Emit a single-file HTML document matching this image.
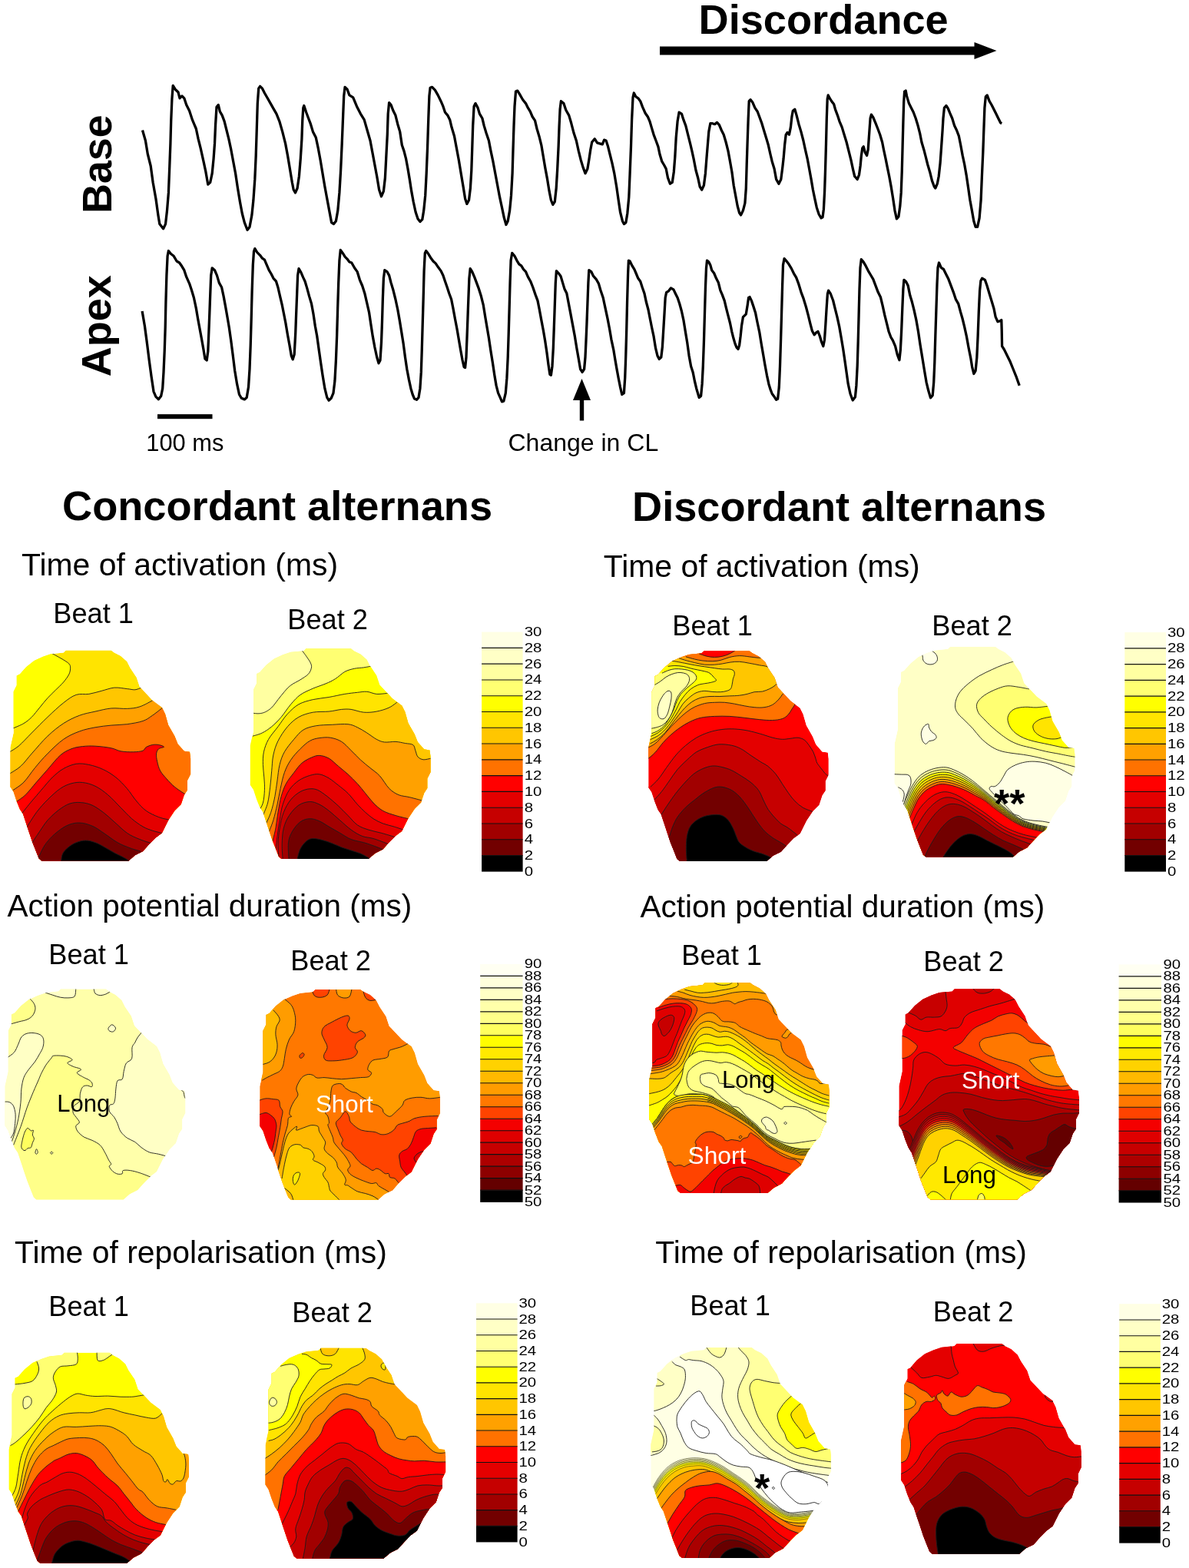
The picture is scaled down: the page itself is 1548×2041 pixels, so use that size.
<!DOCTYPE html>
<html lang="en"><head><meta charset="utf-8"><title>Concordant and discordant alternans</title>
<style>html,body{margin:0;padding:0;background:#fff}svg{display:block}text{font-family:"Liberation Sans",sans-serif;fill:#000}</style></head><body>
<svg width="1548" height="2041" viewBox="0 0 1548 2041">
<rect width="1548" height="2041" fill="#fff"/>
<clipPath id="clip0"><path d="M85.8 846.5L144.7 846.5L148.8 849.6L157.1 853.8L165.4 861.0L169.5 869.3L177.8 881.7L181.9 894.1L198.4 911.7L210.9 921.0L215.0 929.2L219.1 943.7L227.4 958.2L231.5 968.5L239.8 977.8L247.0 978.8L248.1 987.1L248.1 1007.8L243.9 1016.0L243.9 1028.4L239.8 1034.7L235.7 1047.1L227.4 1055.3L219.1 1067.7L210.9 1084.3L202.6 1090.5L194.3 1098.7L186.0 1108.0L175.7 1113.2L167.4 1120.4L54.2 1120.4L50.6 1117.3L46.5 1107.0L42.4 1096.7L38.2 1084.3L34.1 1071.9L30.0 1059.5L25.8 1053.3L21.7 1042.9L17.6 1030.5L13.4 1024.3L13.4 972.6L17.6 954.0L17.6 900.3L21.7 892.0L21.7 879.6L25.8 877.5L34.1 868.2L44.4 860.0L55.8 854.8L66.1 851.3L82.7 849.6Z"/></clipPath>
<g clip-path="url(#clip0)">
<path d="M85.8 846.5L144.7 846.5L148.8 849.6L157.1 853.8L165.4 861.0L169.5 869.3L177.8 881.7L181.9 894.1L198.4 911.7L210.9 921.0L215.0 929.2L219.1 943.7L227.4 958.2L231.5 968.5L239.8 977.8L247.0 978.8L248.1 987.1L248.1 1007.8L243.9 1016.0L243.9 1028.4L239.8 1034.7L235.7 1047.1L227.4 1055.3L219.1 1067.7L210.9 1084.3L202.6 1090.5L194.3 1098.7L186.0 1108.0L175.7 1113.2L167.4 1120.4L54.2 1120.4L50.6 1117.3L46.5 1107.0L42.4 1096.7L38.2 1084.3L34.1 1071.9L30.0 1059.5L25.8 1053.3L21.7 1042.9L17.6 1030.5L13.4 1024.3L13.4 972.6L17.6 954.0L17.6 900.3L21.7 892.0L21.7 879.6L25.8 877.5L34.1 868.2L44.4 860.0L55.8 854.8L66.1 851.3L82.7 849.6Z" fill="#ffe400"/>
<path d="M66.1 849.6C68.9 851.2 78.7 856.5 82.7 858.9C86.6 861.4 88.4 862.4 89.9 864.1C91.4 865.8 91.6 867.0 91.6 869.3C91.6 871.5 91.4 874.4 89.9 877.5C88.4 880.6 85.6 884.4 82.7 887.9C79.8 891.3 75.8 894.8 72.4 898.2C68.9 901.7 65.5 904.8 62.0 908.6C58.6 912.3 55.1 916.8 51.7 921.0C48.2 925.1 44.8 929.9 41.3 933.4C37.9 936.8 35.1 939.1 31.0 941.6C26.9 944.1 18.9 947.1 16.5 948.2L-4000.0 948.2L-4000.0 -4000.0L66.1 -4000.0Z" fill="#ffff00"/>
<path d="M66.1 849.6C68.9 851.2 78.7 856.5 82.7 858.9C86.6 861.4 88.4 862.4 89.9 864.1C91.4 865.8 91.6 867.0 91.6 869.3C91.6 871.5 91.4 874.4 89.9 877.5C88.4 880.6 85.6 884.4 82.7 887.9C79.8 891.3 75.8 894.8 72.4 898.2C68.9 901.7 65.5 904.8 62.0 908.6C58.6 912.3 55.1 916.8 51.7 921.0C48.2 925.1 44.8 929.9 41.3 933.4C37.9 936.8 35.1 939.1 31.0 941.6C26.9 944.1 18.9 947.1 16.5 948.2" fill="none" stroke="#1c1c1c" stroke-width="0.9"/>
<path d="M12.4 978.8C14.5 977.5 20.0 974.7 24.8 970.6C29.6 966.4 35.1 960.2 41.3 954.0C47.5 947.8 55.1 939.9 62.0 933.4C68.9 926.8 76.5 919.6 82.7 914.8C88.9 909.9 93.7 906.3 99.2 904.4C104.7 902.5 110.2 904.2 115.8 903.4C121.3 902.5 126.8 900.6 132.3 899.3C137.8 897.9 143.3 895.6 148.8 895.1C154.3 894.7 160.9 896.1 165.4 896.6C169.9 897.0 172.6 898.0 175.7 897.8C178.8 897.6 182.6 895.6 184.0 895.1L4000.0 895.1L4000.0 4000.0L-4000.0 4000.0L-4000.0 978.8Z" fill="#ffc600"/>
<path d="M12.4 978.8C14.5 977.5 20.0 974.7 24.8 970.6C29.6 966.4 35.1 960.2 41.3 954.0C47.5 947.8 55.1 939.9 62.0 933.4C68.9 926.8 76.5 919.6 82.7 914.8C88.9 909.9 93.7 906.3 99.2 904.4C104.7 902.5 110.2 904.2 115.8 903.4C121.3 902.5 126.8 900.6 132.3 899.3C137.8 897.9 143.3 895.6 148.8 895.1C154.3 894.7 160.9 896.1 165.4 896.6C169.9 897.0 172.6 898.0 175.7 897.8C178.8 897.6 182.6 895.6 184.0 895.1" fill="none" stroke="#1c1c1c" stroke-width="0.9"/>
<path d="M12.4 1007.2C14.8 1005.5 22.0 1001.8 26.9 997.4C31.7 993.1 35.5 987.5 41.3 980.9C47.2 974.4 55.1 964.7 62.0 958.2C68.9 951.6 75.8 946.1 82.7 941.6C89.6 937.1 96.5 933.9 103.4 931.3C110.2 928.7 117.1 927.7 124.0 926.1C130.9 924.6 137.8 922.6 144.7 922.0C151.6 921.4 159.2 922.7 165.4 922.4C171.6 922.1 176.2 921.8 181.9 919.9C187.6 918.1 196.6 912.7 199.5 911.2L4000.0 911.2L4000.0 4000.0L-4000.0 4000.0L-4000.0 1007.2Z" fill="#ffa100"/>
<path d="M12.4 1007.2C14.8 1005.5 22.0 1001.8 26.9 997.4C31.7 993.1 35.5 987.5 41.3 980.9C47.2 974.4 55.1 964.7 62.0 958.2C68.9 951.6 75.8 946.1 82.7 941.6C89.6 937.1 96.5 933.9 103.4 931.3C110.2 928.7 117.1 927.7 124.0 926.1C130.9 924.6 137.8 922.6 144.7 922.0C151.6 921.4 159.2 922.7 165.4 922.4C171.6 922.1 176.2 921.8 181.9 919.9C187.6 918.1 196.6 912.7 199.5 911.2" fill="none" stroke="#1c1c1c" stroke-width="0.9"/>
<path d="M16.5 1028.9C18.9 1027.1 26.2 1023.0 31.0 1018.1C35.8 1013.2 40.3 1005.7 45.5 999.5C50.6 993.3 55.8 987.1 62.0 980.9C68.2 974.7 75.8 967.1 82.7 962.3C89.6 957.5 96.5 954.5 103.4 952.0C110.2 949.4 117.1 948.1 124.0 946.8C130.9 945.5 137.8 944.8 144.7 944.1C151.6 943.4 158.5 943.6 165.4 942.7C172.3 941.7 180.5 940.4 186.0 938.5C191.6 936.6 194.1 934.2 198.4 931.3C202.8 928.4 209.6 922.7 211.9 921.0L4000.0 921.0L4000.0 4000.0L-4000.0 4000.0L-4000.0 1028.9Z" fill="#ff7200"/>
<path d="M16.5 1028.9C18.9 1027.1 26.2 1023.0 31.0 1018.1C35.8 1013.2 40.3 1005.7 45.5 999.5C50.6 993.3 55.8 987.1 62.0 980.9C68.2 974.7 75.8 967.1 82.7 962.3C89.6 957.5 96.5 954.5 103.4 952.0C110.2 949.4 117.1 948.1 124.0 946.8C130.9 945.5 137.8 944.8 144.7 944.1C151.6 943.4 158.5 943.6 165.4 942.7C172.3 941.7 180.5 940.4 186.0 938.5C191.6 936.6 194.1 934.2 198.4 931.3C202.8 928.4 209.6 922.7 211.9 921.0" fill="none" stroke="#1c1c1c" stroke-width="0.9"/>
<path d="M20.7 1044.0C22.7 1042.4 28.6 1039.0 33.1 1034.7C37.6 1030.3 42.7 1023.6 47.5 1018.1C52.4 1012.6 56.8 1007.4 62.0 1001.6C67.2 995.7 73.4 987.5 78.6 983.0C83.7 978.5 88.2 976.6 93.0 974.7C97.8 972.8 102.3 972.2 107.5 971.6C112.7 971.0 117.8 970.8 124.0 971.2C130.2 971.5 139.2 972.6 144.7 973.7C150.2 974.8 152.3 976.9 157.1 977.8C161.9 978.7 168.8 978.9 173.6 978.8C178.5 978.7 183.3 978.2 186.0 977.2C188.8 976.1 188.1 973.9 190.2 972.6C192.2 971.4 195.7 970.1 198.4 969.5C201.2 969.0 204.2 969.1 206.7 969.5C209.2 970.0 213.5 971.4 213.5 972.2C213.5 973.1 208.4 973.3 206.7 974.7C205.1 976.1 204.0 978.1 203.6 980.9C203.3 983.7 203.8 987.5 204.7 991.2C205.5 995.0 206.7 999.9 208.8 1003.6C210.9 1007.4 214.0 1010.5 217.1 1014.0C220.2 1017.4 223.4 1021.0 227.4 1024.3C231.4 1027.6 238.6 1032.1 240.8 1033.6L4000.0 1033.6L4000.0 4000.0L-4000.0 4000.0L-4000.0 1044.0Z" fill="#ff0000"/>
<path d="M20.7 1044.0C22.7 1042.4 28.6 1039.0 33.1 1034.7C37.6 1030.3 42.7 1023.6 47.5 1018.1C52.4 1012.6 56.8 1007.4 62.0 1001.6C67.2 995.7 73.4 987.5 78.6 983.0C83.7 978.5 88.2 976.6 93.0 974.7C97.8 972.8 102.3 972.2 107.5 971.6C112.7 971.0 117.8 970.8 124.0 971.2C130.2 971.5 139.2 972.6 144.7 973.7C150.2 974.8 152.3 976.9 157.1 977.8C161.9 978.7 168.8 978.9 173.6 978.8C178.5 978.7 183.3 978.2 186.0 977.2C188.8 976.1 188.1 973.9 190.2 972.6C192.2 971.4 195.7 970.1 198.4 969.5C201.2 969.0 204.2 969.1 206.7 969.5C209.2 970.0 213.5 971.4 213.5 972.2C213.5 973.1 208.4 973.3 206.7 974.7C205.1 976.1 204.0 978.1 203.6 980.9C203.3 983.7 203.8 987.5 204.7 991.2C205.5 995.0 206.7 999.9 208.8 1003.6C210.9 1007.4 214.0 1010.5 217.1 1014.0C220.2 1017.4 223.4 1021.0 227.4 1024.3C231.4 1027.6 238.6 1032.1 240.8 1033.6" fill="none" stroke="#1c1c1c" stroke-width="0.9"/>
<path d="M27.9 1059.5C30.1 1056.7 37.0 1048.1 41.3 1042.9C45.7 1037.8 49.3 1033.6 53.7 1028.4C58.2 1023.3 63.4 1016.6 68.2 1011.9C73.0 1007.3 77.5 1003.5 82.7 1000.5C87.9 997.6 93.7 995.2 99.2 994.3C104.7 993.5 109.9 994.2 115.8 995.4C121.6 996.6 128.5 998.8 134.4 1001.6C140.2 1004.3 145.7 1007.8 150.9 1011.9C156.1 1016.0 160.9 1021.2 165.4 1026.4C169.9 1031.6 173.6 1038.1 177.8 1042.9C181.9 1047.7 185.4 1051.9 190.2 1055.3C195.0 1058.8 201.6 1061.6 206.7 1063.6C211.9 1065.6 218.8 1066.7 221.2 1067.3L4000.0 1067.3L4000.0 4000.0L-4000.0 4000.0L-4000.0 1059.5Z" fill="#e40000"/>
<path d="M27.9 1059.5C30.1 1056.7 37.0 1048.1 41.3 1042.9C45.7 1037.8 49.3 1033.6 53.7 1028.4C58.2 1023.3 63.4 1016.6 68.2 1011.9C73.0 1007.3 77.5 1003.5 82.7 1000.5C87.9 997.6 93.7 995.2 99.2 994.3C104.7 993.5 109.9 994.2 115.8 995.4C121.6 996.6 128.5 998.8 134.4 1001.6C140.2 1004.3 145.7 1007.8 150.9 1011.9C156.1 1016.0 160.9 1021.2 165.4 1026.4C169.9 1031.6 173.6 1038.1 177.8 1042.9C181.9 1047.7 185.4 1051.9 190.2 1055.3C195.0 1058.8 201.6 1061.6 206.7 1063.6C211.9 1065.6 218.8 1066.7 221.2 1067.3" fill="none" stroke="#1c1c1c" stroke-width="0.9"/>
<path d="M34.1 1078.1C36.3 1074.6 42.9 1063.6 47.5 1057.4C52.2 1051.2 56.8 1046.0 62.0 1040.9C67.2 1035.7 73.4 1029.9 78.6 1026.4C83.7 1022.9 88.2 1021.1 93.0 1019.8C97.8 1018.5 102.3 1017.9 107.5 1018.5C112.7 1019.1 118.5 1020.6 124.0 1023.3C129.5 1026.0 135.1 1030.0 140.6 1034.7C146.1 1039.3 151.9 1046.0 157.1 1051.2C162.3 1056.4 166.8 1061.5 171.6 1065.7C176.4 1069.8 181.6 1073.4 186.0 1076.0C190.5 1078.6 194.1 1079.7 198.4 1081.2C202.8 1082.6 209.6 1084.1 211.9 1084.7L4000.0 1084.7L4000.0 4000.0L-4000.0 4000.0L-4000.0 1078.1Z" fill="#c60000"/>
<path d="M34.1 1078.1C36.3 1074.6 42.9 1063.6 47.5 1057.4C52.2 1051.2 56.8 1046.0 62.0 1040.9C67.2 1035.7 73.4 1029.9 78.6 1026.4C83.7 1022.9 88.2 1021.1 93.0 1019.8C97.8 1018.5 102.3 1017.9 107.5 1018.5C112.7 1019.1 118.5 1020.6 124.0 1023.3C129.5 1026.0 135.1 1030.0 140.6 1034.7C146.1 1039.3 151.9 1046.0 157.1 1051.2C162.3 1056.4 166.8 1061.5 171.6 1065.7C176.4 1069.8 181.6 1073.4 186.0 1076.0C190.5 1078.6 194.1 1079.7 198.4 1081.2C202.8 1082.6 209.6 1084.1 211.9 1084.7" fill="none" stroke="#1c1c1c" stroke-width="0.9"/>
<path d="M41.3 1097.7C43.1 1095.1 48.2 1087.2 51.7 1082.2C55.1 1077.2 57.9 1072.4 62.0 1067.7C66.1 1063.1 71.7 1057.9 76.5 1054.3C81.3 1050.7 86.1 1047.6 91.0 1046.0C95.8 1044.4 100.6 1044.2 105.4 1044.6C110.2 1044.9 115.1 1046.0 119.9 1048.1C124.7 1050.2 129.5 1053.8 134.4 1057.4C139.2 1061.0 143.7 1065.3 148.8 1069.8C154.0 1074.3 159.9 1080.5 165.4 1084.3C170.9 1088.1 176.6 1090.3 181.9 1092.5C187.3 1094.8 194.8 1096.8 197.4 1097.7L4000.0 1097.7L4000.0 4000.0L-4000.0 4000.0L-4000.0 1097.7Z" fill="#a10000"/>
<path d="M41.3 1097.7C43.1 1095.1 48.2 1087.2 51.7 1082.2C55.1 1077.2 57.9 1072.4 62.0 1067.7C66.1 1063.1 71.7 1057.9 76.5 1054.3C81.3 1050.7 86.1 1047.6 91.0 1046.0C95.8 1044.4 100.6 1044.2 105.4 1044.6C110.2 1044.9 115.1 1046.0 119.9 1048.1C124.7 1050.2 129.5 1053.8 134.4 1057.4C139.2 1061.0 143.7 1065.3 148.8 1069.8C154.0 1074.3 159.9 1080.5 165.4 1084.3C170.9 1088.1 176.6 1090.3 181.9 1092.5C187.3 1094.8 194.8 1096.8 197.4 1097.7" fill="none" stroke="#1c1c1c" stroke-width="0.9"/>
<path d="M49.6 1117.3C51.0 1114.6 54.8 1105.6 57.9 1100.8C61.0 1096.0 64.1 1092.4 68.2 1088.4C72.4 1084.4 78.2 1079.8 82.7 1077.0C87.2 1074.3 91.0 1072.8 95.1 1071.9C99.2 1070.9 103.0 1070.8 107.5 1071.4C112.0 1072.1 117.1 1073.7 122.0 1076.0C126.8 1078.3 131.3 1081.9 136.4 1085.3C141.6 1088.7 147.5 1093.6 153.0 1096.7C158.5 1099.8 164.5 1102.0 169.5 1103.9C174.5 1105.8 180.7 1107.3 182.9 1108.0L4000.0 1108.0L4000.0 4000.0L-4000.0 4000.0L-4000.0 1117.3Z" fill="#720000"/>
<path d="M49.6 1117.3C51.0 1114.6 54.8 1105.6 57.9 1100.8C61.0 1096.0 64.1 1092.4 68.2 1088.4C72.4 1084.4 78.2 1079.8 82.7 1077.0C87.2 1074.3 91.0 1072.8 95.1 1071.9C99.2 1070.9 103.0 1070.8 107.5 1071.4C112.0 1072.1 117.1 1073.7 122.0 1076.0C126.8 1078.3 131.3 1081.9 136.4 1085.3C141.6 1088.7 147.5 1093.6 153.0 1096.7C158.5 1099.8 164.5 1102.0 169.5 1103.9C174.5 1105.8 180.7 1107.3 182.9 1108.0" fill="none" stroke="#1c1c1c" stroke-width="0.9"/>
<path d="M79.6 1121.5C79.9 1119.8 80.1 1114.2 81.7 1111.1C83.2 1108.0 86.0 1105.3 88.9 1102.9C91.8 1100.5 95.4 1098.1 99.2 1096.7C103.0 1095.2 107.5 1094.0 111.6 1094.0C115.8 1094.0 119.9 1095.2 124.0 1096.7C128.2 1098.1 132.3 1100.6 136.4 1102.9C140.6 1105.1 144.7 1107.9 148.8 1110.1C153.0 1112.3 158.1 1114.6 161.2 1116.3C164.4 1118.0 166.8 1119.8 167.9 1120.4L4000.0 1120.4L4000.0 4000.0L-4000.0 4000.0L-4000.0 1121.5Z" fill="#000000"/>
<path d="M79.6 1121.5C79.9 1119.8 80.1 1114.2 81.7 1111.1C83.2 1108.0 86.0 1105.3 88.9 1102.9C91.8 1100.5 95.4 1098.1 99.2 1096.7C103.0 1095.2 107.5 1094.0 111.6 1094.0C115.8 1094.0 119.9 1095.2 124.0 1096.7C128.2 1098.1 132.3 1100.6 136.4 1102.9C140.6 1105.1 144.7 1107.9 148.8 1110.1C153.0 1112.3 158.1 1114.6 161.2 1116.3C164.4 1118.0 166.8 1119.8 167.9 1120.4" fill="none" stroke="#1c1c1c" stroke-width="0.9"/>
</g>
<clipPath id="clip1"><path d="M398.2 844.1L457.1 844.1L461.2 847.2L469.5 851.3L477.8 858.5L481.9 866.8L490.2 879.2L494.3 891.6L510.9 909.2L523.3 918.5L527.4 926.7L531.5 941.2L539.8 955.7L543.9 966.0L552.2 975.3L559.4 976.4L560.5 984.6L560.5 1005.3L556.3 1013.6L556.3 1026.0L552.2 1032.2L548.1 1044.6L539.8 1052.8L531.5 1065.2L523.3 1081.8L515.0 1088.0L506.7 1096.3L498.4 1105.6L488.1 1110.7L479.8 1118.0L366.6 1118.0L363.0 1114.9L358.9 1104.5L354.8 1094.2L350.6 1081.8L346.5 1069.4L342.4 1057.0L338.2 1050.8L334.1 1040.4L330.0 1028.0L325.8 1021.8L325.8 970.2L330.0 951.6L330.0 897.8L334.1 889.5L334.1 877.1L338.2 875.1L346.5 865.8L356.8 857.5L368.2 852.3L378.6 848.8L395.1 847.2Z"/></clipPath>
<g clip-path="url(#clip1)">
<path d="M398.2 844.1L457.1 844.1L461.2 847.2L469.5 851.3L477.8 858.5L481.9 866.8L490.2 879.2L494.3 891.6L510.9 909.2L523.3 918.5L527.4 926.7L531.5 941.2L539.8 955.7L543.9 966.0L552.2 975.3L559.4 976.4L560.5 984.6L560.5 1005.3L556.3 1013.6L556.3 1026.0L552.2 1032.2L548.1 1044.6L539.8 1052.8L531.5 1065.2L523.3 1081.8L515.0 1088.0L506.7 1096.3L498.4 1105.6L488.1 1110.7L479.8 1118.0L366.6 1118.0L363.0 1114.9L358.9 1104.5L354.8 1094.2L350.6 1081.8L346.5 1069.4L342.4 1057.0L338.2 1050.8L334.1 1040.4L330.0 1028.0L325.8 1021.8L325.8 970.2L330.0 951.6L330.0 897.8L334.1 889.5L334.1 877.1L338.2 875.1L346.5 865.8L356.8 857.5L368.2 852.3L378.6 848.8L395.1 847.2Z" fill="#ffff72"/>
<path d="M393.0 846.5C394.1 847.9 397.3 852.0 399.2 854.8C401.1 857.6 403.4 860.7 404.4 863.1C405.4 865.5 405.9 866.9 405.4 869.3C404.9 871.7 403.7 875.0 401.3 877.5C398.9 880.1 394.7 882.4 391.0 884.8C387.2 887.2 382.0 889.4 378.6 892.0C375.1 894.6 373.0 897.2 370.3 900.3C367.5 903.4 364.8 907.2 362.0 910.6C359.3 914.1 356.5 918.3 353.7 921.0C351.0 923.6 348.2 925.4 345.5 926.7C342.7 928.1 340.0 928.6 337.2 928.8C334.5 929.1 330.3 928.3 328.9 928.2L-4000.0 928.2L-4000.0 -4000.0L393.0 -4000.0Z" fill="#ffffa1"/>
<path d="M393.0 846.5C394.1 847.9 397.3 852.0 399.2 854.8C401.1 857.6 403.4 860.7 404.4 863.1C405.4 865.5 405.9 866.9 405.4 869.3C404.9 871.7 403.7 875.0 401.3 877.5C398.9 880.1 394.7 882.4 391.0 884.8C387.2 887.2 382.0 889.4 378.6 892.0C375.1 894.6 373.0 897.2 370.3 900.3C367.5 903.4 364.8 907.2 362.0 910.6C359.3 914.1 356.5 918.3 353.7 921.0C351.0 923.6 348.2 925.4 345.5 926.7C342.7 928.1 340.0 928.6 337.2 928.8C334.5 929.1 330.3 928.3 328.9 928.2" fill="none" stroke="#1c1c1c" stroke-width="0.9"/>
<path d="M328.9 958.2C331.0 957.5 337.2 956.1 341.3 954.0C345.5 952.0 349.6 949.2 353.7 945.8C357.9 942.3 362.0 938.2 366.1 933.4C370.3 928.5 374.4 921.6 378.6 916.8C382.7 912.0 386.1 907.9 391.0 904.4C395.8 901.0 402.0 898.6 407.5 896.1C413.0 893.7 419.2 892.0 424.0 889.9C428.9 887.9 432.3 886.3 436.4 883.7C440.6 881.2 444.7 876.7 448.8 874.4C453.0 872.2 457.1 871.2 461.2 870.3C465.4 869.4 470.0 869.4 473.6 868.9C477.3 868.3 481.4 867.5 482.9 867.2L4000.0 867.2L4000.0 4000.0L-4000.0 4000.0L-4000.0 958.2Z" fill="#ffff00"/>
<path d="M328.9 958.2C331.0 957.5 337.2 956.1 341.3 954.0C345.5 952.0 349.6 949.2 353.7 945.8C357.9 942.3 362.0 938.2 366.1 933.4C370.3 928.5 374.4 921.6 378.6 916.8C382.7 912.0 386.1 907.9 391.0 904.4C395.8 901.0 402.0 898.6 407.5 896.1C413.0 893.7 419.2 892.0 424.0 889.9C428.9 887.9 432.3 886.3 436.4 883.7C440.6 881.2 444.7 876.7 448.8 874.4C453.0 872.2 457.1 871.2 461.2 870.3C465.4 869.4 470.0 869.4 473.6 868.9C477.3 868.3 481.4 867.5 482.9 867.2" fill="none" stroke="#1c1c1c" stroke-width="0.9"/>
<path d="M337.2 1055.3C338.1 1053.6 341.2 1049.5 342.4 1045.0C343.6 1040.5 344.2 1034.0 344.4 1028.4C344.7 1022.9 344.2 1017.4 343.8 1011.9C343.5 1006.4 342.4 1000.9 342.4 995.4C342.3 989.9 342.2 984.3 343.4 978.8C344.6 973.3 346.5 967.8 349.6 962.3C352.7 956.8 357.9 951.3 362.0 945.8C366.1 940.2 369.9 934.0 374.4 929.2C378.9 924.4 383.4 919.9 388.9 916.8C394.4 913.7 400.9 912.2 407.5 910.6C414.0 909.1 421.3 908.7 428.2 907.5C435.1 906.3 442.6 904.4 448.8 903.4C455.0 902.4 460.6 901.8 465.4 901.3C470.2 900.8 473.6 899.9 477.8 900.3C481.9 900.6 485.7 903.0 490.2 903.4C494.7 903.7 502.2 902.5 504.7 902.4L4000.0 902.4L4000.0 4000.0L-4000.0 4000.0L-4000.0 1055.3Z" fill="#ffe400"/>
<path d="M337.2 1055.3C338.1 1053.6 341.2 1049.5 342.4 1045.0C343.6 1040.5 344.2 1034.0 344.4 1028.4C344.7 1022.9 344.2 1017.4 343.8 1011.9C343.5 1006.4 342.4 1000.9 342.4 995.4C342.3 989.9 342.2 984.3 343.4 978.8C344.6 973.3 346.5 967.8 349.6 962.3C352.7 956.8 357.9 951.3 362.0 945.8C366.1 940.2 369.9 934.0 374.4 929.2C378.9 924.4 383.4 919.9 388.9 916.8C394.4 913.7 400.9 912.2 407.5 910.6C414.0 909.1 421.3 908.7 428.2 907.5C435.1 906.3 442.6 904.4 448.8 903.4C455.0 902.4 460.6 901.8 465.4 901.3C470.2 900.8 473.6 899.9 477.8 900.3C481.9 900.6 485.7 903.0 490.2 903.4C494.7 903.7 502.2 902.5 504.7 902.4" fill="none" stroke="#1c1c1c" stroke-width="0.9"/>
<path d="M342.4 1061.5C343.4 1058.8 347.0 1051.2 348.6 1045.0C350.1 1038.8 350.8 1031.2 351.7 1024.3C352.5 1017.4 353.1 1010.5 353.7 1003.6C354.4 996.8 354.4 989.5 355.8 983.0C357.2 976.4 358.9 970.6 362.0 964.4C365.1 958.2 369.9 950.9 374.4 945.8C378.9 940.6 383.4 936.5 388.9 933.4C394.4 930.3 400.9 928.4 407.5 927.2C414.0 926.0 422.0 926.7 428.2 926.1C434.4 925.5 439.9 923.9 444.7 923.4C449.5 923.0 452.3 922.8 457.1 923.4C461.9 924.1 468.1 926.7 473.6 927.2C479.2 927.6 484.7 927.2 490.2 926.1C495.7 925.1 502.0 923.2 506.7 921.0C511.5 918.7 516.7 914.1 518.7 912.7L4000.0 912.7L4000.0 4000.0L-4000.0 4000.0L-4000.0 1061.5Z" fill="#ffc600"/>
<path d="M342.4 1061.5C343.4 1058.8 347.0 1051.2 348.6 1045.0C350.1 1038.8 350.8 1031.2 351.7 1024.3C352.5 1017.4 353.1 1010.5 353.7 1003.6C354.4 996.8 354.4 989.5 355.8 983.0C357.2 976.4 358.9 970.6 362.0 964.4C365.1 958.2 369.9 950.9 374.4 945.8C378.9 940.6 383.4 936.5 388.9 933.4C394.4 930.3 400.9 928.4 407.5 927.2C414.0 926.0 422.0 926.7 428.2 926.1C434.4 925.5 439.9 923.9 444.7 923.4C449.5 923.0 452.3 922.8 457.1 923.4C461.9 924.1 468.1 926.7 473.6 927.2C479.2 927.6 484.7 927.2 490.2 926.1C495.7 925.1 502.0 923.2 506.7 921.0C511.5 918.7 516.7 914.1 518.7 912.7" fill="none" stroke="#1c1c1c" stroke-width="0.9"/>
<path d="M345.5 1073.9C346.7 1071.2 350.6 1063.6 352.7 1057.4C354.8 1051.2 356.5 1043.6 357.9 1036.7C359.3 1029.8 359.9 1022.9 361.0 1016.0C362.0 1009.2 362.5 1001.6 364.1 995.4C365.6 989.2 367.2 984.3 370.3 978.8C373.4 973.3 378.6 967.1 382.7 962.3C386.8 957.5 390.3 952.8 395.1 949.9C399.9 947.0 405.4 945.8 411.6 944.7C417.8 943.6 425.4 943.6 432.3 943.3C439.2 942.9 447.5 942.1 453.0 942.7C458.5 943.2 461.2 944.9 465.4 946.8C469.5 948.7 473.6 951.4 477.8 954.0C481.9 956.6 486.4 960.3 490.2 962.3C494.0 964.3 496.4 965.5 500.5 966.0C504.7 966.5 510.5 965.2 515.0 965.4C519.5 965.6 523.6 966.8 527.4 967.5C531.2 968.2 535.5 968.0 537.7 969.5C540.0 971.1 539.8 974.2 540.8 976.8C541.9 979.4 542.2 983.0 543.9 985.0C545.7 987.0 548.3 988.4 551.2 988.8C554.0 989.1 559.4 987.4 561.1 987.1L4000.0 987.1L4000.0 4000.0L-4000.0 4000.0L-4000.0 1073.9Z" fill="#ffa100"/>
<path d="M345.5 1073.9C346.7 1071.2 350.6 1063.6 352.7 1057.4C354.8 1051.2 356.5 1043.6 357.9 1036.7C359.3 1029.8 359.9 1022.9 361.0 1016.0C362.0 1009.2 362.5 1001.6 364.1 995.4C365.6 989.2 367.2 984.3 370.3 978.8C373.4 973.3 378.6 967.1 382.7 962.3C386.8 957.5 390.3 952.8 395.1 949.9C399.9 947.0 405.4 945.8 411.6 944.7C417.8 943.6 425.4 943.6 432.3 943.3C439.2 942.9 447.5 942.1 453.0 942.7C458.5 943.2 461.2 944.9 465.4 946.8C469.5 948.7 473.6 951.4 477.8 954.0C481.9 956.6 486.4 960.3 490.2 962.3C494.0 964.3 496.4 965.5 500.5 966.0C504.7 966.5 510.5 965.2 515.0 965.4C519.5 965.6 523.6 966.8 527.4 967.5C531.2 968.2 535.5 968.0 537.7 969.5C540.0 971.1 539.8 974.2 540.8 976.8C541.9 979.4 542.2 983.0 543.9 985.0C545.7 987.0 548.3 988.4 551.2 988.8C554.0 989.1 559.4 987.4 561.1 987.1" fill="none" stroke="#1c1c1c" stroke-width="0.9"/>
<path d="M349.6 1084.3C350.6 1081.5 353.9 1073.9 355.8 1067.7C357.7 1061.5 359.4 1053.9 361.0 1047.1C362.5 1040.2 363.6 1033.3 365.1 1026.4C366.7 1019.5 368.0 1011.9 370.3 1005.7C372.5 999.5 375.1 994.3 378.6 989.2C382.0 984.0 386.8 978.8 391.0 974.7C395.1 970.6 399.2 966.7 403.4 964.4C407.5 962.0 411.3 961.3 415.8 960.6C420.2 960.0 425.4 959.4 430.2 960.2C435.1 961.0 440.2 962.6 444.7 965.4C449.2 968.2 453.0 972.8 457.1 976.8C461.2 980.7 465.4 985.4 469.5 989.2C473.6 993.0 477.8 996.1 481.9 999.5C486.0 1003.0 490.2 1005.4 494.3 1009.8C498.4 1014.3 502.6 1022.2 506.7 1026.4C510.9 1030.5 514.6 1032.8 519.1 1034.7C523.6 1036.5 528.6 1036.5 533.6 1037.8C538.6 1039.0 546.5 1041.2 549.1 1041.9L4000.0 1041.9L4000.0 4000.0L-4000.0 4000.0L-4000.0 1084.3Z" fill="#ff7200"/>
<path d="M349.6 1084.3C350.6 1081.5 353.9 1073.9 355.8 1067.7C357.7 1061.5 359.4 1053.9 361.0 1047.1C362.5 1040.2 363.6 1033.3 365.1 1026.4C366.7 1019.5 368.0 1011.9 370.3 1005.7C372.5 999.5 375.1 994.3 378.6 989.2C382.0 984.0 386.8 978.8 391.0 974.7C395.1 970.6 399.2 966.7 403.4 964.4C407.5 962.0 411.3 961.3 415.8 960.6C420.2 960.0 425.4 959.4 430.2 960.2C435.1 961.0 440.2 962.6 444.7 965.4C449.2 968.2 453.0 972.8 457.1 976.8C461.2 980.7 465.4 985.4 469.5 989.2C473.6 993.0 477.8 996.1 481.9 999.5C486.0 1003.0 490.2 1005.4 494.3 1009.8C498.4 1014.3 502.6 1022.2 506.7 1026.4C510.9 1030.5 514.6 1032.8 519.1 1034.7C523.6 1036.5 528.6 1036.5 533.6 1037.8C538.6 1039.0 546.5 1041.2 549.1 1041.9" fill="none" stroke="#1c1c1c" stroke-width="0.9"/>
<path d="M354.8 1095.6C355.5 1092.7 357.7 1084.4 358.9 1078.1C360.1 1071.7 360.8 1064.3 362.0 1057.4C363.2 1050.5 364.4 1042.9 366.1 1036.7C367.9 1030.5 369.6 1025.3 372.4 1020.2C375.1 1015.0 379.2 1010.2 382.7 1005.7C386.1 1001.2 389.2 996.6 393.0 993.3C396.8 990.0 401.6 987.7 405.4 986.1C409.2 984.4 412.0 983.2 415.8 983.4C419.6 983.6 424.0 984.8 428.2 987.1C432.3 989.4 436.4 994.0 440.6 997.4C444.7 1000.9 448.8 1004.0 453.0 1007.8C457.1 1011.6 461.6 1016.0 465.4 1020.2C469.2 1024.3 472.3 1028.4 475.7 1032.6C479.2 1036.7 482.3 1041.2 486.0 1045.0C489.8 1048.8 493.6 1052.6 498.4 1055.3C503.3 1058.1 509.5 1059.8 515.0 1061.5C520.5 1063.2 528.8 1065.0 531.5 1065.7L4000.0 1065.7L4000.0 4000.0L-4000.0 4000.0L-4000.0 1095.6Z" fill="#ff0000"/>
<path d="M354.8 1095.6C355.5 1092.7 357.7 1084.4 358.9 1078.1C360.1 1071.7 360.8 1064.3 362.0 1057.4C363.2 1050.5 364.4 1042.9 366.1 1036.7C367.9 1030.5 369.6 1025.3 372.4 1020.2C375.1 1015.0 379.2 1010.2 382.7 1005.7C386.1 1001.2 389.2 996.6 393.0 993.3C396.8 990.0 401.6 987.7 405.4 986.1C409.2 984.4 412.0 983.2 415.8 983.4C419.6 983.6 424.0 984.8 428.2 987.1C432.3 989.4 436.4 994.0 440.6 997.4C444.7 1000.9 448.8 1004.0 453.0 1007.8C457.1 1011.6 461.6 1016.0 465.4 1020.2C469.2 1024.3 472.3 1028.4 475.7 1032.6C479.2 1036.7 482.3 1041.2 486.0 1045.0C489.8 1048.8 493.6 1052.6 498.4 1055.3C503.3 1058.1 509.5 1059.8 515.0 1061.5C520.5 1063.2 528.8 1065.0 531.5 1065.7" fill="none" stroke="#1c1c1c" stroke-width="0.9"/>
<path d="M358.9 1107.0C359.3 1103.9 360.1 1094.9 361.0 1088.4C361.8 1081.9 362.9 1074.6 364.1 1067.7C365.3 1060.8 366.1 1053.6 368.2 1047.1C370.3 1040.5 373.0 1033.6 376.5 1028.4C379.9 1023.3 384.4 1019.2 388.9 1016.0C393.4 1012.9 398.9 1010.8 403.4 1009.4C407.8 1008.1 411.6 1007.2 415.8 1007.8C419.9 1008.4 424.0 1010.5 428.2 1012.9C432.3 1015.4 436.4 1019.0 440.6 1022.2C444.7 1025.5 448.8 1028.4 453.0 1032.6C457.1 1036.7 461.6 1042.9 465.4 1047.1C469.2 1051.2 472.3 1054.3 475.7 1057.4C479.2 1060.5 482.3 1063.2 486.0 1065.7C489.8 1068.1 494.0 1070.1 498.4 1071.9C502.9 1073.6 508.4 1074.6 512.9 1076.0C517.4 1077.4 523.3 1079.4 525.3 1080.1L4000.0 1080.1L4000.0 4000.0L-4000.0 4000.0L-4000.0 1107.0Z" fill="#e40000"/>
<path d="M358.9 1107.0C359.3 1103.9 360.1 1094.9 361.0 1088.4C361.8 1081.9 362.9 1074.6 364.1 1067.7C365.3 1060.8 366.1 1053.6 368.2 1047.1C370.3 1040.5 373.0 1033.6 376.5 1028.4C379.9 1023.3 384.4 1019.2 388.9 1016.0C393.4 1012.9 398.9 1010.8 403.4 1009.4C407.8 1008.1 411.6 1007.2 415.8 1007.8C419.9 1008.4 424.0 1010.5 428.2 1012.9C432.3 1015.4 436.4 1019.0 440.6 1022.2C444.7 1025.5 448.8 1028.4 453.0 1032.6C457.1 1036.7 461.6 1042.9 465.4 1047.1C469.2 1051.2 472.3 1054.3 475.7 1057.4C479.2 1060.5 482.3 1063.2 486.0 1065.7C489.8 1068.1 494.0 1070.1 498.4 1071.9C502.9 1073.6 508.4 1074.6 512.9 1076.0C517.4 1077.4 523.3 1079.4 525.3 1080.1" fill="none" stroke="#1c1c1c" stroke-width="0.9"/>
<path d="M363.0 1117.3C362.9 1114.2 361.8 1105.3 362.0 1098.7C362.2 1092.2 362.9 1085.0 364.1 1078.1C365.3 1071.2 366.8 1063.6 369.3 1057.4C371.7 1051.2 374.9 1045.3 378.6 1040.9C382.2 1036.4 386.8 1032.9 391.0 1030.5C395.1 1028.2 399.6 1027.1 403.4 1026.8C407.1 1026.5 409.9 1026.8 413.7 1028.4C417.5 1030.1 421.6 1033.3 426.1 1036.7C430.6 1040.2 436.1 1045.0 440.6 1049.1C445.0 1053.3 448.8 1057.4 453.0 1061.5C457.1 1065.7 460.9 1070.8 465.4 1073.9C469.9 1077.0 474.7 1078.4 479.8 1080.1C485.0 1081.9 490.7 1082.7 496.4 1084.3C502.1 1085.8 511.0 1088.6 514.0 1089.4L4000.0 1089.4L4000.0 4000.0L-4000.0 4000.0L-4000.0 1117.3Z" fill="#c60000"/>
<path d="M363.0 1117.3C362.9 1114.2 361.8 1105.3 362.0 1098.7C362.2 1092.2 362.9 1085.0 364.1 1078.1C365.3 1071.2 366.8 1063.6 369.3 1057.4C371.7 1051.2 374.9 1045.3 378.6 1040.9C382.2 1036.4 386.8 1032.9 391.0 1030.5C395.1 1028.2 399.6 1027.1 403.4 1026.8C407.1 1026.5 409.9 1026.8 413.7 1028.4C417.5 1030.1 421.6 1033.3 426.1 1036.7C430.6 1040.2 436.1 1045.0 440.6 1049.1C445.0 1053.3 448.8 1057.4 453.0 1061.5C457.1 1065.7 460.9 1070.8 465.4 1073.9C469.9 1077.0 474.7 1078.4 479.8 1080.1C485.0 1081.9 490.7 1082.7 496.4 1084.3C502.1 1085.8 511.0 1088.6 514.0 1089.4" fill="none" stroke="#1c1c1c" stroke-width="0.9"/>
<path d="M368.2 1119.0C368.0 1115.6 367.0 1105.6 367.2 1098.7C367.4 1091.9 367.7 1084.3 369.3 1078.1C370.8 1071.9 373.2 1066.5 376.5 1061.5C379.8 1056.5 384.4 1051.1 388.9 1048.1C393.4 1045.1 398.9 1043.7 403.4 1043.5C407.8 1043.4 411.6 1045.1 415.8 1047.1C419.9 1049.0 423.7 1051.9 428.2 1055.3C432.6 1058.8 437.8 1063.6 442.6 1067.7C447.5 1071.9 452.3 1076.7 457.1 1080.1C461.9 1083.6 466.8 1086.5 471.6 1088.4C476.4 1090.3 480.4 1089.8 486.0 1091.5C491.7 1093.2 502.4 1097.5 505.7 1098.7L4000.0 1098.7L4000.0 4000.0L-4000.0 4000.0L-4000.0 1119.0Z" fill="#a10000"/>
<path d="M368.2 1119.0C368.0 1115.6 367.0 1105.6 367.2 1098.7C367.4 1091.9 367.7 1084.3 369.3 1078.1C370.8 1071.9 373.2 1066.5 376.5 1061.5C379.8 1056.5 384.4 1051.1 388.9 1048.1C393.4 1045.1 398.9 1043.7 403.4 1043.5C407.8 1043.4 411.6 1045.1 415.8 1047.1C419.9 1049.0 423.7 1051.9 428.2 1055.3C432.6 1058.8 437.8 1063.6 442.6 1067.7C447.5 1071.9 452.3 1076.7 457.1 1080.1C461.9 1083.6 466.8 1086.5 471.6 1088.4C476.4 1090.3 480.4 1089.8 486.0 1091.5C491.7 1093.2 502.4 1097.5 505.7 1098.7" fill="none" stroke="#1c1c1c" stroke-width="0.9"/>
<path d="M376.1 1119.0C376.0 1115.3 374.7 1102.8 375.5 1096.7C376.2 1090.5 378.0 1086.7 380.6 1082.2C383.2 1077.7 387.2 1072.5 391.0 1069.8C394.7 1067.0 399.2 1065.8 403.4 1065.7C407.5 1065.5 411.6 1067.0 415.8 1068.8C419.9 1070.5 423.7 1073.4 428.2 1076.0C432.6 1078.6 437.8 1081.5 442.6 1084.3C447.5 1087.0 451.9 1090.5 457.1 1092.5C462.3 1094.6 468.8 1095.3 473.6 1096.7C478.5 1098.0 481.7 1099.3 486.0 1100.8C490.4 1102.4 497.2 1105.1 499.5 1106.0L4000.0 1106.0L4000.0 4000.0L-4000.0 4000.0L-4000.0 1119.0Z" fill="#720000"/>
<path d="M376.1 1119.0C376.0 1115.3 374.7 1102.8 375.5 1096.7C376.2 1090.5 378.0 1086.7 380.6 1082.2C383.2 1077.7 387.2 1072.5 391.0 1069.8C394.7 1067.0 399.2 1065.8 403.4 1065.7C407.5 1065.5 411.6 1067.0 415.8 1068.8C419.9 1070.5 423.7 1073.4 428.2 1076.0C432.6 1078.6 437.8 1081.5 442.6 1084.3C447.5 1087.0 451.9 1090.5 457.1 1092.5C462.3 1094.6 468.8 1095.3 473.6 1096.7C478.5 1098.0 481.7 1099.3 486.0 1100.8C490.4 1102.4 497.2 1105.1 499.5 1106.0" fill="none" stroke="#1c1c1c" stroke-width="0.9"/>
<path d="M386.8 1119.0C387.5 1116.6 388.9 1109.0 391.0 1104.9C393.0 1100.9 396.5 1096.8 399.2 1094.6C402.0 1092.4 404.0 1091.7 407.5 1091.5C410.9 1091.3 415.8 1092.5 419.9 1093.6C424.0 1094.6 428.2 1096.1 432.3 1097.7C436.4 1099.3 440.6 1101.3 444.7 1102.9C448.8 1104.4 453.0 1105.6 457.1 1107.0C461.2 1108.4 465.7 1109.5 469.5 1111.1C473.4 1112.8 478.5 1116.0 480.3 1116.9L4000.0 1116.9L4000.0 4000.0L-4000.0 4000.0L-4000.0 1119.0Z" fill="#000000"/>
<path d="M386.8 1119.0C387.5 1116.6 388.9 1109.0 391.0 1104.9C393.0 1100.9 396.5 1096.8 399.2 1094.6C402.0 1092.4 404.0 1091.7 407.5 1091.5C410.9 1091.3 415.8 1092.5 419.9 1093.6C424.0 1094.6 428.2 1096.1 432.3 1097.7C436.4 1099.3 440.6 1101.3 444.7 1102.9C448.8 1104.4 453.0 1105.6 457.1 1107.0C461.2 1108.4 465.7 1109.5 469.5 1111.1C473.4 1112.8 478.5 1116.0 480.3 1116.9" fill="none" stroke="#1c1c1c" stroke-width="0.9"/>
</g>
<clipPath id="clip2"><path d="M79.0 1287.5L137.9 1287.5L142.0 1290.6L150.3 1294.7L158.6 1302.0L162.7 1310.2L171.0 1322.6L175.1 1335.0L191.6 1352.6L204.0 1361.9L208.2 1370.2L212.3 1384.7L220.6 1399.1L224.7 1409.5L233.0 1418.8L240.2 1419.8L241.2 1428.1L241.2 1448.7L237.1 1457.0L237.1 1469.4L233.0 1475.6L228.8 1488.0L220.6 1496.3L212.3 1508.7L204.0 1525.2L195.8 1531.4L187.5 1539.7L179.2 1549.0L168.9 1554.2L160.6 1561.4L47.3 1561.4L43.8 1558.3L39.7 1548.0L35.6 1537.6L31.4 1525.2L27.3 1512.8L23.2 1500.4L19.0 1494.2L14.9 1483.9L10.7 1471.5L6.6 1465.3L6.6 1413.6L10.7 1395.0L10.7 1341.2L14.9 1333.0L14.9 1320.6L19.0 1318.5L27.3 1309.2L37.6 1300.9L49.0 1295.8L59.3 1292.2L75.9 1290.6Z"/></clipPath>
<g clip-path="url(#clip2)">
<path d="M79.0 1287.5L137.9 1287.5L142.0 1290.6L150.3 1294.7L158.6 1302.0L162.7 1310.2L171.0 1322.6L175.1 1335.0L191.6 1352.6L204.0 1361.9L208.2 1370.2L212.3 1384.7L220.6 1399.1L224.7 1409.5L233.0 1418.8L240.2 1419.8L241.2 1428.1L241.2 1448.7L237.1 1457.0L237.1 1469.4L233.0 1475.6L228.8 1488.0L220.6 1496.3L212.3 1508.7L204.0 1525.2L195.8 1531.4L187.5 1539.7L179.2 1549.0L168.9 1554.2L160.6 1561.4L47.3 1561.4L43.8 1558.3L39.7 1548.0L35.6 1537.6L31.4 1525.2L27.3 1512.8L23.2 1500.4L19.0 1494.2L14.9 1483.9L10.7 1471.5L6.6 1465.3L6.6 1413.6L10.7 1395.0L10.7 1341.2L14.9 1333.0L14.9 1320.6L19.0 1318.5L27.3 1309.2L37.6 1300.9L49.0 1295.8L59.3 1292.2L75.9 1290.6Z" fill="#ffffaa"/>
<path d="M184.6 1343.7C183.6 1344.9 180.3 1348.7 178.8 1351.0C177.3 1353.2 176.8 1355.1 175.7 1357.2C174.6 1359.2 172.7 1359.9 172.0 1363.4C171.3 1366.8 172.9 1374.4 171.6 1377.8C170.3 1381.3 166.1 1381.3 164.3 1384.0C162.6 1386.8 162.1 1390.9 161.2 1394.4C160.4 1397.8 160.6 1402.6 159.2 1404.7C157.8 1406.8 154.3 1404.7 153.0 1406.8C151.6 1408.8 151.4 1413.3 150.9 1417.1C150.4 1420.9 150.4 1426.2 149.9 1429.5C149.4 1432.8 149.0 1435.2 147.8 1436.7C146.6 1438.3 143.5 1437.1 142.6 1438.8C141.8 1440.5 141.6 1444.5 142.6 1447.1C143.7 1449.7 147.1 1451.7 148.8 1454.3C150.6 1456.9 151.6 1459.5 153.0 1462.6C154.3 1465.7 155.0 1469.8 157.1 1472.9C159.2 1476.0 162.3 1478.9 165.4 1481.2C168.5 1483.4 172.6 1484.3 175.7 1486.4C178.8 1488.4 180.9 1491.4 184.0 1493.6C187.1 1495.8 190.5 1498.3 194.3 1499.8C198.1 1501.2 202.8 1501.3 206.7 1502.3C210.7 1503.2 216.2 1504.9 218.1 1505.4L218.1 4000.0L4000.0 4000.0L4000.0 -4000.0L184.6 -4000.0Z" fill="#ffffc5"/>
<path d="M184.6 1343.7C183.6 1344.9 180.3 1348.7 178.8 1351.0C177.3 1353.2 176.8 1355.1 175.7 1357.2C174.6 1359.2 172.7 1359.9 172.0 1363.4C171.3 1366.8 172.9 1374.4 171.6 1377.8C170.3 1381.3 166.1 1381.3 164.3 1384.0C162.6 1386.8 162.1 1390.9 161.2 1394.4C160.4 1397.8 160.6 1402.6 159.2 1404.7C157.8 1406.8 154.3 1404.7 153.0 1406.8C151.6 1408.8 151.4 1413.3 150.9 1417.1C150.4 1420.9 150.4 1426.2 149.9 1429.5C149.4 1432.8 149.0 1435.2 147.8 1436.7C146.6 1438.3 143.5 1437.1 142.6 1438.8C141.8 1440.5 141.6 1444.5 142.6 1447.1C143.7 1449.7 147.1 1451.7 148.8 1454.3C150.6 1456.9 151.6 1459.5 153.0 1462.6C154.3 1465.7 155.0 1469.8 157.1 1472.9C159.2 1476.0 162.3 1478.9 165.4 1481.2C168.5 1483.4 172.6 1484.3 175.7 1486.4C178.8 1488.4 180.9 1491.4 184.0 1493.6C187.1 1495.8 190.5 1498.3 194.3 1499.8C198.1 1501.2 202.8 1501.3 206.7 1502.3C210.7 1503.2 216.2 1504.9 218.1 1505.4" fill="none" stroke="#1c1c1c" stroke-width="0.9"/>
<path d="M17.6 1490.5C19.1 1486.5 23.9 1474.8 26.9 1466.7C29.8 1458.6 32.4 1449.5 35.1 1441.9C37.9 1434.3 40.8 1427.4 43.4 1421.2C46.0 1415.0 48.9 1408.8 50.6 1404.7C52.4 1400.6 52.6 1399.5 54.2 1396.4C55.7 1393.3 57.8 1389.4 59.9 1386.1C62.1 1382.8 65.6 1378.8 67.2 1376.8C68.7 1374.8 67.4 1374.8 69.3 1374.3C71.1 1373.9 75.6 1373.9 78.6 1374.1C81.5 1374.3 84.2 1374.5 86.8 1375.3C89.4 1376.2 93.9 1378.1 94.1 1379.5C94.2 1380.9 87.7 1382.2 87.9 1383.6C88.0 1385.1 92.2 1386.8 95.1 1388.2C98.0 1389.5 104.6 1390.5 105.4 1391.9C106.3 1393.3 99.9 1394.8 100.3 1396.4C100.6 1398.1 104.9 1400.1 107.5 1401.6C110.1 1403.2 113.7 1404.4 115.8 1405.7C117.8 1407.1 119.3 1408.4 119.9 1409.9C120.5 1411.4 120.6 1414.1 119.5 1414.6C118.4 1415.1 115.3 1412.9 113.3 1413.0C111.3 1413.0 109.0 1413.3 107.5 1415.0C106.0 1416.8 105.1 1420.2 104.4 1423.3C103.7 1426.4 104.7 1430.9 103.4 1433.6C102.0 1436.4 97.5 1437.4 96.1 1439.8C94.7 1442.3 94.6 1445.7 95.1 1448.1C95.6 1450.5 97.8 1452.2 99.2 1454.3C100.6 1456.5 103.4 1459.0 103.4 1460.9C103.3 1462.8 99.2 1463.7 98.8 1465.7C98.5 1467.7 99.5 1470.5 101.3 1472.9C103.1 1475.3 106.5 1478.3 109.6 1480.2C112.7 1482.0 116.5 1482.6 119.9 1484.3C123.3 1486.0 127.5 1487.9 130.2 1490.5C133.0 1493.1 134.5 1496.5 136.4 1499.8C138.3 1503.1 140.2 1507.5 141.6 1510.1C143.0 1512.7 144.6 1513.9 144.7 1515.3C144.8 1516.7 141.9 1516.8 142.2 1518.4C142.6 1519.9 145.0 1523.0 146.8 1524.6C148.6 1526.2 150.9 1527.6 153.0 1528.1C155.0 1528.6 158.0 1528.5 159.2 1527.7C160.4 1526.9 158.5 1524.3 160.2 1523.6C161.9 1522.9 165.9 1523.0 169.5 1523.6C173.1 1524.1 177.4 1525.2 181.9 1526.7C186.4 1528.1 194.0 1531.3 196.4 1532.2L4000.0 1532.2L4000.0 4000.0L-4000.0 4000.0L-4000.0 1490.5Z" fill="#ffff89"/>
<path d="M17.6 1490.5C19.1 1486.5 23.9 1474.8 26.9 1466.7C29.8 1458.6 32.4 1449.5 35.1 1441.9C37.9 1434.3 40.8 1427.4 43.4 1421.2C46.0 1415.0 48.9 1408.8 50.6 1404.7C52.4 1400.6 52.6 1399.5 54.2 1396.4C55.7 1393.3 57.8 1389.4 59.9 1386.1C62.1 1382.8 65.6 1378.8 67.2 1376.8C68.7 1374.8 67.4 1374.8 69.3 1374.3C71.1 1373.9 75.6 1373.9 78.6 1374.1C81.5 1374.3 84.2 1374.5 86.8 1375.3C89.4 1376.2 93.9 1378.1 94.1 1379.5C94.2 1380.9 87.7 1382.2 87.9 1383.6C88.0 1385.1 92.2 1386.8 95.1 1388.2C98.0 1389.5 104.6 1390.5 105.4 1391.9C106.3 1393.3 99.9 1394.8 100.3 1396.4C100.6 1398.1 104.9 1400.1 107.5 1401.6C110.1 1403.2 113.7 1404.4 115.8 1405.7C117.8 1407.1 119.3 1408.4 119.9 1409.9C120.5 1411.4 120.6 1414.1 119.5 1414.6C118.4 1415.1 115.3 1412.9 113.3 1413.0C111.3 1413.0 109.0 1413.3 107.5 1415.0C106.0 1416.8 105.1 1420.2 104.4 1423.3C103.7 1426.4 104.7 1430.9 103.4 1433.6C102.0 1436.4 97.5 1437.4 96.1 1439.8C94.7 1442.3 94.6 1445.7 95.1 1448.1C95.6 1450.5 97.8 1452.2 99.2 1454.3C100.6 1456.5 103.4 1459.0 103.4 1460.9C103.3 1462.8 99.2 1463.7 98.8 1465.7C98.5 1467.7 99.5 1470.5 101.3 1472.9C103.1 1475.3 106.5 1478.3 109.6 1480.2C112.7 1482.0 116.5 1482.6 119.9 1484.3C123.3 1486.0 127.5 1487.9 130.2 1490.5C133.0 1493.1 134.5 1496.5 136.4 1499.8C138.3 1503.1 140.2 1507.5 141.6 1510.1C143.0 1512.7 144.6 1513.9 144.7 1515.3C144.8 1516.7 141.9 1516.8 142.2 1518.4C142.6 1519.9 145.0 1523.0 146.8 1524.6C148.6 1526.2 150.9 1527.6 153.0 1528.1C155.0 1528.6 158.0 1528.5 159.2 1527.7C160.4 1526.9 158.5 1524.3 160.2 1523.6C161.9 1522.9 165.9 1523.0 169.5 1523.6C173.1 1524.1 177.4 1525.2 181.9 1526.7C186.4 1528.1 194.0 1531.3 196.4 1532.2" fill="none" stroke="#1c1c1c" stroke-width="0.9"/>
<path d="M9.3 1376.8C10.9 1375.6 16.2 1372.5 18.6 1369.6C21.0 1366.6 22.2 1362.5 23.8 1359.2C25.3 1356.0 26.0 1352.3 27.9 1349.9C29.8 1347.6 32.2 1346.0 35.1 1345.2C38.1 1344.3 42.4 1344.3 45.5 1344.8C48.6 1345.2 51.9 1346.3 53.7 1347.9C55.6 1349.4 56.5 1351.5 56.8 1354.1C57.2 1356.6 56.7 1360.4 55.8 1363.4C55.0 1366.3 53.4 1368.5 51.7 1371.6C50.0 1374.7 47.9 1378.5 45.5 1382.0C43.1 1385.4 39.6 1388.9 37.2 1392.3C34.8 1395.7 32.6 1398.5 31.0 1402.6C29.5 1406.8 28.6 1411.6 27.9 1417.1C27.2 1422.6 27.6 1429.2 26.9 1435.7C26.2 1442.3 25.0 1450.2 23.8 1456.4C22.6 1462.6 21.0 1468.1 19.6 1472.9C18.3 1477.7 16.5 1482.7 15.5 1485.3C14.5 1487.9 13.8 1487.9 13.4 1488.4L-4000.0 1488.4L-4000.0 1376.8Z" fill="#ffffc5"/>
<path d="M9.3 1376.8C10.9 1375.6 16.2 1372.5 18.6 1369.6C21.0 1366.6 22.2 1362.5 23.8 1359.2C25.3 1356.0 26.0 1352.3 27.9 1349.9C29.8 1347.6 32.2 1346.0 35.1 1345.2C38.1 1344.3 42.4 1344.3 45.5 1344.8C48.6 1345.2 51.9 1346.3 53.7 1347.9C55.6 1349.4 56.5 1351.5 56.8 1354.1C57.2 1356.6 56.7 1360.4 55.8 1363.4C55.0 1366.3 53.4 1368.5 51.7 1371.6C50.0 1374.7 47.9 1378.5 45.5 1382.0C43.1 1385.4 39.6 1388.9 37.2 1392.3C34.8 1395.7 32.6 1398.5 31.0 1402.6C29.5 1406.8 28.6 1411.6 27.9 1417.1C27.2 1422.6 27.6 1429.2 26.9 1435.7C26.2 1442.3 25.0 1450.2 23.8 1456.4C22.6 1462.6 21.0 1468.1 19.6 1472.9C18.3 1477.7 16.5 1482.7 15.5 1485.3C14.5 1487.9 13.8 1487.9 13.4 1488.4" fill="none" stroke="#1c1c1c" stroke-width="0.9"/>
<path d="M5.2 1434.1C6.4 1434.2 10.3 1433.7 12.4 1434.7C14.5 1435.6 16.3 1437.3 17.6 1439.8C18.8 1442.4 19.7 1446.4 20.1 1450.2C20.4 1454.0 20.1 1458.4 19.6 1462.6C19.2 1466.7 18.6 1471.7 17.6 1475.0C16.5 1478.3 14.1 1481.0 13.4 1482.2L-4000.0 1482.2L-4000.0 1434.1Z" fill="#ffffdc"/>
<path d="M5.2 1434.1C6.4 1434.2 10.3 1433.7 12.4 1434.7C14.5 1435.6 16.3 1437.3 17.6 1439.8C18.8 1442.4 19.7 1446.4 20.1 1450.2C20.4 1454.0 20.1 1458.4 19.6 1462.6C19.2 1466.7 18.6 1471.7 17.6 1475.0C16.5 1478.3 14.1 1481.0 13.4 1482.2" fill="none" stroke="#1c1c1c" stroke-width="0.9"/>
<path d="M39.3 1300.3C40.1 1301.3 43.3 1304.3 44.4 1306.5C45.5 1308.8 46.2 1311.2 45.9 1313.7C45.5 1316.3 44.2 1319.8 42.4 1322.0C40.6 1324.3 38.1 1325.9 35.1 1327.2C32.2 1328.5 28.3 1328.9 24.8 1329.9C21.4 1330.8 16.2 1332.3 14.5 1332.8L-4000.0 1332.8L-4000.0 -4000.0L39.3 -4000.0Z" fill="#ffff89"/>
<path d="M39.3 1300.3C40.1 1301.3 43.3 1304.3 44.4 1306.5C45.5 1308.8 46.2 1311.2 45.9 1313.7C45.5 1316.3 44.2 1319.8 42.4 1322.0C40.6 1324.3 38.1 1325.9 35.1 1327.2C32.2 1328.5 28.3 1328.9 24.8 1329.9C21.4 1330.8 16.2 1332.3 14.5 1332.8" fill="none" stroke="#1c1c1c" stroke-width="0.9"/>
<path d="M58.9 1292.0C60.5 1292.6 64.9 1294.1 68.2 1295.1C71.5 1296.2 75.1 1297.6 78.6 1298.2C82.0 1298.9 85.8 1299.1 88.9 1298.9C92.0 1298.6 95.5 1298.9 97.2 1296.8C98.8 1294.7 98.5 1288.2 98.8 1286.5L98.8 -4000.0L58.9 -4000.0Z" fill="#ffffc5"/>
<path d="M58.9 1292.0C60.5 1292.6 64.9 1294.1 68.2 1295.1C71.5 1296.2 75.1 1297.6 78.6 1298.2C82.0 1298.9 85.8 1299.1 88.9 1298.9C92.0 1298.6 95.5 1298.9 97.2 1296.8C98.8 1294.7 98.5 1288.2 98.8 1286.5" fill="none" stroke="#1c1c1c" stroke-width="0.9"/>
<path d="M122.0 1286.5C122.3 1287.6 122.7 1291.6 124.0 1293.1C125.4 1294.6 128.0 1295.4 130.2 1295.6C132.5 1295.7 135.2 1294.9 137.5 1294.1C139.7 1293.3 142.6 1291.2 143.7 1290.6L143.7 -4000.0L122.0 -4000.0Z" fill="#ffffc5"/>
<path d="M122.0 1286.5C122.3 1287.6 122.7 1291.6 124.0 1293.1C125.4 1294.6 128.0 1295.4 130.2 1295.6C132.5 1295.7 135.2 1294.9 137.5 1294.1C139.7 1293.3 142.6 1291.2 143.7 1290.6" fill="none" stroke="#1c1c1c" stroke-width="0.9"/>
<path d="M145.7 1333.8C147.3 1333.7 150.1 1336.7 150.5 1338.1C150.8 1339.6 149.0 1342.0 147.8 1342.7C146.6 1343.4 144.2 1343.0 143.0 1342.3C141.9 1341.6 140.5 1340.0 141.0 1338.6C141.4 1337.1 144.2 1333.9 145.7 1333.8Z" fill="#ffffc5" stroke="#1c1c1c" stroke-width="0.9"/>
<path d="M36.2 1468.4C37.4 1468.4 39.1 1471.4 40.3 1471.9C41.5 1472.4 43.1 1470.4 43.4 1471.3C43.8 1472.1 42.2 1475.2 42.4 1477.1C42.5 1478.9 44.4 1480.5 44.4 1482.2C44.4 1483.9 43.1 1485.5 42.4 1487.4C41.7 1489.3 41.3 1492.4 40.3 1493.6C39.3 1494.8 37.6 1493.9 36.2 1494.6C34.8 1495.3 33.4 1497.9 32.0 1497.7C30.7 1497.6 28.4 1495.7 27.9 1493.6C27.4 1491.5 28.4 1488.1 28.9 1485.3C29.5 1482.6 30.3 1479.3 31.0 1477.1C31.7 1474.8 32.2 1473.3 33.1 1471.9C33.9 1470.4 35.0 1468.4 36.2 1468.4Z" fill="#ffff5e" stroke="#1c1c1c" stroke-width="0.9"/>
<path d="M47.5 1495.7C48.1 1495.6 49.2 1498.7 49.2 1499.8C49.2 1500.9 48.1 1502.2 47.5 1502.3C47.0 1502.3 45.9 1501.3 45.9 1500.2C45.9 1499.1 47.0 1495.7 47.5 1495.7Z" fill="#ffffaa" stroke="#1c1c1c" stroke-width="0.9"/>
<path d="M67.2 1499.2C67.7 1499.2 68.8 1500.1 68.8 1500.6C68.8 1501.1 67.7 1502.1 67.2 1502.1C66.6 1502.1 65.5 1501.1 65.5 1500.6C65.5 1500.1 66.6 1499.2 67.2 1499.2Z" fill="#ffffaa" stroke="#1c1c1c" stroke-width="0.9"/>
<path d="M235.7 1418.8C236.2 1419.2 238.0 1419.8 238.8 1421.2C239.5 1422.7 239.8 1426.0 240.2 1427.4C240.7 1428.9 241.2 1429.5 241.4 1429.9" fill="none" stroke="#1c1c1c" stroke-width="0.9"/>
</g>
<text x="74.3" y="1447" font-size="31">Long</text>
<clipPath id="clip3"><path d="M410.6 1287.9L469.5 1287.9L473.6 1291.0L481.9 1295.1L490.2 1302.4L494.3 1310.6L502.6 1323.0L506.7 1335.5L523.3 1353.0L535.7 1362.3L539.8 1370.6L543.9 1385.1L552.2 1399.5L556.3 1409.9L564.6 1419.2L571.8 1420.2L572.9 1428.5L572.9 1449.1L568.7 1457.4L568.7 1469.8L564.6 1476.0L560.5 1488.4L552.2 1496.7L543.9 1509.1L535.7 1525.6L527.4 1531.8L519.1 1540.1L510.9 1549.4L500.5 1554.6L492.2 1561.8L379.0 1561.8L375.5 1558.7L371.3 1548.4L367.2 1538.0L363.0 1525.6L358.9 1513.2L354.8 1500.8L350.6 1494.6L346.5 1484.3L342.4 1471.9L338.2 1465.7L338.2 1414.0L342.4 1395.4L342.4 1341.7L346.5 1333.4L346.5 1321.0L350.6 1318.9L358.9 1309.6L369.3 1301.3L380.6 1296.2L391.0 1292.7L407.5 1291.0Z"/></clipPath>
<g clip-path="url(#clip3)">
<path d="M410.6 1287.9L469.5 1287.9L473.6 1291.0L481.9 1295.1L490.2 1302.4L494.3 1310.6L502.6 1323.0L506.7 1335.5L523.3 1353.0L535.7 1362.3L539.8 1370.6L543.9 1385.1L552.2 1399.5L556.3 1409.9L564.6 1419.2L571.8 1420.2L572.9 1428.5L572.9 1449.1L568.7 1457.4L568.7 1469.8L564.6 1476.0L560.5 1488.4L552.2 1496.7L543.9 1509.1L535.7 1525.6L527.4 1531.8L519.1 1540.1L510.9 1549.4L500.5 1554.6L492.2 1561.8L379.0 1561.8L375.5 1558.7L371.3 1548.4L367.2 1538.0L363.0 1525.6L358.9 1513.2L354.8 1500.8L350.6 1494.6L346.5 1484.3L342.4 1471.9L338.2 1465.7L338.2 1414.0L342.4 1395.4L342.4 1341.7L346.5 1333.4L346.5 1321.0L350.6 1318.9L358.9 1309.6L369.3 1301.3L380.6 1296.2L391.0 1292.7L407.5 1291.0Z" fill="#ff7800"/>
<path d="M359.9 1532.9C360.3 1530.8 361.2 1525.3 362.0 1520.5C362.9 1515.6 364.1 1509.4 365.1 1503.9C366.1 1498.4 367.2 1492.2 368.2 1487.4C369.3 1482.6 370.3 1478.8 371.3 1475.0C372.4 1471.2 373.7 1467.9 374.4 1464.7C375.1 1461.4 374.6 1457.2 375.5 1455.3C376.3 1453.5 379.3 1454.1 379.6 1453.3C379.8 1452.4 377.1 1452.1 376.9 1450.2C376.7 1448.3 377.6 1444.7 378.6 1441.9C379.5 1439.2 381.1 1436.4 382.7 1433.6C384.2 1430.9 387.3 1428.1 387.9 1425.4C388.4 1422.6 385.6 1419.9 385.8 1417.1C386.0 1414.3 387.5 1411.4 388.9 1408.8C390.3 1406.3 392.0 1403.3 394.1 1401.6C396.1 1399.9 399.1 1398.8 401.3 1398.5C403.5 1398.2 405.6 1398.8 407.5 1399.5C409.4 1400.3 410.2 1402.5 412.7 1403.0C415.1 1403.6 418.7 1402.5 422.0 1402.6C425.2 1402.7 428.5 1403.3 432.3 1403.7C436.1 1404.0 440.6 1404.7 444.7 1404.7C448.8 1404.7 453.0 1404.0 457.1 1403.7C461.2 1403.3 465.7 1403.0 469.5 1402.6C473.3 1402.3 477.5 1402.6 479.8 1401.6C482.2 1400.6 483.7 1398.0 483.6 1396.4C483.4 1394.9 479.3 1394.2 478.8 1392.3C478.4 1390.4 479.7 1387.1 480.9 1385.1C482.1 1383.0 483.5 1381.0 486.0 1379.9C488.6 1378.8 493.3 1378.9 496.4 1378.2C499.5 1377.6 502.9 1377.5 504.7 1375.8C506.4 1374.0 505.3 1369.6 506.7 1367.9C508.1 1366.2 510.2 1366.4 512.9 1365.4C515.7 1364.5 520.0 1363.6 523.3 1362.3C526.5 1361.0 531.0 1358.4 532.6 1357.6L4000.0 1357.6L4000.0 4000.0L-4000.0 4000.0L-4000.0 1532.9Z" fill="#ff9c00"/>
<path d="M359.9 1532.9C360.3 1530.8 361.2 1525.3 362.0 1520.5C362.9 1515.6 364.1 1509.4 365.1 1503.9C366.1 1498.4 367.2 1492.2 368.2 1487.4C369.3 1482.6 370.3 1478.8 371.3 1475.0C372.4 1471.2 373.7 1467.9 374.4 1464.7C375.1 1461.4 374.6 1457.2 375.5 1455.3C376.3 1453.5 379.3 1454.1 379.6 1453.3C379.8 1452.4 377.1 1452.1 376.9 1450.2C376.7 1448.3 377.6 1444.7 378.6 1441.9C379.5 1439.2 381.1 1436.4 382.7 1433.6C384.2 1430.9 387.3 1428.1 387.9 1425.4C388.4 1422.6 385.6 1419.9 385.8 1417.1C386.0 1414.3 387.5 1411.4 388.9 1408.8C390.3 1406.3 392.0 1403.3 394.1 1401.6C396.1 1399.9 399.1 1398.8 401.3 1398.5C403.5 1398.2 405.6 1398.8 407.5 1399.5C409.4 1400.3 410.2 1402.5 412.7 1403.0C415.1 1403.6 418.7 1402.5 422.0 1402.6C425.2 1402.7 428.5 1403.3 432.3 1403.7C436.1 1404.0 440.6 1404.7 444.7 1404.7C448.8 1404.7 453.0 1404.0 457.1 1403.7C461.2 1403.3 465.7 1403.0 469.5 1402.6C473.3 1402.3 477.5 1402.6 479.8 1401.6C482.2 1400.6 483.7 1398.0 483.6 1396.4C483.4 1394.9 479.3 1394.2 478.8 1392.3C478.4 1390.4 479.7 1387.1 480.9 1385.1C482.1 1383.0 483.5 1381.0 486.0 1379.9C488.6 1378.8 493.3 1378.9 496.4 1378.2C499.5 1377.6 502.9 1377.5 504.7 1375.8C506.4 1374.0 505.3 1369.6 506.7 1367.9C508.1 1366.2 510.2 1366.4 512.9 1365.4C515.7 1364.5 520.0 1363.6 523.3 1362.3C526.5 1361.0 531.0 1358.4 532.6 1357.6" fill="none" stroke="#1c1c1c" stroke-width="0.9"/>
<path d="M506.8 1551.8C506.2 1551.4 505.1 1550.7 502.8 1549.4C500.5 1548.0 495.3 1545.3 493.1 1543.7C491.0 1542.1 491.5 1540.2 489.9 1539.7C488.3 1539.2 486.1 1540.9 483.4 1540.5C480.7 1540.1 477.0 1538.5 473.7 1537.3C470.5 1536.1 467.0 1534.7 464.0 1533.2C461.1 1531.8 457.9 1530.1 456.0 1528.4C454.1 1526.6 452.7 1524.5 452.7 1522.7C452.7 1521.0 455.7 1519.5 456.0 1517.9C456.2 1516.3 455.4 1515.2 454.4 1513.0C453.3 1510.9 451.7 1507.9 449.5 1505.0C447.4 1502.0 443.9 1498.2 441.4 1495.3C439.0 1492.3 436.3 1489.6 435.0 1487.2C433.6 1484.8 434.2 1483.2 433.4 1480.7C432.6 1478.3 431.2 1475.4 430.1 1472.7C429.1 1470.0 427.2 1466.5 426.9 1464.6C426.6 1462.7 428.5 1463.3 428.5 1461.4C428.5 1459.5 427.7 1455.4 426.9 1453.3C426.1 1451.1 423.7 1450.3 423.7 1448.4C423.7 1446.6 425.8 1444.7 426.9 1442.0C428.0 1439.3 429.5 1435.8 430.1 1432.3C430.8 1428.8 430.4 1424.2 430.9 1421.0C431.5 1417.8 431.6 1414.7 433.4 1412.9C435.1 1411.2 439.3 1410.6 441.4 1410.5C443.6 1410.4 444.9 1411.2 446.3 1412.1C447.6 1413.1 447.6 1414.7 449.5 1416.1C451.4 1417.6 455.2 1419.9 457.6 1421.0C460.0 1422.1 461.9 1421.5 464.0 1422.6C466.2 1423.7 468.1 1425.8 470.5 1427.5C472.9 1429.1 476.2 1430.7 478.6 1432.3C481.0 1433.9 482.9 1436.1 485.0 1437.1C487.2 1438.2 489.3 1437.7 491.5 1438.8C493.7 1439.8 496.6 1442.0 498.0 1443.6C499.3 1445.2 498.0 1446.8 499.6 1448.4C501.2 1450.1 505.0 1453.6 507.6 1453.3C510.3 1453.0 513.0 1449.3 515.7 1446.8C518.4 1444.4 521.9 1441.2 523.8 1438.8C525.7 1436.3 524.9 1433.9 527.0 1432.3C529.2 1430.7 533.2 1429.7 536.7 1429.1C540.2 1428.4 544.3 1428.1 548.0 1428.3C551.8 1428.4 555.0 1429.9 559.3 1429.9C563.6 1429.9 571.4 1428.5 573.9 1428.3L4000.0 1428.3L4000.0 4000.0L506.8 4000.0Z" fill="#ff7800"/>
<path d="M506.8 1551.8C506.2 1551.4 505.1 1550.7 502.8 1549.4C500.5 1548.0 495.3 1545.3 493.1 1543.7C491.0 1542.1 491.5 1540.2 489.9 1539.7C488.3 1539.2 486.1 1540.9 483.4 1540.5C480.7 1540.1 477.0 1538.5 473.7 1537.3C470.5 1536.1 467.0 1534.7 464.0 1533.2C461.1 1531.8 457.9 1530.1 456.0 1528.4C454.1 1526.6 452.7 1524.5 452.7 1522.7C452.7 1521.0 455.7 1519.5 456.0 1517.9C456.2 1516.3 455.4 1515.2 454.4 1513.0C453.3 1510.9 451.7 1507.9 449.5 1505.0C447.4 1502.0 443.9 1498.2 441.4 1495.3C439.0 1492.3 436.3 1489.6 435.0 1487.2C433.6 1484.8 434.2 1483.2 433.4 1480.7C432.6 1478.3 431.2 1475.4 430.1 1472.7C429.1 1470.0 427.2 1466.5 426.9 1464.6C426.6 1462.7 428.5 1463.3 428.5 1461.4C428.5 1459.5 427.7 1455.4 426.9 1453.3C426.1 1451.1 423.7 1450.3 423.7 1448.4C423.7 1446.6 425.8 1444.7 426.9 1442.0C428.0 1439.3 429.5 1435.8 430.1 1432.3C430.8 1428.8 430.4 1424.2 430.9 1421.0C431.5 1417.8 431.6 1414.7 433.4 1412.9C435.1 1411.2 439.3 1410.6 441.4 1410.5C443.6 1410.4 444.9 1411.2 446.3 1412.1C447.6 1413.1 447.6 1414.7 449.5 1416.1C451.4 1417.6 455.2 1419.9 457.6 1421.0C460.0 1422.1 461.9 1421.5 464.0 1422.6C466.2 1423.7 468.1 1425.8 470.5 1427.5C472.9 1429.1 476.2 1430.7 478.6 1432.3C481.0 1433.9 482.9 1436.1 485.0 1437.1C487.2 1438.2 489.3 1437.7 491.5 1438.8C493.7 1439.8 496.6 1442.0 498.0 1443.6C499.3 1445.2 498.0 1446.8 499.6 1448.4C501.2 1450.1 505.0 1453.6 507.6 1453.3C510.3 1453.0 513.0 1449.3 515.7 1446.8C518.4 1444.4 521.9 1441.2 523.8 1438.8C525.7 1436.3 524.9 1433.9 527.0 1432.3C529.2 1430.7 533.2 1429.7 536.7 1429.1C540.2 1428.4 544.3 1428.1 548.0 1428.3C551.8 1428.4 555.0 1429.9 559.3 1429.9C563.6 1429.9 571.4 1428.5 573.9 1428.3" fill="none" stroke="#1c1c1c" stroke-width="0.9"/>
<path d="M519.0 1539.7C518.1 1538.8 516.0 1535.3 514.1 1534.0C512.2 1532.8 509.0 1533.5 507.6 1532.4C506.3 1531.4 507.1 1528.4 506.0 1527.6C505.0 1526.8 503.1 1528.4 501.2 1527.6C499.3 1526.8 496.6 1523.8 494.7 1522.7C492.8 1521.7 491.5 1521.0 489.9 1521.1C488.3 1521.3 486.9 1523.8 485.0 1523.5C483.2 1523.3 481.0 1521.0 478.6 1519.5C476.2 1518.0 472.9 1516.5 470.5 1514.7C468.1 1512.8 466.2 1510.6 464.0 1508.2C461.9 1505.8 460.0 1502.3 457.6 1500.1C455.2 1498.0 451.7 1497.2 449.5 1495.3C447.4 1493.4 445.2 1490.7 444.7 1488.8C444.1 1486.9 446.5 1485.9 446.3 1484.0C446.0 1482.1 444.1 1479.9 443.0 1477.5C442.0 1475.1 440.8 1472.1 439.8 1469.4C438.9 1466.8 436.9 1463.8 437.4 1461.4C437.9 1458.9 441.0 1457.3 443.0 1454.9C445.1 1452.5 447.6 1447.1 449.5 1446.8C451.4 1446.6 453.3 1451.1 454.4 1453.3C455.4 1455.4 454.6 1457.6 456.0 1459.8C457.3 1461.9 460.0 1464.3 462.4 1466.2C464.9 1468.1 467.5 1470.0 470.5 1471.1C473.5 1472.1 477.2 1472.3 480.2 1472.7C483.2 1473.1 485.6 1472.8 488.3 1473.5C491.0 1474.2 493.7 1476.3 496.3 1476.7C499.0 1477.1 501.7 1476.8 504.4 1475.9C507.1 1475.0 510.3 1472.9 512.5 1471.1C514.6 1469.2 515.5 1466.1 517.3 1464.6C519.2 1463.1 521.4 1463.0 523.8 1462.2C526.2 1461.4 529.2 1460.8 531.9 1459.8C534.6 1458.7 536.4 1456.8 539.9 1455.7C543.4 1454.6 547.8 1453.8 552.9 1453.3C558.0 1452.8 567.7 1452.6 570.6 1452.5L4000.0 1452.5L4000.0 4000.0L519.0 4000.0Z" fill="#ff4300"/>
<path d="M519.0 1539.7C518.1 1538.8 516.0 1535.3 514.1 1534.0C512.2 1532.8 509.0 1533.5 507.6 1532.4C506.3 1531.4 507.1 1528.4 506.0 1527.6C505.0 1526.8 503.1 1528.4 501.2 1527.6C499.3 1526.8 496.6 1523.8 494.7 1522.7C492.8 1521.7 491.5 1521.0 489.9 1521.1C488.3 1521.3 486.9 1523.8 485.0 1523.5C483.2 1523.3 481.0 1521.0 478.6 1519.5C476.2 1518.0 472.9 1516.5 470.5 1514.7C468.1 1512.8 466.2 1510.6 464.0 1508.2C461.9 1505.8 460.0 1502.3 457.6 1500.1C455.2 1498.0 451.7 1497.2 449.5 1495.3C447.4 1493.4 445.2 1490.7 444.7 1488.8C444.1 1486.9 446.5 1485.9 446.3 1484.0C446.0 1482.1 444.1 1479.9 443.0 1477.5C442.0 1475.1 440.8 1472.1 439.8 1469.4C438.9 1466.8 436.9 1463.8 437.4 1461.4C437.9 1458.9 441.0 1457.3 443.0 1454.9C445.1 1452.5 447.6 1447.1 449.5 1446.8C451.4 1446.6 453.3 1451.1 454.4 1453.3C455.4 1455.4 454.6 1457.6 456.0 1459.8C457.3 1461.9 460.0 1464.3 462.4 1466.2C464.9 1468.1 467.5 1470.0 470.5 1471.1C473.5 1472.1 477.2 1472.3 480.2 1472.7C483.2 1473.1 485.6 1472.8 488.3 1473.5C491.0 1474.2 493.7 1476.3 496.3 1476.7C499.0 1477.1 501.7 1476.8 504.4 1475.9C507.1 1475.0 510.3 1472.9 512.5 1471.1C514.6 1469.2 515.5 1466.1 517.3 1464.6C519.2 1463.1 521.4 1463.0 523.8 1462.2C526.2 1461.4 529.2 1460.8 531.9 1459.8C534.6 1458.7 536.4 1456.8 539.9 1455.7C543.4 1454.6 547.8 1453.8 552.9 1453.3C558.0 1452.8 567.7 1452.6 570.6 1452.5" fill="none" stroke="#1c1c1c" stroke-width="0.9"/>
<path d="M531.1 1531.6C530.4 1530.7 528.5 1528.0 527.0 1526.0C525.5 1524.0 523.3 1521.9 522.2 1519.5C521.1 1517.1 521.0 1514.1 520.6 1511.4C520.2 1508.7 519.2 1505.5 519.8 1503.4C520.3 1501.2 522.0 1499.9 523.8 1498.5C525.5 1497.2 528.4 1496.9 530.3 1495.3C532.1 1493.7 533.8 1491.2 535.1 1488.8C536.4 1486.4 537.3 1483.4 538.3 1480.7C539.4 1478.1 539.9 1474.6 541.6 1472.7C543.2 1470.8 545.6 1470.1 548.0 1469.4C550.4 1468.8 552.7 1468.9 556.1 1468.6C559.5 1468.4 566.2 1468.0 568.2 1467.8L4000.0 1467.8L4000.0 4000.0L531.1 4000.0Z" fill="#f40000"/>
<path d="M531.1 1531.6C530.4 1530.7 528.5 1528.0 527.0 1526.0C525.5 1524.0 523.3 1521.9 522.2 1519.5C521.1 1517.1 521.0 1514.1 520.6 1511.4C520.2 1508.7 519.2 1505.5 519.8 1503.4C520.3 1501.2 522.0 1499.9 523.8 1498.5C525.5 1497.2 528.4 1496.9 530.3 1495.3C532.1 1493.7 533.8 1491.2 535.1 1488.8C536.4 1486.4 537.3 1483.4 538.3 1480.7C539.4 1478.1 539.9 1474.6 541.6 1472.7C543.2 1470.8 545.6 1470.1 548.0 1469.4C550.4 1468.8 552.7 1468.9 556.1 1468.6C559.5 1468.4 566.2 1468.0 568.2 1467.8" fill="none" stroke="#1c1c1c" stroke-width="0.9"/>
<path d="M542.4 1513.9C541.8 1512.9 539.3 1510.0 539.1 1508.2C539.0 1506.5 540.4 1504.7 541.6 1503.4C542.8 1502.0 544.4 1501.1 546.4 1500.1C548.4 1499.2 552.5 1498.1 553.7 1497.7L4000.0 1497.7L4000.0 4000.0L542.4 4000.0Z" fill="#df0000"/>
<path d="M542.4 1513.9C541.8 1512.9 539.3 1510.0 539.1 1508.2C539.0 1506.5 540.4 1504.7 541.6 1503.4C542.8 1502.0 544.4 1501.1 546.4 1500.1C548.4 1499.2 552.5 1498.1 553.7 1497.7" fill="none" stroke="#1c1c1c" stroke-width="0.9"/>
<path d="M362.3 1522.7C362.7 1521.1 363.8 1517.1 364.7 1513.0C365.7 1509.0 366.9 1503.1 368.0 1498.5C369.0 1493.9 370.0 1489.4 371.2 1485.6C372.4 1481.8 373.5 1478.6 375.2 1475.9C377.0 1473.2 379.8 1471.1 381.7 1469.4C383.6 1467.8 385.9 1465.9 386.5 1466.2C387.2 1466.5 384.9 1470.5 385.7 1471.1C386.5 1471.6 389.4 1470.1 391.4 1469.4C393.4 1468.8 395.4 1467.8 397.8 1467.0C400.3 1466.2 403.2 1464.7 405.9 1464.6C408.6 1464.5 412.4 1464.9 414.0 1466.2C415.6 1467.6 414.5 1470.3 415.6 1472.7C416.7 1475.1 419.1 1478.3 420.4 1480.7C421.8 1483.2 423.4 1484.8 423.7 1487.2C423.9 1489.6 421.5 1492.9 422.1 1495.3C422.6 1497.7 425.0 1499.9 426.9 1501.7C428.8 1503.6 431.5 1504.7 433.4 1506.6C435.2 1508.5 437.1 1510.9 438.2 1513.0C439.3 1515.2 438.5 1517.1 439.8 1519.5C441.2 1521.9 444.5 1524.9 446.3 1527.6C448.0 1530.3 449.9 1533.2 450.3 1535.7C450.7 1538.1 448.3 1540.9 448.7 1542.1C449.1 1543.3 451.3 1542.3 452.7 1542.9C454.2 1543.6 455.4 1544.8 457.6 1546.2C459.7 1547.5 462.7 1549.8 465.7 1551.0C468.6 1552.2 472.1 1552.5 475.3 1553.4C478.6 1554.4 481.9 1555.2 485.0 1556.7C488.1 1558.1 492.4 1561.4 493.9 1562.3L493.9 4000.0L-4000.0 4000.0L-4000.0 1522.7Z" fill="#ffb900"/>
<path d="M362.3 1522.7C362.7 1521.1 363.8 1517.1 364.7 1513.0C365.7 1509.0 366.9 1503.1 368.0 1498.5C369.0 1493.9 370.0 1489.4 371.2 1485.6C372.4 1481.8 373.5 1478.6 375.2 1475.9C377.0 1473.2 379.8 1471.1 381.7 1469.4C383.6 1467.8 385.9 1465.9 386.5 1466.2C387.2 1466.5 384.9 1470.5 385.7 1471.1C386.5 1471.6 389.4 1470.1 391.4 1469.4C393.4 1468.8 395.4 1467.8 397.8 1467.0C400.3 1466.2 403.2 1464.7 405.9 1464.6C408.6 1464.5 412.4 1464.9 414.0 1466.2C415.6 1467.6 414.5 1470.3 415.6 1472.7C416.7 1475.1 419.1 1478.3 420.4 1480.7C421.8 1483.2 423.4 1484.8 423.7 1487.2C423.9 1489.6 421.5 1492.9 422.1 1495.3C422.6 1497.7 425.0 1499.9 426.9 1501.7C428.8 1503.6 431.5 1504.7 433.4 1506.6C435.2 1508.5 437.1 1510.9 438.2 1513.0C439.3 1515.2 438.5 1517.1 439.8 1519.5C441.2 1521.9 444.5 1524.9 446.3 1527.6C448.0 1530.3 449.9 1533.2 450.3 1535.7C450.7 1538.1 448.3 1540.9 448.7 1542.1C449.1 1543.3 451.3 1542.3 452.7 1542.9C454.2 1543.6 455.4 1544.8 457.6 1546.2C459.7 1547.5 462.7 1549.8 465.7 1551.0C468.6 1552.2 472.1 1552.5 475.3 1553.4C478.6 1554.4 481.9 1555.2 485.0 1556.7C488.1 1558.1 492.4 1561.4 493.9 1562.3" fill="none" stroke="#1c1c1c" stroke-width="0.9"/>
<path d="M367.1 1534.0C367.5 1531.6 368.6 1524.4 369.6 1519.5C370.5 1514.7 371.7 1509.0 372.8 1505.0C373.9 1500.9 374.8 1497.6 376.0 1495.3C377.2 1493.0 378.6 1492.2 380.1 1491.2C381.5 1490.3 383.0 1489.8 384.9 1489.6C386.8 1489.5 389.8 1489.8 391.4 1490.4C393.0 1491.1 393.0 1492.9 394.6 1493.7C396.2 1494.5 399.2 1494.5 401.1 1495.3C402.9 1496.1 404.6 1496.9 405.9 1498.5C407.3 1500.1 408.9 1503.1 409.1 1505.0C409.4 1506.9 406.7 1508.5 407.5 1509.8C408.3 1511.2 411.6 1511.7 414.0 1513.0C416.4 1514.4 420.4 1516.3 422.1 1517.9C423.7 1519.5 423.9 1521.1 423.7 1522.7C423.4 1524.4 420.7 1526.0 420.4 1527.6C420.2 1529.2 421.0 1530.5 422.1 1532.4C423.1 1534.3 425.8 1536.7 426.9 1538.9C428.0 1541.0 428.0 1543.5 428.5 1545.3C429.1 1547.2 428.8 1548.3 430.1 1550.2C431.5 1552.1 434.6 1554.6 436.6 1556.7C438.6 1558.7 441.3 1561.4 442.2 1562.3L442.2 4000.0L-4000.0 4000.0L-4000.0 1534.0Z" fill="#ffd200"/>
<path d="M367.1 1534.0C367.5 1531.6 368.6 1524.4 369.6 1519.5C370.5 1514.7 371.7 1509.0 372.8 1505.0C373.9 1500.9 374.8 1497.6 376.0 1495.3C377.2 1493.0 378.6 1492.2 380.1 1491.2C381.5 1490.3 383.0 1489.8 384.9 1489.6C386.8 1489.5 389.8 1489.8 391.4 1490.4C393.0 1491.1 393.0 1492.9 394.6 1493.7C396.2 1494.5 399.2 1494.5 401.1 1495.3C402.9 1496.1 404.6 1496.9 405.9 1498.5C407.3 1500.1 408.9 1503.1 409.1 1505.0C409.4 1506.9 406.7 1508.5 407.5 1509.8C408.3 1511.2 411.6 1511.7 414.0 1513.0C416.4 1514.4 420.4 1516.3 422.1 1517.9C423.7 1519.5 423.9 1521.1 423.7 1522.7C423.4 1524.4 420.7 1526.0 420.4 1527.6C420.2 1529.2 421.0 1530.5 422.1 1532.4C423.1 1534.3 425.8 1536.7 426.9 1538.9C428.0 1541.0 428.0 1543.5 428.5 1545.3C429.1 1547.2 428.8 1548.3 430.1 1550.2C431.5 1552.1 434.6 1554.6 436.6 1556.7C438.6 1558.7 441.3 1561.4 442.2 1562.3" fill="none" stroke="#1c1c1c" stroke-width="0.9"/>
<path d="M368.8 1545.3C370.4 1546.7 376.2 1550.5 378.4 1553.4C380.7 1556.3 381.4 1561.2 382.0 1562.8L382.0 4000.0L-4000.0 4000.0L-4000.0 1545.3Z" fill="#ffb900"/>
<path d="M368.8 1545.3C370.4 1546.7 376.2 1550.5 378.4 1553.4C380.7 1556.3 381.4 1561.2 382.0 1562.8" fill="none" stroke="#1c1c1c" stroke-width="0.9"/>
<path d="M384.1 1527.6C385.2 1526.6 387.1 1526.0 388.1 1526.0C389.2 1526.0 390.4 1526.2 390.6 1527.6C390.7 1528.9 389.6 1532.2 388.9 1534.0C388.3 1535.9 387.5 1537.5 386.5 1538.9C385.6 1540.2 384.2 1542.4 383.3 1542.1C382.4 1541.8 381.6 1539.0 381.4 1537.3C381.1 1535.5 381.2 1533.2 381.7 1531.6C382.1 1530.0 383.0 1528.5 384.1 1527.6Z" fill="#ffe900" stroke="#1c1c1c" stroke-width="0.9"/>
<path d="M337.3 1432.3C338.7 1431.9 343.1 1430.1 346.1 1429.9C349.2 1429.6 353.0 1430.3 355.8 1430.7C358.7 1431.1 361.6 1430.7 363.1 1432.3C364.6 1433.9 363.9 1438.0 364.7 1440.4C365.5 1442.8 367.7 1444.1 368.0 1446.8C368.2 1449.5 366.9 1453.0 366.3 1456.5C365.8 1460.0 365.4 1463.8 364.7 1467.8C364.0 1471.9 363.1 1476.4 362.3 1480.7C361.5 1485.1 360.8 1489.5 359.9 1493.7C358.9 1497.8 357.2 1503.8 356.6 1505.8L-4000.0 1505.8L-4000.0 1432.3Z" fill="#ff4300"/>
<path d="M337.3 1432.3C338.7 1431.9 343.1 1430.1 346.1 1429.9C349.2 1429.6 353.0 1430.3 355.8 1430.7C358.7 1431.1 361.6 1430.7 363.1 1432.3C364.6 1433.9 363.9 1438.0 364.7 1440.4C365.5 1442.8 367.7 1444.1 368.0 1446.8C368.2 1449.5 366.9 1453.0 366.3 1456.5C365.8 1460.0 365.4 1463.8 364.7 1467.8C364.0 1471.9 363.1 1476.4 362.3 1480.7C361.5 1485.1 360.8 1489.5 359.9 1493.7C358.9 1497.8 357.2 1503.8 356.6 1505.8" fill="none" stroke="#1c1c1c" stroke-width="0.9"/>
<path d="M337.3 1450.9C338.7 1450.5 343.6 1448.3 346.1 1448.4C348.7 1448.6 350.7 1450.3 352.6 1451.7C354.5 1453.0 356.2 1454.4 357.5 1456.5C358.7 1458.7 359.6 1461.9 359.9 1464.6C360.1 1467.3 359.5 1469.4 359.1 1472.7C358.7 1475.9 358.3 1479.9 357.5 1484.0C356.6 1488.0 355.2 1493.9 354.2 1496.9C353.3 1499.9 352.2 1500.9 351.8 1501.7L-4000.0 1501.7L-4000.0 1450.9Z" fill="#f40000"/>
<path d="M337.3 1450.9C338.7 1450.5 343.6 1448.3 346.1 1448.4C348.7 1448.6 350.7 1450.3 352.6 1451.7C354.5 1453.0 356.2 1454.4 357.5 1456.5C358.7 1458.7 359.6 1461.9 359.9 1464.6C360.1 1467.3 359.5 1469.4 359.1 1472.7C358.7 1475.9 358.3 1479.9 357.5 1484.0C356.6 1488.0 355.2 1493.9 354.2 1496.9C353.3 1499.9 352.2 1500.9 351.8 1501.7" fill="none" stroke="#1c1c1c" stroke-width="0.9"/>
<path d="M422.0 1336.5C424.2 1334.1 428.5 1332.4 432.3 1330.3C436.1 1328.2 441.3 1325.5 444.7 1324.1C448.1 1322.7 451.2 1321.7 453.0 1322.0C454.7 1322.4 455.2 1324.1 455.0 1326.1C454.9 1328.2 451.8 1331.8 451.9 1334.4C452.1 1337.0 454.2 1340.0 456.1 1341.7C458.0 1343.3 460.9 1344.3 463.3 1344.3C465.7 1344.3 468.5 1341.2 470.5 1341.7C472.6 1342.1 475.2 1345.3 475.7 1346.8C476.2 1348.4 475.4 1349.4 473.6 1351.0C471.9 1352.5 467.3 1354.1 465.4 1356.1C463.5 1358.2 462.3 1361.1 462.3 1363.4C462.3 1365.6 465.9 1367.3 465.4 1369.6C464.9 1371.8 462.6 1375.1 459.2 1376.8C455.7 1378.5 449.2 1379.2 444.7 1379.9C440.2 1380.6 435.7 1380.9 432.3 1380.9C428.9 1380.9 425.8 1381.1 424.0 1379.9C422.2 1378.7 421.2 1376.5 421.6 1373.7C421.9 1370.9 426.0 1366.8 426.1 1363.4C426.2 1359.9 423.2 1356.1 422.0 1353.0C420.8 1349.9 418.9 1347.5 418.9 1344.8C418.9 1342.0 419.7 1338.9 422.0 1336.5Z" fill="#ff4300" stroke="#1c1c1c" stroke-width="0.9"/>
<path d="M391.0 1372.7C391.6 1372.0 393.2 1370.6 394.1 1370.6C394.9 1370.6 396.1 1371.7 396.1 1372.7C396.1 1373.6 394.9 1375.4 394.1 1376.2C393.2 1377.0 391.6 1377.7 391.0 1377.4C390.3 1377.2 389.9 1375.5 389.9 1374.7C389.9 1373.9 390.3 1373.4 391.0 1372.7Z" fill="#ff4300" stroke="#1c1c1c" stroke-width="0.9"/>
<path d="M370.3 1300.3C371.7 1301.5 376.5 1305.0 378.6 1307.5C380.6 1310.1 381.7 1312.4 382.7 1315.8C383.7 1319.3 384.8 1323.7 384.8 1328.2C384.8 1332.7 384.1 1338.6 382.7 1342.7C381.3 1346.8 378.2 1349.2 376.5 1353.0C374.8 1356.8 373.4 1361.3 372.4 1365.4C371.3 1369.6 371.0 1374.0 370.3 1377.8C369.6 1381.6 369.3 1385.4 368.2 1388.2C367.2 1390.9 366.1 1392.6 364.1 1394.4C362.0 1396.1 358.6 1397.1 355.8 1398.5C353.1 1399.9 350.0 1401.4 347.5 1402.6C345.1 1403.9 342.4 1405.6 341.3 1406.1L-4000.0 1406.1L-4000.0 -4000.0L370.3 -4000.0Z" fill="#ff9c00"/>
<path d="M370.3 1300.3C371.7 1301.5 376.5 1305.0 378.6 1307.5C380.6 1310.1 381.7 1312.4 382.7 1315.8C383.7 1319.3 384.8 1323.7 384.8 1328.2C384.8 1332.7 384.1 1338.6 382.7 1342.7C381.3 1346.8 378.2 1349.2 376.5 1353.0C374.8 1356.8 373.4 1361.3 372.4 1365.4C371.3 1369.6 371.0 1374.0 370.3 1377.8C369.6 1381.6 369.3 1385.4 368.2 1388.2C367.2 1390.9 366.1 1392.6 364.1 1394.4C362.0 1396.1 358.6 1397.1 355.8 1398.5C353.1 1399.9 350.0 1401.4 347.5 1402.6C345.1 1403.9 342.4 1405.6 341.3 1406.1" fill="none" stroke="#1c1c1c" stroke-width="0.9"/>
<path d="M355.8 1314.8C356.8 1316.0 360.6 1319.8 362.0 1322.0C363.4 1324.3 364.4 1325.8 364.1 1328.2C363.7 1330.6 360.8 1333.4 359.9 1336.5C359.1 1339.6 358.7 1343.0 358.9 1346.8C359.1 1350.6 360.8 1355.4 361.0 1359.2C361.2 1363.0 360.8 1366.5 359.9 1369.6C359.1 1372.7 357.5 1375.6 355.8 1377.8C354.1 1380.1 352.0 1381.7 349.6 1383.0C347.2 1384.3 342.7 1385.2 341.3 1385.7L-4000.0 1385.7L-4000.0 -4000.0L355.8 -4000.0Z" fill="#ffb900"/>
<path d="M355.8 1314.8C356.8 1316.0 360.6 1319.8 362.0 1322.0C363.4 1324.3 364.4 1325.8 364.1 1328.2C363.7 1330.6 360.8 1333.4 359.9 1336.5C359.1 1339.6 358.7 1343.0 358.9 1346.8C359.1 1350.6 360.8 1355.4 361.0 1359.2C361.2 1363.0 360.8 1366.5 359.9 1369.6C359.1 1372.7 357.5 1375.6 355.8 1377.8C354.1 1380.1 352.0 1381.7 349.6 1383.0C347.2 1384.3 342.7 1385.2 341.3 1385.7" fill="none" stroke="#1c1c1c" stroke-width="0.9"/>
<path d="M405.4 1286.9C406.1 1288.4 407.5 1294.3 409.6 1296.2C411.6 1298.1 415.1 1298.4 417.8 1298.2C420.6 1298.1 424.2 1297.0 426.1 1295.1C428.0 1293.2 428.7 1288.3 429.2 1286.9L429.2 -4000.0L405.4 -4000.0Z" fill="#ff4300"/>
<path d="M405.4 1286.9C406.1 1288.4 407.5 1294.3 409.6 1296.2C411.6 1298.1 415.1 1298.4 417.8 1298.2C420.6 1298.1 424.2 1297.0 426.1 1295.1C428.0 1293.2 428.7 1288.3 429.2 1286.9" fill="none" stroke="#1c1c1c" stroke-width="0.9"/>
<path d="M437.5 1286.9C437.8 1288.3 438.0 1293.1 439.5 1295.1C441.1 1297.1 444.2 1298.5 446.8 1298.9C449.4 1299.2 453.1 1299.2 455.0 1297.2C456.9 1295.2 457.6 1288.6 458.1 1286.9L458.1 -4000.0L437.5 -4000.0Z" fill="#ff9c00"/>
<path d="M437.5 1286.9C437.8 1288.3 438.0 1293.1 439.5 1295.1C441.1 1297.1 444.2 1298.5 446.8 1298.9C449.4 1299.2 453.1 1299.2 455.0 1297.2C456.9 1295.2 457.6 1288.6 458.1 1286.9" fill="none" stroke="#1c1c1c" stroke-width="0.9"/>
<path d="M472.6 1288.9C473.1 1290.5 474.2 1296.0 475.7 1298.2C477.3 1300.5 479.3 1301.9 481.9 1302.4C484.5 1302.8 489.7 1301.2 491.2 1300.9L4000.0 1300.9L4000.0 -4000.0L472.6 -4000.0Z" fill="#ff4300"/>
<path d="M472.6 1288.9C473.1 1290.5 474.2 1296.0 475.7 1298.2C477.3 1300.5 479.3 1301.9 481.9 1302.4C484.5 1302.8 489.7 1301.2 491.2 1300.9" fill="none" stroke="#1c1c1c" stroke-width="0.9"/>
</g>
<text x="411" y="1448" font-size="31.3" style="fill:#fff">Short</text>
<clipPath id="clip4"><path d="M83.7 1760.7L142.6 1760.7L146.8 1763.8L155.0 1767.9L163.3 1775.2L167.4 1783.4L175.7 1795.8L179.8 1808.2L196.4 1825.8L208.8 1835.1L212.9 1843.4L217.1 1857.8L225.3 1872.3L229.5 1882.7L237.7 1892.0L245.0 1893.0L246.0 1901.3L246.0 1921.9L241.9 1930.2L241.9 1942.6L237.7 1948.8L233.6 1961.2L225.3 1969.5L217.1 1981.9L208.8 1998.4L200.5 2004.6L192.2 2012.9L184.0 2022.2L173.6 2027.4L165.4 2034.6L52.1 2034.6L48.6 2031.5L44.4 2021.2L40.3 2010.8L36.2 1998.4L32.0 1986.0L27.9 1973.6L23.8 1967.4L19.6 1957.1L15.5 1944.7L11.4 1938.5L11.4 1886.8L15.5 1868.2L15.5 1814.4L19.6 1806.2L19.6 1793.8L23.8 1791.7L32.0 1782.4L42.4 1774.1L53.7 1769.0L64.1 1765.4L80.6 1763.8Z"/></clipPath>
<g clip-path="url(#clip4)">
<path d="M83.7 1760.7L142.6 1760.7L146.8 1763.8L155.0 1767.9L163.3 1775.2L167.4 1783.4L175.7 1795.8L179.8 1808.2L196.4 1825.8L208.8 1835.1L212.9 1843.4L217.1 1857.8L225.3 1872.3L229.5 1882.7L237.7 1892.0L245.0 1893.0L246.0 1901.3L246.0 1921.9L241.9 1930.2L241.9 1942.6L237.7 1948.8L233.6 1961.2L225.3 1969.5L217.1 1981.9L208.8 1998.4L200.5 2004.6L192.2 2012.9L184.0 2022.2L173.6 2027.4L165.4 2034.6L52.1 2034.6L48.6 2031.5L44.4 2021.2L40.3 2010.8L36.2 1998.4L32.0 1986.0L27.9 1973.6L23.8 1967.4L19.6 1957.1L15.5 1944.7L11.4 1938.5L11.4 1886.8L15.5 1868.2L15.5 1814.4L19.6 1806.2L19.6 1793.8L23.8 1791.7L32.0 1782.4L42.4 1774.1L53.7 1769.0L64.1 1765.4L80.6 1763.8Z" fill="#ffff00"/>
<path d="M100.3 1759.2C100.4 1760.8 101.5 1765.8 101.3 1768.5C101.1 1771.3 101.3 1774.2 99.2 1775.8C97.2 1777.3 92.3 1777.3 88.9 1777.8C85.4 1778.4 81.3 1777.7 78.6 1778.9C75.8 1780.1 73.9 1782.7 72.4 1785.1C70.8 1787.5 69.3 1790.3 69.3 1793.4C69.3 1796.5 71.7 1800.6 72.4 1803.7C73.0 1806.8 74.1 1808.9 73.4 1812.0C72.7 1815.1 70.5 1818.8 68.2 1822.3C66.0 1825.7 62.7 1828.8 59.9 1832.6C57.2 1836.4 54.8 1840.9 51.7 1845.0C48.6 1849.2 44.8 1853.6 41.3 1857.4C37.9 1861.2 34.5 1864.5 31.0 1867.8C27.6 1871.0 23.6 1874.7 20.7 1877.1C17.7 1879.4 14.6 1881.0 13.4 1881.8L-4000.0 1881.8L-4000.0 -4000.0L100.3 -4000.0Z" fill="#ffff72"/>
<path d="M100.3 1759.2C100.4 1760.8 101.5 1765.8 101.3 1768.5C101.1 1771.3 101.3 1774.2 99.2 1775.8C97.2 1777.3 92.3 1777.3 88.9 1777.8C85.4 1778.4 81.3 1777.7 78.6 1778.9C75.8 1780.1 73.9 1782.7 72.4 1785.1C70.8 1787.5 69.3 1790.3 69.3 1793.4C69.3 1796.5 71.7 1800.6 72.4 1803.7C73.0 1806.8 74.1 1808.9 73.4 1812.0C72.7 1815.1 70.5 1818.8 68.2 1822.3C66.0 1825.7 62.7 1828.8 59.9 1832.6C57.2 1836.4 54.8 1840.9 51.7 1845.0C48.6 1849.2 44.8 1853.6 41.3 1857.4C37.9 1861.2 34.5 1864.5 31.0 1867.8C27.6 1871.0 23.6 1874.7 20.7 1877.1C17.7 1879.4 14.6 1881.0 13.4 1881.8" fill="none" stroke="#1c1c1c" stroke-width="0.9"/>
<path d="M48.0 1772.3C48.4 1773.7 50.5 1778.1 50.6 1780.9C50.7 1783.8 50.0 1786.5 48.6 1789.2C47.2 1792.0 45.3 1795.6 42.4 1797.5C39.4 1799.4 35.0 1799.8 31.0 1800.6C27.0 1801.3 20.7 1801.8 18.6 1802.0L-4000.0 1802.0L-4000.0 -4000.0L48.0 -4000.0Z" fill="#ffff00"/>
<path d="M48.0 1772.3C48.4 1773.7 50.5 1778.1 50.6 1780.9C50.7 1783.8 50.0 1786.5 48.6 1789.2C47.2 1792.0 45.3 1795.6 42.4 1797.5C39.4 1799.4 35.0 1799.8 31.0 1800.6C27.0 1801.3 20.7 1801.8 18.6 1802.0" fill="none" stroke="#1c1c1c" stroke-width="0.9"/>
<path d="M126.1 1759.2C126.3 1761.1 125.8 1768.7 127.1 1770.6C128.5 1772.5 131.8 1771.5 134.4 1770.6C137.0 1769.8 140.6 1766.8 142.6 1765.4C144.7 1764.1 146.1 1762.9 146.8 1762.3L146.8 -4000.0L126.1 -4000.0Z" fill="#ffff72"/>
<path d="M126.1 1759.2C126.3 1761.1 125.8 1768.7 127.1 1770.6C128.5 1772.5 131.8 1771.5 134.4 1770.6C137.0 1769.8 140.6 1766.8 142.6 1765.4C144.7 1764.1 146.1 1762.9 146.8 1762.3" fill="none" stroke="#1c1c1c" stroke-width="0.9"/>
<path d="M31.0 1820.2C32.0 1818.4 34.6 1817.7 36.2 1817.7C37.7 1817.7 39.5 1818.8 40.3 1820.2C41.1 1821.7 41.4 1824.5 40.9 1826.4C40.4 1828.3 38.7 1830.4 37.2 1831.6C35.7 1832.8 33.2 1834.2 32.0 1833.7C30.8 1833.1 30.1 1830.7 30.0 1828.5C29.8 1826.3 30.0 1822.0 31.0 1820.2Z" fill="#ffffa1" stroke="#1c1c1c" stroke-width="0.9"/>
<path d="M15.5 1947.4C16.4 1945.5 19.3 1941.0 20.7 1936.0C22.0 1931.0 22.7 1923.6 23.8 1917.4C24.8 1911.2 25.3 1904.6 26.9 1898.8C28.4 1892.9 30.3 1887.8 33.1 1882.2C35.8 1876.7 39.6 1871.2 43.4 1865.7C47.2 1860.2 51.7 1854.0 55.8 1849.2C59.9 1844.3 63.7 1840.9 68.2 1836.8C72.7 1832.6 78.6 1827.6 82.7 1824.4C86.8 1821.1 89.9 1818.8 93.0 1817.1C96.1 1815.4 98.2 1814.2 101.3 1814.0C104.4 1813.9 107.8 1815.5 111.6 1816.1C115.4 1816.7 119.2 1817.4 124.0 1817.5C128.9 1817.7 135.1 1817.0 140.6 1817.1C146.1 1817.2 151.9 1818.0 157.1 1818.2C162.3 1818.3 167.8 1818.3 171.6 1818.2C175.4 1818.0 177.1 1817.5 179.8 1817.1C182.6 1816.7 186.7 1815.9 188.1 1815.7L4000.0 1815.7L4000.0 4000.0L-4000.0 4000.0L-4000.0 1947.4Z" fill="#ffe400"/>
<path d="M15.5 1947.4C16.4 1945.5 19.3 1941.0 20.7 1936.0C22.0 1931.0 22.7 1923.6 23.8 1917.4C24.8 1911.2 25.3 1904.6 26.9 1898.8C28.4 1892.9 30.3 1887.8 33.1 1882.2C35.8 1876.7 39.6 1871.2 43.4 1865.7C47.2 1860.2 51.7 1854.0 55.8 1849.2C59.9 1844.3 63.7 1840.9 68.2 1836.8C72.7 1832.6 78.6 1827.6 82.7 1824.4C86.8 1821.1 89.9 1818.8 93.0 1817.1C96.1 1815.4 98.2 1814.2 101.3 1814.0C104.4 1813.9 107.8 1815.5 111.6 1816.1C115.4 1816.7 119.2 1817.4 124.0 1817.5C128.9 1817.7 135.1 1817.0 140.6 1817.1C146.1 1817.2 151.9 1818.0 157.1 1818.2C162.3 1818.3 167.8 1818.3 171.6 1818.2C175.4 1818.0 177.1 1817.5 179.8 1817.1C182.6 1816.7 186.7 1815.9 188.1 1815.7" fill="none" stroke="#1c1c1c" stroke-width="0.9"/>
<path d="M18.6 1954.6C19.6 1952.2 23.1 1946.0 24.8 1940.1C26.5 1934.3 27.6 1926.0 28.9 1919.4C30.3 1912.9 31.4 1906.7 33.1 1900.8C34.8 1895.0 36.2 1890.2 39.3 1884.3C42.4 1878.5 47.5 1871.2 51.7 1865.7C55.8 1860.2 59.9 1855.0 64.1 1851.2C68.2 1847.4 72.4 1844.9 76.5 1843.0C80.6 1841.1 84.4 1840.6 88.9 1839.9C93.4 1839.2 98.5 1839.0 103.4 1838.8C108.2 1838.7 113.4 1839.3 117.8 1838.8C122.3 1838.3 126.8 1836.6 130.2 1835.7C133.7 1834.9 135.7 1833.9 138.5 1833.7C141.3 1833.4 143.0 1833.4 146.8 1834.3C150.6 1835.1 156.4 1837.6 161.2 1838.8C166.1 1840.1 170.9 1840.9 175.7 1841.9C180.5 1843.0 185.7 1844.3 190.2 1845.0C194.7 1845.7 199.1 1846.9 202.6 1846.1C206.0 1845.2 209.5 1840.9 210.9 1839.9L4000.0 1839.9L4000.0 4000.0L-4000.0 4000.0L-4000.0 1954.6Z" fill="#ffc600"/>
<path d="M18.6 1954.6C19.6 1952.2 23.1 1946.0 24.8 1940.1C26.5 1934.3 27.6 1926.0 28.9 1919.4C30.3 1912.9 31.4 1906.7 33.1 1900.8C34.8 1895.0 36.2 1890.2 39.3 1884.3C42.4 1878.5 47.5 1871.2 51.7 1865.7C55.8 1860.2 59.9 1855.0 64.1 1851.2C68.2 1847.4 72.4 1844.9 76.5 1843.0C80.6 1841.1 84.4 1840.6 88.9 1839.9C93.4 1839.2 98.5 1839.0 103.4 1838.8C108.2 1838.7 113.4 1839.3 117.8 1838.8C122.3 1838.3 126.8 1836.6 130.2 1835.7C133.7 1834.9 135.7 1833.9 138.5 1833.7C141.3 1833.4 143.0 1833.4 146.8 1834.3C150.6 1835.1 156.4 1837.6 161.2 1838.8C166.1 1840.1 170.9 1840.9 175.7 1841.9C180.5 1843.0 185.7 1844.3 190.2 1845.0C194.7 1845.7 199.1 1846.9 202.6 1846.1C206.0 1845.2 209.5 1840.9 210.9 1839.9" fill="none" stroke="#1c1c1c" stroke-width="0.9"/>
<path d="M19.6 1960.8C20.8 1958.0 24.8 1950.5 26.9 1944.3C28.9 1938.1 30.3 1930.1 32.0 1923.6C33.8 1917.0 35.0 1910.8 37.2 1905.0C39.4 1899.1 42.0 1893.6 45.5 1888.4C48.9 1883.3 53.7 1878.1 57.9 1874.0C62.0 1869.8 66.1 1866.4 70.3 1863.6C74.4 1860.9 77.9 1858.5 82.7 1857.4C87.5 1856.4 93.7 1857.6 99.2 1857.4C104.7 1857.3 110.2 1856.7 115.8 1856.4C121.3 1856.1 127.5 1855.6 132.3 1855.8C137.1 1856.0 140.6 1856.1 144.7 1857.4C148.8 1858.7 153.7 1861.6 157.1 1863.6C160.6 1865.7 162.6 1867.1 165.4 1869.8C168.1 1872.6 170.2 1877.1 173.6 1880.2C177.1 1883.3 182.3 1886.0 186.0 1888.4C189.8 1890.9 193.3 1891.5 196.4 1894.6C199.5 1897.7 202.2 1902.9 204.7 1907.0C207.1 1911.2 209.5 1916.0 210.9 1919.4C212.2 1922.9 212.1 1926.2 212.9 1927.7C213.8 1929.3 215.2 1929.1 216.0 1928.8C216.9 1928.4 217.2 1925.3 218.1 1925.7C218.9 1926.0 220.0 1929.8 221.2 1930.8C222.4 1931.9 223.9 1932.4 225.3 1931.9C226.7 1931.3 227.7 1928.4 229.5 1927.7C231.2 1927.0 233.9 1928.8 235.7 1927.7C237.4 1926.7 238.8 1925.0 239.8 1921.5C240.8 1918.1 241.7 1911.2 241.9 1907.0C242.0 1902.9 241.3 1899.4 240.8 1896.7C240.3 1894.0 239.1 1891.9 238.8 1890.9L4000.0 1890.9L4000.0 4000.0L-4000.0 4000.0L-4000.0 1960.8Z" fill="#ffa100"/>
<path d="M19.6 1960.8C20.8 1958.0 24.8 1950.5 26.9 1944.3C28.9 1938.1 30.3 1930.1 32.0 1923.6C33.8 1917.0 35.0 1910.8 37.2 1905.0C39.4 1899.1 42.0 1893.6 45.5 1888.4C48.9 1883.3 53.7 1878.1 57.9 1874.0C62.0 1869.8 66.1 1866.4 70.3 1863.6C74.4 1860.9 77.9 1858.5 82.7 1857.4C87.5 1856.4 93.7 1857.6 99.2 1857.4C104.7 1857.3 110.2 1856.7 115.8 1856.4C121.3 1856.1 127.5 1855.6 132.3 1855.8C137.1 1856.0 140.6 1856.1 144.7 1857.4C148.8 1858.7 153.7 1861.6 157.1 1863.6C160.6 1865.7 162.6 1867.1 165.4 1869.8C168.1 1872.6 170.2 1877.1 173.6 1880.2C177.1 1883.3 182.3 1886.0 186.0 1888.4C189.8 1890.9 193.3 1891.5 196.4 1894.6C199.5 1897.7 202.2 1902.9 204.7 1907.0C207.1 1911.2 209.5 1916.0 210.9 1919.4C212.2 1922.9 212.1 1926.2 212.9 1927.7C213.8 1929.3 215.2 1929.1 216.0 1928.8C216.9 1928.4 217.2 1925.3 218.1 1925.7C218.9 1926.0 220.0 1929.8 221.2 1930.8C222.4 1931.9 223.9 1932.4 225.3 1931.9C226.7 1931.3 227.7 1928.4 229.5 1927.7C231.2 1927.0 233.9 1928.8 235.7 1927.7C237.4 1926.7 238.8 1925.0 239.8 1921.5C240.8 1918.1 241.7 1911.2 241.9 1907.0C242.0 1902.9 241.3 1899.4 240.8 1896.7C240.3 1894.0 239.1 1891.9 238.8 1890.9" fill="none" stroke="#1c1c1c" stroke-width="0.9"/>
<path d="M20.7 1964.9C22.0 1961.8 26.5 1952.5 28.9 1946.3C31.4 1940.1 33.1 1933.6 35.1 1927.7C37.2 1921.9 38.9 1916.3 41.3 1911.2C43.8 1906.0 46.5 1900.8 49.6 1896.7C52.7 1892.6 56.5 1889.0 59.9 1886.4C63.4 1883.8 67.2 1882.8 70.3 1881.2C73.4 1879.7 75.5 1878.5 78.6 1877.1C81.7 1875.7 84.8 1873.9 88.9 1872.9C93.0 1872.0 98.9 1871.7 103.4 1871.5C107.8 1871.3 112.0 1871.3 115.8 1871.9C119.6 1872.5 122.7 1873.3 126.1 1875.0C129.5 1876.7 133.3 1879.3 136.4 1882.2C139.5 1885.2 141.9 1888.8 144.7 1892.6C147.5 1896.4 149.9 1900.8 153.0 1905.0C156.1 1909.1 160.2 1913.6 163.3 1917.4C166.4 1921.2 168.8 1924.3 171.6 1927.7C174.3 1931.2 177.4 1935.6 179.8 1938.1C182.3 1940.5 183.6 1939.8 186.0 1942.2C188.5 1944.6 191.2 1949.4 194.3 1952.5C197.4 1955.6 200.9 1959.1 204.7 1960.8C208.4 1962.5 212.9 1962.1 217.1 1962.9C221.2 1963.6 227.4 1964.9 229.5 1965.3L4000.0 1965.3L4000.0 4000.0L-4000.0 4000.0L-4000.0 1964.9Z" fill="#ff7200"/>
<path d="M20.7 1964.9C22.0 1961.8 26.5 1952.5 28.9 1946.3C31.4 1940.1 33.1 1933.6 35.1 1927.7C37.2 1921.9 38.9 1916.3 41.3 1911.2C43.8 1906.0 46.5 1900.8 49.6 1896.7C52.7 1892.6 56.5 1889.0 59.9 1886.4C63.4 1883.8 67.2 1882.8 70.3 1881.2C73.4 1879.7 75.5 1878.5 78.6 1877.1C81.7 1875.7 84.8 1873.9 88.9 1872.9C93.0 1872.0 98.9 1871.7 103.4 1871.5C107.8 1871.3 112.0 1871.3 115.8 1871.9C119.6 1872.5 122.7 1873.3 126.1 1875.0C129.5 1876.7 133.3 1879.3 136.4 1882.2C139.5 1885.2 141.9 1888.8 144.7 1892.6C147.5 1896.4 149.9 1900.8 153.0 1905.0C156.1 1909.1 160.2 1913.6 163.3 1917.4C166.4 1921.2 168.8 1924.3 171.6 1927.7C174.3 1931.2 177.4 1935.6 179.8 1938.1C182.3 1940.5 183.6 1939.8 186.0 1942.2C188.5 1944.6 191.2 1949.4 194.3 1952.5C197.4 1955.6 200.9 1959.1 204.7 1960.8C208.4 1962.5 212.9 1962.1 217.1 1962.9C221.2 1963.6 227.4 1964.9 229.5 1965.3" fill="none" stroke="#1c1c1c" stroke-width="0.9"/>
<path d="M22.7 1969.1C24.1 1966.3 28.3 1958.0 31.0 1952.5C33.8 1947.0 36.2 1941.5 39.3 1936.0C42.4 1930.5 46.2 1923.9 49.6 1919.4C53.1 1915.0 56.8 1911.9 59.9 1909.1C63.0 1906.4 66.3 1904.3 68.2 1902.9C70.1 1901.5 69.6 1901.7 71.3 1900.8C73.0 1900.0 75.6 1899.1 78.6 1897.7C81.5 1896.4 85.4 1894.0 88.9 1893.0C92.3 1892.0 95.8 1891.3 99.2 1891.5C102.7 1891.8 106.1 1893.1 109.6 1894.6C113.0 1896.2 116.8 1898.1 119.9 1900.8C123.0 1903.6 124.7 1907.4 128.2 1911.2C131.6 1915.0 136.4 1919.8 140.6 1923.6C144.7 1927.4 149.5 1930.5 153.0 1933.9C156.4 1937.4 158.5 1940.8 161.2 1944.3C164.0 1947.7 166.8 1951.1 169.5 1954.6C172.3 1958.0 174.3 1961.5 177.8 1964.9C181.2 1968.4 186.0 1972.5 190.2 1975.3C194.3 1978.0 197.9 1979.8 202.6 1981.5C207.2 1983.1 215.5 1984.4 218.1 1985.0L4000.0 1985.0L4000.0 4000.0L-4000.0 4000.0L-4000.0 1969.1Z" fill="#ff0000"/>
<path d="M22.7 1969.1C24.1 1966.3 28.3 1958.0 31.0 1952.5C33.8 1947.0 36.2 1941.5 39.3 1936.0C42.4 1930.5 46.2 1923.9 49.6 1919.4C53.1 1915.0 56.8 1911.9 59.9 1909.1C63.0 1906.4 66.3 1904.3 68.2 1902.9C70.1 1901.5 69.6 1901.7 71.3 1900.8C73.0 1900.0 75.6 1899.1 78.6 1897.7C81.5 1896.4 85.4 1894.0 88.9 1893.0C92.3 1892.0 95.8 1891.3 99.2 1891.5C102.7 1891.8 106.1 1893.1 109.6 1894.6C113.0 1896.2 116.8 1898.1 119.9 1900.8C123.0 1903.6 124.7 1907.4 128.2 1911.2C131.6 1915.0 136.4 1919.8 140.6 1923.6C144.7 1927.4 149.5 1930.5 153.0 1933.9C156.4 1937.4 158.5 1940.8 161.2 1944.3C164.0 1947.7 166.8 1951.1 169.5 1954.6C172.3 1958.0 174.3 1961.5 177.8 1964.9C181.2 1968.4 186.0 1972.5 190.2 1975.3C194.3 1978.0 197.9 1979.8 202.6 1981.5C207.2 1983.1 215.5 1984.4 218.1 1985.0" fill="none" stroke="#1c1c1c" stroke-width="0.9"/>
<path d="M27.9 1979.4C28.6 1977.0 30.1 1970.1 32.0 1964.9C33.9 1959.8 36.0 1953.6 39.3 1948.4C42.5 1943.2 47.9 1937.2 51.7 1933.9C55.5 1930.6 58.6 1930.6 62.0 1928.8C65.5 1926.9 68.9 1924.4 72.4 1922.6C75.8 1920.7 79.2 1918.4 82.7 1917.4C86.1 1916.3 89.6 1916.0 93.0 1916.3C96.5 1916.7 99.9 1917.9 103.4 1919.4C106.8 1921.0 110.2 1923.2 113.7 1925.7C117.1 1928.1 120.2 1930.8 124.0 1933.9C127.8 1937.0 132.3 1940.8 136.4 1944.3C140.6 1947.7 145.4 1951.1 148.8 1954.6C152.3 1958.0 154.3 1961.5 157.1 1964.9C159.9 1968.4 162.3 1972.2 165.4 1975.3C168.5 1978.4 171.9 1981.3 175.7 1983.5C179.5 1985.8 184.0 1987.3 188.1 1988.7C192.2 1990.1 196.4 1990.9 200.5 1991.8C204.7 1992.7 210.9 1993.5 212.9 1993.9L4000.0 1993.9L4000.0 4000.0L-4000.0 4000.0L-4000.0 1979.4Z" fill="#e40000"/>
<path d="M27.9 1979.4C28.6 1977.0 30.1 1970.1 32.0 1964.9C33.9 1959.8 36.0 1953.6 39.3 1948.4C42.5 1943.2 47.9 1937.2 51.7 1933.9C55.5 1930.6 58.6 1930.6 62.0 1928.8C65.5 1926.9 68.9 1924.4 72.4 1922.6C75.8 1920.7 79.2 1918.4 82.7 1917.4C86.1 1916.3 89.6 1916.0 93.0 1916.3C96.5 1916.7 99.9 1917.9 103.4 1919.4C106.8 1921.0 110.2 1923.2 113.7 1925.7C117.1 1928.1 120.2 1930.8 124.0 1933.9C127.8 1937.0 132.3 1940.8 136.4 1944.3C140.6 1947.7 145.4 1951.1 148.8 1954.6C152.3 1958.0 154.3 1961.5 157.1 1964.9C159.9 1968.4 162.3 1972.2 165.4 1975.3C168.5 1978.4 171.9 1981.3 175.7 1983.5C179.5 1985.8 184.0 1987.3 188.1 1988.7C192.2 1990.1 196.4 1990.9 200.5 1991.8C204.7 1992.7 210.9 1993.5 212.9 1993.9" fill="none" stroke="#1c1c1c" stroke-width="0.9"/>
<path d="M30.0 1987.7C31.0 1985.8 35.2 1979.2 36.2 1976.3C37.1 1973.4 34.7 1972.7 35.6 1970.1C36.4 1967.5 38.7 1963.7 41.3 1960.8C44.0 1957.9 48.6 1954.6 51.7 1952.5C54.8 1950.5 56.5 1949.9 59.9 1948.4C63.4 1946.8 67.9 1944.8 72.4 1943.2C76.8 1941.7 82.7 1939.6 86.8 1939.1C91.0 1938.6 93.7 1939.3 97.2 1940.1C100.6 1941.0 103.7 1942.2 107.5 1944.3C111.3 1946.3 115.8 1949.1 119.9 1952.5C124.0 1956.0 129.5 1960.8 132.3 1964.9C135.1 1969.1 134.4 1974.9 136.4 1977.3C138.5 1979.7 141.9 1978.0 144.7 1979.4C147.5 1980.8 149.9 1983.5 153.0 1985.6C156.1 1987.7 159.5 1989.7 163.3 1991.8C167.1 1993.9 171.2 1996.3 175.7 1998.0C180.2 1999.7 185.2 2001.0 190.2 2002.1C195.2 2003.2 203.1 2004.2 205.7 2004.6L4000.0 2004.6L4000.0 4000.0L-4000.0 4000.0L-4000.0 1987.7Z" fill="#c60000"/>
<path d="M30.0 1987.7C31.0 1985.8 35.2 1979.2 36.2 1976.3C37.1 1973.4 34.7 1972.7 35.6 1970.1C36.4 1967.5 38.7 1963.7 41.3 1960.8C44.0 1957.9 48.6 1954.6 51.7 1952.5C54.8 1950.5 56.5 1949.9 59.9 1948.4C63.4 1946.8 67.9 1944.8 72.4 1943.2C76.8 1941.7 82.7 1939.6 86.8 1939.1C91.0 1938.6 93.7 1939.3 97.2 1940.1C100.6 1941.0 103.7 1942.2 107.5 1944.3C111.3 1946.3 115.8 1949.1 119.9 1952.5C124.0 1956.0 129.5 1960.8 132.3 1964.9C135.1 1969.1 134.4 1974.9 136.4 1977.3C138.5 1979.7 141.9 1978.0 144.7 1979.4C147.5 1980.8 149.9 1983.5 153.0 1985.6C156.1 1987.7 159.5 1989.7 163.3 1991.8C167.1 1993.9 171.2 1996.3 175.7 1998.0C180.2 1999.7 185.2 2001.0 190.2 2002.1C195.2 2003.2 203.1 2004.2 205.7 2004.6" fill="none" stroke="#1c1c1c" stroke-width="0.9"/>
<path d="M42.4 2020.7C43.2 2017.3 45.7 2006.3 47.5 2000.1C49.4 1993.9 51.0 1988.4 53.7 1983.5C56.5 1978.7 60.3 1974.6 64.1 1971.1C67.9 1967.7 72.4 1964.8 76.5 1962.9C80.6 1961.0 84.8 1960.1 88.9 1959.8C93.0 1959.4 97.2 1959.9 101.3 1960.8C105.4 1961.7 109.9 1963.5 113.7 1964.9C117.5 1966.3 120.9 1967.7 124.0 1969.1C127.1 1970.4 129.9 1971.1 132.3 1973.2C134.7 1975.3 135.7 1978.7 138.5 1981.5C141.3 1984.2 145.0 1987.0 148.8 1989.7C152.6 1992.5 157.1 1995.6 161.2 1998.0C165.4 2000.4 169.5 2002.5 173.6 2004.2C177.8 2005.9 182.1 2007.2 186.0 2008.3C190.0 2009.4 195.5 2010.4 197.4 2010.8L4000.0 2010.8L4000.0 4000.0L-4000.0 4000.0L-4000.0 2020.7Z" fill="#a10000"/>
<path d="M42.4 2020.7C43.2 2017.3 45.7 2006.3 47.5 2000.1C49.4 1993.9 51.0 1988.4 53.7 1983.5C56.5 1978.7 60.3 1974.6 64.1 1971.1C67.9 1967.7 72.4 1964.8 76.5 1962.9C80.6 1961.0 84.8 1960.1 88.9 1959.8C93.0 1959.4 97.2 1959.9 101.3 1960.8C105.4 1961.7 109.9 1963.5 113.7 1964.9C117.5 1966.3 120.9 1967.7 124.0 1969.1C127.1 1970.4 129.9 1971.1 132.3 1973.2C134.7 1975.3 135.7 1978.7 138.5 1981.5C141.3 1984.2 145.0 1987.0 148.8 1989.7C152.6 1992.5 157.1 1995.6 161.2 1998.0C165.4 2000.4 169.5 2002.5 173.6 2004.2C177.8 2005.9 182.1 2007.2 186.0 2008.3C190.0 2009.4 195.5 2010.4 197.4 2010.8" fill="none" stroke="#1c1c1c" stroke-width="0.9"/>
<path d="M48.6 2031.1C49.4 2028.7 51.9 2021.4 53.7 2016.6C55.6 2011.8 57.2 2006.6 59.9 2002.1C62.7 1997.7 66.5 1993.0 70.3 1989.7C74.1 1986.5 78.6 1984.2 82.7 1982.5C86.8 1980.8 91.0 1980.0 95.1 1979.8C99.2 1979.6 103.4 1980.2 107.5 1981.5C111.6 1982.8 115.8 1985.3 119.9 1987.7C124.0 1990.1 128.2 1993.2 132.3 1995.9C136.4 1998.7 140.6 2001.8 144.7 2004.2C148.8 2006.6 152.6 2008.5 157.1 2010.4C161.6 2012.3 166.8 2013.8 171.6 2015.6C176.4 2017.4 183.6 2020.2 186.0 2021.2L4000.0 2021.2L4000.0 4000.0L-4000.0 4000.0L-4000.0 2031.1Z" fill="#720000"/>
<path d="M48.6 2031.1C49.4 2028.7 51.9 2021.4 53.7 2016.6C55.6 2011.8 57.2 2006.6 59.9 2002.1C62.7 1997.7 66.5 1993.0 70.3 1989.7C74.1 1986.5 78.6 1984.2 82.7 1982.5C86.8 1980.8 91.0 1980.0 95.1 1979.8C99.2 1979.6 103.4 1980.2 107.5 1981.5C111.6 1982.8 115.8 1985.3 119.9 1987.7C124.0 1990.1 128.2 1993.2 132.3 1995.9C136.4 1998.7 140.6 2001.8 144.7 2004.2C148.8 2006.6 152.6 2008.5 157.1 2010.4C161.6 2012.3 166.8 2013.8 171.6 2015.6C176.4 2017.4 183.6 2020.2 186.0 2021.2" fill="none" stroke="#1c1c1c" stroke-width="0.9"/>
<path d="M67.2 2035.8C67.9 2033.7 69.1 2026.7 71.3 2022.8C73.6 2018.9 77.3 2015.1 80.6 2012.5C83.9 2009.9 87.5 2008.5 91.0 2007.3C94.4 2006.1 97.8 2005.2 101.3 2005.2C104.7 2005.2 107.8 2006.3 111.6 2007.3C115.4 2008.3 119.9 2009.9 124.0 2011.4C128.2 2013.0 132.3 2014.9 136.4 2016.6C140.6 2018.3 144.7 2020.1 148.8 2021.8C153.0 2023.5 158.0 2025.3 161.2 2026.9C164.5 2028.6 167.3 2030.7 168.5 2031.5L4000.0 2031.5L4000.0 4000.0L-4000.0 4000.0L-4000.0 2035.8Z" fill="#000000"/>
<path d="M67.2 2035.8C67.9 2033.7 69.1 2026.7 71.3 2022.8C73.6 2018.9 77.3 2015.1 80.6 2012.5C83.9 2009.9 87.5 2008.5 91.0 2007.3C94.4 2006.1 97.8 2005.2 101.3 2005.2C104.7 2005.2 107.8 2006.3 111.6 2007.3C115.4 2008.3 119.9 2009.9 124.0 2011.4C128.2 2013.0 132.3 2014.9 136.4 2016.6C140.6 2018.3 144.7 2020.1 148.8 2021.8C153.0 2023.5 158.0 2025.3 161.2 2026.9C164.5 2028.6 167.3 2030.7 168.5 2031.5" fill="none" stroke="#1c1c1c" stroke-width="0.9"/>
</g>
<clipPath id="clip5"><path d="M417.8 1754.7L476.7 1754.7L480.9 1757.8L489.1 1761.9L497.4 1769.2L501.6 1777.4L509.8 1789.8L514.0 1802.2L530.5 1819.8L542.9 1829.1L547.0 1837.4L551.2 1851.9L559.4 1866.3L563.6 1876.7L571.8 1886.0L579.1 1887.0L580.1 1895.3L580.1 1915.9L576.0 1924.2L576.0 1936.6L571.8 1942.8L567.7 1955.2L559.4 1963.5L551.2 1975.9L542.9 1992.4L534.6 1998.6L526.4 2006.9L518.1 2016.2L507.8 2021.4L499.5 2028.6L386.2 2028.6L382.7 2025.5L378.6 2015.2L374.4 2004.8L370.3 1992.4L366.1 1980.0L362.0 1967.6L357.9 1961.4L353.7 1951.1L349.6 1938.7L345.5 1932.5L345.5 1880.8L349.6 1862.2L349.6 1808.4L353.7 1800.2L353.7 1787.8L357.9 1785.7L366.1 1776.4L376.5 1768.1L387.9 1763.0L398.2 1759.4L414.7 1757.8Z"/></clipPath>
<g clip-path="url(#clip5)">
<path d="M417.8 1754.7L476.7 1754.7L480.9 1757.8L489.1 1761.9L497.4 1769.2L501.6 1777.4L509.8 1789.8L514.0 1802.2L530.5 1819.8L542.9 1829.1L547.0 1837.4L551.2 1851.9L559.4 1866.3L563.6 1876.7L571.8 1886.0L579.1 1887.0L580.1 1895.3L580.1 1915.9L576.0 1924.2L576.0 1936.6L571.8 1942.8L567.7 1955.2L559.4 1963.5L551.2 1975.9L542.9 1992.4L534.6 1998.6L526.4 2006.9L518.1 2016.2L507.8 2021.4L499.5 2028.6L386.2 2028.6L382.7 2025.5L378.6 2015.2L374.4 2004.8L370.3 1992.4L366.1 1980.0L362.0 1967.6L357.9 1961.4L353.7 1951.1L349.6 1938.7L345.5 1932.5L345.5 1880.8L349.6 1862.2L349.6 1808.4L353.7 1800.2L353.7 1787.8L357.9 1785.7L366.1 1776.4L376.5 1768.1L387.9 1763.0L398.2 1759.4L414.7 1757.8Z" fill="#ffc600"/>
<path d="M471.6 1753.7C472.1 1755.1 474.2 1759.7 474.7 1762.3C475.2 1765.0 475.9 1767.3 474.7 1769.6C473.5 1771.8 470.4 1773.9 467.4 1775.8C464.5 1777.7 460.2 1779.1 457.1 1780.9C454.0 1782.8 451.6 1785.4 448.8 1787.1C446.1 1788.9 443.3 1789.7 440.6 1791.3C437.8 1792.8 435.1 1794.7 432.3 1796.5C429.5 1798.2 426.8 1799.7 424.0 1801.6C421.3 1803.5 418.5 1805.4 415.8 1807.8C413.0 1810.2 410.2 1813.7 407.5 1816.1C404.7 1818.5 401.6 1819.9 399.2 1822.3C396.8 1824.7 395.1 1827.1 393.0 1830.6C391.0 1834.0 389.2 1838.8 386.8 1843.0C384.4 1847.1 381.7 1851.6 378.6 1855.4C375.5 1859.2 371.7 1862.8 368.2 1865.7C364.8 1868.6 361.0 1871.3 357.9 1872.9C354.8 1874.6 351.0 1875.0 349.6 1875.4L-4000.0 1875.4L-4000.0 -4000.0L471.6 -4000.0Z" fill="#ffe400"/>
<path d="M471.6 1753.7C472.1 1755.1 474.2 1759.7 474.7 1762.3C475.2 1765.0 475.9 1767.3 474.7 1769.6C473.5 1771.8 470.4 1773.9 467.4 1775.8C464.5 1777.7 460.2 1779.1 457.1 1780.9C454.0 1782.8 451.6 1785.4 448.8 1787.1C446.1 1788.9 443.3 1789.7 440.6 1791.3C437.8 1792.8 435.1 1794.7 432.3 1796.5C429.5 1798.2 426.8 1799.7 424.0 1801.6C421.3 1803.5 418.5 1805.4 415.8 1807.8C413.0 1810.2 410.2 1813.7 407.5 1816.1C404.7 1818.5 401.6 1819.9 399.2 1822.3C396.8 1824.7 395.1 1827.1 393.0 1830.6C391.0 1834.0 389.2 1838.8 386.8 1843.0C384.4 1847.1 381.7 1851.6 378.6 1855.4C375.5 1859.2 371.7 1862.8 368.2 1865.7C364.8 1868.6 361.0 1871.3 357.9 1872.9C354.8 1874.6 351.0 1875.0 349.6 1875.4" fill="none" stroke="#1c1c1c" stroke-width="0.9"/>
<path d="M393.0 1762.3C394.1 1762.5 397.2 1762.5 399.2 1763.4C401.3 1764.2 403.4 1766.3 405.4 1767.5C407.5 1768.7 409.6 1769.3 411.6 1770.6C413.7 1771.9 415.4 1774.3 417.8 1775.2C420.2 1776.0 423.8 1775.6 426.1 1775.8C428.4 1776.0 431.4 1775.5 431.9 1776.4C432.4 1777.3 430.9 1780.0 429.2 1780.9C427.5 1781.9 424.2 1781.6 422.0 1782.0C419.7 1782.3 417.8 1781.8 415.8 1783.0C413.7 1784.2 411.6 1786.8 409.6 1789.2C407.5 1791.6 405.4 1794.4 403.4 1797.5C401.3 1800.6 399.2 1804.4 397.2 1807.8C395.1 1811.3 392.7 1814.4 391.0 1818.2C389.2 1821.9 388.5 1826.4 386.8 1830.6C385.1 1834.7 383.0 1839.2 380.6 1843.0C378.2 1846.8 375.5 1850.7 372.4 1853.3C369.3 1855.9 365.8 1857.1 362.0 1858.5C358.2 1859.9 351.7 1861.2 349.6 1861.8L-4000.0 1861.8L-4000.0 -4000.0L393.0 -4000.0Z" fill="#ffff00"/>
<path d="M393.0 1762.3C394.1 1762.5 397.2 1762.5 399.2 1763.4C401.3 1764.2 403.4 1766.3 405.4 1767.5C407.5 1768.7 409.6 1769.3 411.6 1770.6C413.7 1771.9 415.4 1774.3 417.8 1775.2C420.2 1776.0 423.8 1775.6 426.1 1775.8C428.4 1776.0 431.4 1775.5 431.9 1776.4C432.4 1777.3 430.9 1780.0 429.2 1780.9C427.5 1781.9 424.2 1781.6 422.0 1782.0C419.7 1782.3 417.8 1781.8 415.8 1783.0C413.7 1784.2 411.6 1786.8 409.6 1789.2C407.5 1791.6 405.4 1794.4 403.4 1797.5C401.3 1800.6 399.2 1804.4 397.2 1807.8C395.1 1811.3 392.7 1814.4 391.0 1818.2C389.2 1821.9 388.5 1826.4 386.8 1830.6C385.1 1834.7 383.0 1839.2 380.6 1843.0C378.2 1846.8 375.5 1850.7 372.4 1853.3C369.3 1855.9 365.8 1857.1 362.0 1858.5C358.2 1859.9 351.7 1861.2 349.6 1861.8" fill="none" stroke="#1c1c1c" stroke-width="0.9"/>
<path d="M365.1 1778.3C366.3 1778.0 369.9 1776.8 372.4 1776.4C374.8 1776.0 377.5 1775.5 379.6 1775.8C381.7 1776.0 383.3 1776.6 384.8 1777.8C386.2 1779.1 387.8 1780.8 388.5 1783.0C389.2 1785.3 389.5 1788.5 388.9 1791.3C388.3 1794.0 386.3 1796.8 384.8 1799.6C383.2 1802.3 381.0 1804.7 379.6 1807.8C378.2 1810.9 377.3 1814.7 376.5 1818.2C375.6 1821.6 375.5 1825.0 374.4 1828.5C373.4 1831.9 372.0 1835.7 370.3 1838.8C368.6 1841.9 366.5 1845.0 364.1 1847.1C361.7 1849.2 358.4 1850.4 355.8 1851.2C353.2 1852.1 349.8 1852.1 348.6 1852.3L-4000.0 1852.3L-4000.0 -4000.0L365.1 -4000.0Z" fill="#ffff72"/>
<path d="M365.1 1778.3C366.3 1778.0 369.9 1776.8 372.4 1776.4C374.8 1776.0 377.5 1775.5 379.6 1775.8C381.7 1776.0 383.3 1776.6 384.8 1777.8C386.2 1779.1 387.8 1780.8 388.5 1783.0C389.2 1785.3 389.5 1788.5 388.9 1791.3C388.3 1794.0 386.3 1796.8 384.8 1799.6C383.2 1802.3 381.0 1804.7 379.6 1807.8C378.2 1810.9 377.3 1814.7 376.5 1818.2C375.6 1821.6 375.5 1825.0 374.4 1828.5C373.4 1831.9 372.0 1835.7 370.3 1838.8C368.6 1841.9 366.5 1845.0 364.1 1847.1C361.7 1849.2 358.4 1850.4 355.8 1851.2C353.2 1852.1 349.8 1852.1 348.6 1852.3" fill="none" stroke="#1c1c1c" stroke-width="0.9"/>
<path d="M354.8 1819.2C356.0 1819.1 358.0 1820.2 358.9 1821.3C359.8 1822.3 360.5 1824.0 360.4 1825.4C360.2 1826.8 359.1 1828.7 357.9 1829.5C356.7 1830.3 354.5 1830.7 353.3 1830.1C352.1 1829.6 350.9 1827.8 350.6 1826.4C350.4 1825.0 351.0 1823.1 351.7 1821.9C352.4 1820.7 353.6 1819.3 354.8 1819.2Z" fill="#ffffa1" stroke="#1c1c1c" stroke-width="0.9"/>
<path d="M416.8 1753.7C417.3 1755.1 418.0 1760.5 419.9 1762.3C421.8 1764.2 425.4 1764.8 428.2 1764.8C430.9 1764.8 434.2 1764.2 436.4 1762.3C438.7 1760.5 440.7 1755.1 441.6 1753.7L441.6 -4000.0L416.8 -4000.0Z" fill="#ffc600"/>
<path d="M416.8 1753.7C417.3 1755.1 418.0 1760.5 419.9 1762.3C421.8 1764.2 425.4 1764.8 428.2 1764.8C430.9 1764.8 434.2 1764.2 436.4 1762.3C438.7 1760.5 440.7 1755.1 441.6 1753.7" fill="none" stroke="#1c1c1c" stroke-width="0.9"/>
<path d="M498.4 1774.3C499.4 1773.9 501.0 1773.8 501.6 1775.2C502.1 1776.5 502.1 1781.5 501.6 1782.6C501.0 1783.7 499.0 1782.8 498.0 1782.0C497.1 1781.2 495.9 1779.1 496.0 1777.8C496.0 1776.6 497.5 1774.8 498.4 1774.3Z" fill="#ffe400" stroke="#1c1c1c" stroke-width="0.9"/>
<path d="M344.4 1898.8C346.0 1897.7 350.5 1895.0 353.7 1892.6C357.0 1890.2 360.6 1887.4 364.1 1884.3C367.5 1881.2 371.3 1877.4 374.4 1874.0C377.5 1870.5 379.9 1867.4 382.7 1863.6C385.4 1859.8 388.9 1855.0 391.0 1851.2C393.0 1847.4 393.0 1844.3 395.1 1840.9C397.2 1837.5 400.6 1833.7 403.4 1830.6C406.1 1827.5 408.5 1825.0 411.6 1822.3C414.7 1819.5 418.5 1816.4 422.0 1814.0C425.4 1811.6 428.5 1809.7 432.3 1807.8C436.1 1805.9 440.9 1803.7 444.7 1802.7C448.5 1801.6 451.6 1801.6 455.0 1801.6C458.5 1801.6 462.3 1803.3 465.4 1802.7C468.5 1802.0 470.9 1799.0 473.6 1797.5C476.4 1795.9 479.2 1793.8 481.9 1793.4C484.7 1792.9 487.4 1794.1 490.2 1795.0C492.9 1795.9 495.7 1797.6 498.4 1798.5C501.2 1799.4 504.0 1800.0 506.7 1800.6C509.5 1801.2 513.6 1801.8 515.0 1802.0L4000.0 1802.0L4000.0 4000.0L-4000.0 4000.0L-4000.0 1898.8Z" fill="#ffa100"/>
<path d="M344.4 1898.8C346.0 1897.7 350.5 1895.0 353.7 1892.6C357.0 1890.2 360.6 1887.4 364.1 1884.3C367.5 1881.2 371.3 1877.4 374.4 1874.0C377.5 1870.5 379.9 1867.4 382.7 1863.6C385.4 1859.8 388.9 1855.0 391.0 1851.2C393.0 1847.4 393.0 1844.3 395.1 1840.9C397.2 1837.5 400.6 1833.7 403.4 1830.6C406.1 1827.5 408.5 1825.0 411.6 1822.3C414.7 1819.5 418.5 1816.4 422.0 1814.0C425.4 1811.6 428.5 1809.7 432.3 1807.8C436.1 1805.9 440.9 1803.7 444.7 1802.7C448.5 1801.6 451.6 1801.6 455.0 1801.6C458.5 1801.6 462.3 1803.3 465.4 1802.7C468.5 1802.0 470.9 1799.0 473.6 1797.5C476.4 1795.9 479.2 1793.8 481.9 1793.4C484.7 1792.9 487.4 1794.1 490.2 1795.0C492.9 1795.9 495.7 1797.6 498.4 1798.5C501.2 1799.4 504.0 1800.0 506.7 1800.6C509.5 1801.2 513.6 1801.8 515.0 1802.0" fill="none" stroke="#1c1c1c" stroke-width="0.9"/>
<path d="M344.4 1920.5C346.0 1919.3 350.8 1916.2 353.7 1913.2C356.7 1910.3 358.9 1906.4 362.0 1902.9C365.1 1899.5 368.9 1896.0 372.4 1892.6C375.8 1889.1 379.2 1885.7 382.7 1882.2C386.1 1878.8 389.9 1875.3 393.0 1871.9C396.1 1868.5 399.2 1864.7 401.3 1861.6C403.4 1858.5 403.7 1856.1 405.4 1853.3C407.1 1850.5 408.9 1847.8 411.6 1845.0C414.4 1842.3 419.2 1839.5 422.0 1836.8C424.7 1834.0 425.8 1831.2 428.2 1828.5C430.6 1825.7 433.3 1822.6 436.4 1820.2C439.5 1817.9 443.3 1815.1 446.8 1814.4C450.2 1813.7 453.7 1815.2 457.1 1816.1C460.6 1817.0 464.3 1819.0 467.4 1819.8C470.5 1820.7 473.3 1820.5 475.7 1821.3C478.1 1822.0 480.5 1822.8 481.9 1824.4C483.3 1825.9 482.3 1828.5 484.0 1830.6C485.7 1832.6 490.5 1834.9 492.2 1836.8C494.0 1838.7 492.6 1839.9 494.3 1841.9C496.0 1844.0 500.2 1846.6 502.6 1849.2C505.0 1851.7 507.1 1854.7 508.8 1857.4C510.5 1860.2 511.5 1863.3 512.9 1865.7C514.3 1868.1 514.6 1870.5 517.1 1871.9C519.5 1873.3 525.0 1874.2 527.4 1874.0C529.8 1873.7 529.1 1870.9 531.5 1870.3C533.9 1869.6 539.1 1869.2 541.9 1869.8C544.6 1870.5 545.7 1871.9 548.1 1874.0C550.5 1876.0 553.6 1879.7 556.3 1882.2C559.1 1884.8 561.8 1887.9 564.6 1889.5C567.4 1891.0 570.0 1891.4 572.9 1891.5C575.7 1891.7 580.1 1890.7 581.6 1890.5L4000.0 1890.5L4000.0 4000.0L-4000.0 4000.0L-4000.0 1920.5Z" fill="#ff7200"/>
<path d="M344.4 1920.5C346.0 1919.3 350.8 1916.2 353.7 1913.2C356.7 1910.3 358.9 1906.4 362.0 1902.9C365.1 1899.5 368.9 1896.0 372.4 1892.6C375.8 1889.1 379.2 1885.7 382.7 1882.2C386.1 1878.8 389.9 1875.3 393.0 1871.9C396.1 1868.5 399.2 1864.7 401.3 1861.6C403.4 1858.5 403.7 1856.1 405.4 1853.3C407.1 1850.5 408.9 1847.8 411.6 1845.0C414.4 1842.3 419.2 1839.5 422.0 1836.8C424.7 1834.0 425.8 1831.2 428.2 1828.5C430.6 1825.7 433.3 1822.6 436.4 1820.2C439.5 1817.9 443.3 1815.1 446.8 1814.4C450.2 1813.7 453.7 1815.2 457.1 1816.1C460.6 1817.0 464.3 1819.0 467.4 1819.8C470.5 1820.7 473.3 1820.5 475.7 1821.3C478.1 1822.0 480.5 1822.8 481.9 1824.4C483.3 1825.9 482.3 1828.5 484.0 1830.6C485.7 1832.6 490.5 1834.9 492.2 1836.8C494.0 1838.7 492.6 1839.9 494.3 1841.9C496.0 1844.0 500.2 1846.6 502.6 1849.2C505.0 1851.7 507.1 1854.7 508.8 1857.4C510.5 1860.2 511.5 1863.3 512.9 1865.7C514.3 1868.1 514.6 1870.5 517.1 1871.9C519.5 1873.3 525.0 1874.2 527.4 1874.0C529.8 1873.7 529.1 1870.9 531.5 1870.3C533.9 1869.6 539.1 1869.2 541.9 1869.8C544.6 1870.5 545.7 1871.9 548.1 1874.0C550.5 1876.0 553.6 1879.7 556.3 1882.2C559.1 1884.8 561.8 1887.9 564.6 1889.5C567.4 1891.0 570.0 1891.4 572.9 1891.5C575.7 1891.7 580.1 1890.7 581.6 1890.5" fill="none" stroke="#1c1c1c" stroke-width="0.9"/>
<path d="M362.0 1964.9C362.5 1962.2 364.1 1953.9 365.1 1948.4C366.1 1942.9 367.4 1936.3 368.2 1931.9C369.1 1927.4 368.6 1925.0 370.3 1921.5C372.0 1918.1 375.5 1915.0 378.6 1911.2C381.7 1907.4 385.4 1902.9 388.9 1898.8C392.3 1894.6 395.8 1890.2 399.2 1886.4C402.7 1882.6 406.5 1879.5 409.6 1876.0C412.7 1872.6 415.8 1869.1 417.8 1865.7C419.9 1862.3 420.2 1858.5 422.0 1855.4C423.7 1852.3 425.4 1849.9 428.2 1847.1C430.9 1844.3 435.1 1841.0 438.5 1838.8C441.9 1836.7 445.4 1835.0 448.8 1834.3C452.3 1833.6 456.1 1833.9 459.2 1834.7C462.3 1835.5 465.0 1836.8 467.4 1838.8C469.9 1840.9 471.6 1844.3 473.6 1847.1C475.7 1849.9 477.8 1853.0 479.8 1855.4C481.9 1857.8 484.5 1859.2 486.0 1861.6C487.6 1864.0 488.1 1866.7 489.1 1869.8C490.2 1872.9 490.7 1877.1 492.2 1880.2C493.8 1883.3 495.7 1886.0 498.4 1888.4C501.2 1890.9 505.3 1892.9 508.8 1894.6C512.2 1896.4 515.7 1897.7 519.1 1898.8C522.6 1899.8 526.0 1900.3 529.5 1900.8C532.9 1901.4 536.0 1901.8 539.8 1901.9C543.6 1901.9 547.7 1901.1 552.2 1901.3C556.7 1901.4 561.8 1902.6 566.7 1902.9C571.6 1903.2 579.1 1902.9 581.6 1902.9L4000.0 1902.9L4000.0 4000.0L-4000.0 4000.0L-4000.0 1964.9Z" fill="#ff0000"/>
<path d="M362.0 1964.9C362.5 1962.2 364.1 1953.9 365.1 1948.4C366.1 1942.9 367.4 1936.3 368.2 1931.9C369.1 1927.4 368.6 1925.0 370.3 1921.5C372.0 1918.1 375.5 1915.0 378.6 1911.2C381.7 1907.4 385.4 1902.9 388.9 1898.8C392.3 1894.6 395.8 1890.2 399.2 1886.4C402.7 1882.6 406.5 1879.5 409.6 1876.0C412.7 1872.6 415.8 1869.1 417.8 1865.7C419.9 1862.3 420.2 1858.5 422.0 1855.4C423.7 1852.3 425.4 1849.9 428.2 1847.1C430.9 1844.3 435.1 1841.0 438.5 1838.8C441.9 1836.7 445.4 1835.0 448.8 1834.3C452.3 1833.6 456.1 1833.9 459.2 1834.7C462.3 1835.5 465.0 1836.8 467.4 1838.8C469.9 1840.9 471.6 1844.3 473.6 1847.1C475.7 1849.9 477.8 1853.0 479.8 1855.4C481.9 1857.8 484.5 1859.2 486.0 1861.6C487.6 1864.0 488.1 1866.7 489.1 1869.8C490.2 1872.9 490.7 1877.1 492.2 1880.2C493.8 1883.3 495.7 1886.0 498.4 1888.4C501.2 1890.9 505.3 1892.9 508.8 1894.6C512.2 1896.4 515.7 1897.7 519.1 1898.8C522.6 1899.8 526.0 1900.3 529.5 1900.8C532.9 1901.4 536.0 1901.8 539.8 1901.9C543.6 1901.9 547.7 1901.1 552.2 1901.3C556.7 1901.4 561.8 1902.6 566.7 1902.9C571.6 1903.2 579.1 1902.9 581.6 1902.9" fill="none" stroke="#1c1c1c" stroke-width="0.9"/>
<path d="M367.2 1983.5C368.4 1981.1 372.2 1973.9 374.4 1969.1C376.7 1964.2 378.9 1958.7 380.6 1954.6C382.3 1950.5 383.7 1948.0 384.8 1944.3C385.8 1940.5 385.8 1936.0 386.8 1931.9C387.9 1927.7 388.9 1923.2 391.0 1919.4C393.0 1915.7 396.1 1912.2 399.2 1909.1C402.3 1906.0 406.1 1903.6 409.6 1900.8C413.0 1898.1 416.5 1895.3 419.9 1892.6C423.3 1889.8 426.8 1886.7 430.2 1884.3C433.7 1882.0 436.8 1879.4 440.6 1878.5C444.4 1877.7 449.2 1877.8 453.0 1879.1C456.8 1880.4 459.9 1884.5 463.3 1886.4C466.8 1888.3 469.9 1888.4 473.6 1890.5C477.4 1892.6 481.9 1895.8 486.0 1898.8C490.2 1901.7 495.3 1905.7 498.4 1908.1C501.6 1910.5 503.3 1911.7 504.7 1913.2C506.0 1914.8 504.7 1916.0 506.7 1917.4C508.8 1918.8 514.3 1920.3 517.1 1921.5C519.8 1922.7 520.8 1924.4 523.3 1924.6C525.7 1924.8 528.1 1923.1 531.5 1922.6C535.0 1922.0 539.8 1922.0 543.9 1921.5C548.1 1921.1 552.2 1920.3 556.3 1919.9C560.5 1919.4 565.1 1919.1 568.7 1919.0C572.4 1919.0 576.5 1919.4 578.0 1919.4L4000.0 1919.4L4000.0 4000.0L-4000.0 4000.0L-4000.0 1983.5Z" fill="#e40000"/>
<path d="M367.2 1983.5C368.4 1981.1 372.2 1973.9 374.4 1969.1C376.7 1964.2 378.9 1958.7 380.6 1954.6C382.3 1950.5 383.7 1948.0 384.8 1944.3C385.8 1940.5 385.8 1936.0 386.8 1931.9C387.9 1927.7 388.9 1923.2 391.0 1919.4C393.0 1915.7 396.1 1912.2 399.2 1909.1C402.3 1906.0 406.1 1903.6 409.6 1900.8C413.0 1898.1 416.5 1895.3 419.9 1892.6C423.3 1889.8 426.8 1886.7 430.2 1884.3C433.7 1882.0 436.8 1879.4 440.6 1878.5C444.4 1877.7 449.2 1877.8 453.0 1879.1C456.8 1880.4 459.9 1884.5 463.3 1886.4C466.8 1888.3 469.9 1888.4 473.6 1890.5C477.4 1892.6 481.9 1895.8 486.0 1898.8C490.2 1901.7 495.3 1905.7 498.4 1908.1C501.6 1910.5 503.3 1911.7 504.7 1913.2C506.0 1914.8 504.7 1916.0 506.7 1917.4C508.8 1918.8 514.3 1920.3 517.1 1921.5C519.8 1922.7 520.8 1924.4 523.3 1924.6C525.7 1924.8 528.1 1923.1 531.5 1922.6C535.0 1922.0 539.8 1922.0 543.9 1921.5C548.1 1921.1 552.2 1920.3 556.3 1919.9C560.5 1919.4 565.1 1919.1 568.7 1919.0C572.4 1919.0 576.5 1919.4 578.0 1919.4" fill="none" stroke="#1c1c1c" stroke-width="0.9"/>
<path d="M376.5 2014.5C377.5 2013.5 381.1 2010.8 382.7 2008.3C384.2 2005.9 385.4 2003.2 385.8 2000.1C386.1 1997.0 384.2 1993.5 384.8 1989.7C385.3 1985.9 387.5 1981.5 388.9 1977.3C390.3 1973.2 391.8 1969.1 393.0 1964.9C394.2 1960.8 395.4 1956.3 396.1 1952.5C396.8 1948.7 396.3 1945.6 397.2 1942.2C398.0 1938.7 399.6 1935.3 401.3 1931.9C403.0 1928.4 404.7 1924.6 407.5 1921.5C410.2 1918.4 414.4 1915.7 417.8 1913.2C421.3 1910.8 424.7 1909.1 428.2 1907.0C431.6 1905.0 435.4 1902.3 438.5 1900.8C441.6 1899.4 444.0 1898.4 446.8 1898.4C449.5 1898.4 452.3 1899.4 455.0 1900.8C457.8 1902.3 460.2 1904.3 463.3 1907.0C466.4 1909.8 470.2 1913.9 473.6 1917.4C477.1 1920.8 480.2 1924.6 484.0 1927.7C487.8 1930.8 491.9 1933.9 496.4 1936.0C500.9 1938.1 506.4 1939.3 510.9 1940.1C515.3 1941.0 519.5 1941.5 523.3 1941.2C527.0 1940.8 530.1 1939.3 533.6 1938.1C537.0 1936.8 540.1 1934.8 543.9 1933.9C547.7 1933.1 552.2 1932.9 556.3 1932.9C560.5 1932.9 565.3 1933.7 568.7 1933.9C572.2 1934.1 575.6 1933.9 577.0 1933.9L4000.0 1933.9L4000.0 4000.0L-4000.0 4000.0L-4000.0 2014.5Z" fill="#c60000"/>
<path d="M376.5 2014.5C377.5 2013.5 381.1 2010.8 382.7 2008.3C384.2 2005.9 385.4 2003.2 385.8 2000.1C386.1 1997.0 384.2 1993.5 384.8 1989.7C385.3 1985.9 387.5 1981.5 388.9 1977.3C390.3 1973.2 391.8 1969.1 393.0 1964.9C394.2 1960.8 395.4 1956.3 396.1 1952.5C396.8 1948.7 396.3 1945.6 397.2 1942.2C398.0 1938.7 399.6 1935.3 401.3 1931.9C403.0 1928.4 404.7 1924.6 407.5 1921.5C410.2 1918.4 414.4 1915.7 417.8 1913.2C421.3 1910.8 424.7 1909.1 428.2 1907.0C431.6 1905.0 435.4 1902.3 438.5 1900.8C441.6 1899.4 444.0 1898.4 446.8 1898.4C449.5 1898.4 452.3 1899.4 455.0 1900.8C457.8 1902.3 460.2 1904.3 463.3 1907.0C466.4 1909.8 470.2 1913.9 473.6 1917.4C477.1 1920.8 480.2 1924.6 484.0 1927.7C487.8 1930.8 491.9 1933.9 496.4 1936.0C500.9 1938.1 506.4 1939.3 510.9 1940.1C515.3 1941.0 519.5 1941.5 523.3 1941.2C527.0 1940.8 530.1 1939.3 533.6 1938.1C537.0 1936.8 540.1 1934.8 543.9 1933.9C547.7 1933.1 552.2 1932.9 556.3 1932.9C560.5 1932.9 565.3 1933.7 568.7 1933.9C572.2 1934.1 575.6 1933.9 577.0 1933.9" fill="none" stroke="#1c1c1c" stroke-width="0.9"/>
<path d="M394.1 2030.0C394.6 2027.5 396.3 2019.5 397.2 2014.5C398.0 2009.5 397.8 2004.9 399.2 2000.1C400.6 1995.2 403.7 1990.1 405.4 1985.6C407.1 1981.1 408.2 1977.7 409.6 1973.2C410.9 1968.7 412.0 1963.2 413.7 1958.7C415.4 1954.2 417.5 1950.1 419.9 1946.3C422.3 1942.5 425.4 1939.1 428.2 1936.0C430.9 1932.9 434.0 1930.8 436.4 1927.7C438.8 1924.6 440.6 1920.2 442.6 1917.4C444.7 1914.6 446.8 1911.8 448.8 1910.8C450.9 1909.7 453.0 1910.1 455.0 1911.2C457.1 1912.3 458.8 1915.0 461.2 1917.4C463.7 1919.8 466.4 1922.6 469.5 1925.7C472.6 1928.8 476.4 1932.9 479.8 1936.0C483.3 1939.1 486.4 1941.8 490.2 1944.3C494.0 1946.7 498.4 1948.4 502.6 1950.5C506.7 1952.5 511.5 1954.9 515.0 1956.7C518.4 1958.4 520.5 1960.4 523.3 1960.8C526.0 1961.1 528.4 1960.1 531.5 1958.7C534.6 1957.3 538.4 1954.2 541.9 1952.5C545.3 1950.8 548.4 1949.6 552.2 1948.4C556.0 1947.2 561.2 1945.8 564.6 1945.3C568.0 1944.8 571.5 1945.3 572.9 1945.3L4000.0 1945.3L4000.0 4000.0L-4000.0 4000.0L-4000.0 2030.0Z" fill="#a10000"/>
<path d="M394.1 2030.0C394.6 2027.5 396.3 2019.5 397.2 2014.5C398.0 2009.5 397.8 2004.9 399.2 2000.1C400.6 1995.2 403.7 1990.1 405.4 1985.6C407.1 1981.1 408.2 1977.7 409.6 1973.2C410.9 1968.7 412.0 1963.2 413.7 1958.7C415.4 1954.2 417.5 1950.1 419.9 1946.3C422.3 1942.5 425.4 1939.1 428.2 1936.0C430.9 1932.9 434.0 1930.8 436.4 1927.7C438.8 1924.6 440.6 1920.2 442.6 1917.4C444.7 1914.6 446.8 1911.8 448.8 1910.8C450.9 1909.7 453.0 1910.1 455.0 1911.2C457.1 1912.3 458.8 1915.0 461.2 1917.4C463.7 1919.8 466.4 1922.6 469.5 1925.7C472.6 1928.8 476.4 1932.9 479.8 1936.0C483.3 1939.1 486.4 1941.8 490.2 1944.3C494.0 1946.7 498.4 1948.4 502.6 1950.5C506.7 1952.5 511.5 1954.9 515.0 1956.7C518.4 1958.4 520.5 1960.4 523.3 1960.8C526.0 1961.1 528.4 1960.1 531.5 1958.7C534.6 1957.3 538.4 1954.2 541.9 1952.5C545.3 1950.8 548.4 1949.6 552.2 1948.4C556.0 1947.2 561.2 1945.8 564.6 1945.3C568.0 1944.8 571.5 1945.3 572.9 1945.3" fill="none" stroke="#1c1c1c" stroke-width="0.9"/>
<path d="M406.5 2030.0C407.0 2028.1 408.0 2021.9 409.6 2018.7C411.1 2015.4 413.7 2013.2 415.8 2010.4C417.8 2007.6 420.2 2005.2 422.0 2002.1C423.7 1999.0 425.2 1995.2 426.1 1991.8C427.0 1988.4 427.6 1984.9 427.1 1981.5C426.6 1978.0 423.5 1973.9 423.0 1971.1C422.5 1968.4 422.5 1967.7 424.0 1964.9C425.6 1962.2 429.5 1958.0 432.3 1954.6C435.1 1951.1 438.8 1947.4 440.6 1944.3C442.3 1941.2 441.3 1938.7 442.6 1936.0C444.0 1933.2 446.4 1929.1 448.8 1927.7C451.2 1926.3 454.3 1926.7 457.1 1927.7C459.9 1928.8 462.6 1931.5 465.4 1933.9C468.1 1936.3 470.9 1939.1 473.6 1942.2C476.4 1945.3 478.8 1949.4 481.9 1952.5C485.0 1955.6 488.8 1958.0 492.2 1960.8C495.7 1963.5 499.1 1966.0 502.6 1969.1C506.0 1972.2 509.8 1977.2 512.9 1979.4C516.0 1981.6 518.4 1983.2 521.2 1982.5C523.9 1981.8 526.7 1977.5 529.5 1975.3C532.2 1973.0 534.6 1970.6 537.7 1969.1C540.8 1967.5 544.3 1966.8 548.1 1966.0C551.9 1965.1 558.4 1964.2 560.5 1963.9L4000.0 1963.9L4000.0 4000.0L-4000.0 4000.0L-4000.0 2030.0Z" fill="#720000"/>
<path d="M406.5 2030.0C407.0 2028.1 408.0 2021.9 409.6 2018.7C411.1 2015.4 413.7 2013.2 415.8 2010.4C417.8 2007.6 420.2 2005.2 422.0 2002.1C423.7 1999.0 425.2 1995.2 426.1 1991.8C427.0 1988.4 427.6 1984.9 427.1 1981.5C426.6 1978.0 423.5 1973.9 423.0 1971.1C422.5 1968.4 422.5 1967.7 424.0 1964.9C425.6 1962.2 429.5 1958.0 432.3 1954.6C435.1 1951.1 438.8 1947.4 440.6 1944.3C442.3 1941.2 441.3 1938.7 442.6 1936.0C444.0 1933.2 446.4 1929.1 448.8 1927.7C451.2 1926.3 454.3 1926.7 457.1 1927.7C459.9 1928.8 462.6 1931.5 465.4 1933.9C468.1 1936.3 470.9 1939.1 473.6 1942.2C476.4 1945.3 478.8 1949.4 481.9 1952.5C485.0 1955.6 488.8 1958.0 492.2 1960.8C495.7 1963.5 499.1 1966.0 502.6 1969.1C506.0 1972.2 509.8 1977.2 512.9 1979.4C516.0 1981.6 518.4 1983.2 521.2 1982.5C523.9 1981.8 526.7 1977.5 529.5 1975.3C532.2 1973.0 534.6 1970.6 537.7 1969.1C540.8 1967.5 544.3 1966.8 548.1 1966.0C551.9 1965.1 558.4 1964.2 560.5 1963.9" fill="none" stroke="#1c1c1c" stroke-width="0.9"/>
<path d="M429.2 2030.0C429.7 2028.1 430.4 2022.3 432.3 2018.7C434.2 2015.1 438.5 2011.8 440.6 2008.3C442.6 2004.9 443.7 2001.4 444.7 1998.0C445.7 1994.6 445.4 1990.4 446.8 1987.7C448.1 1984.9 450.9 1983.2 453.0 1981.5C455.0 1979.7 458.3 1979.4 459.2 1977.3C460.0 1975.3 459.2 1971.5 458.1 1969.1C457.1 1966.7 454.0 1965.1 453.0 1962.9C451.9 1960.6 451.2 1957.0 451.9 1955.6C452.6 1954.2 455.2 1953.7 457.1 1954.6C459.0 1955.5 460.9 1958.4 463.3 1960.8C465.7 1963.2 468.5 1966.3 471.6 1969.1C474.7 1971.8 479.2 1974.6 481.9 1977.3C484.7 1980.1 485.7 1983.2 488.1 1985.6C490.5 1988.0 493.3 1990.1 496.4 1991.8C499.5 1993.5 503.3 1994.7 506.7 1995.9C510.2 1997.1 513.6 1998.7 517.1 1999.0C520.5 1999.4 524.6 1999.2 527.4 1998.0C530.1 1996.8 531.5 1993.5 533.6 1991.8C535.7 1990.1 537.2 1989.3 539.8 1987.7C542.4 1986.0 547.5 1983.0 549.1 1982.1L4000.0 1982.1L4000.0 4000.0L-4000.0 4000.0L-4000.0 2030.0Z" fill="#000000"/>
<path d="M429.2 2030.0C429.7 2028.1 430.4 2022.3 432.3 2018.7C434.2 2015.1 438.5 2011.8 440.6 2008.3C442.6 2004.9 443.7 2001.4 444.7 1998.0C445.7 1994.6 445.4 1990.4 446.8 1987.7C448.1 1984.9 450.9 1983.2 453.0 1981.5C455.0 1979.7 458.3 1979.4 459.2 1977.3C460.0 1975.3 459.2 1971.5 458.1 1969.1C457.1 1966.7 454.0 1965.1 453.0 1962.9C451.9 1960.6 451.2 1957.0 451.9 1955.6C452.6 1954.2 455.2 1953.7 457.1 1954.6C459.0 1955.5 460.9 1958.4 463.3 1960.8C465.7 1963.2 468.5 1966.3 471.6 1969.1C474.7 1971.8 479.2 1974.6 481.9 1977.3C484.7 1980.1 485.7 1983.2 488.1 1985.6C490.5 1988.0 493.3 1990.1 496.4 1991.8C499.5 1993.5 503.3 1994.7 506.7 1995.9C510.2 1997.1 513.6 1998.7 517.1 1999.0C520.5 1999.4 524.6 1999.2 527.4 1998.0C530.1 1996.8 531.5 1993.5 533.6 1991.8C535.7 1990.1 537.2 1989.3 539.8 1987.7C542.4 1986.0 547.5 1983.0 549.1 1982.1" fill="none" stroke="#1c1c1c" stroke-width="0.9"/>
</g>
<clipPath id="clip6"><path d="M916.5 847.2L975.5 847.2L979.6 850.3L987.9 854.4L996.1 861.6L1000.3 869.9L1008.5 882.3L1012.7 894.7L1029.2 912.3L1041.6 921.6L1045.7 929.8L1049.9 944.3L1058.1 958.8L1062.3 969.1L1070.5 978.4L1077.8 979.5L1078.8 987.7L1078.8 1008.4L1074.7 1016.7L1074.7 1029.1L1070.5 1035.3L1066.4 1047.7L1058.1 1055.9L1049.9 1068.3L1041.6 1084.9L1033.3 1091.1L1025.1 1099.4L1016.8 1108.7L1006.5 1113.8L998.2 1121.1L884.9 1121.1L881.4 1118.0L877.3 1107.6L873.1 1097.3L869.0 1084.9L864.9 1072.5L860.7 1060.1L856.6 1053.9L852.5 1043.5L848.3 1031.1L844.2 1024.9L844.2 973.3L848.3 954.7L848.3 900.9L852.5 892.6L852.5 880.2L856.6 878.2L864.9 868.9L875.2 860.6L886.6 855.4L896.9 851.9L913.4 850.3Z"/></clipPath>
<g clip-path="url(#clip6)">
<path d="M916.5 847.2L975.5 847.2L979.6 850.3L987.9 854.4L996.1 861.6L1000.3 869.9L1008.5 882.3L1012.7 894.7L1029.2 912.3L1041.6 921.6L1045.7 929.8L1049.9 944.3L1058.1 958.8L1062.3 969.1L1070.5 978.4L1077.8 979.5L1078.8 987.7L1078.8 1008.4L1074.7 1016.7L1074.7 1029.1L1070.5 1035.3L1066.4 1047.7L1058.1 1055.9L1049.9 1068.3L1041.6 1084.9L1033.3 1091.1L1025.1 1099.4L1016.8 1108.7L1006.5 1113.8L998.2 1121.1L884.9 1121.1L881.4 1118.0L877.3 1107.6L873.1 1097.3L869.0 1084.9L864.9 1072.5L860.7 1060.1L856.6 1053.9L852.5 1043.5L848.3 1031.1L844.2 1024.9L844.2 973.3L848.3 954.7L848.3 900.9L852.5 892.6L852.5 880.2L856.6 878.2L864.9 868.9L875.2 860.6L886.6 855.4L896.9 851.9L913.4 850.3Z" fill="#ff0000"/>
<path d="M842.6 988.6C844.3 987.1 849.5 983.2 852.9 979.5C856.4 975.9 859.8 970.5 863.3 966.6C866.7 962.7 869.9 959.5 873.6 956.3C877.3 953.0 881.1 950.0 885.2 947.2C889.3 944.4 893.6 941.6 898.1 939.5C902.7 937.3 907.0 935.5 912.4 934.3C917.7 933.1 924.2 932.7 930.4 932.4C936.7 932.1 943.4 932.1 949.8 932.4C956.3 932.7 962.7 933.6 969.2 934.3C975.7 935.0 982.5 936.1 988.6 936.6C994.6 937.2 1000.4 937.7 1005.4 937.5C1010.3 937.4 1014.8 936.8 1018.3 935.6C1021.7 934.4 1023.9 932.6 1026.0 930.4C1028.2 928.3 1029.5 925.3 1031.2 922.7C1032.9 920.1 1035.5 916.2 1036.4 914.9L4000.0 914.9L4000.0 -4000.0L-4000.0 -4000.0L-4000.0 988.6Z" fill="#ff7200"/>
<path d="M842.6 988.6C844.3 987.1 849.5 983.2 852.9 979.5C856.4 975.9 859.8 970.5 863.3 966.6C866.7 962.7 869.9 959.5 873.6 956.3C877.3 953.0 881.1 950.0 885.2 947.2C889.3 944.4 893.6 941.6 898.1 939.5C902.7 937.3 907.0 935.5 912.4 934.3C917.7 933.1 924.2 932.7 930.4 932.4C936.7 932.1 943.4 932.1 949.8 932.4C956.3 932.7 962.7 933.6 969.2 934.3C975.7 935.0 982.5 936.1 988.6 936.6C994.6 937.2 1000.4 937.7 1005.4 937.5C1010.3 937.4 1014.8 936.8 1018.3 935.6C1021.7 934.4 1023.9 932.6 1026.0 930.4C1028.2 928.3 1029.5 925.3 1031.2 922.7C1032.9 920.1 1035.5 916.2 1036.4 914.9" fill="none" stroke="#1c1c1c" stroke-width="0.9"/>
<path d="M842.6 973.7C844.3 972.8 849.5 970.6 852.9 967.9C856.4 965.2 859.8 961.2 863.3 957.6C866.7 953.9 870.1 949.6 873.6 945.9C877.0 942.3 880.5 938.8 883.9 935.6C887.4 932.4 890.8 929.1 894.3 926.6C897.7 924.0 900.7 921.9 904.6 920.1C908.5 918.3 913.2 916.6 917.5 915.6C921.8 914.6 926.1 914.5 930.4 914.3C934.7 914.1 939.1 914.0 943.4 914.3C947.7 914.6 952.0 915.5 956.3 916.2C960.6 917.0 964.9 918.1 969.2 918.8C973.5 919.6 977.8 920.4 982.1 920.7C986.4 921.1 991.2 921.3 995.0 920.7C998.9 920.2 1002.4 919.1 1005.4 917.5C1008.4 915.9 1010.8 913.5 1013.1 911.1C1015.5 908.6 1018.5 904.1 1019.6 902.7L4000.0 902.7L4000.0 -4000.0L-4000.0 -4000.0L-4000.0 973.7Z" fill="#ffa100"/>
<path d="M842.6 973.7C844.3 972.8 849.5 970.6 852.9 967.9C856.4 965.2 859.8 961.2 863.3 957.6C866.7 953.9 870.1 949.6 873.6 945.9C877.0 942.3 880.5 938.8 883.9 935.6C887.4 932.4 890.8 929.1 894.3 926.6C897.7 924.0 900.7 921.9 904.6 920.1C908.5 918.3 913.2 916.6 917.5 915.6C921.8 914.6 926.1 914.5 930.4 914.3C934.7 914.1 939.1 914.0 943.4 914.3C947.7 914.6 952.0 915.5 956.3 916.2C960.6 917.0 964.9 918.1 969.2 918.8C973.5 919.6 977.8 920.4 982.1 920.7C986.4 921.1 991.2 921.3 995.0 920.7C998.9 920.2 1002.4 919.1 1005.4 917.5C1008.4 915.9 1010.8 913.5 1013.1 911.1C1015.5 908.6 1018.5 904.1 1019.6 902.7" fill="none" stroke="#1c1c1c" stroke-width="0.9"/>
<path d="M893.0 854.9C894.9 855.4 900.9 857.2 904.6 858.1C908.3 858.9 911.1 859.6 914.9 860.0C918.8 860.5 924.0 860.8 927.9 860.7C931.7 860.6 934.5 860.2 938.2 859.4C941.9 858.5 945.7 856.5 949.8 855.5C953.9 854.5 958.4 853.7 962.7 853.6C967.0 853.5 971.8 854.4 975.7 854.9C979.5 855.3 983.0 855.9 986.0 856.1C989.0 856.4 992.5 856.5 993.7 856.5L4000.0 856.5L4000.0 -4000.0L-4000.0 -4000.0L-4000.0 854.9Z" fill="#ff7200"/>
<path d="M893.0 854.9C894.9 855.4 900.9 857.2 904.6 858.1C908.3 858.9 911.1 859.6 914.9 860.0C918.8 860.5 924.0 860.8 927.9 860.7C931.7 860.6 934.5 860.2 938.2 859.4C941.9 858.5 945.7 856.5 949.8 855.5C953.9 854.5 958.4 853.7 962.7 853.6C967.0 853.5 971.8 854.4 975.7 854.9C979.5 855.3 983.0 855.9 986.0 856.1C989.0 856.4 992.5 856.5 993.7 856.5" fill="none" stroke="#1c1c1c" stroke-width="0.9"/>
<path d="M910.4 851.0C912.0 851.5 916.8 853.5 920.1 854.2C923.4 855.0 927.0 855.5 930.4 855.5C933.9 855.5 937.5 855.0 940.8 854.2C944.0 853.5 947.0 852.3 949.8 851.0C952.6 849.7 956.3 847.2 957.6 846.5L957.6 -4000.0L910.4 -4000.0Z" fill="#ff0000"/>
<path d="M910.4 851.0C912.0 851.5 916.8 853.5 920.1 854.2C923.4 855.0 927.0 855.5 930.4 855.5C933.9 855.5 937.5 855.0 940.8 854.2C944.0 853.5 947.0 852.3 949.8 851.0C952.6 849.7 956.3 847.2 957.6 846.5" fill="none" stroke="#1c1c1c" stroke-width="0.9"/>
<path d="M846.5 967.9C848.0 967.0 852.3 965.1 855.5 962.7C858.7 960.4 862.6 957.1 865.8 953.7C869.1 950.2 871.9 945.9 874.9 942.1C877.9 938.2 881.1 933.9 883.9 930.4C886.7 927.0 888.9 924.2 891.7 921.4C894.5 918.6 897.5 915.8 900.7 913.6C904.0 911.5 907.2 909.7 911.1 908.5C914.9 907.3 919.7 906.9 924.0 906.5C928.3 906.2 932.6 906.6 936.9 906.5C941.2 906.4 945.5 906.1 949.8 905.9C954.1 905.7 958.9 905.7 962.7 905.2C966.6 904.8 969.8 904.1 973.1 903.3C976.3 902.6 978.9 901.3 982.1 900.7C985.3 900.2 989.2 900.7 992.5 900.1C995.7 899.4 998.9 898.0 1001.5 896.8C1004.1 895.7 1006.2 894.3 1008.0 893.0C1009.7 891.7 1009.7 891.5 1011.8 889.1C1014.0 886.7 1022.8 882.2 1020.9 878.8C1018.9 875.3 1005.6 870.4 1000.2 868.3C994.8 866.1 992.7 866.7 988.6 865.8C984.5 865.0 980.0 864.0 975.7 863.3C971.4 862.5 966.8 861.5 962.7 861.3C958.6 861.1 954.8 861.5 951.1 862.0C947.5 862.4 944.2 863.4 940.8 863.9C937.3 864.4 934.3 865.0 930.4 865.2C926.6 865.4 921.8 865.6 917.5 865.2C913.2 864.8 908.5 863.5 904.6 862.6C900.7 861.7 897.8 861.0 894.3 860.0C890.7 859.0 885.1 857.1 883.3 856.5L-4000.0 856.5L-4000.0 967.9Z" fill="#ffc600"/>
<path d="M846.5 967.9C848.0 967.0 852.3 965.1 855.5 962.7C858.7 960.4 862.6 957.1 865.8 953.7C869.1 950.2 871.9 945.9 874.9 942.1C877.9 938.2 881.1 933.9 883.9 930.4C886.7 927.0 888.9 924.2 891.7 921.4C894.5 918.6 897.5 915.8 900.7 913.6C904.0 911.5 907.2 909.7 911.1 908.5C914.9 907.3 919.7 906.9 924.0 906.5C928.3 906.2 932.6 906.6 936.9 906.5C941.2 906.4 945.5 906.1 949.8 905.9C954.1 905.7 958.9 905.7 962.7 905.2C966.6 904.8 969.8 904.1 973.1 903.3C976.3 902.6 978.9 901.3 982.1 900.7C985.3 900.2 989.2 900.7 992.5 900.1C995.7 899.4 998.9 898.0 1001.5 896.8C1004.1 895.7 1006.2 894.3 1008.0 893.0C1009.7 891.7 1009.7 891.5 1011.8 889.1C1014.0 886.7 1022.8 882.2 1020.9 878.8C1018.9 875.3 1005.6 870.4 1000.2 868.3C994.8 866.1 992.7 866.7 988.6 865.8C984.5 865.0 980.0 864.0 975.7 863.3C971.4 862.5 966.8 861.5 962.7 861.3C958.6 861.1 954.8 861.5 951.1 862.0C947.5 862.4 944.2 863.4 940.8 863.9C937.3 864.4 934.3 865.0 930.4 865.2C926.6 865.4 921.8 865.6 917.5 865.2C913.2 864.8 908.5 863.5 904.6 862.6C900.7 861.7 897.8 861.0 894.3 860.0C890.7 859.0 885.1 857.1 883.3 856.5" fill="none" stroke="#1c1c1c" stroke-width="0.9"/>
<path d="M846.5 962.7C848.2 961.9 853.6 959.7 856.8 957.6C860.0 955.4 862.8 953.0 865.8 949.8C868.9 946.6 872.1 942.1 874.9 938.2C877.7 934.3 880.3 930.2 882.6 926.6C885.0 922.9 886.7 919.2 889.1 916.2C891.5 913.2 894.0 910.8 896.8 908.5C899.6 906.1 902.7 903.5 905.9 902.0C909.1 900.5 912.6 899.7 916.2 899.4C919.9 899.2 924.2 900.2 927.9 900.5C931.5 900.7 935.2 900.9 938.2 900.7C941.2 900.6 943.8 900.1 945.9 899.4C948.1 898.8 949.9 898.1 951.1 896.8C952.3 895.6 952.5 893.8 953.0 891.7C953.6 889.5 953.8 886.3 954.3 883.9C954.9 881.6 956.2 879.3 956.3 877.5C956.4 875.6 956.1 874.0 955.0 872.9C953.9 871.9 952.2 871.3 949.8 871.0C947.5 870.7 944.0 871.2 940.8 871.0C937.5 870.8 934.3 870.3 930.4 869.7C926.6 869.2 921.8 868.4 917.5 867.8C913.2 867.1 908.9 866.6 904.6 865.8C900.3 865.1 895.6 864.0 891.7 863.3C887.8 862.5 884.1 861.8 881.3 861.3C878.5 860.8 876.0 860.6 874.9 860.4L-4000.0 860.4L-4000.0 962.7Z" fill="#ffe400"/>
<path d="M846.5 962.7C848.2 961.9 853.6 959.7 856.8 957.6C860.0 955.4 862.8 953.0 865.8 949.8C868.9 946.6 872.1 942.1 874.9 938.2C877.7 934.3 880.3 930.2 882.6 926.6C885.0 922.9 886.7 919.2 889.1 916.2C891.5 913.2 894.0 910.8 896.8 908.5C899.6 906.1 902.7 903.5 905.9 902.0C909.1 900.5 912.6 899.7 916.2 899.4C919.9 899.2 924.2 900.2 927.9 900.5C931.5 900.7 935.2 900.9 938.2 900.7C941.2 900.6 943.8 900.1 945.9 899.4C948.1 898.8 949.9 898.1 951.1 896.8C952.3 895.6 952.5 893.8 953.0 891.7C953.6 889.5 953.8 886.3 954.3 883.9C954.9 881.6 956.2 879.3 956.3 877.5C956.4 875.6 956.1 874.0 955.0 872.9C953.9 871.9 952.2 871.3 949.8 871.0C947.5 870.7 944.0 871.2 940.8 871.0C937.5 870.8 934.3 870.3 930.4 869.7C926.6 869.2 921.8 868.4 917.5 867.8C913.2 867.1 908.9 866.6 904.6 865.8C900.3 865.1 895.6 864.0 891.7 863.3C887.8 862.5 884.1 861.8 881.3 861.3C878.5 860.8 876.0 860.6 874.9 860.4" fill="none" stroke="#1c1c1c" stroke-width="0.9"/>
<path d="M846.5 958.9C848.2 958.0 853.6 955.8 856.8 953.7C860.0 951.5 863.0 949.0 865.8 945.9C868.6 942.9 871.2 939.3 873.6 935.6C876.0 931.9 878.1 927.6 880.1 924.0C882.0 920.3 883.3 916.9 885.2 913.6C887.2 910.4 889.3 907.4 891.7 904.6C894.0 901.8 896.6 899.0 899.4 896.8C902.2 894.7 905.5 892.9 908.5 891.7C911.5 890.5 914.7 890.3 917.5 889.7C920.3 889.2 922.8 889.1 925.3 888.4C927.7 887.8 931.7 887.0 932.4 885.9C933.0 884.7 930.5 883.0 929.1 881.3C927.7 879.7 925.9 877.4 924.0 876.2C922.0 874.9 920.1 874.5 917.5 873.9C914.9 873.2 911.7 872.7 908.5 872.0C905.2 871.4 901.4 870.5 898.1 869.7C894.9 868.9 892.3 867.9 889.1 867.4C885.9 866.9 882.0 866.5 878.8 866.5C875.5 866.5 871.2 867.2 869.7 867.4L-4000.0 867.4L-4000.0 958.9Z" fill="#ffff00"/>
<path d="M846.5 958.9C848.2 958.0 853.6 955.8 856.8 953.7C860.0 951.5 863.0 949.0 865.8 945.9C868.6 942.9 871.2 939.3 873.6 935.6C876.0 931.9 878.1 927.6 880.1 924.0C882.0 920.3 883.3 916.9 885.2 913.6C887.2 910.4 889.3 907.4 891.7 904.6C894.0 901.8 896.6 899.0 899.4 896.8C902.2 894.7 905.5 892.9 908.5 891.7C911.5 890.5 914.7 890.3 917.5 889.7C920.3 889.2 922.8 889.1 925.3 888.4C927.7 887.8 931.7 887.0 932.4 885.9C933.0 884.7 930.5 883.0 929.1 881.3C927.7 879.7 925.9 877.4 924.0 876.2C922.0 874.9 920.1 874.5 917.5 873.9C914.9 873.2 911.7 872.7 908.5 872.0C905.2 871.4 901.4 870.5 898.1 869.7C894.9 868.9 892.3 867.9 889.1 867.4C885.9 866.9 882.0 866.5 878.8 866.5C875.5 866.5 871.2 867.2 869.7 867.4" fill="none" stroke="#1c1c1c" stroke-width="0.9"/>
<path d="M846.5 955.4C848.2 954.7 853.6 953.1 856.8 951.1C860.0 949.1 863.3 946.4 865.8 943.4C868.4 940.3 870.4 936.5 872.3 933.0C874.2 929.6 876.0 926.1 877.5 922.7C879.0 919.2 879.8 915.6 881.3 912.4C882.9 909.1 884.4 906.1 886.5 903.3C888.7 900.5 891.7 897.9 894.3 895.6C896.8 893.2 900.0 891.0 902.0 889.1C904.1 887.2 905.9 885.7 906.5 883.9C907.2 882.2 906.6 880.3 905.9 878.8C905.1 877.3 903.7 876.0 902.0 874.9C900.3 873.8 897.9 872.9 895.6 872.3C893.2 871.7 890.6 871.3 887.8 871.0C885.0 870.7 881.6 870.5 878.8 870.7C876.0 871.0 873.8 871.4 871.0 872.3C868.2 873.2 863.5 875.5 862.0 876.2L-4000.0 876.2L-4000.0 955.4Z" fill="#ffff72"/>
<path d="M846.5 955.4C848.2 954.7 853.6 953.1 856.8 951.1C860.0 949.1 863.3 946.4 865.8 943.4C868.4 940.3 870.4 936.5 872.3 933.0C874.2 929.6 876.0 926.1 877.5 922.7C879.0 919.2 879.8 915.6 881.3 912.4C882.9 909.1 884.4 906.1 886.5 903.3C888.7 900.5 891.7 897.9 894.3 895.6C896.8 893.2 900.0 891.0 902.0 889.1C904.1 887.2 905.9 885.7 906.5 883.9C907.2 882.2 906.6 880.3 905.9 878.8C905.1 877.3 903.7 876.0 902.0 874.9C900.3 873.8 897.9 872.9 895.6 872.3C893.2 871.7 890.6 871.3 887.8 871.0C885.0 870.7 881.6 870.5 878.8 870.7C876.0 871.0 873.8 871.4 871.0 872.3C868.2 873.2 863.5 875.5 862.0 876.2" fill="none" stroke="#1c1c1c" stroke-width="0.9"/>
<path d="M846.5 948.5C848.0 948.2 852.7 947.5 855.5 946.6C858.3 945.7 860.9 945.0 863.3 943.4C865.6 941.7 867.8 939.5 869.7 936.9C871.7 934.3 873.5 931.1 874.9 927.9C876.3 924.6 877.0 920.7 878.1 917.5C879.2 914.3 879.9 911.3 881.3 908.5C882.7 905.7 884.6 903.1 886.5 900.7C888.4 898.4 891.2 896.4 893.0 894.3C894.7 892.1 896.1 889.7 896.8 887.8C897.6 885.9 897.8 884.3 897.5 882.6C897.2 881.0 896.3 879.2 894.9 878.1C893.5 877.0 891.1 876.3 889.1 875.9C887.0 875.5 885.0 875.3 882.6 875.5C880.3 875.8 877.5 876.5 874.9 877.5C872.3 878.4 869.7 879.7 867.1 881.3C864.5 883.0 862.1 885.3 859.4 887.2C856.7 889.0 852.4 891.5 851.0 892.3L-4000.0 892.3L-4000.0 948.5Z" fill="#ffffa1"/>
<path d="M846.5 948.5C848.0 948.2 852.7 947.5 855.5 946.6C858.3 945.7 860.9 945.0 863.3 943.4C865.6 941.7 867.8 939.5 869.7 936.9C871.7 934.3 873.5 931.1 874.9 927.9C876.3 924.6 877.0 920.7 878.1 917.5C879.2 914.3 879.9 911.3 881.3 908.5C882.7 905.7 884.6 903.1 886.5 900.7C888.4 898.4 891.2 896.4 893.0 894.3C894.7 892.1 896.1 889.7 896.8 887.8C897.6 885.9 897.8 884.3 897.5 882.6C897.2 881.0 896.3 879.2 894.9 878.1C893.5 877.0 891.1 876.3 889.1 875.9C887.0 875.5 885.0 875.3 882.6 875.5C880.3 875.8 877.5 876.5 874.9 877.5C872.3 878.4 869.7 879.7 867.1 881.3C864.5 883.0 862.1 885.3 859.4 887.2C856.7 889.0 852.4 891.5 851.0 892.3" fill="none" stroke="#1c1c1c" stroke-width="0.9"/>
<path d="M871.0 899.2C872.2 899.3 873.4 900.2 873.9 902.0C874.3 903.8 874.2 906.8 873.9 909.8C873.5 912.8 872.5 916.9 871.7 920.1C870.9 923.3 870.1 926.7 869.1 929.1C868.0 931.6 866.6 933.9 865.2 935.0C863.8 936.0 862.0 936.0 860.7 935.6C859.4 935.2 858.2 934.3 857.4 932.4C856.7 930.4 856.0 926.9 856.1 924.0C856.3 921.1 857.1 917.7 858.1 914.9C859.1 912.1 860.6 909.4 862.0 907.2C863.4 904.9 865.0 902.7 866.5 901.4C868.0 900.0 869.8 899.1 871.0 899.2Z" fill="#ffffc6" stroke="#1c1c1c" stroke-width="0.9"/>
<path d="M846.9 1024.3C848.6 1022.6 853.8 1018.1 857.2 1014.0C860.7 1009.8 863.8 1004.7 867.5 999.5C871.3 994.3 875.8 987.8 879.9 983.0C884.1 978.1 887.9 974.4 892.4 970.6C896.8 966.8 901.7 963.2 906.8 960.2C912.0 957.3 917.8 954.8 923.4 953.0C928.9 951.2 934.4 950.2 939.9 949.5C945.4 948.8 950.9 948.6 956.4 948.9C961.9 949.1 967.5 949.9 973.0 950.9C978.5 952.0 984.0 953.5 989.5 955.1C995.0 956.6 1001.2 959.0 1006.0 960.2C1010.9 961.4 1014.7 962.1 1018.4 962.3C1022.2 962.5 1025.3 961.6 1028.8 961.3C1032.2 960.9 1036.0 959.9 1039.1 960.2C1042.2 960.6 1045.0 961.6 1047.4 963.3C1049.8 965.1 1051.7 968.0 1053.6 970.6C1055.5 973.2 1057.4 976.1 1058.8 978.8C1060.1 981.6 1061.0 984.7 1061.9 987.1C1062.7 989.5 1062.5 990.9 1063.9 993.3C1065.3 995.7 1068.2 999.2 1070.1 1001.6C1072.0 1004.0 1073.7 1006.3 1075.3 1007.8C1076.8 1009.2 1078.7 1009.8 1079.4 1010.3L4000.0 1010.3L4000.0 4000.0L-4000.0 4000.0L-4000.0 1024.3Z" fill="#e40000"/>
<path d="M846.9 1024.3C848.6 1022.6 853.8 1018.1 857.2 1014.0C860.7 1009.8 863.8 1004.7 867.5 999.5C871.3 994.3 875.8 987.8 879.9 983.0C884.1 978.1 887.9 974.4 892.4 970.6C896.8 966.8 901.7 963.2 906.8 960.2C912.0 957.3 917.8 954.8 923.4 953.0C928.9 951.2 934.4 950.2 939.9 949.5C945.4 948.8 950.9 948.6 956.4 948.9C961.9 949.1 967.5 949.9 973.0 950.9C978.5 952.0 984.0 953.5 989.5 955.1C995.0 956.6 1001.2 959.0 1006.0 960.2C1010.9 961.4 1014.7 962.1 1018.4 962.3C1022.2 962.5 1025.3 961.6 1028.8 961.3C1032.2 960.9 1036.0 959.9 1039.1 960.2C1042.2 960.6 1045.0 961.6 1047.4 963.3C1049.8 965.1 1051.7 968.0 1053.6 970.6C1055.5 973.2 1057.4 976.1 1058.8 978.8C1060.1 981.6 1061.0 984.7 1061.9 987.1C1062.7 989.5 1062.5 990.9 1063.9 993.3C1065.3 995.7 1068.2 999.2 1070.1 1001.6C1072.0 1004.0 1073.7 1006.3 1075.3 1007.8C1076.8 1009.2 1078.7 1009.8 1079.4 1010.3" fill="none" stroke="#1c1c1c" stroke-width="0.9"/>
<path d="M852.0 1040.9C853.6 1039.1 858.1 1034.7 861.3 1030.5C864.6 1026.4 868.2 1020.9 871.7 1016.0C875.1 1011.2 878.2 1006.1 882.0 1001.6C885.8 997.1 890.3 993.0 894.4 989.2C898.6 985.4 902.3 981.6 906.8 978.8C911.3 976.1 916.5 974.3 921.3 972.6C926.1 971.0 930.6 969.3 935.8 968.9C940.9 968.5 947.5 969.2 952.3 970.2C957.1 971.1 960.6 972.6 964.7 974.7C968.8 976.8 973.0 980.2 977.1 983.0C981.2 985.7 985.7 988.8 989.5 991.2C993.3 993.7 996.4 994.7 999.8 997.4C1003.3 1000.2 1007.1 1004.0 1010.2 1007.8C1013.3 1011.6 1015.7 1016.0 1018.4 1020.2C1021.2 1024.3 1024.0 1028.8 1026.7 1032.6C1029.5 1036.4 1031.9 1039.8 1035.0 1042.9C1038.1 1046.0 1041.4 1048.9 1045.3 1051.2C1049.3 1053.5 1056.5 1055.8 1058.8 1056.8L4000.0 1056.8L4000.0 4000.0L-4000.0 4000.0L-4000.0 1040.9Z" fill="#c60000"/>
<path d="M852.0 1040.9C853.6 1039.1 858.1 1034.7 861.3 1030.5C864.6 1026.4 868.2 1020.9 871.7 1016.0C875.1 1011.2 878.2 1006.1 882.0 1001.6C885.8 997.1 890.3 993.0 894.4 989.2C898.6 985.4 902.3 981.6 906.8 978.8C911.3 976.1 916.5 974.3 921.3 972.6C926.1 971.0 930.6 969.3 935.8 968.9C940.9 968.5 947.5 969.2 952.3 970.2C957.1 971.1 960.6 972.6 964.7 974.7C968.8 976.8 973.0 980.2 977.1 983.0C981.2 985.7 985.7 988.8 989.5 991.2C993.3 993.7 996.4 994.7 999.8 997.4C1003.3 1000.2 1007.1 1004.0 1010.2 1007.8C1013.3 1011.6 1015.7 1016.0 1018.4 1020.2C1021.2 1024.3 1024.0 1028.8 1026.7 1032.6C1029.5 1036.4 1031.9 1039.8 1035.0 1042.9C1038.1 1046.0 1041.4 1048.9 1045.3 1051.2C1049.3 1053.5 1056.5 1055.8 1058.8 1056.8" fill="none" stroke="#1c1c1c" stroke-width="0.9"/>
<path d="M860.3 1061.5C861.9 1059.1 866.3 1051.9 869.6 1047.1C872.9 1042.2 876.5 1037.1 879.9 1032.6C883.4 1028.1 886.5 1024.3 890.3 1020.2C894.1 1016.0 898.6 1011.1 902.7 1007.8C906.8 1004.5 911.0 1002.3 915.1 1000.5C919.2 998.8 923.4 997.4 927.5 997.0C931.6 996.7 935.8 997.5 939.9 998.5C944.0 999.4 948.2 1000.7 952.3 1002.6C956.4 1004.5 960.6 1007.3 964.7 1009.8C968.8 1012.4 973.3 1015.0 977.1 1018.1C980.9 1021.2 984.7 1024.7 987.4 1028.4C990.2 1032.2 991.6 1036.7 993.6 1040.9C995.7 1045.0 997.4 1049.5 999.8 1053.3C1002.3 1057.0 1005.4 1060.5 1008.1 1063.6C1010.9 1066.7 1013.3 1069.4 1016.4 1071.9C1019.5 1074.3 1022.8 1075.2 1026.7 1078.1C1030.7 1080.9 1037.9 1087.0 1040.2 1088.8L4000.0 1088.8L4000.0 4000.0L-4000.0 4000.0L-4000.0 1061.5Z" fill="#a10000"/>
<path d="M860.3 1061.5C861.9 1059.1 866.3 1051.9 869.6 1047.1C872.9 1042.2 876.5 1037.1 879.9 1032.6C883.4 1028.1 886.5 1024.3 890.3 1020.2C894.1 1016.0 898.6 1011.1 902.7 1007.8C906.8 1004.5 911.0 1002.3 915.1 1000.5C919.2 998.8 923.4 997.4 927.5 997.0C931.6 996.7 935.8 997.5 939.9 998.5C944.0 999.4 948.2 1000.7 952.3 1002.6C956.4 1004.5 960.6 1007.3 964.7 1009.8C968.8 1012.4 973.3 1015.0 977.1 1018.1C980.9 1021.2 984.7 1024.7 987.4 1028.4C990.2 1032.2 991.6 1036.7 993.6 1040.9C995.7 1045.0 997.4 1049.5 999.8 1053.3C1002.3 1057.0 1005.4 1060.5 1008.1 1063.6C1010.9 1066.7 1013.3 1069.4 1016.4 1071.9C1019.5 1074.3 1022.8 1075.2 1026.7 1078.1C1030.7 1080.9 1037.9 1087.0 1040.2 1088.8" fill="none" stroke="#1c1c1c" stroke-width="0.9"/>
<path d="M871.7 1088.4C872.4 1086.3 874.1 1080.1 875.8 1076.0C877.5 1071.9 879.3 1067.7 882.0 1063.6C884.8 1059.5 888.6 1055.0 892.4 1051.2C896.1 1047.4 900.6 1044.1 904.8 1040.9C908.9 1037.6 913.0 1034.1 917.2 1031.6C921.3 1029.0 925.8 1026.6 929.6 1025.3C933.4 1024.1 936.1 1023.8 939.9 1024.3C943.7 1024.8 948.5 1026.4 952.3 1028.4C956.1 1030.5 959.5 1033.6 962.6 1036.7C965.7 1039.8 968.1 1043.3 970.9 1047.1C973.7 1050.8 976.4 1055.3 979.2 1059.5C981.9 1063.6 984.7 1068.1 987.4 1071.9C990.2 1075.7 992.6 1079.1 995.7 1082.2C998.8 1085.3 1002.6 1088.1 1006.0 1090.5C1009.5 1092.9 1013.5 1094.9 1016.4 1096.7C1019.3 1098.5 1022.4 1100.5 1023.6 1101.2L4000.0 1101.2L4000.0 4000.0L-4000.0 4000.0L-4000.0 1088.4Z" fill="#720000"/>
<path d="M871.7 1088.4C872.4 1086.3 874.1 1080.1 875.8 1076.0C877.5 1071.9 879.3 1067.7 882.0 1063.6C884.8 1059.5 888.6 1055.0 892.4 1051.2C896.1 1047.4 900.6 1044.1 904.8 1040.9C908.9 1037.6 913.0 1034.1 917.2 1031.6C921.3 1029.0 925.8 1026.6 929.6 1025.3C933.4 1024.1 936.1 1023.8 939.9 1024.3C943.7 1024.8 948.5 1026.4 952.3 1028.4C956.1 1030.5 959.5 1033.6 962.6 1036.7C965.7 1039.8 968.1 1043.3 970.9 1047.1C973.7 1050.8 976.4 1055.3 979.2 1059.5C981.9 1063.6 984.7 1068.1 987.4 1071.9C990.2 1075.7 992.6 1079.1 995.7 1082.2C998.8 1085.3 1002.6 1088.1 1006.0 1090.5C1009.5 1092.9 1013.5 1094.9 1016.4 1096.7C1019.3 1098.5 1022.4 1100.5 1023.6 1101.2" fill="none" stroke="#1c1c1c" stroke-width="0.9"/>
<path d="M894.4 1122.1C894.2 1119.2 893.4 1110.6 893.4 1104.9C893.4 1099.3 893.6 1093.2 894.4 1088.4C895.3 1083.6 896.5 1079.4 898.6 1076.0C900.6 1072.5 903.7 1070.0 906.8 1067.7C909.9 1065.5 913.4 1063.8 917.2 1062.6C920.9 1061.4 925.8 1060.7 929.6 1060.5C933.4 1060.3 936.8 1060.3 939.9 1061.5C943.0 1062.7 945.8 1065.0 948.2 1067.7C950.6 1070.5 952.6 1074.6 954.4 1078.1C956.1 1081.5 957.1 1085.3 958.5 1088.4C959.9 1091.5 960.6 1094.3 962.6 1096.7C964.7 1099.1 967.8 1101.0 970.9 1102.9C974.0 1104.8 977.8 1106.7 981.2 1108.0C984.7 1109.4 988.1 1109.9 991.6 1111.1C995.0 1112.3 999.7 1114.2 1001.9 1115.3C1004.2 1116.4 1004.5 1117.3 1005.0 1117.8L4000.0 1117.8L4000.0 4000.0L-4000.0 4000.0L-4000.0 1122.1Z" fill="#000000"/>
<path d="M894.4 1122.1C894.2 1119.2 893.4 1110.6 893.4 1104.9C893.4 1099.3 893.6 1093.2 894.4 1088.4C895.3 1083.6 896.5 1079.4 898.6 1076.0C900.6 1072.5 903.7 1070.0 906.8 1067.7C909.9 1065.5 913.4 1063.8 917.2 1062.6C920.9 1061.4 925.8 1060.7 929.6 1060.5C933.4 1060.3 936.8 1060.3 939.9 1061.5C943.0 1062.7 945.8 1065.0 948.2 1067.7C950.6 1070.5 952.6 1074.6 954.4 1078.1C956.1 1081.5 957.1 1085.3 958.5 1088.4C959.9 1091.5 960.6 1094.3 962.6 1096.7C964.7 1099.1 967.8 1101.0 970.9 1102.9C974.0 1104.8 977.8 1106.7 981.2 1108.0C984.7 1109.4 988.1 1109.9 991.6 1111.1C995.0 1112.3 999.7 1114.2 1001.9 1115.3C1004.2 1116.4 1004.5 1117.3 1005.0 1117.8" fill="none" stroke="#1c1c1c" stroke-width="0.9"/>
</g>
<clipPath id="clip7"><path d="M1237.1 841.7L1296.0 841.7L1300.1 844.8L1308.4 848.9L1316.7 856.2L1320.8 864.4L1329.1 876.8L1333.2 889.3L1349.7 906.8L1362.1 916.1L1366.3 924.4L1370.4 938.9L1378.7 953.3L1382.8 963.7L1391.1 973.0L1398.3 974.0L1399.4 982.3L1399.4 1002.9L1395.2 1011.2L1395.2 1023.6L1391.1 1029.8L1387.0 1042.2L1378.7 1050.5L1370.4 1062.9L1362.1 1079.4L1353.9 1085.6L1345.6 1093.9L1337.3 1103.2L1327.0 1108.4L1318.7 1115.6L1205.5 1115.6L1201.9 1112.5L1197.8 1102.2L1193.7 1091.8L1189.5 1079.4L1185.4 1067.0L1181.3 1054.6L1177.1 1048.4L1173.0 1038.1L1168.9 1025.7L1164.7 1019.5L1164.7 967.8L1168.9 949.2L1168.9 895.5L1173.0 887.2L1173.0 874.8L1177.1 872.7L1185.4 863.4L1195.7 855.1L1207.1 850.0L1217.4 846.5L1234.0 844.8Z"/></clipPath>
<g clip-path="url(#clip7)">
<path d="M1237.1 841.7L1296.0 841.7L1300.1 844.8L1308.4 848.9L1316.7 856.2L1320.8 864.4L1329.1 876.8L1333.2 889.3L1349.7 906.8L1362.1 916.1L1366.3 924.4L1370.4 938.9L1378.7 953.3L1382.8 963.7L1391.1 973.0L1398.3 974.0L1399.4 982.3L1399.4 1002.9L1395.2 1011.2L1395.2 1023.6L1391.1 1029.8L1387.0 1042.2L1378.7 1050.5L1370.4 1062.9L1362.1 1079.4L1353.9 1085.6L1345.6 1093.9L1337.3 1103.2L1327.0 1108.4L1318.7 1115.6L1205.5 1115.6L1201.9 1112.5L1197.8 1102.2L1193.7 1091.8L1189.5 1079.4L1185.4 1067.0L1181.3 1054.6L1177.1 1048.4L1173.0 1038.1L1168.9 1025.7L1164.7 1019.5L1164.7 967.8L1168.9 949.2L1168.9 895.5L1173.0 887.2L1173.0 874.8L1177.1 872.7L1185.4 863.4L1195.7 855.1L1207.1 850.0L1217.4 846.5L1234.0 844.8Z" fill="#ffffc6"/>
<path d="M1319.8 860.9C1317.4 861.7 1310.5 863.7 1305.7 865.5C1301.0 867.3 1296.4 869.3 1291.2 871.7C1286.1 874.1 1279.9 876.8 1274.7 879.9C1269.5 883.0 1264.4 886.8 1260.2 890.3C1256.1 893.7 1252.5 897.2 1249.9 900.6C1247.3 904.1 1245.8 907.5 1244.7 911.0C1243.7 914.4 1243.2 918.2 1243.7 921.3C1244.2 924.4 1245.8 926.8 1247.8 929.6C1249.9 932.3 1253.0 934.7 1256.1 937.8C1259.2 940.9 1263.0 944.4 1266.4 948.2C1269.9 952.0 1273.0 956.8 1276.8 960.6C1280.6 964.4 1285.0 968.1 1289.2 970.9C1293.3 973.7 1297.1 975.6 1301.6 977.1C1306.1 978.7 1310.9 979.3 1316.0 980.2C1321.2 981.1 1327.1 981.4 1332.6 982.3C1338.1 983.1 1343.6 984.2 1349.1 985.4C1354.6 986.6 1360.1 988.1 1365.7 989.5C1371.2 990.9 1376.4 992.2 1382.2 993.6C1388.0 995.1 1397.4 997.6 1400.4 998.4L4000.0 998.4L4000.0 860.9Z" fill="#ffffa1"/>
<path d="M1319.8 860.9C1317.4 861.7 1310.5 863.7 1305.7 865.5C1301.0 867.3 1296.4 869.3 1291.2 871.7C1286.1 874.1 1279.9 876.8 1274.7 879.9C1269.5 883.0 1264.4 886.8 1260.2 890.3C1256.1 893.7 1252.5 897.2 1249.9 900.6C1247.3 904.1 1245.8 907.5 1244.7 911.0C1243.7 914.4 1243.2 918.2 1243.7 921.3C1244.2 924.4 1245.8 926.8 1247.8 929.6C1249.9 932.3 1253.0 934.7 1256.1 937.8C1259.2 940.9 1263.0 944.4 1266.4 948.2C1269.9 952.0 1273.0 956.8 1276.8 960.6C1280.6 964.4 1285.0 968.1 1289.2 970.9C1293.3 973.7 1297.1 975.6 1301.6 977.1C1306.1 978.7 1310.9 979.3 1316.0 980.2C1321.2 981.1 1327.1 981.4 1332.6 982.3C1338.1 983.1 1343.6 984.2 1349.1 985.4C1354.6 986.6 1360.1 988.1 1365.7 989.5C1371.2 990.9 1376.4 992.2 1382.2 993.6C1388.0 995.1 1397.4 997.6 1400.4 998.4" fill="none" stroke="#1c1c1c" stroke-width="0.9"/>
<path d="M1339.8 896.9C1337.6 896.5 1331.0 895.1 1326.4 894.4C1321.7 893.7 1316.4 892.5 1311.9 892.8C1307.4 893.0 1303.6 894.6 1299.5 896.1C1295.4 897.6 1290.9 899.5 1287.1 901.7C1283.3 903.8 1279.4 906.3 1276.8 908.9C1274.2 911.5 1272.1 914.1 1271.6 917.2C1271.1 920.3 1272.1 924.4 1273.7 927.5C1275.2 930.6 1278.0 932.7 1280.9 935.8C1283.8 938.9 1287.5 942.7 1291.2 946.1C1295.0 949.5 1299.5 953.3 1303.6 956.4C1307.8 959.5 1311.9 962.5 1316.0 964.7C1320.2 966.9 1323.6 968.3 1328.4 969.9C1333.3 971.4 1339.5 972.6 1345.0 974.0C1350.5 975.4 1356.0 976.9 1361.5 978.1C1367.0 979.3 1373.2 980.3 1378.1 981.2C1382.9 982.2 1386.7 983.0 1390.5 983.7C1394.2 984.4 1398.7 985.1 1400.4 985.4L4000.0 985.4L4000.0 896.9Z" fill="#ffff72"/>
<path d="M1339.8 896.9C1337.6 896.5 1331.0 895.1 1326.4 894.4C1321.7 893.7 1316.4 892.5 1311.9 892.8C1307.4 893.0 1303.6 894.6 1299.5 896.1C1295.4 897.6 1290.9 899.5 1287.1 901.7C1283.3 903.8 1279.4 906.3 1276.8 908.9C1274.2 911.5 1272.1 914.1 1271.6 917.2C1271.1 920.3 1272.1 924.4 1273.7 927.5C1275.2 930.6 1278.0 932.7 1280.9 935.8C1283.8 938.9 1287.5 942.7 1291.2 946.1C1295.0 949.5 1299.5 953.3 1303.6 956.4C1307.8 959.5 1311.9 962.5 1316.0 964.7C1320.2 966.9 1323.6 968.3 1328.4 969.9C1333.3 971.4 1339.5 972.6 1345.0 974.0C1350.5 975.4 1356.0 976.9 1361.5 978.1C1367.0 979.3 1373.2 980.3 1378.1 981.2C1382.9 982.2 1386.7 983.0 1390.5 983.7C1394.2 984.4 1398.7 985.1 1400.4 985.4" fill="none" stroke="#1c1c1c" stroke-width="0.9"/>
<path d="M1364.6 919.2C1362.0 919.5 1354.1 920.7 1349.1 920.9C1344.1 921.1 1339.1 920.0 1334.7 920.3C1330.2 920.5 1325.5 921.1 1322.2 922.3C1319.0 923.5 1316.7 925.3 1315.0 927.5C1313.3 929.7 1311.9 932.7 1311.9 935.8C1311.9 938.9 1313.3 943.0 1315.0 946.1C1316.7 949.2 1319.3 952.0 1322.2 954.4C1325.2 956.8 1328.8 958.8 1332.6 960.6C1336.4 962.3 1340.5 963.5 1345.0 964.7C1349.5 965.9 1354.6 966.8 1359.5 967.8C1364.3 968.8 1369.4 970.0 1373.9 970.9C1378.4 971.8 1382.5 973.0 1386.3 973.4C1390.1 973.7 1394.9 973.0 1396.7 973.0L4000.0 973.0L4000.0 919.2Z" fill="#ffff00"/>
<path d="M1364.6 919.2C1362.0 919.5 1354.1 920.7 1349.1 920.9C1344.1 921.1 1339.1 920.0 1334.7 920.3C1330.2 920.5 1325.5 921.1 1322.2 922.3C1319.0 923.5 1316.7 925.3 1315.0 927.5C1313.3 929.7 1311.9 932.7 1311.9 935.8C1311.9 938.9 1313.3 943.0 1315.0 946.1C1316.7 949.2 1319.3 952.0 1322.2 954.4C1325.2 956.8 1328.8 958.8 1332.6 960.6C1336.4 962.3 1340.5 963.5 1345.0 964.7C1349.5 965.9 1354.6 966.8 1359.5 967.8C1364.3 968.8 1369.4 970.0 1373.9 970.9C1378.4 971.8 1382.5 973.0 1386.3 973.4C1390.1 973.7 1394.9 973.0 1396.7 973.0" fill="none" stroke="#1c1c1c" stroke-width="0.9"/>
<path d="M1371.9 932.5C1369.8 932.8 1362.9 933.8 1359.5 934.7C1356.0 935.6 1353.6 936.3 1351.2 937.8C1348.8 939.4 1345.7 941.6 1345.0 944.0C1344.3 946.4 1345.3 949.9 1347.1 952.3C1348.8 954.7 1352.2 957.0 1355.3 958.5C1358.4 960.1 1362.2 961.1 1365.7 961.6C1369.1 962.1 1372.9 962.1 1376.0 961.6C1379.1 961.1 1382.9 959.2 1384.3 958.7L4000.0 958.7L4000.0 932.5Z" fill="#ffe400"/>
<path d="M1371.9 932.5C1369.8 932.8 1362.9 933.8 1359.5 934.7C1356.0 935.6 1353.6 936.3 1351.2 937.8C1348.8 939.4 1345.7 941.6 1345.0 944.0C1344.3 946.4 1345.3 949.9 1347.1 952.3C1348.8 954.7 1352.2 957.0 1355.3 958.5C1358.4 960.1 1362.2 961.1 1365.7 961.6C1369.1 962.1 1372.9 962.1 1376.0 961.6C1379.1 961.1 1382.9 959.2 1384.3 958.7" fill="none" stroke="#1c1c1c" stroke-width="0.9"/>
<path d="M1201.3 855.1C1201.5 856.9 1201.3 858.8 1202.4 860.3C1203.4 861.9 1205.5 863.8 1207.5 864.4C1209.6 865.1 1212.7 865.1 1214.8 864.4C1216.8 863.8 1219.1 862.0 1219.9 860.3C1220.8 858.6 1220.6 856.0 1219.9 854.1C1219.2 852.2 1217.7 850.3 1215.8 848.9C1213.9 847.6 1211.0 845.7 1208.6 845.8C1206.1 846.0 1202.5 848.4 1201.3 850.0C1200.1 851.5 1201.1 853.4 1201.3 855.1Z" fill="#ffffe4" stroke="#1c1c1c" stroke-width="0.9"/>
<path d="M1208.6 942.4C1209.6 942.7 1208.9 945.5 1209.6 947.1C1210.3 948.8 1211.3 950.7 1212.7 952.3C1214.1 953.9 1216.8 955.1 1217.9 956.4C1218.9 957.8 1219.4 959.4 1218.9 960.6C1218.4 961.8 1216.3 963.0 1214.8 963.7C1213.2 964.4 1211.1 963.9 1209.6 964.7C1208.0 965.5 1206.8 968.4 1205.5 968.4C1204.1 968.4 1202.4 966.7 1201.3 964.7C1200.3 962.7 1199.4 958.8 1199.3 956.4C1199.1 954.0 1199.6 952.1 1200.3 950.2C1201.0 948.3 1202.0 946.4 1203.4 945.1C1204.8 943.8 1207.5 942.0 1208.6 942.4Z" fill="#ffffe4" stroke="#1c1c1c" stroke-width="0.9"/>
<path d="M1163.1 1007.7C1164.8 1007.8 1170.3 1008.0 1173.4 1008.1C1176.5 1008.3 1179.7 1007.8 1181.7 1008.5C1183.7 1009.2 1184.7 1010.2 1185.4 1012.2C1186.1 1014.2 1186.3 1017.8 1185.8 1020.5C1185.4 1023.3 1183.7 1026.0 1182.7 1028.8C1181.7 1031.5 1180.5 1034.5 1179.6 1037.1C1178.8 1039.6 1178.2 1042.4 1177.5 1044.3C1176.9 1046.2 1176.2 1047.7 1175.9 1048.4L-4000.0 1048.4L-4000.0 1007.7Z" fill="#ffffe4"/>
<path d="M1163.1 1007.7C1164.8 1007.8 1170.3 1008.0 1173.4 1008.1C1176.5 1008.3 1179.7 1007.8 1181.7 1008.5C1183.7 1009.2 1184.7 1010.2 1185.4 1012.2C1186.1 1014.2 1186.3 1017.8 1185.8 1020.5C1185.4 1023.3 1183.7 1026.0 1182.7 1028.8C1181.7 1031.5 1180.5 1034.5 1179.6 1037.1C1178.8 1039.6 1178.2 1042.4 1177.5 1044.3C1176.9 1046.2 1176.2 1047.7 1175.9 1048.4" fill="none" stroke="#1c1c1c" stroke-width="0.9"/>
<path d="M1169.3 1024.7C1170.1 1025.2 1173.1 1026.4 1174.4 1027.8C1175.8 1029.1 1176.8 1031.0 1177.1 1032.9C1177.5 1034.8 1176.9 1037.2 1176.5 1039.1C1176.2 1041.0 1175.3 1043.4 1175.1 1044.3" fill="none" stroke="#1c1c1c" stroke-width="0.9"/>
<path d="M1396.7 1009.6C1394.9 1008.6 1390.1 1005.9 1386.3 1004.0C1382.5 1002.0 1378.1 999.6 1373.9 997.8C1369.8 996.0 1366.0 994.3 1361.5 993.2C1357.0 992.1 1351.5 991.4 1347.1 991.2C1342.6 991.0 1338.8 991.2 1334.7 992.0C1330.5 992.7 1326.0 994.1 1322.2 995.7C1318.5 997.4 1314.5 999.5 1311.9 1001.9C1309.3 1004.3 1308.5 1007.4 1306.7 1010.2C1305.0 1012.9 1303.5 1016.2 1301.6 1018.4C1299.7 1020.7 1297.3 1022.8 1295.4 1023.6C1293.5 1024.5 1291.4 1023.1 1290.2 1023.6C1289.0 1024.1 1288.0 1025.5 1288.1 1026.7C1288.3 1027.9 1289.7 1029.1 1291.2 1030.9C1292.8 1032.6 1295.0 1034.6 1297.4 1037.1C1299.9 1039.5 1303.0 1042.6 1305.7 1045.3C1308.5 1048.1 1311.6 1051.2 1314.0 1053.6C1316.4 1056.0 1318.1 1058.4 1320.2 1059.8C1322.2 1061.2 1324.3 1060.8 1326.4 1061.9C1328.4 1062.9 1329.5 1065.0 1332.6 1066.0C1335.7 1067.0 1340.9 1067.5 1345.0 1068.1C1349.1 1068.6 1353.4 1068.5 1357.4 1069.1C1361.4 1069.6 1366.9 1071.0 1368.8 1071.4L4000.0 1071.4L4000.0 1009.6Z" fill="#ffffe4"/>
<path d="M1396.7 1009.6C1394.9 1008.6 1390.1 1005.9 1386.3 1004.0C1382.5 1002.0 1378.1 999.6 1373.9 997.8C1369.8 996.0 1366.0 994.3 1361.5 993.2C1357.0 992.1 1351.5 991.4 1347.1 991.2C1342.6 991.0 1338.8 991.2 1334.7 992.0C1330.5 992.7 1326.0 994.1 1322.2 995.7C1318.5 997.4 1314.5 999.5 1311.9 1001.9C1309.3 1004.3 1308.5 1007.4 1306.7 1010.2C1305.0 1012.9 1303.5 1016.2 1301.6 1018.4C1299.7 1020.7 1297.3 1022.8 1295.4 1023.6C1293.5 1024.5 1291.4 1023.1 1290.2 1023.6C1289.0 1024.1 1288.0 1025.5 1288.1 1026.7C1288.3 1027.9 1289.7 1029.1 1291.2 1030.9C1292.8 1032.6 1295.0 1034.6 1297.4 1037.1C1299.9 1039.5 1303.0 1042.6 1305.7 1045.3C1308.5 1048.1 1311.6 1051.2 1314.0 1053.6C1316.4 1056.0 1318.1 1058.4 1320.2 1059.8C1322.2 1061.2 1324.3 1060.8 1326.4 1061.9C1328.4 1062.9 1329.5 1065.0 1332.6 1066.0C1335.7 1067.0 1340.9 1067.5 1345.0 1068.1C1349.1 1068.6 1353.4 1068.5 1357.4 1069.1C1361.4 1069.6 1366.9 1071.0 1368.8 1071.4" fill="none" stroke="#1c1c1c" stroke-width="0.9"/>
<path d="M1176.1 1048.4C1177.0 1046.2 1179.7 1039.3 1181.7 1035.0C1183.6 1030.7 1185.5 1026.5 1187.9 1022.6C1190.3 1018.6 1193.0 1014.3 1196.1 1011.2C1199.3 1008.1 1202.7 1005.9 1206.5 1004.0C1210.3 1002.1 1214.8 1000.7 1218.9 999.8C1223.0 999.0 1227.5 998.5 1231.3 998.8C1235.1 999.2 1237.8 1000.4 1241.6 1001.9C1245.4 1003.5 1249.9 1005.7 1254.0 1008.1C1258.2 1010.5 1262.3 1013.3 1266.4 1016.4C1270.6 1019.5 1274.7 1023.3 1278.8 1026.7C1283.0 1030.2 1287.1 1033.6 1291.2 1037.1C1295.4 1040.5 1299.5 1043.9 1303.6 1047.4C1307.8 1050.8 1311.9 1054.6 1316.0 1057.7C1320.2 1060.8 1324.3 1063.8 1328.4 1066.0C1332.6 1068.2 1336.7 1069.8 1340.9 1071.2C1345.0 1072.5 1349.5 1073.4 1353.3 1074.3C1357.0 1075.1 1361.9 1076.0 1363.6 1076.3L4000.0 1076.3L4000.0 4000.0L-4000.0 4000.0L-4000.0 1048.4Z" fill="#ffffa1"/>
<path d="M1176.1 1048.4C1177.0 1046.2 1179.7 1039.3 1181.7 1035.0C1183.6 1030.7 1185.5 1026.5 1187.9 1022.6C1190.3 1018.6 1193.0 1014.3 1196.1 1011.2C1199.3 1008.1 1202.7 1005.9 1206.5 1004.0C1210.3 1002.1 1214.8 1000.7 1218.9 999.8C1223.0 999.0 1227.5 998.5 1231.3 998.8C1235.1 999.2 1237.8 1000.4 1241.6 1001.9C1245.4 1003.5 1249.9 1005.7 1254.0 1008.1C1258.2 1010.5 1262.3 1013.3 1266.4 1016.4C1270.6 1019.5 1274.7 1023.3 1278.8 1026.7C1283.0 1030.2 1287.1 1033.6 1291.2 1037.1C1295.4 1040.5 1299.5 1043.9 1303.6 1047.4C1307.8 1050.8 1311.9 1054.6 1316.0 1057.7C1320.2 1060.8 1324.3 1063.8 1328.4 1066.0C1332.6 1068.2 1336.7 1069.8 1340.9 1071.2C1345.0 1072.5 1349.5 1073.4 1353.3 1074.3C1357.0 1075.1 1361.9 1076.0 1363.6 1076.3" fill="none" stroke="#1c1c1c" stroke-width="0.9"/>
<path d="M1177.2 1050.9C1178.1 1048.7 1180.9 1041.7 1182.9 1037.3C1184.8 1033.0 1186.7 1028.9 1189.1 1024.9C1191.5 1021.0 1194.2 1016.9 1197.3 1013.9C1200.4 1010.8 1203.9 1008.6 1207.7 1006.8C1211.4 1004.9 1215.7 1003.6 1219.8 1002.8C1223.8 1002.0 1228.2 1001.7 1231.9 1002.1C1235.6 1002.4 1238.4 1003.6 1242.2 1005.1C1245.9 1006.6 1250.4 1008.7 1254.5 1011.1C1258.6 1013.4 1262.7 1016.1 1266.8 1019.1C1271.0 1022.0 1275.1 1025.5 1279.2 1028.8C1283.3 1032.2 1287.5 1035.7 1291.6 1039.1C1295.7 1042.5 1299.9 1045.9 1304.0 1049.3C1308.1 1052.6 1312.3 1056.3 1316.4 1059.3C1320.5 1062.3 1324.7 1065.2 1328.8 1067.3C1332.9 1069.5 1337.2 1071.0 1341.2 1072.3C1345.3 1073.6 1349.5 1074.4 1353.1 1075.3C1356.7 1076.1 1361.3 1076.9 1363.0 1077.2L4000.0 1077.2L4000.0 4000.0L-4000.0 4000.0L-4000.0 1050.9Z" fill="#ffff72"/>
<path d="M1177.2 1050.9C1178.1 1048.7 1180.9 1041.7 1182.9 1037.3C1184.8 1033.0 1186.7 1028.9 1189.1 1024.9C1191.5 1021.0 1194.2 1016.9 1197.3 1013.9C1200.4 1010.8 1203.9 1008.6 1207.7 1006.8C1211.4 1004.9 1215.7 1003.6 1219.8 1002.8C1223.8 1002.0 1228.2 1001.7 1231.9 1002.1C1235.6 1002.4 1238.4 1003.6 1242.2 1005.1C1245.9 1006.6 1250.4 1008.7 1254.5 1011.1C1258.6 1013.4 1262.7 1016.1 1266.8 1019.1C1271.0 1022.0 1275.1 1025.5 1279.2 1028.8C1283.3 1032.2 1287.5 1035.7 1291.6 1039.1C1295.7 1042.5 1299.9 1045.9 1304.0 1049.3C1308.1 1052.6 1312.3 1056.3 1316.4 1059.3C1320.5 1062.3 1324.7 1065.2 1328.8 1067.3C1332.9 1069.5 1337.2 1071.0 1341.2 1072.3C1345.3 1073.6 1349.5 1074.4 1353.1 1075.3C1356.7 1076.1 1361.3 1076.9 1363.0 1077.2" fill="none" stroke="#1c1c1c" stroke-width="0.9"/>
<path d="M1178.3 1053.4C1179.2 1051.2 1182.0 1044.1 1184.0 1039.7C1186.0 1035.4 1187.8 1031.2 1190.2 1027.3C1192.7 1023.4 1195.4 1019.5 1198.5 1016.5C1201.6 1013.6 1205.2 1011.4 1208.8 1009.6C1212.5 1007.8 1216.7 1006.5 1220.7 1005.8C1224.6 1005.0 1228.8 1004.9 1232.5 1005.3C1236.1 1005.7 1238.9 1006.8 1242.7 1008.3C1246.4 1009.7 1250.9 1011.8 1255.0 1014.0C1259.1 1016.3 1263.2 1018.9 1267.3 1021.8C1271.4 1024.6 1275.4 1027.7 1279.5 1031.0C1283.7 1034.2 1287.8 1037.8 1291.9 1041.1C1296.1 1044.5 1300.2 1047.8 1304.4 1051.1C1308.5 1054.4 1312.6 1058.0 1316.8 1060.9C1320.9 1063.8 1325.0 1066.6 1329.2 1068.7C1333.3 1070.7 1337.6 1072.2 1341.6 1073.5C1345.5 1074.7 1349.4 1075.5 1352.9 1076.2C1356.4 1077.0 1360.8 1077.8 1362.4 1078.1L4000.0 1078.1L4000.0 4000.0L-4000.0 4000.0L-4000.0 1053.4Z" fill="#ffff00"/>
<path d="M1178.3 1053.4C1179.2 1051.2 1182.0 1044.1 1184.0 1039.7C1186.0 1035.4 1187.8 1031.2 1190.2 1027.3C1192.7 1023.4 1195.4 1019.5 1198.5 1016.5C1201.6 1013.6 1205.2 1011.4 1208.8 1009.6C1212.5 1007.8 1216.7 1006.5 1220.7 1005.8C1224.6 1005.0 1228.8 1004.9 1232.5 1005.3C1236.1 1005.7 1238.9 1006.8 1242.7 1008.3C1246.4 1009.7 1250.9 1011.8 1255.0 1014.0C1259.1 1016.3 1263.2 1018.9 1267.3 1021.8C1271.4 1024.6 1275.4 1027.7 1279.5 1031.0C1283.7 1034.2 1287.8 1037.8 1291.9 1041.1C1296.1 1044.5 1300.2 1047.8 1304.4 1051.1C1308.5 1054.4 1312.6 1058.0 1316.8 1060.9C1320.9 1063.8 1325.0 1066.6 1329.2 1068.7C1333.3 1070.7 1337.6 1072.2 1341.6 1073.5C1345.5 1074.7 1349.4 1075.5 1352.9 1076.2C1356.4 1077.0 1360.8 1077.8 1362.4 1078.1" fill="none" stroke="#1c1c1c" stroke-width="0.9"/>
<path d="M1179.4 1056.0C1180.4 1053.6 1183.2 1046.5 1185.2 1042.1C1187.2 1037.7 1189.0 1033.5 1191.4 1029.7C1193.8 1025.9 1196.6 1022.1 1199.7 1019.2C1202.8 1016.3 1206.4 1014.1 1210.0 1012.4C1213.7 1010.6 1217.7 1009.3 1221.5 1008.7C1225.4 1008.1 1229.5 1008.1 1233.1 1008.6C1236.7 1009.0 1239.5 1010.1 1243.2 1011.5C1247.0 1012.9 1251.4 1014.8 1255.4 1017.0C1259.5 1019.1 1263.6 1021.8 1267.7 1024.4C1271.7 1027.1 1275.8 1030.0 1279.9 1033.1C1284.0 1036.2 1288.2 1039.9 1292.3 1043.2C1296.4 1046.5 1300.6 1049.7 1304.7 1053.0C1308.8 1056.2 1313.0 1059.7 1317.1 1062.5C1321.2 1065.3 1325.4 1068.0 1329.5 1070.0C1333.6 1072.0 1338.0 1073.4 1341.9 1074.6C1345.8 1075.8 1349.4 1076.5 1352.7 1077.2C1356.0 1078.0 1360.2 1078.7 1361.7 1079.0L4000.0 1079.0L4000.0 4000.0L-4000.0 4000.0L-4000.0 1056.0Z" fill="#ffe400"/>
<path d="M1179.4 1056.0C1180.4 1053.6 1183.2 1046.5 1185.2 1042.1C1187.2 1037.7 1189.0 1033.5 1191.4 1029.7C1193.8 1025.9 1196.6 1022.1 1199.7 1019.2C1202.8 1016.3 1206.4 1014.1 1210.0 1012.4C1213.7 1010.6 1217.7 1009.3 1221.5 1008.7C1225.4 1008.1 1229.5 1008.1 1233.1 1008.6C1236.7 1009.0 1239.5 1010.1 1243.2 1011.5C1247.0 1012.9 1251.4 1014.8 1255.4 1017.0C1259.5 1019.1 1263.6 1021.8 1267.7 1024.4C1271.7 1027.1 1275.8 1030.0 1279.9 1033.1C1284.0 1036.2 1288.2 1039.9 1292.3 1043.2C1296.4 1046.5 1300.6 1049.7 1304.7 1053.0C1308.8 1056.2 1313.0 1059.7 1317.1 1062.5C1321.2 1065.3 1325.4 1068.0 1329.5 1070.0C1333.6 1072.0 1338.0 1073.4 1341.9 1074.6C1345.8 1075.8 1349.4 1076.5 1352.7 1077.2C1356.0 1078.0 1360.2 1078.7 1361.7 1079.0" fill="none" stroke="#1c1c1c" stroke-width="0.9"/>
<path d="M1180.5 1058.5C1181.5 1056.1 1184.4 1048.8 1186.4 1044.4C1188.4 1040.0 1190.2 1035.8 1192.6 1032.0C1195.0 1028.3 1197.8 1024.7 1200.9 1021.8C1204.0 1019.0 1207.6 1016.9 1211.2 1015.2C1214.8 1013.5 1218.7 1012.2 1222.4 1011.7C1226.2 1011.1 1230.1 1011.3 1233.7 1011.8C1237.2 1012.3 1240.0 1013.3 1243.8 1014.7C1247.5 1016.0 1251.9 1017.8 1255.9 1019.9C1260.0 1022.0 1264.0 1024.6 1268.1 1027.1C1272.1 1029.7 1276.2 1032.2 1280.3 1035.2C1284.3 1038.2 1288.5 1041.9 1292.7 1045.2C1296.8 1048.5 1300.9 1051.7 1305.1 1054.8C1309.2 1058.0 1313.3 1061.4 1317.5 1064.1C1321.6 1066.9 1325.7 1069.4 1329.9 1071.3C1334.0 1073.3 1338.5 1074.6 1342.3 1075.8C1346.1 1076.9 1349.4 1077.5 1352.5 1078.2C1355.7 1078.9 1359.7 1079.7 1361.1 1079.9L4000.0 1079.9L4000.0 4000.0L-4000.0 4000.0L-4000.0 1058.5Z" fill="#ffc600"/>
<path d="M1180.5 1058.5C1181.5 1056.1 1184.4 1048.8 1186.4 1044.4C1188.4 1040.0 1190.2 1035.8 1192.6 1032.0C1195.0 1028.3 1197.8 1024.7 1200.9 1021.8C1204.0 1019.0 1207.6 1016.9 1211.2 1015.2C1214.8 1013.5 1218.7 1012.2 1222.4 1011.7C1226.2 1011.1 1230.1 1011.3 1233.7 1011.8C1237.2 1012.3 1240.0 1013.3 1243.8 1014.7C1247.5 1016.0 1251.9 1017.8 1255.9 1019.9C1260.0 1022.0 1264.0 1024.6 1268.1 1027.1C1272.1 1029.7 1276.2 1032.2 1280.3 1035.2C1284.3 1038.2 1288.5 1041.9 1292.7 1045.2C1296.8 1048.5 1300.9 1051.7 1305.1 1054.8C1309.2 1058.0 1313.3 1061.4 1317.5 1064.1C1321.6 1066.9 1325.7 1069.4 1329.9 1071.3C1334.0 1073.3 1338.5 1074.6 1342.3 1075.8C1346.1 1076.9 1349.4 1077.5 1352.5 1078.2C1355.7 1078.9 1359.7 1079.7 1361.1 1079.9" fill="none" stroke="#1c1c1c" stroke-width="0.9"/>
<path d="M1181.6 1061.0C1182.6 1058.6 1185.5 1051.2 1187.6 1046.8C1189.6 1042.4 1191.4 1038.1 1193.8 1034.4C1196.2 1030.7 1199.0 1027.2 1202.1 1024.5C1205.2 1021.8 1208.8 1019.7 1212.4 1018.0C1215.9 1016.4 1219.7 1015.1 1223.3 1014.6C1227.0 1014.1 1230.8 1014.5 1234.2 1015.1C1237.7 1015.6 1240.6 1016.6 1244.3 1017.9C1248.0 1019.2 1252.4 1020.9 1256.4 1022.9C1260.4 1024.9 1264.5 1027.4 1268.5 1029.8C1272.5 1032.2 1276.5 1034.4 1280.6 1037.3C1284.7 1040.3 1288.9 1044.0 1293.0 1047.2C1297.1 1050.5 1301.3 1053.6 1305.4 1056.7C1309.5 1059.8 1313.7 1063.0 1317.8 1065.7C1322.0 1068.4 1326.1 1070.8 1330.2 1072.6C1334.4 1074.5 1338.9 1075.8 1342.6 1076.9C1346.3 1078.0 1349.4 1078.6 1352.4 1079.2C1355.3 1079.9 1359.1 1080.6 1360.5 1080.8L4000.0 1080.8L4000.0 4000.0L-4000.0 4000.0L-4000.0 1061.0Z" fill="#ffa100"/>
<path d="M1181.6 1061.0C1182.6 1058.6 1185.5 1051.2 1187.6 1046.8C1189.6 1042.4 1191.4 1038.1 1193.8 1034.4C1196.2 1030.7 1199.0 1027.2 1202.1 1024.5C1205.2 1021.8 1208.8 1019.7 1212.4 1018.0C1215.9 1016.4 1219.7 1015.1 1223.3 1014.6C1227.0 1014.1 1230.8 1014.5 1234.2 1015.1C1237.7 1015.6 1240.6 1016.6 1244.3 1017.9C1248.0 1019.2 1252.4 1020.9 1256.4 1022.9C1260.4 1024.9 1264.5 1027.4 1268.5 1029.8C1272.5 1032.2 1276.5 1034.4 1280.6 1037.3C1284.7 1040.3 1288.9 1044.0 1293.0 1047.2C1297.1 1050.5 1301.3 1053.6 1305.4 1056.7C1309.5 1059.8 1313.7 1063.0 1317.8 1065.7C1322.0 1068.4 1326.1 1070.8 1330.2 1072.6C1334.4 1074.5 1338.9 1075.8 1342.6 1076.9C1346.3 1078.0 1349.4 1078.6 1352.4 1079.2C1355.3 1079.9 1359.1 1080.6 1360.5 1080.8" fill="none" stroke="#1c1c1c" stroke-width="0.9"/>
<path d="M1182.7 1063.5C1183.7 1061.1 1186.7 1053.6 1188.8 1049.2C1190.8 1044.7 1192.6 1040.4 1195.0 1036.8C1197.4 1033.1 1200.1 1029.8 1203.2 1027.2C1206.3 1024.5 1210.1 1022.4 1213.6 1020.8C1217.1 1019.2 1220.7 1018.0 1224.2 1017.6C1227.7 1017.1 1231.4 1017.7 1234.8 1018.3C1238.3 1018.9 1241.1 1019.8 1244.8 1021.0C1248.5 1022.3 1252.8 1023.9 1256.9 1025.8C1260.9 1027.7 1264.9 1030.2 1268.9 1032.5C1272.9 1034.8 1276.9 1036.7 1281.0 1039.5C1285.0 1042.3 1289.2 1046.1 1293.4 1049.3C1297.5 1052.5 1301.6 1055.6 1305.8 1058.6C1309.9 1061.6 1314.0 1064.7 1318.2 1067.3C1322.3 1069.9 1326.4 1072.2 1330.6 1074.0C1334.7 1075.8 1339.4 1077.0 1343.0 1078.1C1346.6 1079.1 1349.4 1079.6 1352.2 1080.2C1355.0 1080.8 1358.6 1081.5 1359.9 1081.8L4000.0 1081.8L4000.0 4000.0L-4000.0 4000.0L-4000.0 1063.5Z" fill="#ff7200"/>
<path d="M1182.7 1063.5C1183.7 1061.1 1186.7 1053.6 1188.8 1049.2C1190.8 1044.7 1192.6 1040.4 1195.0 1036.8C1197.4 1033.1 1200.1 1029.8 1203.2 1027.2C1206.3 1024.5 1210.1 1022.4 1213.6 1020.8C1217.1 1019.2 1220.7 1018.0 1224.2 1017.6C1227.7 1017.1 1231.4 1017.7 1234.8 1018.3C1238.3 1018.9 1241.1 1019.8 1244.8 1021.0C1248.5 1022.3 1252.8 1023.9 1256.9 1025.8C1260.9 1027.7 1264.9 1030.2 1268.9 1032.5C1272.9 1034.8 1276.9 1036.7 1281.0 1039.5C1285.0 1042.3 1289.2 1046.1 1293.4 1049.3C1297.5 1052.5 1301.6 1055.6 1305.8 1058.6C1309.9 1061.6 1314.0 1064.7 1318.2 1067.3C1322.3 1069.9 1326.4 1072.2 1330.6 1074.0C1334.7 1075.8 1339.4 1077.0 1343.0 1078.1C1346.6 1079.1 1349.4 1079.6 1352.2 1080.2C1355.0 1080.8 1358.6 1081.5 1359.9 1081.8" fill="none" stroke="#1c1c1c" stroke-width="0.9"/>
<path d="M1183.7 1066.0C1184.8 1063.6 1187.9 1056.0 1189.9 1051.5C1192.0 1047.0 1193.7 1042.7 1196.1 1039.1C1198.6 1035.5 1201.3 1032.4 1204.4 1029.8C1207.5 1027.2 1211.3 1025.2 1214.8 1023.6C1218.2 1022.1 1221.6 1020.9 1225.1 1020.5C1228.5 1020.2 1232.0 1020.9 1235.4 1021.6C1238.8 1022.2 1241.7 1023.0 1245.3 1024.2C1249.0 1025.4 1253.3 1027.0 1257.3 1028.8C1261.3 1030.6 1265.3 1033.1 1269.3 1035.2C1273.3 1037.3 1277.3 1038.9 1281.3 1041.6C1285.4 1044.3 1289.6 1048.2 1293.7 1051.3C1297.9 1054.5 1302.0 1057.5 1306.1 1060.4C1310.3 1063.3 1314.4 1066.4 1318.5 1068.9C1322.7 1071.4 1326.8 1073.6 1330.9 1075.3C1335.1 1077.0 1339.8 1078.2 1343.3 1079.2C1346.8 1080.2 1349.4 1080.6 1352.0 1081.2C1354.7 1081.8 1358.0 1082.4 1359.3 1082.7L4000.0 1082.7L4000.0 4000.0L-4000.0 4000.0L-4000.0 1066.0Z" fill="#ff0000"/>
<path d="M1183.7 1066.0C1184.8 1063.6 1187.9 1056.0 1189.9 1051.5C1192.0 1047.0 1193.7 1042.7 1196.1 1039.1C1198.6 1035.5 1201.3 1032.4 1204.4 1029.8C1207.5 1027.2 1211.3 1025.2 1214.8 1023.6C1218.2 1022.1 1221.6 1020.9 1225.1 1020.5C1228.5 1020.2 1232.0 1020.9 1235.4 1021.6C1238.8 1022.2 1241.7 1023.0 1245.3 1024.2C1249.0 1025.4 1253.3 1027.0 1257.3 1028.8C1261.3 1030.6 1265.3 1033.1 1269.3 1035.2C1273.3 1037.3 1277.3 1038.9 1281.3 1041.6C1285.4 1044.3 1289.6 1048.2 1293.7 1051.3C1297.9 1054.5 1302.0 1057.5 1306.1 1060.4C1310.3 1063.3 1314.4 1066.4 1318.5 1068.9C1322.7 1071.4 1326.8 1073.6 1330.9 1075.3C1335.1 1077.0 1339.8 1078.2 1343.3 1079.2C1346.8 1080.2 1349.4 1080.6 1352.0 1081.2C1354.7 1081.8 1358.0 1082.4 1359.3 1082.7" fill="none" stroke="#1c1c1c" stroke-width="0.9"/>
<path d="M1186.8 1073.2C1188.1 1070.6 1191.5 1062.2 1194.1 1057.7C1196.7 1053.2 1199.3 1049.8 1202.4 1046.4C1205.5 1042.9 1209.2 1039.5 1212.7 1037.1C1216.1 1034.6 1219.6 1032.9 1223.0 1031.9C1226.5 1030.9 1229.6 1030.3 1233.4 1030.9C1237.1 1031.4 1241.6 1033.1 1245.8 1035.0C1249.9 1036.9 1254.0 1039.6 1258.2 1042.2C1262.3 1044.8 1266.4 1047.7 1270.6 1050.5C1274.7 1053.2 1278.8 1055.8 1283.0 1058.8C1287.1 1061.7 1291.2 1065.1 1295.4 1068.1C1299.5 1071.0 1303.6 1074.0 1307.8 1076.3C1311.9 1078.7 1316.0 1080.5 1320.2 1082.1C1324.3 1083.8 1328.4 1085.1 1332.6 1086.3C1336.7 1087.4 1341.5 1088.4 1345.0 1089.1C1348.4 1089.9 1351.9 1090.4 1353.3 1090.6L4000.0 1090.6L4000.0 4000.0L-4000.0 4000.0L-4000.0 1073.2Z" fill="#e40000"/>
<path d="M1186.8 1073.2C1188.1 1070.6 1191.5 1062.2 1194.1 1057.7C1196.7 1053.2 1199.3 1049.8 1202.4 1046.4C1205.5 1042.9 1209.2 1039.5 1212.7 1037.1C1216.1 1034.6 1219.6 1032.9 1223.0 1031.9C1226.5 1030.9 1229.6 1030.3 1233.4 1030.9C1237.1 1031.4 1241.6 1033.1 1245.8 1035.0C1249.9 1036.9 1254.0 1039.6 1258.2 1042.2C1262.3 1044.8 1266.4 1047.7 1270.6 1050.5C1274.7 1053.2 1278.8 1055.8 1283.0 1058.8C1287.1 1061.7 1291.2 1065.1 1295.4 1068.1C1299.5 1071.0 1303.6 1074.0 1307.8 1076.3C1311.9 1078.7 1316.0 1080.5 1320.2 1082.1C1324.3 1083.8 1328.4 1085.1 1332.6 1086.3C1336.7 1087.4 1341.5 1088.4 1345.0 1089.1C1348.4 1089.9 1351.9 1090.4 1353.3 1090.6" fill="none" stroke="#1c1c1c" stroke-width="0.9"/>
<path d="M1189.9 1082.5C1191.3 1080.1 1195.5 1072.5 1198.2 1068.1C1201.0 1063.6 1203.4 1059.4 1206.5 1055.7C1209.6 1051.9 1213.4 1048.1 1216.8 1045.3C1220.3 1042.6 1223.7 1040.3 1227.2 1039.1C1230.6 1037.9 1233.7 1037.6 1237.5 1038.1C1241.3 1038.6 1245.8 1040.3 1249.9 1042.2C1254.0 1044.1 1258.2 1046.9 1262.3 1049.5C1266.4 1052.0 1270.6 1055.0 1274.7 1057.7C1278.8 1060.5 1283.0 1063.1 1287.1 1066.0C1291.2 1068.9 1295.4 1072.5 1299.5 1075.3C1303.6 1078.1 1307.8 1080.5 1311.9 1082.5C1316.0 1084.6 1320.2 1086.3 1324.3 1087.7C1328.4 1089.1 1332.6 1090.1 1336.7 1091.2C1340.9 1092.3 1347.1 1093.6 1349.1 1094.1L4000.0 1094.1L4000.0 4000.0L-4000.0 4000.0L-4000.0 1082.5Z" fill="#c60000"/>
<path d="M1189.9 1082.5C1191.3 1080.1 1195.5 1072.5 1198.2 1068.1C1201.0 1063.6 1203.4 1059.4 1206.5 1055.7C1209.6 1051.9 1213.4 1048.1 1216.8 1045.3C1220.3 1042.6 1223.7 1040.3 1227.2 1039.1C1230.6 1037.9 1233.7 1037.6 1237.5 1038.1C1241.3 1038.6 1245.8 1040.3 1249.9 1042.2C1254.0 1044.1 1258.2 1046.9 1262.3 1049.5C1266.4 1052.0 1270.6 1055.0 1274.7 1057.7C1278.8 1060.5 1283.0 1063.1 1287.1 1066.0C1291.2 1068.9 1295.4 1072.5 1299.5 1075.3C1303.6 1078.1 1307.8 1080.5 1311.9 1082.5C1316.0 1084.6 1320.2 1086.3 1324.3 1087.7C1328.4 1089.1 1332.6 1090.1 1336.7 1091.2C1340.9 1092.3 1347.1 1093.6 1349.1 1094.1" fill="none" stroke="#1c1c1c" stroke-width="0.9"/>
<path d="M1194.1 1094.9C1195.5 1092.5 1199.6 1084.9 1202.4 1080.5C1205.1 1076.0 1207.5 1072.2 1210.6 1068.1C1213.7 1063.9 1217.5 1058.9 1221.0 1055.7C1224.4 1052.4 1227.8 1050.0 1231.3 1048.4C1234.7 1046.9 1237.8 1046.2 1241.6 1046.4C1245.4 1046.5 1249.9 1047.7 1254.0 1049.5C1258.2 1051.2 1262.3 1054.1 1266.4 1056.7C1270.6 1059.3 1274.7 1062.0 1278.8 1065.0C1283.0 1067.9 1287.1 1071.3 1291.2 1074.3C1295.4 1077.2 1299.5 1080.1 1303.6 1082.5C1307.8 1084.9 1311.9 1086.8 1316.0 1088.7C1320.2 1090.6 1323.8 1092.1 1328.4 1093.9C1333.1 1095.7 1341.4 1098.6 1344.0 1099.5L4000.0 1099.5L4000.0 4000.0L-4000.0 4000.0L-4000.0 1094.9Z" fill="#a10000"/>
<path d="M1194.1 1094.9C1195.5 1092.5 1199.6 1084.9 1202.4 1080.5C1205.1 1076.0 1207.5 1072.2 1210.6 1068.1C1213.7 1063.9 1217.5 1058.9 1221.0 1055.7C1224.4 1052.4 1227.8 1050.0 1231.3 1048.4C1234.7 1046.9 1237.8 1046.2 1241.6 1046.4C1245.4 1046.5 1249.9 1047.7 1254.0 1049.5C1258.2 1051.2 1262.3 1054.1 1266.4 1056.7C1270.6 1059.3 1274.7 1062.0 1278.8 1065.0C1283.0 1067.9 1287.1 1071.3 1291.2 1074.3C1295.4 1077.2 1299.5 1080.1 1303.6 1082.5C1307.8 1084.9 1311.9 1086.8 1316.0 1088.7C1320.2 1090.6 1323.8 1092.1 1328.4 1093.9C1333.1 1095.7 1341.4 1098.6 1344.0 1099.5" fill="none" stroke="#1c1c1c" stroke-width="0.9"/>
<path d="M1203.4 1117.1C1204.2 1115.1 1206.3 1109.6 1208.6 1105.3C1210.8 1100.9 1214.1 1095.3 1216.8 1090.8C1219.6 1086.3 1222.0 1082.2 1225.1 1078.4C1228.2 1074.6 1232.0 1070.6 1235.4 1068.1C1238.9 1065.5 1242.3 1063.6 1245.8 1062.9C1249.2 1062.2 1252.3 1062.7 1256.1 1063.9C1259.9 1065.1 1264.4 1067.7 1268.5 1070.1C1272.6 1072.5 1276.8 1075.6 1280.9 1078.4C1285.0 1081.2 1289.2 1084.1 1293.3 1086.7C1297.4 1089.3 1301.6 1091.8 1305.7 1093.9C1309.8 1096.0 1313.6 1097.1 1318.1 1099.1C1322.6 1101.0 1330.2 1104.6 1332.6 1105.7L4000.0 1105.7L4000.0 4000.0L-4000.0 4000.0L-4000.0 1117.1Z" fill="#720000"/>
<path d="M1203.4 1117.1C1204.2 1115.1 1206.3 1109.6 1208.6 1105.3C1210.8 1100.9 1214.1 1095.3 1216.8 1090.8C1219.6 1086.3 1222.0 1082.2 1225.1 1078.4C1228.2 1074.6 1232.0 1070.6 1235.4 1068.1C1238.9 1065.5 1242.3 1063.6 1245.8 1062.9C1249.2 1062.2 1252.3 1062.7 1256.1 1063.9C1259.9 1065.1 1264.4 1067.7 1268.5 1070.1C1272.6 1072.5 1276.8 1075.6 1280.9 1078.4C1285.0 1081.2 1289.2 1084.1 1293.3 1086.7C1297.4 1089.3 1301.6 1091.8 1305.7 1093.9C1309.8 1096.0 1313.6 1097.1 1318.1 1099.1C1322.6 1101.0 1330.2 1104.6 1332.6 1105.7" fill="none" stroke="#1c1c1c" stroke-width="0.9"/>
<path d="M1227.2 1117.1C1228.2 1115.4 1230.9 1110.7 1233.4 1107.3C1235.8 1104.0 1238.5 1100.1 1241.6 1097.0C1244.7 1093.9 1248.5 1090.6 1252.0 1088.7C1255.4 1086.8 1258.9 1085.8 1262.3 1085.6C1265.7 1085.5 1268.8 1086.3 1272.6 1087.7C1276.4 1089.1 1280.9 1091.8 1285.0 1093.9C1289.2 1096.0 1293.7 1098.2 1297.4 1100.1C1301.2 1102.0 1304.7 1103.5 1307.8 1105.3C1310.9 1107.0 1313.8 1108.8 1316.0 1110.4C1318.3 1112.1 1320.4 1114.4 1321.2 1115.2L4000.0 1115.2L4000.0 4000.0L-4000.0 4000.0L-4000.0 1117.1Z" fill="#000000"/>
<path d="M1227.2 1117.1C1228.2 1115.4 1230.9 1110.7 1233.4 1107.3C1235.8 1104.0 1238.5 1100.1 1241.6 1097.0C1244.7 1093.9 1248.5 1090.6 1252.0 1088.7C1255.4 1086.8 1258.9 1085.8 1262.3 1085.6C1265.7 1085.5 1268.8 1086.3 1272.6 1087.7C1276.4 1089.1 1280.9 1091.8 1285.0 1093.9C1289.2 1096.0 1293.7 1098.2 1297.4 1100.1C1301.2 1102.0 1304.7 1103.5 1307.8 1105.3C1310.9 1107.0 1313.8 1108.8 1316.0 1110.4C1318.3 1112.1 1320.4 1114.4 1321.2 1115.2" fill="none" stroke="#1c1c1c" stroke-width="0.9"/>
</g>
<text x="1294" y="1063.5" font-size="52" font-weight="bold">**</text>
<clipPath id="clip8"><path d="M917.6 1279.2L976.5 1279.2L980.6 1282.3L988.9 1286.5L997.2 1293.7L1001.3 1302.0L1009.6 1314.4L1013.7 1326.8L1030.2 1344.3L1042.6 1353.6L1046.8 1361.9L1050.9 1376.4L1059.2 1390.9L1063.3 1401.2L1071.6 1410.5L1078.8 1411.5L1079.8 1419.8L1079.8 1440.5L1075.7 1448.7L1075.7 1461.1L1071.6 1467.3L1067.4 1479.7L1059.2 1488.0L1050.9 1500.4L1042.6 1517.0L1034.4 1523.2L1026.1 1531.4L1017.8 1540.7L1007.5 1545.9L999.2 1553.1L885.9 1553.1L882.4 1550.0L878.3 1539.7L874.2 1529.4L870.0 1517.0L865.9 1504.5L861.8 1492.1L857.6 1485.9L853.5 1475.6L849.4 1463.2L845.2 1457.0L845.2 1405.3L849.4 1386.7L849.4 1333.0L853.5 1324.7L853.5 1312.3L857.6 1310.2L865.9 1300.9L876.2 1292.7L887.6 1287.5L897.9 1284.0L914.5 1282.3Z"/></clipPath>
<g clip-path="url(#clip8)">
<path d="M917.6 1279.2L976.5 1279.2L980.6 1282.3L988.9 1286.5L997.2 1293.7L1001.3 1302.0L1009.6 1314.4L1013.7 1326.8L1030.2 1344.3L1042.6 1353.6L1046.8 1361.9L1050.9 1376.4L1059.2 1390.9L1063.3 1401.2L1071.6 1410.5L1078.8 1411.5L1079.8 1419.8L1079.8 1440.5L1075.7 1448.7L1075.7 1461.1L1071.6 1467.3L1067.4 1479.7L1059.2 1488.0L1050.9 1500.4L1042.6 1517.0L1034.4 1523.2L1026.1 1531.4L1017.8 1540.7L1007.5 1545.9L999.2 1553.1L885.9 1553.1L882.4 1550.0L878.3 1539.7L874.2 1529.4L870.0 1517.0L865.9 1504.5L861.8 1492.1L857.6 1485.9L853.5 1475.6L849.4 1463.2L845.2 1457.0L845.2 1405.3L849.4 1386.7L849.4 1333.0L853.5 1324.7L853.5 1312.3L857.6 1310.2L865.9 1300.9L876.2 1292.7L887.6 1287.5L897.9 1284.0L914.5 1282.3Z" fill="#ff9c00"/>
<path d="M846.9 1393.5C849.0 1393.3 856.2 1392.7 859.7 1391.9C863.2 1391.1 865.4 1390.0 868.0 1388.8C870.5 1387.6 873.1 1386.4 875.2 1384.7C877.3 1382.9 879.0 1380.5 880.4 1378.4C881.7 1376.4 882.4 1374.5 883.5 1372.2C884.5 1370.0 885.5 1367.4 886.6 1365.0C887.6 1362.6 888.5 1360.4 889.7 1357.8C890.9 1355.2 892.4 1352.3 893.8 1349.5C895.2 1346.8 896.6 1343.8 897.9 1341.2C899.3 1338.7 900.5 1336.2 902.1 1334.0C903.6 1331.8 905.5 1329.7 907.2 1327.8C909.0 1325.9 910.5 1324.1 912.4 1322.6C914.3 1321.2 916.5 1319.9 918.6 1319.1C920.7 1318.4 922.9 1318.0 924.8 1318.1C926.7 1318.2 928.3 1318.6 930.0 1319.5C931.7 1320.5 933.6 1322.2 935.1 1323.7C936.7 1325.2 937.9 1327.4 939.3 1328.4C940.7 1329.5 941.9 1329.6 943.4 1329.9C944.9 1330.1 946.2 1329.7 948.2 1329.9C950.2 1330.0 953.5 1330.4 955.4 1330.9C957.3 1331.4 958.3 1332.1 959.5 1333.0C960.7 1333.8 961.1 1335.0 962.6 1336.1C964.2 1337.1 966.6 1338.1 968.8 1339.2C971.1 1340.2 973.7 1341.2 976.1 1342.3C978.5 1343.3 980.7 1344.3 983.3 1345.4C985.9 1346.4 989.0 1347.4 991.6 1348.5C994.2 1349.5 996.4 1350.9 998.8 1351.6C1001.2 1352.3 1003.8 1352.3 1006.0 1352.6C1008.3 1353.0 1010.5 1353.0 1012.2 1353.6C1014.0 1354.3 1015.6 1355.5 1016.4 1356.7C1017.2 1358.0 1016.7 1359.3 1017.0 1360.9C1017.3 1362.4 1017.7 1364.3 1018.4 1366.0C1019.2 1367.8 1020.2 1369.7 1021.6 1371.2C1022.9 1372.8 1024.8 1374.1 1026.7 1375.3C1028.6 1376.6 1030.9 1377.4 1032.9 1378.4C1035.0 1379.5 1037.1 1380.3 1039.1 1381.6C1041.2 1382.8 1043.3 1384.4 1045.3 1385.7C1047.4 1387.0 1049.1 1388.3 1051.5 1389.4C1053.9 1390.5 1058.4 1391.8 1059.8 1392.3L4000.0 1392.3L4000.0 -4000.0L-4000.0 -4000.0L-4000.0 1393.5Z" fill="#ff7800"/>
<path d="M846.9 1393.5C849.0 1393.3 856.2 1392.7 859.7 1391.9C863.2 1391.1 865.4 1390.0 868.0 1388.8C870.5 1387.6 873.1 1386.4 875.2 1384.7C877.3 1382.9 879.0 1380.5 880.4 1378.4C881.7 1376.4 882.4 1374.5 883.5 1372.2C884.5 1370.0 885.5 1367.4 886.6 1365.0C887.6 1362.6 888.5 1360.4 889.7 1357.8C890.9 1355.2 892.4 1352.3 893.8 1349.5C895.2 1346.8 896.6 1343.8 897.9 1341.2C899.3 1338.7 900.5 1336.2 902.1 1334.0C903.6 1331.8 905.5 1329.7 907.2 1327.8C909.0 1325.9 910.5 1324.1 912.4 1322.6C914.3 1321.2 916.5 1319.9 918.6 1319.1C920.7 1318.4 922.9 1318.0 924.8 1318.1C926.7 1318.2 928.3 1318.6 930.0 1319.5C931.7 1320.5 933.6 1322.2 935.1 1323.7C936.7 1325.2 937.9 1327.4 939.3 1328.4C940.7 1329.5 941.9 1329.6 943.4 1329.9C944.9 1330.1 946.2 1329.7 948.2 1329.9C950.2 1330.0 953.5 1330.4 955.4 1330.9C957.3 1331.4 958.3 1332.1 959.5 1333.0C960.7 1333.8 961.1 1335.0 962.6 1336.1C964.2 1337.1 966.6 1338.1 968.8 1339.2C971.1 1340.2 973.7 1341.2 976.1 1342.3C978.5 1343.3 980.7 1344.3 983.3 1345.4C985.9 1346.4 989.0 1347.4 991.6 1348.5C994.2 1349.5 996.4 1350.9 998.8 1351.6C1001.2 1352.3 1003.8 1352.3 1006.0 1352.6C1008.3 1353.0 1010.5 1353.0 1012.2 1353.6C1014.0 1354.3 1015.6 1355.5 1016.4 1356.7C1017.2 1358.0 1016.7 1359.3 1017.0 1360.9C1017.3 1362.4 1017.7 1364.3 1018.4 1366.0C1019.2 1367.8 1020.2 1369.7 1021.6 1371.2C1022.9 1372.8 1024.8 1374.1 1026.7 1375.3C1028.6 1376.6 1030.9 1377.4 1032.9 1378.4C1035.0 1379.5 1037.1 1380.3 1039.1 1381.6C1041.2 1382.8 1043.3 1384.4 1045.3 1385.7C1047.4 1387.0 1049.1 1388.3 1051.5 1389.4C1053.9 1390.5 1058.4 1391.8 1059.8 1392.3" fill="none" stroke="#1c1c1c" stroke-width="0.9"/>
<path d="M871.7 1296.4C873.3 1296.6 878.4 1296.9 881.4 1297.4C884.4 1297.9 886.9 1298.9 889.7 1299.5C892.4 1300.1 895.2 1300.5 897.9 1300.9C900.7 1301.3 903.4 1301.5 906.2 1302.0C909.0 1302.4 911.7 1303.0 914.5 1303.6C917.2 1304.2 920.2 1305.3 922.7 1305.7C925.3 1306.0 927.6 1306.0 930.0 1305.7C932.4 1305.4 935.0 1304.5 937.2 1304.0C939.4 1303.6 941.3 1303.2 943.4 1303.0C945.5 1302.8 947.9 1302.7 949.6 1303.0C951.3 1303.3 952.5 1304.4 953.7 1305.1C955.0 1305.7 955.6 1306.8 956.8 1306.7C958.1 1306.6 959.3 1305.3 961.0 1304.7C962.7 1304.0 965.5 1303.5 967.2 1303.0C968.8 1302.5 969.3 1302.0 970.9 1301.6C972.6 1301.1 974.9 1300.7 977.1 1300.5C979.3 1300.3 981.9 1300.3 984.3 1300.5C986.8 1300.7 989.3 1301.0 991.6 1301.6C993.8 1302.1 995.9 1302.7 997.8 1303.6C999.7 1304.5 1001.6 1305.9 1002.9 1307.1C1004.3 1308.4 1005.4 1309.9 1006.0 1311.3C1006.7 1312.6 1006.6 1314.0 1007.1 1315.4C1007.6 1316.8 1008.1 1318.4 1009.1 1319.5C1010.2 1320.6 1012.6 1321.6 1013.3 1322.0L4000.0 1322.0L4000.0 -4000.0L-4000.0 -4000.0L-4000.0 1296.4Z" fill="#ff9c00"/>
<path d="M871.7 1296.4C873.3 1296.6 878.4 1296.9 881.4 1297.4C884.4 1297.9 886.9 1298.9 889.7 1299.5C892.4 1300.1 895.2 1300.5 897.9 1300.9C900.7 1301.3 903.4 1301.5 906.2 1302.0C909.0 1302.4 911.7 1303.0 914.5 1303.6C917.2 1304.2 920.2 1305.3 922.7 1305.7C925.3 1306.0 927.6 1306.0 930.0 1305.7C932.4 1305.4 935.0 1304.5 937.2 1304.0C939.4 1303.6 941.3 1303.2 943.4 1303.0C945.5 1302.8 947.9 1302.7 949.6 1303.0C951.3 1303.3 952.5 1304.4 953.7 1305.1C955.0 1305.7 955.6 1306.8 956.8 1306.7C958.1 1306.6 959.3 1305.3 961.0 1304.7C962.7 1304.0 965.5 1303.5 967.2 1303.0C968.8 1302.5 969.3 1302.0 970.9 1301.6C972.6 1301.1 974.9 1300.7 977.1 1300.5C979.3 1300.3 981.9 1300.3 984.3 1300.5C986.8 1300.7 989.3 1301.0 991.6 1301.6C993.8 1302.1 995.9 1302.7 997.8 1303.6C999.7 1304.5 1001.6 1305.9 1002.9 1307.1C1004.3 1308.4 1005.4 1309.9 1006.0 1311.3C1006.7 1312.6 1006.6 1314.0 1007.1 1315.4C1007.6 1316.8 1008.1 1318.4 1009.1 1319.5C1010.2 1320.6 1012.6 1321.6 1013.3 1322.0" fill="none" stroke="#1c1c1c" stroke-width="0.9"/>
<path d="M882.0 1290.2C883.3 1290.5 887.0 1291.4 889.7 1292.2C892.3 1293.1 895.0 1294.5 897.9 1295.3C900.9 1296.2 904.1 1296.9 907.2 1297.4C910.3 1297.9 913.4 1298.4 916.5 1298.4C919.6 1298.5 922.7 1298.2 925.8 1297.8C928.9 1297.5 932.0 1297.0 935.1 1296.4C938.2 1295.8 941.3 1295.0 944.4 1294.3C947.5 1293.6 950.8 1292.8 953.7 1292.2C956.7 1291.7 959.2 1291.5 962.0 1291.2C964.9 1290.9 967.7 1290.6 970.9 1290.6C974.1 1290.6 978.1 1290.9 981.2 1291.2C984.3 1291.5 986.6 1291.9 989.5 1292.2C992.4 1292.6 997.3 1293.3 998.8 1293.5L4000.0 1293.5L4000.0 -4000.0L-4000.0 -4000.0L-4000.0 1290.2Z" fill="#ffb900"/>
<path d="M882.0 1290.2C883.3 1290.5 887.0 1291.4 889.7 1292.2C892.3 1293.1 895.0 1294.5 897.9 1295.3C900.9 1296.2 904.1 1296.9 907.2 1297.4C910.3 1297.9 913.4 1298.4 916.5 1298.4C919.6 1298.5 922.7 1298.2 925.8 1297.8C928.9 1297.5 932.0 1297.0 935.1 1296.4C938.2 1295.8 941.3 1295.0 944.4 1294.3C947.5 1293.6 950.8 1292.8 953.7 1292.2C956.7 1291.7 959.2 1291.5 962.0 1291.2C964.9 1290.9 967.7 1290.6 970.9 1290.6C974.1 1290.6 978.1 1290.9 981.2 1291.2C984.3 1291.5 986.6 1291.9 989.5 1292.2C992.4 1292.6 997.3 1293.3 998.8 1293.5" fill="none" stroke="#1c1c1c" stroke-width="0.9"/>
<path d="M891.3 1288.1C892.8 1288.5 897.2 1289.5 900.0 1290.2C902.8 1290.9 905.5 1291.9 908.3 1292.2C911.0 1292.6 913.6 1292.4 916.5 1292.2C919.5 1292.1 922.7 1291.7 925.8 1291.2C928.9 1290.8 932.0 1290.1 935.1 1289.6C938.2 1289.0 941.5 1288.6 944.4 1288.1C947.4 1287.6 950.3 1287.1 952.7 1286.5C955.1 1285.8 957.5 1285.2 958.9 1284.4C960.3 1283.6 960.8 1282.9 961.0 1281.9C961.2 1280.9 960.1 1278.8 959.9 1278.2L959.9 -4000.0L891.3 -4000.0Z" fill="#ffd200"/>
<path d="M891.3 1288.1C892.8 1288.5 897.2 1289.5 900.0 1290.2C902.8 1290.9 905.5 1291.9 908.3 1292.2C911.0 1292.6 913.6 1292.4 916.5 1292.2C919.5 1292.1 922.7 1291.7 925.8 1291.2C928.9 1290.8 932.0 1290.1 935.1 1289.6C938.2 1289.0 941.5 1288.6 944.4 1288.1C947.4 1287.6 950.3 1287.1 952.7 1286.5C955.1 1285.8 957.5 1285.2 958.9 1284.4C960.3 1283.6 960.8 1282.9 961.0 1281.9C961.2 1280.9 960.1 1278.8 959.9 1278.2" fill="none" stroke="#1c1c1c" stroke-width="0.9"/>
<path d="M928.9 1278.2C929.6 1278.6 931.4 1280.2 933.1 1280.9C934.8 1281.6 937.2 1282.1 939.3 1282.3C941.3 1282.5 943.6 1282.4 945.5 1282.1C947.4 1281.9 949.2 1281.5 950.6 1280.9C952.1 1280.2 953.6 1278.6 954.2 1278.2L954.2 -4000.0L928.9 -4000.0Z" fill="#ffe900"/>
<path d="M928.9 1278.2C929.6 1278.6 931.4 1280.2 933.1 1280.9C934.8 1281.6 937.2 1282.1 939.3 1282.3C941.3 1282.5 943.6 1282.4 945.5 1282.1C947.4 1281.9 949.2 1281.5 950.6 1280.9C952.1 1280.2 953.6 1278.6 954.2 1278.2" fill="none" stroke="#1c1c1c" stroke-width="0.9"/>
<path d="M1024.7 1340.2C1023.4 1340.8 1022.7 1342.9 1021.6 1344.3C1020.4 1345.8 1017.9 1348.0 1018.0 1349.1C1018.2 1350.2 1021.3 1351.1 1022.6 1351.2C1023.9 1351.2 1024.8 1350.4 1025.7 1349.5C1026.5 1348.6 1026.9 1347.0 1027.8 1346.0C1028.6 1345.0 1030.7 1344.6 1030.9 1343.7C1031.0 1342.8 1029.8 1341.2 1028.8 1340.6C1027.8 1340.0 1025.9 1339.6 1024.7 1340.2Z" fill="#ff9c00" stroke="#1c1c1c" stroke-width="0.9"/>
<path d="M865.9 1300.5C867.6 1300.4 872.8 1299.9 876.2 1299.9C879.7 1299.9 883.5 1300.2 886.6 1300.5C889.7 1300.9 892.4 1301.2 894.8 1302.0C897.2 1302.7 899.2 1303.9 901.0 1305.1C902.8 1306.3 904.5 1307.8 905.6 1309.2C906.7 1310.6 907.5 1311.6 907.6 1313.3C907.8 1315.1 907.1 1317.1 906.2 1319.5C905.3 1321.9 903.6 1325.0 902.1 1327.8C900.5 1330.6 898.4 1333.3 896.9 1336.1C895.3 1338.8 894.1 1341.6 892.8 1344.3C891.4 1347.1 890.0 1349.9 888.6 1352.6C887.3 1355.4 885.7 1358.1 884.5 1360.9C883.3 1363.6 882.4 1366.6 881.4 1369.1C880.4 1371.7 879.7 1374.1 878.3 1376.4C876.9 1378.6 875.2 1380.9 873.1 1382.6C871.1 1384.3 868.5 1385.6 865.9 1386.7C863.3 1387.9 860.8 1388.8 857.6 1389.4C854.5 1390.0 848.7 1390.3 846.9 1390.4L-4000.0 1390.4L-4000.0 -4000.0L865.9 -4000.0Z" fill="#ff4300"/>
<path d="M865.9 1300.5C867.6 1300.4 872.8 1299.9 876.2 1299.9C879.7 1299.9 883.5 1300.2 886.6 1300.5C889.7 1300.9 892.4 1301.2 894.8 1302.0C897.2 1302.7 899.2 1303.9 901.0 1305.1C902.8 1306.3 904.5 1307.8 905.6 1309.2C906.7 1310.6 907.5 1311.6 907.6 1313.3C907.8 1315.1 907.1 1317.1 906.2 1319.5C905.3 1321.9 903.6 1325.0 902.1 1327.8C900.5 1330.6 898.4 1333.3 896.9 1336.1C895.3 1338.8 894.1 1341.6 892.8 1344.3C891.4 1347.1 890.0 1349.9 888.6 1352.6C887.3 1355.4 885.7 1358.1 884.5 1360.9C883.3 1363.6 882.4 1366.6 881.4 1369.1C880.4 1371.7 879.7 1374.1 878.3 1376.4C876.9 1378.6 875.2 1380.9 873.1 1382.6C871.1 1384.3 868.5 1385.6 865.9 1386.7C863.3 1387.9 860.8 1388.8 857.6 1389.4C854.5 1390.0 848.7 1390.3 846.9 1390.4" fill="none" stroke="#1c1c1c" stroke-width="0.9"/>
<path d="M857.6 1311.3C859.2 1310.7 863.8 1309.0 866.9 1308.2C870.0 1307.3 873.1 1306.5 876.2 1306.1C879.3 1305.7 882.8 1305.6 885.5 1305.7C888.3 1305.8 890.7 1306.0 892.8 1306.7C894.8 1307.4 896.7 1308.5 897.9 1309.8C899.2 1311.1 900.2 1312.4 900.4 1314.4C900.6 1316.3 899.9 1319.0 899.0 1321.6C898.0 1324.2 896.2 1327.1 894.8 1329.9C893.5 1332.6 892.1 1335.2 890.7 1338.1C889.3 1341.1 887.9 1344.3 886.6 1347.4C885.2 1350.5 883.6 1353.8 882.4 1356.7C881.2 1359.7 880.4 1362.3 879.3 1365.0C878.3 1367.8 877.4 1370.9 876.2 1373.3C875.0 1375.7 873.8 1377.8 872.1 1379.5C870.4 1381.2 868.3 1382.4 865.9 1383.6C863.5 1384.8 860.8 1386.0 857.6 1386.7C854.5 1387.4 848.7 1387.6 846.9 1387.8L-4000.0 1387.8L-4000.0 -4000.0L857.6 -4000.0Z" fill="#f40000"/>
<path d="M857.6 1311.3C859.2 1310.7 863.8 1309.0 866.9 1308.2C870.0 1307.3 873.1 1306.5 876.2 1306.1C879.3 1305.7 882.8 1305.6 885.5 1305.7C888.3 1305.8 890.7 1306.0 892.8 1306.7C894.8 1307.4 896.7 1308.5 897.9 1309.8C899.2 1311.1 900.2 1312.4 900.4 1314.4C900.6 1316.3 899.9 1319.0 899.0 1321.6C898.0 1324.2 896.2 1327.1 894.8 1329.9C893.5 1332.6 892.1 1335.2 890.7 1338.1C889.3 1341.1 887.9 1344.3 886.6 1347.4C885.2 1350.5 883.6 1353.8 882.4 1356.7C881.2 1359.7 880.4 1362.3 879.3 1365.0C878.3 1367.8 877.4 1370.9 876.2 1373.3C875.0 1375.7 873.8 1377.8 872.1 1379.5C870.4 1381.2 868.3 1382.4 865.9 1383.6C863.5 1384.8 860.8 1386.0 857.6 1386.7C854.5 1387.4 848.7 1387.6 846.9 1387.8" fill="none" stroke="#1c1c1c" stroke-width="0.9"/>
<path d="M855.1 1315.8C856.9 1315.2 862.5 1313.2 865.9 1312.3C869.2 1311.4 872.3 1310.6 875.2 1310.2C878.1 1309.8 881.2 1309.6 883.5 1309.8C885.7 1310.0 887.3 1310.3 888.6 1311.3C890.0 1312.2 891.4 1313.7 891.7 1315.4C892.1 1317.1 891.4 1319.4 890.7 1321.6C890.0 1323.8 888.6 1326.3 887.6 1328.8C886.6 1331.4 885.5 1334.3 884.5 1337.1C883.5 1339.9 882.4 1342.8 881.4 1345.4C880.4 1348.0 879.3 1350.0 878.3 1352.6C877.3 1355.2 876.2 1358.3 875.2 1360.9C874.2 1363.5 873.3 1365.9 872.1 1368.1C870.9 1370.4 869.9 1372.8 868.0 1374.3C866.1 1375.9 863.0 1376.6 860.7 1377.4C858.5 1378.3 855.9 1378.6 854.5 1379.5C853.1 1380.3 853.7 1381.8 852.5 1382.6C851.2 1383.4 847.8 1384.0 846.9 1384.2L-4000.0 1384.2L-4000.0 -4000.0L855.1 -4000.0Z" fill="#df0000"/>
<path d="M855.1 1315.8C856.9 1315.2 862.5 1313.2 865.9 1312.3C869.2 1311.4 872.3 1310.6 875.2 1310.2C878.1 1309.8 881.2 1309.6 883.5 1309.8C885.7 1310.0 887.3 1310.3 888.6 1311.3C890.0 1312.2 891.4 1313.7 891.7 1315.4C892.1 1317.1 891.4 1319.4 890.7 1321.6C890.0 1323.8 888.6 1326.3 887.6 1328.8C886.6 1331.4 885.5 1334.3 884.5 1337.1C883.5 1339.9 882.4 1342.8 881.4 1345.4C880.4 1348.0 879.3 1350.0 878.3 1352.6C877.3 1355.2 876.2 1358.3 875.2 1360.9C874.2 1363.5 873.3 1365.9 872.1 1368.1C870.9 1370.4 869.9 1372.8 868.0 1374.3C866.1 1375.9 863.0 1376.6 860.7 1377.4C858.5 1378.3 855.9 1378.6 854.5 1379.5C853.1 1380.3 853.7 1381.8 852.5 1382.6C851.2 1383.4 847.8 1384.0 846.9 1384.2" fill="none" stroke="#1c1c1c" stroke-width="0.9"/>
<path d="M871.1 1321.6C872.8 1321.2 874.1 1321.1 875.2 1321.6C876.3 1322.1 877.4 1323.0 877.7 1324.7C877.9 1326.4 877.4 1329.4 876.6 1331.9C875.9 1334.5 874.4 1338.0 873.1 1340.2C871.9 1342.4 870.4 1344.0 869.0 1345.4C867.6 1346.8 866.1 1348.3 864.9 1348.5C863.7 1348.6 862.5 1347.6 861.8 1346.4C861.0 1345.2 860.8 1343.0 860.1 1341.2C859.4 1339.5 858.1 1337.6 857.6 1336.1C857.1 1334.5 856.7 1333.3 857.0 1331.9C857.3 1330.6 858.4 1329.1 859.7 1327.8C861.0 1326.5 863.0 1325.3 864.9 1324.3C866.8 1323.3 869.3 1322.0 871.1 1321.6Z" fill="#c70000" stroke="#1c1c1c" stroke-width="0.9"/>
<path d="M845.8 1397.9C848.1 1397.5 856.0 1396.4 859.7 1395.6C863.4 1394.8 865.4 1393.9 868.0 1392.9C870.5 1392.0 873.0 1391.0 875.2 1389.8C877.4 1388.6 879.7 1387.4 881.4 1385.7C883.1 1384.0 884.3 1381.6 885.5 1379.5C886.7 1377.4 887.6 1375.5 888.6 1373.3C889.7 1371.0 890.7 1368.5 891.7 1366.0C892.8 1363.6 893.6 1361.4 894.8 1358.8C896.0 1356.2 897.6 1353.1 899.0 1350.5C900.3 1348.0 901.6 1345.7 903.1 1343.3C904.7 1340.9 906.5 1338.0 908.3 1336.1C910.0 1334.2 911.5 1333.0 913.4 1331.9C915.3 1330.8 917.6 1329.8 919.6 1329.5C921.7 1329.1 923.9 1329.5 925.8 1329.9C927.7 1330.3 929.3 1331.1 931.0 1331.9C932.7 1332.8 934.5 1334.3 936.2 1335.0C937.9 1335.7 939.3 1335.7 941.3 1336.1C943.3 1336.4 945.8 1336.4 948.2 1337.1C950.5 1337.8 953.0 1338.8 955.4 1340.2C957.8 1341.6 960.2 1343.7 962.6 1345.4C965.0 1347.1 967.5 1348.6 969.9 1350.5C972.3 1352.4 974.7 1354.8 977.1 1356.7C979.5 1358.6 981.9 1360.2 984.3 1361.9C986.8 1363.6 989.2 1365.4 991.6 1367.1C994.0 1368.7 996.4 1370.6 998.8 1371.8C1001.2 1373.0 1003.8 1373.2 1006.0 1374.3C1008.3 1375.4 1010.2 1377.1 1012.2 1378.4C1014.3 1379.8 1016.4 1381.0 1018.4 1382.6C1020.5 1384.1 1022.6 1386.0 1024.7 1387.8C1026.7 1389.5 1028.6 1391.4 1030.9 1392.9C1033.1 1394.5 1035.7 1395.7 1038.1 1397.1C1040.5 1398.4 1042.7 1400.1 1045.3 1401.2C1047.9 1402.3 1051.0 1403.2 1053.6 1403.9C1056.2 1404.6 1058.9 1404.7 1060.8 1405.3C1062.7 1405.9 1063.9 1406.6 1065.0 1407.4C1066.0 1408.2 1066.0 1409.6 1067.0 1410.1C1068.1 1410.6 1069.3 1410.5 1071.2 1410.5C1073.1 1410.5 1077.2 1410.3 1078.4 1410.3L4000.0 1410.3L4000.0 4000.0L-4000.0 4000.0L-4000.0 1397.9Z" fill="#ffb900"/>
<path d="M845.8 1397.9C848.1 1397.5 856.0 1396.4 859.7 1395.6C863.4 1394.8 865.4 1393.9 868.0 1392.9C870.5 1392.0 873.0 1391.0 875.2 1389.8C877.4 1388.6 879.7 1387.4 881.4 1385.7C883.1 1384.0 884.3 1381.6 885.5 1379.5C886.7 1377.4 887.6 1375.5 888.6 1373.3C889.7 1371.0 890.7 1368.5 891.7 1366.0C892.8 1363.6 893.6 1361.4 894.8 1358.8C896.0 1356.2 897.6 1353.1 899.0 1350.5C900.3 1348.0 901.6 1345.7 903.1 1343.3C904.7 1340.9 906.5 1338.0 908.3 1336.1C910.0 1334.2 911.5 1333.0 913.4 1331.9C915.3 1330.8 917.6 1329.8 919.6 1329.5C921.7 1329.1 923.9 1329.5 925.8 1329.9C927.7 1330.3 929.3 1331.1 931.0 1331.9C932.7 1332.8 934.5 1334.3 936.2 1335.0C937.9 1335.7 939.3 1335.7 941.3 1336.1C943.3 1336.4 945.8 1336.4 948.2 1337.1C950.5 1337.8 953.0 1338.8 955.4 1340.2C957.8 1341.6 960.2 1343.7 962.6 1345.4C965.0 1347.1 967.5 1348.6 969.9 1350.5C972.3 1352.4 974.7 1354.8 977.1 1356.7C979.5 1358.6 981.9 1360.2 984.3 1361.9C986.8 1363.6 989.2 1365.4 991.6 1367.1C994.0 1368.7 996.4 1370.6 998.8 1371.8C1001.2 1373.0 1003.8 1373.2 1006.0 1374.3C1008.3 1375.4 1010.2 1377.1 1012.2 1378.4C1014.3 1379.8 1016.4 1381.0 1018.4 1382.6C1020.5 1384.1 1022.6 1386.0 1024.7 1387.8C1026.7 1389.5 1028.6 1391.4 1030.9 1392.9C1033.1 1394.5 1035.7 1395.7 1038.1 1397.1C1040.5 1398.4 1042.7 1400.1 1045.3 1401.2C1047.9 1402.3 1051.0 1403.2 1053.6 1403.9C1056.2 1404.6 1058.9 1404.7 1060.8 1405.3C1062.7 1405.9 1063.9 1406.6 1065.0 1407.4C1066.0 1408.2 1066.0 1409.6 1067.0 1410.1C1068.1 1410.6 1069.3 1410.5 1071.2 1410.5C1073.1 1410.5 1077.2 1410.3 1078.4 1410.3" fill="none" stroke="#1c1c1c" stroke-width="0.9"/>
<path d="M844.8 1403.9C846.6 1403.9 852.4 1404.4 855.6 1404.3C858.7 1404.2 861.6 1403.9 863.8 1403.3C866.1 1402.6 867.3 1401.4 869.0 1400.2C870.7 1398.9 872.4 1397.2 874.2 1396.0C875.9 1394.8 877.6 1394.1 879.3 1392.9C881.1 1391.7 882.9 1390.3 884.5 1388.8C886.0 1387.2 887.4 1385.5 888.6 1383.6C889.8 1381.7 890.7 1379.7 891.7 1377.4C892.8 1375.2 893.8 1372.6 894.8 1370.2C895.9 1367.8 896.9 1365.4 897.9 1362.9C899.0 1360.5 899.8 1358.1 901.0 1355.7C902.2 1353.3 903.8 1350.7 905.2 1348.5C906.5 1346.2 907.8 1344.0 909.3 1342.3C910.9 1340.6 912.6 1339.0 914.5 1338.1C916.4 1337.3 918.6 1337.1 920.7 1337.1C922.7 1337.1 925.0 1337.5 926.9 1338.1C928.8 1338.8 930.3 1340.4 932.0 1341.2C933.8 1342.1 935.3 1343.1 937.2 1343.3C939.1 1343.5 941.3 1342.3 943.4 1342.3C945.5 1342.3 947.4 1342.6 949.6 1343.3C951.9 1344.0 954.4 1345.2 956.8 1346.4C959.3 1347.6 961.7 1349.0 964.1 1350.5C966.5 1352.1 969.1 1354.0 971.3 1355.7C973.6 1357.4 975.3 1359.0 977.5 1360.9C979.8 1362.8 982.2 1365.0 984.8 1367.1C987.3 1369.1 990.5 1371.4 993.0 1373.3C995.6 1375.2 997.7 1376.7 1000.1 1378.4C1002.4 1380.2 1004.7 1382.2 1007.1 1384.0C1009.5 1385.8 1011.9 1387.5 1014.3 1389.2C1016.7 1390.9 1019.1 1392.6 1021.6 1394.4C1024.0 1396.1 1026.2 1397.8 1028.8 1399.5C1031.4 1401.3 1034.3 1403.0 1037.1 1404.7C1039.8 1406.4 1042.6 1408.1 1045.3 1409.9C1048.1 1411.6 1050.8 1413.5 1053.6 1415.0C1056.3 1416.6 1059.1 1417.8 1061.9 1419.2C1064.6 1420.6 1067.2 1422.1 1070.1 1423.3C1073.1 1424.5 1077.9 1425.7 1079.4 1426.2L4000.0 1426.2L4000.0 4000.0L-4000.0 4000.0L-4000.0 1403.9Z" fill="#ffd200"/>
<path d="M844.8 1403.9C846.6 1403.9 852.4 1404.4 855.6 1404.3C858.7 1404.2 861.6 1403.9 863.8 1403.3C866.1 1402.6 867.3 1401.4 869.0 1400.2C870.7 1398.9 872.4 1397.2 874.2 1396.0C875.9 1394.8 877.6 1394.1 879.3 1392.9C881.1 1391.7 882.9 1390.3 884.5 1388.8C886.0 1387.2 887.4 1385.5 888.6 1383.6C889.8 1381.7 890.7 1379.7 891.7 1377.4C892.8 1375.2 893.8 1372.6 894.8 1370.2C895.9 1367.8 896.9 1365.4 897.9 1362.9C899.0 1360.5 899.8 1358.1 901.0 1355.7C902.2 1353.3 903.8 1350.7 905.2 1348.5C906.5 1346.2 907.8 1344.0 909.3 1342.3C910.9 1340.6 912.6 1339.0 914.5 1338.1C916.4 1337.3 918.6 1337.1 920.7 1337.1C922.7 1337.1 925.0 1337.5 926.9 1338.1C928.8 1338.8 930.3 1340.4 932.0 1341.2C933.8 1342.1 935.3 1343.1 937.2 1343.3C939.1 1343.5 941.3 1342.3 943.4 1342.3C945.5 1342.3 947.4 1342.6 949.6 1343.3C951.9 1344.0 954.4 1345.2 956.8 1346.4C959.3 1347.6 961.7 1349.0 964.1 1350.5C966.5 1352.1 969.1 1354.0 971.3 1355.7C973.6 1357.4 975.3 1359.0 977.5 1360.9C979.8 1362.8 982.2 1365.0 984.8 1367.1C987.3 1369.1 990.5 1371.4 993.0 1373.3C995.6 1375.2 997.7 1376.7 1000.1 1378.4C1002.4 1380.2 1004.7 1382.2 1007.1 1384.0C1009.5 1385.8 1011.9 1387.5 1014.3 1389.2C1016.7 1390.9 1019.1 1392.6 1021.6 1394.4C1024.0 1396.1 1026.2 1397.8 1028.8 1399.5C1031.4 1401.3 1034.3 1403.0 1037.1 1404.7C1039.8 1406.4 1042.6 1408.1 1045.3 1409.9C1048.1 1411.6 1050.8 1413.5 1053.6 1415.0C1056.3 1416.6 1059.1 1417.8 1061.9 1419.2C1064.6 1420.6 1067.2 1422.1 1070.1 1423.3C1073.1 1424.5 1077.9 1425.7 1079.4 1426.2" fill="none" stroke="#1c1c1c" stroke-width="0.9"/>
<path d="M843.8 1423.9C845.4 1423.6 850.7 1422.5 853.5 1421.9C856.3 1421.2 858.5 1420.7 860.7 1419.8C863.0 1418.9 864.9 1418.1 866.9 1416.7C869.0 1415.3 871.2 1413.4 873.1 1411.5C875.0 1409.6 876.7 1407.2 878.3 1405.3C879.8 1403.4 881.1 1401.9 882.4 1400.2C883.8 1398.4 885.2 1396.9 886.6 1395.0C887.9 1393.1 889.5 1390.9 890.7 1388.8C891.9 1386.7 892.8 1384.8 893.8 1382.6C894.8 1380.3 895.9 1377.8 896.9 1375.3C897.9 1372.9 899.0 1370.5 900.0 1368.1C901.0 1365.7 901.9 1363.3 903.1 1360.9C904.3 1358.5 905.9 1355.6 907.2 1353.6C908.6 1351.7 909.8 1350.3 911.4 1349.1C912.9 1347.9 914.6 1346.9 916.5 1346.4C918.4 1346.0 920.7 1346.1 922.7 1346.4C924.8 1346.8 926.9 1347.9 928.9 1348.5C931.0 1349.1 933.1 1350.0 935.1 1350.1C937.2 1350.3 939.3 1349.6 941.3 1349.5C943.4 1349.4 945.3 1349.0 947.5 1349.5C949.8 1350.0 952.4 1351.2 954.8 1352.6C957.2 1354.0 959.6 1356.1 962.0 1357.8C964.4 1359.5 966.8 1361.2 969.3 1362.9C971.7 1364.7 973.9 1366.2 976.5 1368.1C979.1 1370.0 982.0 1372.2 984.8 1374.3C987.5 1376.4 990.5 1378.8 993.0 1380.5C995.6 1382.2 997.7 1383.0 1000.1 1384.7C1002.4 1386.3 1004.7 1388.4 1007.1 1390.2C1009.5 1392.0 1011.9 1393.6 1014.3 1395.4C1016.7 1397.2 1019.1 1399.2 1021.6 1401.0C1024.0 1402.8 1026.2 1404.5 1028.8 1406.4C1031.4 1408.2 1034.3 1410.2 1037.1 1411.9C1039.8 1413.7 1042.6 1415.1 1045.3 1416.7C1048.1 1418.2 1050.8 1419.8 1053.6 1421.2C1056.3 1422.7 1059.1 1424.1 1061.9 1425.4C1064.6 1426.7 1067.2 1428.0 1070.1 1429.1C1073.1 1430.2 1077.9 1431.5 1079.4 1432.0L4000.0 1432.0L4000.0 4000.0L-4000.0 4000.0L-4000.0 1423.9Z" fill="#ffe900"/>
<path d="M843.8 1423.9C845.4 1423.6 850.7 1422.5 853.5 1421.9C856.3 1421.2 858.5 1420.7 860.7 1419.8C863.0 1418.9 864.9 1418.1 866.9 1416.7C869.0 1415.3 871.2 1413.4 873.1 1411.5C875.0 1409.6 876.7 1407.2 878.3 1405.3C879.8 1403.4 881.1 1401.9 882.4 1400.2C883.8 1398.4 885.2 1396.9 886.6 1395.0C887.9 1393.1 889.5 1390.9 890.7 1388.8C891.9 1386.7 892.8 1384.8 893.8 1382.6C894.8 1380.3 895.9 1377.8 896.9 1375.3C897.9 1372.9 899.0 1370.5 900.0 1368.1C901.0 1365.7 901.9 1363.3 903.1 1360.9C904.3 1358.5 905.9 1355.6 907.2 1353.6C908.6 1351.7 909.8 1350.3 911.4 1349.1C912.9 1347.9 914.6 1346.9 916.5 1346.4C918.4 1346.0 920.7 1346.1 922.7 1346.4C924.8 1346.8 926.9 1347.9 928.9 1348.5C931.0 1349.1 933.1 1350.0 935.1 1350.1C937.2 1350.3 939.3 1349.6 941.3 1349.5C943.4 1349.4 945.3 1349.0 947.5 1349.5C949.8 1350.0 952.4 1351.2 954.8 1352.6C957.2 1354.0 959.6 1356.1 962.0 1357.8C964.4 1359.5 966.8 1361.2 969.3 1362.9C971.7 1364.7 973.9 1366.2 976.5 1368.1C979.1 1370.0 982.0 1372.2 984.8 1374.3C987.5 1376.4 990.5 1378.8 993.0 1380.5C995.6 1382.2 997.7 1383.0 1000.1 1384.7C1002.4 1386.3 1004.7 1388.4 1007.1 1390.2C1009.5 1392.0 1011.9 1393.6 1014.3 1395.4C1016.7 1397.2 1019.1 1399.2 1021.6 1401.0C1024.0 1402.8 1026.2 1404.5 1028.8 1406.4C1031.4 1408.2 1034.3 1410.2 1037.1 1411.9C1039.8 1413.7 1042.6 1415.1 1045.3 1416.7C1048.1 1418.2 1050.8 1419.8 1053.6 1421.2C1056.3 1422.7 1059.1 1424.1 1061.9 1425.4C1064.6 1426.7 1067.2 1428.0 1070.1 1429.1C1073.1 1430.2 1077.9 1431.5 1079.4 1432.0" fill="none" stroke="#1c1c1c" stroke-width="0.9"/>
<path d="M843.8 1439.4C845.7 1438.7 852.4 1436.7 855.6 1435.3C858.7 1433.9 860.6 1432.5 862.8 1431.2C865.0 1429.8 866.9 1428.8 869.0 1427.0C871.1 1425.3 873.3 1422.9 875.2 1420.8C877.1 1418.8 878.8 1416.7 880.4 1414.6C881.9 1412.6 883.1 1410.7 884.5 1408.4C885.9 1406.2 887.4 1403.6 888.6 1401.2C889.8 1398.8 890.7 1396.4 891.7 1394.0C892.8 1391.5 893.8 1389.1 894.8 1386.7C895.9 1384.3 896.9 1381.9 897.9 1379.5C899.0 1377.1 899.8 1374.7 901.0 1372.2C902.2 1369.8 903.8 1367.0 905.2 1365.0C906.5 1363.0 907.8 1361.6 909.3 1360.5C910.9 1359.4 912.6 1358.9 914.5 1358.4C916.4 1357.9 918.6 1357.6 920.7 1357.6C922.7 1357.6 924.8 1357.9 926.9 1358.4C928.9 1358.9 930.8 1360.1 933.1 1360.5C935.3 1360.9 937.9 1361.0 940.3 1360.9C942.7 1360.8 945.1 1359.7 947.5 1359.8C950.0 1360.0 952.4 1360.9 954.8 1361.9C957.2 1362.9 959.6 1364.7 962.0 1366.0C964.4 1367.4 966.8 1368.6 969.3 1370.2C971.7 1371.7 973.9 1373.5 976.5 1375.3C979.1 1377.2 982.0 1379.7 984.8 1381.6C987.5 1383.4 990.5 1385.2 993.0 1386.7C995.6 1388.3 997.7 1389.2 1000.1 1390.9C1002.4 1392.5 1004.7 1394.5 1007.1 1396.4C1009.5 1398.3 1011.9 1400.3 1014.3 1402.2C1016.7 1404.1 1019.1 1406.0 1021.6 1407.8C1024.0 1409.6 1026.2 1411.2 1028.8 1413.0C1031.4 1414.7 1034.3 1416.6 1037.1 1418.1C1039.8 1419.7 1042.6 1420.9 1045.3 1422.3C1048.1 1423.7 1050.8 1425.1 1053.6 1426.4C1056.3 1427.7 1059.1 1428.7 1061.9 1429.9C1064.6 1431.1 1067.2 1432.6 1070.1 1433.6C1073.1 1434.7 1077.9 1435.7 1079.4 1436.1L4000.0 1436.1L4000.0 1494.2L1060.8 1494.2C1059.3 1494.5 1054.5 1495.4 1051.5 1495.7C1048.6 1495.9 1046.4 1495.9 1043.3 1495.7C1040.2 1495.4 1036.0 1494.7 1032.9 1494.0C1029.8 1493.3 1027.4 1492.6 1024.7 1491.5C1021.9 1490.5 1019.1 1489.1 1016.4 1487.8C1013.6 1486.5 1010.9 1485.0 1008.1 1483.7C1005.4 1482.3 1002.6 1481.3 999.8 1479.5C997.1 1477.7 994.1 1475.2 991.6 1472.9C989.1 1470.6 986.9 1467.9 984.8 1465.9C982.6 1463.9 980.8 1462.6 978.6 1460.7C976.3 1458.8 973.7 1456.4 971.3 1454.5C968.9 1452.6 966.7 1451.2 964.1 1449.4C961.5 1447.5 958.6 1445.0 955.8 1443.2C953.1 1441.3 950.3 1439.5 947.5 1438.0C944.8 1436.4 942.0 1435.2 939.3 1433.9C936.5 1432.5 933.8 1430.9 931.0 1429.7C928.3 1428.5 925.5 1427.5 922.7 1426.6C920.0 1425.8 917.1 1424.9 914.5 1424.5C911.9 1424.2 910.2 1424.5 907.2 1424.5C904.3 1424.5 900.3 1424.4 896.9 1424.5C893.5 1424.7 889.7 1424.9 886.6 1425.6C883.5 1426.3 881.1 1427.1 878.3 1428.7C875.5 1430.2 872.6 1432.3 870.0 1434.9C867.4 1437.5 865.2 1440.7 862.8 1444.2C860.4 1447.6 858.2 1452.0 855.6 1455.6C852.9 1459.1 848.3 1464.0 846.9 1465.7L-4000.0 1465.7L-4000.0 1439.4Z" fill="#fffd00"/>
<path d="M843.8 1439.4C845.7 1438.7 852.4 1436.7 855.6 1435.3C858.7 1433.9 860.6 1432.5 862.8 1431.2C865.0 1429.8 866.9 1428.8 869.0 1427.0C871.1 1425.3 873.3 1422.9 875.2 1420.8C877.1 1418.8 878.8 1416.7 880.4 1414.6C881.9 1412.6 883.1 1410.7 884.5 1408.4C885.9 1406.2 887.4 1403.6 888.6 1401.2C889.8 1398.8 890.7 1396.4 891.7 1394.0C892.8 1391.5 893.8 1389.1 894.8 1386.7C895.9 1384.3 896.9 1381.9 897.9 1379.5C899.0 1377.1 899.8 1374.7 901.0 1372.2C902.2 1369.8 903.8 1367.0 905.2 1365.0C906.5 1363.0 907.8 1361.6 909.3 1360.5C910.9 1359.4 912.6 1358.9 914.5 1358.4C916.4 1357.9 918.6 1357.6 920.7 1357.6C922.7 1357.6 924.8 1357.9 926.9 1358.4C928.9 1358.9 930.8 1360.1 933.1 1360.5C935.3 1360.9 937.9 1361.0 940.3 1360.9C942.7 1360.8 945.1 1359.7 947.5 1359.8C950.0 1360.0 952.4 1360.9 954.8 1361.9C957.2 1362.9 959.6 1364.7 962.0 1366.0C964.4 1367.4 966.8 1368.6 969.3 1370.2C971.7 1371.7 973.9 1373.5 976.5 1375.3C979.1 1377.2 982.0 1379.7 984.8 1381.6C987.5 1383.4 990.5 1385.2 993.0 1386.7C995.6 1388.3 997.7 1389.2 1000.1 1390.9C1002.4 1392.5 1004.7 1394.5 1007.1 1396.4C1009.5 1398.3 1011.9 1400.3 1014.3 1402.2C1016.7 1404.1 1019.1 1406.0 1021.6 1407.8C1024.0 1409.6 1026.2 1411.2 1028.8 1413.0C1031.4 1414.7 1034.3 1416.6 1037.1 1418.1C1039.8 1419.7 1042.6 1420.9 1045.3 1422.3C1048.1 1423.7 1050.8 1425.1 1053.6 1426.4C1056.3 1427.7 1059.1 1428.7 1061.9 1429.9C1064.6 1431.1 1067.2 1432.6 1070.1 1433.6C1073.1 1434.7 1077.9 1435.7 1079.4 1436.1M1060.8 1494.2C1059.3 1494.5 1054.5 1495.4 1051.5 1495.7C1048.6 1495.9 1046.4 1495.9 1043.3 1495.7C1040.2 1495.4 1036.0 1494.7 1032.9 1494.0C1029.8 1493.3 1027.4 1492.6 1024.7 1491.5C1021.9 1490.5 1019.1 1489.1 1016.4 1487.8C1013.6 1486.5 1010.9 1485.0 1008.1 1483.7C1005.4 1482.3 1002.6 1481.3 999.8 1479.5C997.1 1477.7 994.1 1475.2 991.6 1472.9C989.1 1470.6 986.9 1467.9 984.8 1465.9C982.6 1463.9 980.8 1462.6 978.6 1460.7C976.3 1458.8 973.7 1456.4 971.3 1454.5C968.9 1452.6 966.7 1451.2 964.1 1449.4C961.5 1447.5 958.6 1445.0 955.8 1443.2C953.1 1441.3 950.3 1439.5 947.5 1438.0C944.8 1436.4 942.0 1435.2 939.3 1433.9C936.5 1432.5 933.8 1430.9 931.0 1429.7C928.3 1428.5 925.5 1427.5 922.7 1426.6C920.0 1425.8 917.1 1424.9 914.5 1424.5C911.9 1424.2 910.2 1424.5 907.2 1424.5C904.3 1424.5 900.3 1424.4 896.9 1424.5C893.5 1424.7 889.7 1424.9 886.6 1425.6C883.5 1426.3 881.1 1427.1 878.3 1428.7C875.5 1430.2 872.6 1432.3 870.0 1434.9C867.4 1437.5 865.2 1440.7 862.8 1444.2C860.4 1447.6 858.2 1452.0 855.6 1455.6C852.9 1459.1 848.3 1464.0 846.9 1465.7" fill="none" stroke="#1c1c1c" stroke-width="0.9"/>
<path d="M877.3 1423.9C877.8 1422.9 879.3 1419.8 880.4 1417.7C881.4 1415.7 882.4 1413.8 883.5 1411.5C884.5 1409.3 885.7 1406.7 886.6 1404.3C887.4 1401.9 888.1 1399.5 888.6 1397.1C889.1 1394.6 889.1 1392.1 889.7 1389.8C890.2 1387.6 890.9 1385.5 891.7 1383.6C892.6 1381.7 893.5 1380.2 894.8 1378.4C896.2 1376.7 898.1 1374.7 900.0 1373.3C901.9 1371.8 904.1 1370.6 906.2 1369.8C908.3 1368.9 910.3 1368.2 912.4 1368.1C914.5 1368.0 916.4 1368.9 918.6 1369.1C920.8 1369.4 923.4 1369.6 925.8 1369.8C928.3 1369.9 930.7 1370.2 933.1 1370.2C935.5 1370.2 937.9 1369.7 940.3 1369.8C942.7 1369.9 945.1 1370.2 947.5 1370.8C950.0 1371.4 952.4 1372.2 954.8 1373.3C957.2 1374.4 959.6 1376.0 962.0 1377.4C964.4 1378.8 966.8 1380.0 969.3 1381.6C971.7 1383.1 973.9 1384.8 976.5 1386.7C979.1 1388.6 982.0 1391.0 984.8 1392.9C987.5 1394.8 990.5 1396.4 993.0 1398.1C995.6 1399.8 997.7 1401.6 1000.1 1403.3C1002.4 1404.9 1004.7 1406.3 1007.1 1407.8C1009.5 1409.4 1011.9 1411.0 1014.3 1412.6C1016.7 1414.1 1019.1 1415.7 1021.6 1417.1C1024.0 1418.6 1026.2 1419.9 1028.8 1421.2C1031.4 1422.6 1034.3 1424.1 1037.1 1425.4C1039.8 1426.7 1042.6 1427.9 1045.3 1429.1C1048.1 1430.3 1050.8 1431.5 1053.6 1432.6C1056.3 1433.7 1059.1 1434.8 1061.9 1435.7C1064.6 1436.6 1067.2 1437.4 1070.1 1438.2C1073.1 1438.9 1077.9 1439.9 1079.4 1440.3L4000.0 1440.3L4000.0 1494.2L1060.8 1494.2C1059.3 1494.5 1054.5 1495.4 1051.5 1495.7C1048.6 1495.9 1046.4 1495.9 1043.3 1495.7C1040.2 1495.4 1036.0 1494.7 1032.9 1494.0C1029.8 1493.3 1027.4 1492.6 1024.7 1491.5C1021.9 1490.5 1019.1 1489.1 1016.4 1487.8C1013.6 1486.5 1010.9 1485.0 1008.1 1483.7C1005.4 1482.3 1002.6 1481.3 999.8 1479.5C997.1 1477.7 994.1 1475.2 991.6 1472.9C989.1 1470.6 986.9 1467.9 984.8 1465.9C982.6 1463.9 980.8 1462.6 978.6 1460.7C976.3 1458.8 973.7 1456.4 971.3 1454.5C968.9 1452.6 966.7 1451.2 964.1 1449.4C961.5 1447.5 958.6 1445.0 955.8 1443.2C953.1 1441.3 950.3 1439.5 947.5 1438.0C944.8 1436.4 942.0 1435.2 939.3 1433.9C936.5 1432.5 933.8 1430.9 931.0 1429.7C928.3 1428.5 925.5 1427.5 922.7 1426.6C920.0 1425.8 917.1 1425.0 914.5 1424.5C911.9 1424.1 910.2 1424.0 907.2 1423.9C904.3 1423.8 899.8 1423.7 896.9 1423.9C894.0 1424.2 891.9 1425.1 889.7 1425.6C887.4 1426.0 885.3 1426.6 883.5 1426.6C881.7 1426.6 879.9 1425.8 878.9 1425.4C877.9 1424.9 877.5 1424.2 877.3 1423.9Z" fill="#ffff5e"/>
<path d="M877.3 1423.9C877.8 1422.9 879.3 1419.8 880.4 1417.7C881.4 1415.7 882.4 1413.8 883.5 1411.5C884.5 1409.3 885.7 1406.7 886.6 1404.3C887.4 1401.9 888.1 1399.5 888.6 1397.1C889.1 1394.6 889.1 1392.1 889.7 1389.8C890.2 1387.6 890.9 1385.5 891.7 1383.6C892.6 1381.7 893.5 1380.2 894.8 1378.4C896.2 1376.7 898.1 1374.7 900.0 1373.3C901.9 1371.8 904.1 1370.6 906.2 1369.8C908.3 1368.9 910.3 1368.2 912.4 1368.1C914.5 1368.0 916.4 1368.9 918.6 1369.1C920.8 1369.4 923.4 1369.6 925.8 1369.8C928.3 1369.9 930.7 1370.2 933.1 1370.2C935.5 1370.2 937.9 1369.7 940.3 1369.8C942.7 1369.9 945.1 1370.2 947.5 1370.8C950.0 1371.4 952.4 1372.2 954.8 1373.3C957.2 1374.4 959.6 1376.0 962.0 1377.4C964.4 1378.8 966.8 1380.0 969.3 1381.6C971.7 1383.1 973.9 1384.8 976.5 1386.7C979.1 1388.6 982.0 1391.0 984.8 1392.9C987.5 1394.8 990.5 1396.4 993.0 1398.1C995.6 1399.8 997.7 1401.6 1000.1 1403.3C1002.4 1404.9 1004.7 1406.3 1007.1 1407.8C1009.5 1409.4 1011.9 1411.0 1014.3 1412.6C1016.7 1414.1 1019.1 1415.7 1021.6 1417.1C1024.0 1418.6 1026.2 1419.9 1028.8 1421.2C1031.4 1422.6 1034.3 1424.1 1037.1 1425.4C1039.8 1426.7 1042.6 1427.9 1045.3 1429.1C1048.1 1430.3 1050.8 1431.5 1053.6 1432.6C1056.3 1433.7 1059.1 1434.8 1061.9 1435.7C1064.6 1436.6 1067.2 1437.4 1070.1 1438.2C1073.1 1438.9 1077.9 1439.9 1079.4 1440.3M1060.8 1494.2C1059.3 1494.5 1054.5 1495.4 1051.5 1495.7C1048.6 1495.9 1046.4 1495.9 1043.3 1495.7C1040.2 1495.4 1036.0 1494.7 1032.9 1494.0C1029.8 1493.3 1027.4 1492.6 1024.7 1491.5C1021.9 1490.5 1019.1 1489.1 1016.4 1487.8C1013.6 1486.5 1010.9 1485.0 1008.1 1483.7C1005.4 1482.3 1002.6 1481.3 999.8 1479.5C997.1 1477.7 994.1 1475.2 991.6 1472.9C989.1 1470.6 986.9 1467.9 984.8 1465.9C982.6 1463.9 980.8 1462.6 978.6 1460.7C976.3 1458.8 973.7 1456.4 971.3 1454.5C968.9 1452.6 966.7 1451.2 964.1 1449.4C961.5 1447.5 958.6 1445.0 955.8 1443.2C953.1 1441.3 950.3 1439.5 947.5 1438.0C944.8 1436.4 942.0 1435.2 939.3 1433.9C936.5 1432.5 933.8 1430.9 931.0 1429.7C928.3 1428.5 925.5 1427.5 922.7 1426.6C920.0 1425.8 917.1 1425.0 914.5 1424.5C911.9 1424.1 910.2 1424.0 907.2 1423.9C904.3 1423.8 899.8 1423.7 896.9 1423.9C894.0 1424.2 891.9 1425.1 889.7 1425.6C887.4 1426.0 885.3 1426.6 883.5 1426.6C881.7 1426.6 879.9 1425.8 878.9 1425.4C877.9 1424.9 877.5 1424.2 877.3 1423.9" fill="none" stroke="#1c1c1c" stroke-width="0.9"/>
<path d="M893.8 1404.3C894.0 1403.4 894.3 1400.8 894.8 1399.1C895.3 1397.4 895.7 1395.7 896.9 1394.0C898.1 1392.2 900.2 1390.3 902.1 1388.8C904.0 1387.2 906.2 1385.9 908.3 1384.7C910.3 1383.4 912.4 1382.2 914.5 1381.6C916.5 1380.9 918.6 1380.6 920.7 1380.5C922.7 1380.4 924.8 1380.8 926.9 1381.1C928.9 1381.5 931.2 1382.2 933.1 1382.6C935.0 1383.0 936.2 1383.6 938.2 1383.6C940.3 1383.6 942.9 1382.4 945.5 1382.6C948.1 1382.8 951.0 1383.6 953.7 1384.7C956.5 1385.7 959.4 1387.4 962.0 1388.8C964.6 1390.2 966.8 1391.5 969.3 1392.9C971.7 1394.3 973.9 1395.3 976.5 1397.1C979.1 1398.8 982.0 1401.2 984.8 1403.3C987.5 1405.3 990.5 1407.6 993.0 1409.5C995.6 1411.4 997.7 1413.1 1000.1 1414.6C1002.4 1416.2 1004.7 1417.3 1007.1 1418.8C1009.5 1420.2 1011.9 1421.9 1014.3 1423.3C1016.7 1424.8 1019.1 1426.1 1021.6 1427.4C1024.0 1428.8 1026.2 1430.2 1028.8 1431.6C1031.4 1433.0 1034.3 1434.4 1037.1 1435.7C1039.8 1437.0 1042.6 1438.2 1045.3 1439.4C1048.1 1440.6 1050.8 1441.8 1053.6 1442.9C1056.3 1444.0 1059.1 1445.1 1061.9 1446.0C1064.6 1447.0 1067.2 1447.8 1070.1 1448.5C1073.1 1449.3 1077.9 1450.2 1079.4 1450.6L4000.0 1450.6L4000.0 1494.2L1060.8 1494.2C1059.3 1494.5 1054.5 1495.4 1051.5 1495.7C1048.6 1495.9 1046.4 1495.9 1043.3 1495.7C1040.2 1495.4 1036.0 1494.7 1032.9 1494.0C1029.8 1493.3 1027.4 1492.6 1024.7 1491.5C1021.9 1490.5 1019.1 1489.1 1016.4 1487.8C1013.6 1486.5 1010.9 1485.0 1008.1 1483.7C1005.4 1482.3 1002.6 1481.3 999.8 1479.5C997.1 1477.7 994.1 1475.2 991.6 1472.9C989.1 1470.6 986.9 1467.9 984.8 1465.9C982.6 1463.9 980.8 1462.6 978.6 1460.7C976.3 1458.8 973.7 1456.4 971.3 1454.5C968.9 1452.6 966.7 1451.2 964.1 1449.4C961.5 1447.5 958.2 1444.7 955.8 1443.2C953.4 1441.6 951.7 1440.7 949.6 1440.1C947.5 1439.4 945.8 1440.1 943.4 1439.0C941.0 1438.0 937.4 1435.6 935.1 1433.9C932.9 1432.1 931.7 1430.1 930.0 1428.7C928.3 1427.3 926.7 1426.4 924.8 1425.6C922.9 1424.7 921.0 1424.2 918.6 1423.5C916.2 1422.8 913.1 1422.1 910.3 1421.4C907.6 1420.8 904.3 1420.4 902.1 1419.4C899.8 1418.3 898.1 1416.8 896.9 1415.2C895.7 1413.7 895.3 1411.9 894.8 1410.1C894.3 1408.3 894.0 1405.3 893.8 1404.3Z" fill="#ffff89"/>
<path d="M893.8 1404.3C894.0 1403.4 894.3 1400.8 894.8 1399.1C895.3 1397.4 895.7 1395.7 896.9 1394.0C898.1 1392.2 900.2 1390.3 902.1 1388.8C904.0 1387.2 906.2 1385.9 908.3 1384.7C910.3 1383.4 912.4 1382.2 914.5 1381.6C916.5 1380.9 918.6 1380.6 920.7 1380.5C922.7 1380.4 924.8 1380.8 926.9 1381.1C928.9 1381.5 931.2 1382.2 933.1 1382.6C935.0 1383.0 936.2 1383.6 938.2 1383.6C940.3 1383.6 942.9 1382.4 945.5 1382.6C948.1 1382.8 951.0 1383.6 953.7 1384.7C956.5 1385.7 959.4 1387.4 962.0 1388.8C964.6 1390.2 966.8 1391.5 969.3 1392.9C971.7 1394.3 973.9 1395.3 976.5 1397.1C979.1 1398.8 982.0 1401.2 984.8 1403.3C987.5 1405.3 990.5 1407.6 993.0 1409.5C995.6 1411.4 997.7 1413.1 1000.1 1414.6C1002.4 1416.2 1004.7 1417.3 1007.1 1418.8C1009.5 1420.2 1011.9 1421.9 1014.3 1423.3C1016.7 1424.8 1019.1 1426.1 1021.6 1427.4C1024.0 1428.8 1026.2 1430.2 1028.8 1431.6C1031.4 1433.0 1034.3 1434.4 1037.1 1435.7C1039.8 1437.0 1042.6 1438.2 1045.3 1439.4C1048.1 1440.6 1050.8 1441.8 1053.6 1442.9C1056.3 1444.0 1059.1 1445.1 1061.9 1446.0C1064.6 1447.0 1067.2 1447.8 1070.1 1448.5C1073.1 1449.3 1077.9 1450.2 1079.4 1450.6M1060.8 1494.2C1059.3 1494.5 1054.5 1495.4 1051.5 1495.7C1048.6 1495.9 1046.4 1495.9 1043.3 1495.7C1040.2 1495.4 1036.0 1494.7 1032.9 1494.0C1029.8 1493.3 1027.4 1492.6 1024.7 1491.5C1021.9 1490.5 1019.1 1489.1 1016.4 1487.8C1013.6 1486.5 1010.9 1485.0 1008.1 1483.7C1005.4 1482.3 1002.6 1481.3 999.8 1479.5C997.1 1477.7 994.1 1475.2 991.6 1472.9C989.1 1470.6 986.9 1467.9 984.8 1465.9C982.6 1463.9 980.8 1462.6 978.6 1460.7C976.3 1458.8 973.7 1456.4 971.3 1454.5C968.9 1452.6 966.7 1451.2 964.1 1449.4C961.5 1447.5 958.2 1444.7 955.8 1443.2C953.4 1441.6 951.7 1440.7 949.6 1440.1C947.5 1439.4 945.8 1440.1 943.4 1439.0C941.0 1438.0 937.4 1435.6 935.1 1433.9C932.9 1432.1 931.7 1430.1 930.0 1428.7C928.3 1427.3 926.7 1426.4 924.8 1425.6C922.9 1424.7 921.0 1424.2 918.6 1423.5C916.2 1422.8 913.1 1422.1 910.3 1421.4C907.6 1420.8 904.3 1420.4 902.1 1419.4C899.8 1418.3 898.1 1416.8 896.9 1415.2C895.7 1413.7 895.3 1411.9 894.8 1410.1C894.3 1408.3 894.0 1405.3 893.8 1404.3" fill="none" stroke="#1c1c1c" stroke-width="0.9"/>
<path d="M911.4 1404.3C911.5 1403.4 911.5 1400.2 912.4 1399.1C913.3 1398.0 914.8 1398.1 916.5 1397.7C918.3 1397.3 920.7 1396.6 922.7 1396.6C924.8 1396.6 927.2 1397.1 928.9 1397.7C930.7 1398.3 932.0 1399.1 933.1 1400.2C934.1 1401.3 934.6 1402.7 935.1 1404.3C935.7 1405.8 935.4 1408.5 936.2 1409.5C937.0 1410.5 937.6 1410.0 939.9 1410.3C942.2 1410.6 947.3 1410.6 950.2 1411.3C953.2 1412.0 954.9 1412.9 957.5 1414.4C960.1 1416.0 963.5 1419.1 965.7 1420.6C968.0 1422.2 969.2 1423.0 970.9 1423.7C972.6 1424.4 973.5 1423.9 976.1 1424.8C978.7 1425.6 983.0 1427.5 986.4 1428.9C989.9 1430.3 993.3 1431.5 996.7 1433.0C1000.2 1434.6 1003.6 1436.4 1007.1 1438.2C1010.5 1440.0 1015.2 1443.4 1017.4 1443.8C1019.7 1444.2 1018.8 1441.3 1020.5 1440.7C1022.2 1440.1 1025.2 1440.3 1027.8 1440.3C1030.3 1440.3 1033.4 1440.3 1036.0 1440.7C1038.6 1441.0 1040.7 1441.5 1043.3 1442.3C1045.8 1443.1 1048.9 1444.0 1051.5 1445.4C1054.1 1446.8 1056.2 1448.9 1058.8 1450.6C1061.3 1452.3 1064.1 1454.0 1067.0 1455.8C1070.0 1457.5 1074.8 1460.1 1076.3 1460.9L4000.0 1460.9L4000.0 1484.1L1062.5 1484.1C1061.0 1484.3 1056.8 1484.9 1053.6 1485.3C1050.4 1485.8 1046.7 1486.3 1043.3 1486.8C1039.8 1487.3 1036.2 1488.0 1032.9 1488.2C1029.6 1488.4 1026.4 1488.2 1023.6 1487.8C1020.9 1487.4 1019.0 1486.8 1016.4 1485.7C1013.8 1484.7 1010.9 1483.0 1008.1 1481.6C1005.4 1480.2 1002.6 1479.3 999.8 1477.5C997.1 1475.7 994.1 1473.1 991.6 1470.9C989.1 1468.6 986.9 1465.9 984.8 1463.8C982.6 1461.8 980.8 1460.6 978.6 1458.7C976.3 1456.8 973.7 1454.9 971.3 1452.5C968.9 1450.0 966.0 1446.1 964.1 1444.2C962.2 1442.3 961.7 1441.8 959.9 1441.1C958.2 1440.4 955.6 1440.9 953.7 1440.1C951.9 1439.2 950.3 1437.3 948.6 1435.9C946.9 1434.5 945.0 1433.0 943.4 1431.8C941.9 1430.6 940.7 1429.9 939.3 1428.7C937.9 1427.5 936.5 1425.9 935.1 1424.5C933.8 1423.2 932.6 1421.8 931.0 1420.4C929.5 1419.0 927.9 1417.3 925.8 1416.3C923.8 1415.2 920.7 1415.2 918.6 1414.2C916.5 1413.2 914.2 1411.7 913.0 1410.1C911.8 1408.4 911.6 1405.3 911.4 1404.3Z" fill="#ffffaa"/>
<path d="M911.4 1404.3C911.5 1403.4 911.5 1400.2 912.4 1399.1C913.3 1398.0 914.8 1398.1 916.5 1397.7C918.3 1397.3 920.7 1396.6 922.7 1396.6C924.8 1396.6 927.2 1397.1 928.9 1397.7C930.7 1398.3 932.0 1399.1 933.1 1400.2C934.1 1401.3 934.6 1402.7 935.1 1404.3C935.7 1405.8 935.4 1408.5 936.2 1409.5C937.0 1410.5 937.6 1410.0 939.9 1410.3C942.2 1410.6 947.3 1410.6 950.2 1411.3C953.2 1412.0 954.9 1412.9 957.5 1414.4C960.1 1416.0 963.5 1419.1 965.7 1420.6C968.0 1422.2 969.2 1423.0 970.9 1423.7C972.6 1424.4 973.5 1423.9 976.1 1424.8C978.7 1425.6 983.0 1427.5 986.4 1428.9C989.9 1430.3 993.3 1431.5 996.7 1433.0C1000.2 1434.6 1003.6 1436.4 1007.1 1438.2C1010.5 1440.0 1015.2 1443.4 1017.4 1443.8C1019.7 1444.2 1018.8 1441.3 1020.5 1440.7C1022.2 1440.1 1025.2 1440.3 1027.8 1440.3C1030.3 1440.3 1033.4 1440.3 1036.0 1440.7C1038.6 1441.0 1040.7 1441.5 1043.3 1442.3C1045.8 1443.1 1048.9 1444.0 1051.5 1445.4C1054.1 1446.8 1056.2 1448.9 1058.8 1450.6C1061.3 1452.3 1064.1 1454.0 1067.0 1455.8C1070.0 1457.5 1074.8 1460.1 1076.3 1460.9M1062.5 1484.1C1061.0 1484.3 1056.8 1484.9 1053.6 1485.3C1050.4 1485.8 1046.7 1486.3 1043.3 1486.8C1039.8 1487.3 1036.2 1488.0 1032.9 1488.2C1029.6 1488.4 1026.4 1488.2 1023.6 1487.8C1020.9 1487.4 1019.0 1486.8 1016.4 1485.7C1013.8 1484.7 1010.9 1483.0 1008.1 1481.6C1005.4 1480.2 1002.6 1479.3 999.8 1477.5C997.1 1475.7 994.1 1473.1 991.6 1470.9C989.1 1468.6 986.9 1465.9 984.8 1463.8C982.6 1461.8 980.8 1460.6 978.6 1458.7C976.3 1456.8 973.7 1454.9 971.3 1452.5C968.9 1450.0 966.0 1446.1 964.1 1444.2C962.2 1442.3 961.7 1441.8 959.9 1441.1C958.2 1440.4 955.6 1440.9 953.7 1440.1C951.9 1439.2 950.3 1437.3 948.6 1435.9C946.9 1434.5 945.0 1433.0 943.4 1431.8C941.9 1430.6 940.7 1429.9 939.3 1428.7C937.9 1427.5 936.5 1425.9 935.1 1424.5C933.8 1423.2 932.6 1421.8 931.0 1420.4C929.5 1419.0 927.9 1417.3 925.8 1416.3C923.8 1415.2 920.7 1415.2 918.6 1414.2C916.5 1413.2 914.2 1411.7 913.0 1410.1C911.8 1408.4 911.6 1405.3 911.4 1404.3" fill="none" stroke="#1c1c1c" stroke-width="0.9"/>
<path d="M997.4 1454.1C998.9 1454.0 1000.5 1455.0 1001.9 1455.8C1003.4 1456.6 1004.8 1457.5 1006.0 1458.9C1007.3 1460.2 1008.3 1462.3 1009.1 1464.0C1010.0 1465.8 1010.8 1467.6 1011.2 1469.2C1011.7 1470.7 1012.2 1472.3 1011.8 1473.3C1011.5 1474.4 1010.3 1475.2 1009.1 1475.4C1008.0 1475.6 1006.4 1475.1 1005.0 1474.4C1003.6 1473.7 1002.1 1472.0 1000.9 1471.3C999.7 1470.6 998.5 1471.1 997.8 1470.2C997.0 1469.4 997.0 1467.3 996.3 1466.1C995.6 1464.9 994.4 1464.0 993.6 1463.0C992.9 1462.0 991.7 1461.0 991.6 1459.9C991.4 1458.8 991.6 1457.1 992.6 1456.2C993.6 1455.2 995.8 1454.2 997.4 1454.1Z" fill="#ffffc5" stroke="#1c1c1c" stroke-width="0.9"/>
<path d="M1022.6 1460.3C1023.1 1460.3 1024.2 1461.4 1024.2 1462.0C1024.2 1462.5 1023.1 1463.6 1022.6 1463.6C1022.0 1463.6 1020.9 1462.5 1020.9 1462.0C1020.9 1461.4 1022.0 1460.3 1022.6 1460.3Z" fill="#ffffc5" stroke="#1c1c1c" stroke-width="0.9"/>
<path d="M846.9 1465.7C848.3 1464.0 852.9 1459.1 855.6 1455.6C858.2 1452.0 860.4 1447.6 862.8 1444.2C865.2 1440.7 867.4 1437.5 870.0 1434.9C872.6 1432.3 875.5 1430.2 878.3 1428.7C881.1 1427.1 883.5 1426.3 886.6 1425.6C889.7 1424.9 893.5 1424.7 896.9 1424.5C900.3 1424.4 904.3 1424.5 907.2 1424.5C910.2 1424.5 911.9 1424.2 914.5 1424.5C917.1 1424.9 920.0 1425.8 922.7 1426.6C925.5 1427.5 928.3 1428.5 931.0 1429.7C933.8 1430.9 936.5 1432.5 939.3 1433.9C942.0 1435.2 944.8 1436.4 947.5 1438.0C950.3 1439.5 953.1 1441.3 955.8 1443.2C958.6 1445.0 961.5 1447.5 964.1 1449.4C966.7 1451.2 968.9 1452.6 971.3 1454.5C973.7 1456.4 976.3 1458.8 978.6 1460.7C980.8 1462.6 982.6 1463.9 984.8 1465.9C986.9 1467.9 989.1 1470.6 991.6 1472.9C994.1 1475.2 997.1 1477.7 999.8 1479.5C1002.6 1481.3 1005.4 1482.3 1008.1 1483.7C1010.9 1485.0 1013.6 1486.5 1016.4 1487.8C1019.1 1489.1 1021.9 1490.5 1024.7 1491.5C1027.4 1492.6 1029.8 1493.3 1032.9 1494.0C1036.0 1494.7 1040.2 1495.4 1043.3 1495.7C1046.4 1495.9 1048.6 1495.9 1051.5 1495.7C1054.5 1495.4 1059.3 1494.5 1060.8 1494.2L4000.0 1494.2L4000.0 4000.0L-4000.0 4000.0L-4000.0 1465.7Z" fill="#ffe900"/>
<path d="M846.9 1465.7C848.3 1464.0 852.9 1459.1 855.6 1455.6C858.2 1452.0 860.4 1447.6 862.8 1444.2C865.2 1440.7 867.4 1437.5 870.0 1434.9C872.6 1432.3 875.5 1430.2 878.3 1428.7C881.1 1427.1 883.5 1426.3 886.6 1425.6C889.7 1424.9 893.5 1424.7 896.9 1424.5C900.3 1424.4 904.3 1424.5 907.2 1424.5C910.2 1424.5 911.9 1424.2 914.5 1424.5C917.1 1424.9 920.0 1425.8 922.7 1426.6C925.5 1427.5 928.3 1428.5 931.0 1429.7C933.8 1430.9 936.5 1432.5 939.3 1433.9C942.0 1435.2 944.8 1436.4 947.5 1438.0C950.3 1439.5 953.1 1441.3 955.8 1443.2C958.6 1445.0 961.5 1447.5 964.1 1449.4C966.7 1451.2 968.9 1452.6 971.3 1454.5C973.7 1456.4 976.3 1458.8 978.6 1460.7C980.8 1462.6 982.6 1463.9 984.8 1465.9C986.9 1467.9 989.1 1470.6 991.6 1472.9C994.1 1475.2 997.1 1477.7 999.8 1479.5C1002.6 1481.3 1005.4 1482.3 1008.1 1483.7C1010.9 1485.0 1013.6 1486.5 1016.4 1487.8C1019.1 1489.1 1021.9 1490.5 1024.7 1491.5C1027.4 1492.6 1029.8 1493.3 1032.9 1494.0C1036.0 1494.7 1040.2 1495.4 1043.3 1495.7C1046.4 1495.9 1048.6 1495.9 1051.5 1495.7C1054.5 1495.4 1059.3 1494.5 1060.8 1494.2" fill="none" stroke="#1c1c1c" stroke-width="0.9"/>
<path d="M847.7 1466.9C849.2 1465.2 853.9 1459.9 856.6 1456.4C859.2 1452.8 861.3 1448.9 863.6 1445.6C866.0 1442.4 868.2 1439.3 870.6 1437.0C873.1 1434.6 875.8 1432.7 878.5 1431.4C881.2 1430.0 883.6 1429.3 886.6 1428.7C889.5 1428.0 893.0 1427.7 896.3 1427.4C899.6 1427.2 903.3 1427.3 906.2 1427.3C909.1 1427.3 911.0 1427.1 913.6 1427.4C916.3 1427.8 919.2 1428.4 921.9 1429.2C924.7 1429.9 927.5 1430.9 930.2 1432.0C932.9 1433.1 935.4 1434.6 938.0 1435.9C940.7 1437.2 943.2 1438.4 945.9 1439.8C948.6 1441.3 951.4 1443.0 954.2 1444.8C956.9 1446.6 959.8 1448.8 962.4 1450.6C965.0 1452.4 967.4 1453.9 969.9 1455.8C972.4 1457.6 975.0 1459.9 977.3 1461.8C979.7 1463.7 981.6 1465.1 983.9 1467.1C986.2 1469.2 988.5 1471.9 991.0 1474.2C993.6 1476.5 996.3 1479.0 999.0 1480.9C1001.7 1482.8 1004.4 1484.0 1007.1 1485.4C1009.8 1486.9 1012.5 1488.4 1015.1 1489.7C1017.8 1491.0 1020.4 1492.3 1023.0 1493.3C1025.6 1494.3 1027.8 1495.1 1030.9 1495.9C1033.9 1496.7 1038.0 1497.6 1041.2 1498.0C1044.4 1498.4 1046.9 1498.5 1049.9 1498.3C1052.8 1498.2 1057.3 1497.5 1058.8 1497.3L4000.0 1497.3L4000.0 4000.0L-4000.0 4000.0L-4000.0 1466.9Z" fill="#ffd200"/>
<path d="M847.7 1466.9C849.2 1465.2 853.9 1459.9 856.6 1456.4C859.2 1452.8 861.3 1448.9 863.6 1445.6C866.0 1442.4 868.2 1439.3 870.6 1437.0C873.1 1434.6 875.8 1432.7 878.5 1431.4C881.2 1430.0 883.6 1429.3 886.6 1428.7C889.5 1428.0 893.0 1427.7 896.3 1427.4C899.6 1427.2 903.3 1427.3 906.2 1427.3C909.1 1427.3 911.0 1427.1 913.6 1427.4C916.3 1427.8 919.2 1428.4 921.9 1429.2C924.7 1429.9 927.5 1430.9 930.2 1432.0C932.9 1433.1 935.4 1434.6 938.0 1435.9C940.7 1437.2 943.2 1438.4 945.9 1439.8C948.6 1441.3 951.4 1443.0 954.2 1444.8C956.9 1446.6 959.8 1448.8 962.4 1450.6C965.0 1452.4 967.4 1453.9 969.9 1455.8C972.4 1457.6 975.0 1459.9 977.3 1461.8C979.7 1463.7 981.6 1465.1 983.9 1467.1C986.2 1469.2 988.5 1471.9 991.0 1474.2C993.6 1476.5 996.3 1479.0 999.0 1480.9C1001.7 1482.8 1004.4 1484.0 1007.1 1485.4C1009.8 1486.9 1012.5 1488.4 1015.1 1489.7C1017.8 1491.0 1020.4 1492.3 1023.0 1493.3C1025.6 1494.3 1027.8 1495.1 1030.9 1495.9C1033.9 1496.7 1038.0 1497.6 1041.2 1498.0C1044.4 1498.4 1046.9 1498.5 1049.9 1498.3C1052.8 1498.2 1057.3 1497.5 1058.8 1497.3" fill="none" stroke="#1c1c1c" stroke-width="0.9"/>
<path d="M848.5 1468.2C850.0 1466.3 855.0 1460.7 857.6 1457.2C860.3 1453.7 862.2 1450.1 864.4 1447.1C866.7 1444.0 868.9 1441.2 871.3 1439.0C873.6 1436.8 876.2 1435.3 878.7 1434.1C881.3 1432.9 883.7 1432.4 886.6 1431.8C889.4 1431.2 892.6 1430.6 895.7 1430.3C898.8 1430.1 902.3 1430.1 905.2 1430.1C908.0 1430.1 910.2 1430.1 912.8 1430.3C915.5 1430.6 918.3 1431.1 921.1 1431.7C923.8 1432.4 926.7 1433.2 929.4 1434.3C932.0 1435.3 934.3 1436.7 936.8 1438.0C939.3 1439.2 941.6 1440.3 944.2 1441.7C946.9 1443.1 949.8 1444.8 952.5 1446.5C955.3 1448.1 958.1 1450.1 960.8 1451.8C963.4 1453.6 965.9 1455.2 968.4 1457.0C971.0 1458.8 973.6 1460.9 976.1 1462.8C978.5 1464.7 980.7 1466.3 983.1 1468.4C985.5 1470.5 988.0 1473.2 990.5 1475.5C993.0 1477.8 995.6 1480.3 998.2 1482.3C1000.8 1484.2 1003.4 1485.7 1006.0 1487.2C1008.7 1488.8 1011.4 1490.2 1013.9 1491.5C1016.5 1492.8 1018.9 1494.0 1021.3 1495.1C1023.8 1496.1 1025.8 1496.8 1028.8 1497.7C1031.7 1498.6 1035.9 1499.8 1039.1 1500.4C1042.4 1500.9 1045.3 1501.0 1048.2 1501.0C1051.1 1501.0 1055.3 1500.4 1056.7 1500.3L4000.0 1500.3L4000.0 4000.0L-4000.0 4000.0L-4000.0 1468.2Z" fill="#ffb900"/>
<path d="M848.5 1468.2C850.0 1466.3 855.0 1460.7 857.6 1457.2C860.3 1453.7 862.2 1450.1 864.4 1447.1C866.7 1444.0 868.9 1441.2 871.3 1439.0C873.6 1436.8 876.2 1435.3 878.7 1434.1C881.3 1432.9 883.7 1432.4 886.6 1431.8C889.4 1431.2 892.6 1430.6 895.7 1430.3C898.8 1430.1 902.3 1430.1 905.2 1430.1C908.0 1430.1 910.2 1430.1 912.8 1430.3C915.5 1430.6 918.3 1431.1 921.1 1431.7C923.8 1432.4 926.7 1433.2 929.4 1434.3C932.0 1435.3 934.3 1436.7 936.8 1438.0C939.3 1439.2 941.6 1440.3 944.2 1441.7C946.9 1443.1 949.8 1444.8 952.5 1446.5C955.3 1448.1 958.1 1450.1 960.8 1451.8C963.4 1453.6 965.9 1455.2 968.4 1457.0C971.0 1458.8 973.6 1460.9 976.1 1462.8C978.5 1464.7 980.7 1466.3 983.1 1468.4C985.5 1470.5 988.0 1473.2 990.5 1475.5C993.0 1477.8 995.6 1480.3 998.2 1482.3C1000.8 1484.2 1003.4 1485.7 1006.0 1487.2C1008.7 1488.8 1011.4 1490.2 1013.9 1491.5C1016.5 1492.8 1018.9 1494.0 1021.3 1495.1C1023.8 1496.1 1025.8 1496.8 1028.8 1497.7C1031.7 1498.6 1035.9 1499.8 1039.1 1500.4C1042.4 1500.9 1045.3 1501.0 1048.2 1501.0C1051.1 1501.0 1055.3 1500.4 1056.7 1500.3" fill="none" stroke="#1c1c1c" stroke-width="0.9"/>
<path d="M849.4 1469.4C850.9 1467.5 856.0 1461.5 858.7 1458.0C861.3 1454.6 863.1 1451.4 865.3 1448.5C867.5 1445.7 869.6 1443.0 871.9 1441.1C874.2 1439.1 876.5 1437.8 878.9 1436.7C881.4 1435.7 883.9 1435.5 886.6 1434.9C889.3 1434.3 892.1 1433.6 895.0 1433.2C898.0 1432.9 901.3 1432.9 904.1 1432.9C907.0 1432.9 909.3 1433.0 912.0 1433.2C914.7 1433.5 917.5 1433.8 920.3 1434.3C923.0 1434.9 926.0 1435.6 928.5 1436.5C931.1 1437.5 933.2 1438.9 935.6 1440.1C937.9 1441.2 940.0 1442.2 942.6 1443.6C945.1 1444.9 948.1 1446.5 950.9 1448.1C953.6 1449.7 956.4 1451.4 959.1 1453.1C961.8 1454.8 964.4 1456.5 967.0 1458.2C969.6 1460.0 972.3 1461.9 974.8 1463.8C977.4 1465.7 979.8 1467.5 982.3 1469.6C984.8 1471.8 987.4 1474.4 990.0 1476.8C992.5 1479.1 994.9 1481.6 997.4 1483.6C999.9 1485.7 1002.5 1487.4 1005.0 1489.0C1007.6 1490.6 1010.2 1492.1 1012.7 1493.4C1015.1 1494.7 1017.3 1495.8 1019.7 1496.9C1022.0 1497.9 1023.8 1498.6 1026.7 1499.6C1029.6 1500.6 1033.7 1502.0 1037.1 1502.7C1040.4 1503.4 1043.6 1503.6 1046.6 1503.7C1049.5 1503.8 1053.3 1503.4 1054.6 1503.4L4000.0 1503.4L4000.0 4000.0L-4000.0 4000.0L-4000.0 1469.4Z" fill="#ff9c00"/>
<path d="M849.4 1469.4C850.9 1467.5 856.0 1461.5 858.7 1458.0C861.3 1454.6 863.1 1451.4 865.3 1448.5C867.5 1445.7 869.6 1443.0 871.9 1441.1C874.2 1439.1 876.5 1437.8 878.9 1436.7C881.4 1435.7 883.9 1435.5 886.6 1434.9C889.3 1434.3 892.1 1433.6 895.0 1433.2C898.0 1432.9 901.3 1432.9 904.1 1432.9C907.0 1432.9 909.3 1433.0 912.0 1433.2C914.7 1433.5 917.5 1433.8 920.3 1434.3C923.0 1434.9 926.0 1435.6 928.5 1436.5C931.1 1437.5 933.2 1438.9 935.6 1440.1C937.9 1441.2 940.0 1442.2 942.6 1443.6C945.1 1444.9 948.1 1446.5 950.9 1448.1C953.6 1449.7 956.4 1451.4 959.1 1453.1C961.8 1454.8 964.4 1456.5 967.0 1458.2C969.6 1460.0 972.3 1461.9 974.8 1463.8C977.4 1465.7 979.8 1467.5 982.3 1469.6C984.8 1471.8 987.4 1474.4 990.0 1476.8C992.5 1479.1 994.9 1481.6 997.4 1483.6C999.9 1485.7 1002.5 1487.4 1005.0 1489.0C1007.6 1490.6 1010.2 1492.1 1012.7 1493.4C1015.1 1494.7 1017.3 1495.8 1019.7 1496.9C1022.0 1497.9 1023.8 1498.6 1026.7 1499.6C1029.6 1500.6 1033.7 1502.0 1037.1 1502.7C1040.4 1503.4 1043.6 1503.6 1046.6 1503.7C1049.5 1503.8 1053.3 1503.4 1054.6 1503.4" fill="none" stroke="#1c1c1c" stroke-width="0.9"/>
<path d="M851.0 1471.9C852.6 1469.9 858.1 1463.1 860.7 1459.7C863.4 1456.3 864.9 1453.8 866.9 1451.4C869.0 1449.0 871.1 1446.8 873.1 1445.2C875.2 1443.7 877.1 1442.8 879.3 1442.1C881.6 1441.4 884.2 1441.6 886.6 1441.1C889.0 1440.6 891.2 1439.5 893.8 1439.0C896.4 1438.6 899.3 1438.4 902.1 1438.4C904.8 1438.4 907.6 1438.8 910.3 1439.0C913.1 1439.2 915.8 1439.1 918.6 1439.4C921.4 1439.8 924.5 1440.3 926.9 1441.1C929.3 1441.9 931.0 1443.2 933.1 1444.2C935.1 1445.2 936.9 1446.1 939.3 1447.3C941.7 1448.5 944.8 1450.0 947.5 1451.4C950.3 1452.8 953.1 1454.0 955.8 1455.6C958.6 1457.1 961.3 1459.0 964.1 1460.7C966.8 1462.4 969.6 1464.0 972.4 1465.9C975.1 1467.8 977.9 1469.9 980.6 1472.1C983.4 1474.3 986.4 1477.0 988.9 1479.3C991.4 1481.7 993.4 1484.2 995.7 1486.4C998.1 1488.6 1000.5 1490.8 1002.9 1492.6C1005.4 1494.3 1007.9 1495.8 1010.2 1497.1C1012.4 1498.4 1014.3 1499.4 1016.4 1500.4C1018.4 1501.4 1019.8 1502.1 1022.6 1503.3C1025.3 1504.5 1029.5 1506.5 1032.9 1507.4C1036.4 1508.4 1040.3 1508.8 1043.3 1509.1C1046.2 1509.4 1049.3 1509.4 1050.5 1509.5L4000.0 1509.5L4000.0 4000.0L-4000.0 4000.0L-4000.0 1471.9Z" fill="#ff7800"/>
<path d="M851.0 1471.9C852.6 1469.9 858.1 1463.1 860.7 1459.7C863.4 1456.3 864.9 1453.8 866.9 1451.4C869.0 1449.0 871.1 1446.8 873.1 1445.2C875.2 1443.7 877.1 1442.8 879.3 1442.1C881.6 1441.4 884.2 1441.6 886.6 1441.1C889.0 1440.6 891.2 1439.5 893.8 1439.0C896.4 1438.6 899.3 1438.4 902.1 1438.4C904.8 1438.4 907.6 1438.8 910.3 1439.0C913.1 1439.2 915.8 1439.1 918.6 1439.4C921.4 1439.8 924.5 1440.3 926.9 1441.1C929.3 1441.9 931.0 1443.2 933.1 1444.2C935.1 1445.2 936.9 1446.1 939.3 1447.3C941.7 1448.5 944.8 1450.0 947.5 1451.4C950.3 1452.8 953.1 1454.0 955.8 1455.6C958.6 1457.1 961.3 1459.0 964.1 1460.7C966.8 1462.4 969.6 1464.0 972.4 1465.9C975.1 1467.8 977.9 1469.9 980.6 1472.1C983.4 1474.3 986.4 1477.0 988.9 1479.3C991.4 1481.7 993.4 1484.2 995.7 1486.4C998.1 1488.6 1000.5 1490.8 1002.9 1492.6C1005.4 1494.3 1007.9 1495.8 1010.2 1497.1C1012.4 1498.4 1014.3 1499.4 1016.4 1500.4C1018.4 1501.4 1019.8 1502.1 1022.6 1503.3C1025.3 1504.5 1029.5 1506.5 1032.9 1507.4C1036.4 1508.4 1040.3 1508.8 1043.3 1509.1C1046.2 1509.4 1049.3 1509.4 1050.5 1509.5" fill="none" stroke="#1c1c1c" stroke-width="0.9"/>
<path d="M922.3 1427.9C923.7 1428.4 927.9 1429.7 930.6 1430.9C933.3 1432.0 936.0 1433.5 938.7 1434.9C941.3 1436.2 944.0 1437.4 946.7 1438.9C949.4 1440.4 952.2 1442.1 955.0 1444.0C957.7 1445.8 960.7 1448.1 963.3 1450.0C965.9 1451.8 968.1 1453.3 970.6 1455.1C973.0 1457.0 975.6 1459.3 977.9 1461.2C980.2 1463.1 982.1 1464.5 984.3 1466.5C986.6 1468.6 988.8 1471.3 991.3 1473.6C993.8 1475.8 996.7 1478.4 999.4 1480.2C1002.1 1482.0 1004.9 1483.1 1007.6 1484.6C1010.3 1486.0 1013.1 1487.4 1015.8 1488.7C1018.5 1490.0 1021.1 1491.4 1023.8 1492.4C1026.5 1493.4 1028.8 1494.2 1031.9 1494.9C1035.0 1495.7 1039.1 1496.5 1042.2 1496.8C1045.4 1497.2 1047.8 1497.2 1050.7 1497.0C1053.6 1496.8 1058.3 1496.0 1059.8 1495.7" fill="none" stroke="#55500a" stroke-width="0.9"/>
<path d="M921.5 1430.5C922.9 1430.9 927.1 1432.0 929.8 1433.1C932.4 1434.2 934.9 1435.7 937.4 1437.0C940.0 1438.2 942.4 1439.3 945.1 1440.8C947.7 1442.2 950.6 1443.9 953.3 1445.6C956.1 1447.4 959.0 1449.4 961.6 1451.2C964.2 1453.0 966.6 1454.5 969.1 1456.4C971.7 1458.2 974.3 1460.4 976.7 1462.3C979.1 1464.2 981.2 1465.7 983.5 1467.8C985.9 1469.8 988.3 1472.5 990.8 1474.8C993.3 1477.1 996.0 1479.7 998.6 1481.6C1001.2 1483.5 1003.9 1484.8 1006.6 1486.3C1009.2 1487.8 1011.9 1489.3 1014.5 1490.6C1017.1 1491.9 1019.6 1493.2 1022.2 1494.2C1024.7 1495.2 1026.8 1496.0 1029.8 1496.8C1032.8 1497.6 1037.0 1498.7 1040.2 1499.2C1043.4 1499.7 1046.1 1499.8 1049.0 1499.7C1052.0 1499.6 1056.3 1498.9 1057.7 1498.8" fill="none" stroke="#55500a" stroke-width="0.9"/>
<path d="M920.7 1433.0C922.0 1433.4 926.4 1434.4 928.9 1435.4C931.5 1436.4 933.8 1437.8 936.2 1439.0C938.6 1440.2 940.8 1441.3 943.4 1442.6C946.0 1444.0 948.9 1445.7 951.7 1447.3C954.4 1448.9 957.3 1450.7 959.9 1452.5C962.6 1454.2 965.1 1455.8 967.7 1457.6C970.3 1459.4 973.0 1461.4 975.5 1463.3C978.0 1465.2 980.2 1466.9 982.7 1469.0C985.2 1471.1 987.7 1473.8 990.2 1476.1C992.7 1478.4 995.2 1480.9 997.8 1482.9C1000.3 1484.9 1002.9 1486.5 1005.5 1488.1C1008.1 1489.7 1010.8 1491.1 1013.3 1492.5C1015.8 1493.8 1018.1 1494.9 1020.5 1496.0C1022.9 1497.0 1024.8 1497.7 1027.8 1498.7C1030.7 1499.6 1034.8 1500.9 1038.1 1501.6C1041.4 1502.2 1044.5 1502.3 1047.4 1502.4C1050.3 1502.4 1054.3 1501.9 1055.7 1501.9" fill="none" stroke="#55500a" stroke-width="0.9"/>
<path d="M866.5 1512.4C867.6 1512.4 871.7 1512.1 873.1 1512.4C874.6 1512.7 874.3 1513.6 875.2 1514.5C876.1 1515.3 876.9 1517.2 878.3 1517.6C879.7 1517.9 881.9 1516.6 883.5 1516.5C885.0 1516.4 886.4 1516.6 887.6 1517.0C888.8 1517.3 889.5 1518.7 890.7 1518.6C891.9 1518.5 893.5 1517.2 894.8 1516.5C896.2 1515.8 897.8 1515.2 899.0 1514.5C900.2 1513.8 901.2 1514.3 902.1 1512.4C902.9 1510.5 903.4 1506.7 904.1 1503.1C904.8 1499.5 906.0 1493.5 906.2 1490.7C906.4 1487.9 904.8 1488.1 905.2 1486.6C905.5 1485.0 907.1 1482.9 908.3 1481.4C909.5 1479.8 910.9 1478.5 912.4 1477.3C914.0 1476.1 915.8 1474.8 917.6 1474.2C919.3 1473.5 920.8 1473.2 922.7 1473.1C924.6 1473.0 927.2 1473.0 928.9 1473.5C930.7 1474.1 931.5 1475.4 933.1 1476.2C934.6 1477.0 936.7 1477.4 938.2 1478.3C939.8 1479.2 941.5 1480.5 942.4 1481.4C943.2 1482.3 942.5 1483.3 943.4 1483.9C944.3 1484.5 946.2 1485.0 947.5 1484.9C948.9 1484.8 950.3 1483.6 951.7 1483.5C953.1 1483.3 954.4 1483.7 955.8 1483.9C957.2 1484.0 958.6 1484.2 959.9 1484.5C961.3 1484.8 963.2 1485.7 964.1 1485.5C965.0 1485.4 964.7 1484.2 965.5 1483.5C966.4 1482.8 967.9 1481.9 969.3 1481.4C970.6 1480.9 972.4 1481.2 973.4 1480.4C974.4 1479.5 974.8 1477.2 975.5 1476.2C976.1 1475.3 976.7 1474.5 977.5 1474.6C978.4 1474.6 979.4 1475.8 980.6 1476.6C981.8 1477.4 983.4 1478.4 984.8 1479.3C986.1 1480.3 987.4 1481.2 988.9 1482.4C990.4 1483.7 992.2 1485.4 993.6 1486.8C995.1 1488.2 996.1 1489.5 997.8 1490.9C999.5 1492.3 1001.9 1493.7 1004.0 1495.0C1006.0 1496.4 1008.1 1497.8 1010.2 1499.2C1012.2 1500.6 1014.3 1502.1 1016.4 1503.3C1018.4 1504.5 1020.5 1505.5 1022.6 1506.4C1024.7 1507.3 1026.7 1508.0 1028.8 1508.5C1030.9 1509.0 1033.3 1508.8 1035.0 1509.5C1036.7 1510.2 1037.7 1511.5 1039.1 1512.6C1040.5 1513.7 1042.6 1515.7 1043.3 1516.3L4000.0 1516.3L4000.0 4000.0L-4000.0 4000.0L-4000.0 1512.4Z" fill="#ff4300"/>
<path d="M866.5 1512.4C867.6 1512.4 871.7 1512.1 873.1 1512.4C874.6 1512.7 874.3 1513.6 875.2 1514.5C876.1 1515.3 876.9 1517.2 878.3 1517.6C879.7 1517.9 881.9 1516.6 883.5 1516.5C885.0 1516.4 886.4 1516.6 887.6 1517.0C888.8 1517.3 889.5 1518.7 890.7 1518.6C891.9 1518.5 893.5 1517.2 894.8 1516.5C896.2 1515.8 897.8 1515.2 899.0 1514.5C900.2 1513.8 901.2 1514.3 902.1 1512.4C902.9 1510.5 903.4 1506.7 904.1 1503.1C904.8 1499.5 906.0 1493.5 906.2 1490.7C906.4 1487.9 904.8 1488.1 905.2 1486.6C905.5 1485.0 907.1 1482.9 908.3 1481.4C909.5 1479.8 910.9 1478.5 912.4 1477.3C914.0 1476.1 915.8 1474.8 917.6 1474.2C919.3 1473.5 920.8 1473.2 922.7 1473.1C924.6 1473.0 927.2 1473.0 928.9 1473.5C930.7 1474.1 931.5 1475.4 933.1 1476.2C934.6 1477.0 936.7 1477.4 938.2 1478.3C939.8 1479.2 941.5 1480.5 942.4 1481.4C943.2 1482.3 942.5 1483.3 943.4 1483.9C944.3 1484.5 946.2 1485.0 947.5 1484.9C948.9 1484.8 950.3 1483.6 951.7 1483.5C953.1 1483.3 954.4 1483.7 955.8 1483.9C957.2 1484.0 958.6 1484.2 959.9 1484.5C961.3 1484.8 963.2 1485.7 964.1 1485.5C965.0 1485.4 964.7 1484.2 965.5 1483.5C966.4 1482.8 967.9 1481.9 969.3 1481.4C970.6 1480.9 972.4 1481.2 973.4 1480.4C974.4 1479.5 974.8 1477.2 975.5 1476.2C976.1 1475.3 976.7 1474.5 977.5 1474.6C978.4 1474.6 979.4 1475.8 980.6 1476.6C981.8 1477.4 983.4 1478.4 984.8 1479.3C986.1 1480.3 987.4 1481.2 988.9 1482.4C990.4 1483.7 992.2 1485.4 993.6 1486.8C995.1 1488.2 996.1 1489.5 997.8 1490.9C999.5 1492.3 1001.9 1493.7 1004.0 1495.0C1006.0 1496.4 1008.1 1497.8 1010.2 1499.2C1012.2 1500.6 1014.3 1502.1 1016.4 1503.3C1018.4 1504.5 1020.5 1505.5 1022.6 1506.4C1024.7 1507.3 1026.7 1508.0 1028.8 1508.5C1030.9 1509.0 1033.3 1508.8 1035.0 1509.5C1036.7 1510.2 1037.7 1511.5 1039.1 1512.6C1040.5 1513.7 1042.6 1515.7 1043.3 1516.3" fill="none" stroke="#1c1c1c" stroke-width="0.9"/>
<path d="M879.3 1543.4C880.4 1543.2 883.8 1542.0 885.5 1542.4C887.3 1542.7 888.3 1544.4 889.7 1545.5C891.0 1546.5 892.2 1547.6 893.8 1548.6C895.3 1549.5 897.2 1551.2 899.0 1551.1C900.7 1550.9 902.6 1548.8 904.1 1547.5C905.7 1546.3 906.9 1544.8 908.3 1543.4C909.6 1542.0 910.9 1540.8 912.4 1539.3C914.0 1537.7 915.8 1535.8 917.6 1534.1C919.3 1532.4 921.0 1530.7 922.7 1528.9C924.5 1527.2 926.2 1525.3 927.9 1523.8C929.6 1522.2 931.4 1521.0 933.1 1519.6C934.8 1518.3 936.5 1516.7 938.2 1515.5C940.0 1514.3 941.5 1513.4 943.4 1512.4C945.3 1511.4 947.5 1510.4 949.6 1509.7C951.7 1509.0 953.4 1508.6 955.8 1508.3C958.2 1507.9 961.3 1507.6 964.1 1507.6C966.8 1507.6 969.6 1507.8 972.4 1508.3C975.1 1508.7 977.9 1509.4 980.6 1510.3C983.3 1511.2 986.0 1512.6 988.5 1513.6C991.0 1514.7 993.3 1515.9 995.7 1516.7C998.1 1517.6 1000.4 1518.0 1002.9 1518.8C1005.5 1519.7 1008.6 1520.9 1011.2 1521.9C1013.8 1522.9 1016.0 1524.2 1018.4 1525.0C1020.9 1525.9 1023.1 1526.2 1025.7 1527.1C1028.3 1528.0 1032.6 1529.8 1034.0 1530.4L4000.0 1530.4L4000.0 4000.0L-4000.0 4000.0L-4000.0 1543.4Z" fill="#f40000"/>
<path d="M879.3 1543.4C880.4 1543.2 883.8 1542.0 885.5 1542.4C887.3 1542.7 888.3 1544.4 889.7 1545.5C891.0 1546.5 892.2 1547.6 893.8 1548.6C895.3 1549.5 897.2 1551.2 899.0 1551.1C900.7 1550.9 902.6 1548.8 904.1 1547.5C905.7 1546.3 906.9 1544.8 908.3 1543.4C909.6 1542.0 910.9 1540.8 912.4 1539.3C914.0 1537.7 915.8 1535.8 917.6 1534.1C919.3 1532.4 921.0 1530.7 922.7 1528.9C924.5 1527.2 926.2 1525.3 927.9 1523.8C929.6 1522.2 931.4 1521.0 933.1 1519.6C934.8 1518.3 936.5 1516.7 938.2 1515.5C940.0 1514.3 941.5 1513.4 943.4 1512.4C945.3 1511.4 947.5 1510.4 949.6 1509.7C951.7 1509.0 953.4 1508.6 955.8 1508.3C958.2 1507.9 961.3 1507.6 964.1 1507.6C966.8 1507.6 969.6 1507.8 972.4 1508.3C975.1 1508.7 977.9 1509.4 980.6 1510.3C983.3 1511.2 986.0 1512.6 988.5 1513.6C991.0 1514.7 993.3 1515.9 995.7 1516.7C998.1 1517.6 1000.4 1518.0 1002.9 1518.8C1005.5 1519.7 1008.6 1520.9 1011.2 1521.9C1013.8 1522.9 1016.0 1524.2 1018.4 1525.0C1020.9 1525.9 1023.1 1526.2 1025.7 1527.1C1028.3 1528.0 1032.6 1529.8 1034.0 1530.4" fill="none" stroke="#1c1c1c" stroke-width="0.9"/>
<path d="M928.9 1554.8C929.3 1553.1 930.1 1547.5 931.0 1544.4C931.9 1541.3 932.7 1538.6 934.1 1536.2C935.5 1533.8 937.4 1531.9 939.3 1530.0C941.2 1528.1 943.2 1526.3 945.5 1524.8C947.7 1523.3 950.3 1521.9 952.7 1521.1C955.1 1520.2 957.4 1520.0 959.9 1519.6C962.5 1519.3 965.5 1518.8 968.2 1519.0C971.0 1519.3 973.7 1520.1 976.5 1521.1C979.2 1522.0 982.0 1523.5 984.8 1524.8C987.5 1526.1 990.5 1527.7 993.0 1528.9C995.6 1530.1 997.9 1530.7 1000.1 1532.0C1002.2 1533.4 1004.0 1535.1 1006.0 1537.0C1008.1 1538.9 1010.5 1541.1 1012.2 1543.2C1014.0 1545.3 1015.3 1547.5 1016.4 1549.4C1017.5 1551.3 1018.4 1553.9 1018.9 1554.8L1018.9 4000.0L928.9 4000.0Z" fill="#df0000"/>
<path d="M928.9 1554.8C929.3 1553.1 930.1 1547.5 931.0 1544.4C931.9 1541.3 932.7 1538.6 934.1 1536.2C935.5 1533.8 937.4 1531.9 939.3 1530.0C941.2 1528.1 943.2 1526.3 945.5 1524.8C947.7 1523.3 950.3 1521.9 952.7 1521.1C955.1 1520.2 957.4 1520.0 959.9 1519.6C962.5 1519.3 965.5 1518.8 968.2 1519.0C971.0 1519.3 973.7 1520.1 976.5 1521.1C979.2 1522.0 982.0 1523.5 984.8 1524.8C987.5 1526.1 990.5 1527.7 993.0 1528.9C995.6 1530.1 997.9 1530.7 1000.1 1532.0C1002.2 1533.4 1004.0 1535.1 1006.0 1537.0C1008.1 1538.9 1010.5 1541.1 1012.2 1543.2C1014.0 1545.3 1015.3 1547.5 1016.4 1549.4C1017.5 1551.3 1018.4 1553.9 1018.9 1554.8" fill="none" stroke="#1c1c1c" stroke-width="0.9"/>
<path d="M938.2 1554.8C938.6 1553.6 939.3 1549.4 940.3 1547.5C941.3 1545.7 942.9 1544.6 944.4 1543.4C946.0 1542.2 947.9 1541.5 949.6 1540.3C951.3 1539.1 953.1 1537.4 954.8 1536.2C956.5 1535.0 958.2 1533.9 959.9 1533.1C961.7 1532.3 963.4 1531.4 965.1 1531.4C966.8 1531.4 968.6 1532.6 970.3 1533.1C972.0 1533.5 973.7 1533.4 975.5 1534.1C977.2 1534.8 979.1 1536.2 980.6 1537.2C982.2 1538.2 983.5 1539.3 984.8 1540.3C986.0 1541.3 987.1 1542.0 987.9 1543.4C988.6 1544.8 989.0 1546.7 989.3 1548.6C989.6 1550.5 989.8 1553.7 989.9 1554.8L989.9 4000.0L938.2 4000.0Z" fill="#c70000"/>
<path d="M938.2 1554.8C938.6 1553.6 939.3 1549.4 940.3 1547.5C941.3 1545.7 942.9 1544.6 944.4 1543.4C946.0 1542.2 947.9 1541.5 949.6 1540.3C951.3 1539.1 953.1 1537.4 954.8 1536.2C956.5 1535.0 958.2 1533.9 959.9 1533.1C961.7 1532.3 963.4 1531.4 965.1 1531.4C966.8 1531.4 968.6 1532.6 970.3 1533.1C972.0 1533.5 973.7 1533.4 975.5 1534.1C977.2 1534.8 979.1 1536.2 980.6 1537.2C982.2 1538.2 983.5 1539.3 984.8 1540.3C986.0 1541.3 987.1 1542.0 987.9 1543.4C988.6 1544.8 989.0 1546.7 989.3 1548.6C989.6 1550.5 989.8 1553.7 989.9 1554.8" fill="none" stroke="#1c1c1c" stroke-width="0.9"/>
<path d="M962.6 1479.1C963.0 1478.7 964.2 1478.2 964.7 1478.3C965.3 1478.4 966.1 1479.4 965.9 1479.9C965.8 1480.5 964.5 1481.5 963.9 1481.6C963.3 1481.7 962.4 1481.2 962.2 1480.8C962.0 1480.4 962.2 1479.5 962.6 1479.1Z" fill="#ff7800" stroke="#1c1c1c" stroke-width="0.9"/>
</g>
<text x="940" y="1416" font-size="31">Long</text>
<text x="895.5" y="1515" font-size="31.7" style="fill:#fff">Short</text>
<clipPath id="clip9"><path d="M1242.7 1287.3L1301.7 1287.3L1305.8 1290.4L1314.1 1294.5L1322.3 1301.8L1326.5 1310.0L1334.7 1322.4L1338.9 1334.8L1355.4 1352.4L1367.8 1361.7L1371.9 1370.0L1376.1 1384.4L1384.3 1398.9L1388.5 1409.3L1396.7 1418.6L1404.0 1419.6L1405.0 1427.9L1405.0 1448.5L1400.9 1456.8L1400.9 1469.2L1396.7 1475.4L1392.6 1487.8L1384.3 1496.1L1376.1 1508.5L1367.8 1525.0L1359.5 1531.2L1351.3 1539.5L1343.0 1548.8L1332.7 1554.0L1324.4 1561.2L1211.1 1561.2L1207.6 1558.1L1203.5 1547.8L1199.3 1537.4L1195.2 1525.0L1191.1 1512.6L1186.9 1500.2L1182.8 1494.0L1178.7 1483.7L1174.5 1471.3L1170.4 1465.1L1170.4 1413.4L1174.5 1394.8L1174.5 1341.0L1178.7 1332.8L1178.7 1320.4L1182.8 1318.3L1191.1 1309.0L1201.4 1300.7L1212.8 1295.6L1223.1 1292.0L1239.6 1290.4Z"/></clipPath>
<g clip-path="url(#clip9)">
<path d="M1242.7 1287.3L1301.7 1287.3L1305.8 1290.4L1314.1 1294.5L1322.3 1301.8L1326.5 1310.0L1334.7 1322.4L1338.9 1334.8L1355.4 1352.4L1367.8 1361.7L1371.9 1370.0L1376.1 1384.4L1384.3 1398.9L1388.5 1409.3L1396.7 1418.6L1404.0 1419.6L1405.0 1427.9L1405.0 1448.5L1400.9 1456.8L1400.9 1469.2L1396.7 1475.4L1392.6 1487.8L1384.3 1496.1L1376.1 1508.5L1367.8 1525.0L1359.5 1531.2L1351.3 1539.5L1343.0 1548.8L1332.7 1554.0L1324.4 1561.2L1211.1 1561.2L1207.6 1558.1L1203.5 1547.8L1199.3 1537.4L1195.2 1525.0L1191.1 1512.6L1186.9 1500.2L1182.8 1494.0L1178.7 1483.7L1174.5 1471.3L1170.4 1465.1L1170.4 1413.4L1174.5 1394.8L1174.5 1341.0L1178.7 1332.8L1178.7 1320.4L1182.8 1318.3L1191.1 1309.0L1201.4 1300.7L1212.8 1295.6L1223.1 1292.0L1239.6 1290.4Z" fill="#f40000"/>
<path d="M1177.2 1330.3C1178.6 1331.3 1182.4 1334.8 1185.5 1336.5C1188.6 1338.2 1192.0 1339.6 1195.8 1340.6C1199.6 1341.7 1203.7 1342.9 1208.2 1342.7C1212.7 1342.5 1218.9 1339.8 1222.7 1339.6C1226.5 1339.4 1228.5 1341.8 1231.0 1341.7C1233.4 1341.5 1234.4 1339.2 1237.2 1338.6C1239.9 1337.9 1244.9 1338.7 1247.5 1337.5C1250.1 1336.3 1251.3 1333.6 1252.7 1331.3C1254.0 1329.1 1253.9 1326.3 1255.8 1324.1C1257.7 1321.8 1260.6 1319.6 1264.0 1317.9C1267.5 1316.2 1272.3 1315.1 1276.4 1313.7C1280.6 1312.4 1284.7 1310.8 1288.8 1309.6C1293.0 1308.4 1297.5 1307.5 1301.2 1306.5C1305.0 1305.5 1308.0 1304.5 1311.6 1303.4C1315.2 1302.3 1321.1 1300.5 1322.9 1299.9L4000.0 1299.9L4000.0 -4000.0L-4000.0 -4000.0L-4000.0 1330.3Z" fill="#df0000"/>
<path d="M1177.2 1330.3C1178.6 1331.3 1182.4 1334.8 1185.5 1336.5C1188.6 1338.2 1192.0 1339.6 1195.8 1340.6C1199.6 1341.7 1203.7 1342.9 1208.2 1342.7C1212.7 1342.5 1218.9 1339.8 1222.7 1339.6C1226.5 1339.4 1228.5 1341.8 1231.0 1341.7C1233.4 1341.5 1234.4 1339.2 1237.2 1338.6C1239.9 1337.9 1244.9 1338.7 1247.5 1337.5C1250.1 1336.3 1251.3 1333.6 1252.7 1331.3C1254.0 1329.1 1253.9 1326.3 1255.8 1324.1C1257.7 1321.8 1260.6 1319.6 1264.0 1317.9C1267.5 1316.2 1272.3 1315.1 1276.4 1313.7C1280.6 1312.4 1284.7 1310.8 1288.8 1309.6C1293.0 1308.4 1297.5 1307.5 1301.2 1306.5C1305.0 1305.5 1308.0 1304.5 1311.6 1303.4C1315.2 1302.3 1321.1 1300.5 1322.9 1299.9" fill="none" stroke="#1c1c1c" stroke-width="0.9"/>
<path d="M1181.3 1317.5C1183.1 1318.2 1188.8 1320.4 1191.7 1322.0C1194.6 1323.6 1196.5 1326.8 1198.9 1327.2C1201.3 1327.5 1203.2 1324.6 1206.1 1324.1C1209.1 1323.6 1213.4 1324.3 1216.5 1324.1C1219.6 1323.9 1222.5 1324.1 1224.8 1323.0C1227.0 1322.0 1228.5 1320.1 1229.9 1317.9C1231.3 1315.6 1232.7 1312.7 1233.0 1309.6C1233.4 1306.5 1232.3 1302.5 1232.0 1299.3C1231.6 1296.0 1231.1 1291.5 1231.0 1290.0L-4000.0 1290.0L-4000.0 -4000.0L1181.3 -4000.0Z" fill="#c70000"/>
<path d="M1181.3 1317.5C1183.1 1318.2 1188.8 1320.4 1191.7 1322.0C1194.6 1323.6 1196.5 1326.8 1198.9 1327.2C1201.3 1327.5 1203.2 1324.6 1206.1 1324.1C1209.1 1323.6 1213.4 1324.3 1216.5 1324.1C1219.6 1323.9 1222.5 1324.1 1224.8 1323.0C1227.0 1322.0 1228.5 1320.1 1229.9 1317.9C1231.3 1315.6 1232.7 1312.7 1233.0 1309.6C1233.4 1306.5 1232.3 1302.5 1232.0 1299.3C1231.6 1296.0 1231.1 1291.5 1231.0 1290.0" fill="none" stroke="#1c1c1c" stroke-width="0.9"/>
<path d="M1266.1 1286.3C1267.1 1287.2 1269.9 1290.9 1272.3 1292.0C1274.7 1293.2 1277.8 1293.2 1280.6 1293.1C1283.3 1292.9 1286.4 1292.1 1288.8 1291.0C1291.2 1289.9 1294.0 1287.0 1295.0 1286.3L1295.0 -4000.0L1266.1 -4000.0Z" fill="#c70000"/>
<path d="M1266.1 1286.3C1267.1 1287.2 1269.9 1290.9 1272.3 1292.0C1274.7 1293.2 1277.8 1293.2 1280.6 1293.1C1283.3 1292.9 1286.4 1292.1 1288.8 1291.0C1291.2 1289.9 1294.0 1287.0 1295.0 1286.3" fill="none" stroke="#1c1c1c" stroke-width="0.9"/>
<path d="M1339.5 1332.8C1338.4 1332.0 1335.5 1330.0 1333.3 1328.2C1331.0 1326.4 1328.6 1323.6 1326.0 1322.0C1323.5 1320.5 1320.5 1319.3 1317.8 1318.9C1315.0 1318.6 1312.6 1319.3 1309.5 1319.9C1306.4 1320.6 1302.3 1321.7 1299.2 1323.0C1296.1 1324.4 1294.0 1326.7 1290.9 1328.2C1287.8 1329.8 1284.4 1330.6 1280.6 1332.4C1276.8 1334.1 1271.6 1336.1 1268.2 1338.6C1264.7 1341.0 1262.7 1343.7 1259.9 1346.8C1257.1 1349.9 1254.7 1354.4 1251.6 1357.2C1248.5 1359.9 1242.0 1361.6 1241.3 1363.4C1240.6 1365.1 1244.4 1365.9 1247.5 1367.5C1250.6 1369.0 1255.8 1370.9 1259.9 1372.7C1264.0 1374.4 1268.2 1375.9 1272.3 1377.8C1276.4 1379.7 1280.6 1382.0 1284.7 1384.0C1288.8 1386.1 1293.0 1388.2 1297.1 1390.2C1301.2 1392.3 1305.4 1394.4 1309.5 1396.4C1313.6 1398.5 1317.8 1400.6 1321.9 1402.6C1326.0 1404.7 1330.2 1407.1 1334.3 1408.8C1338.4 1410.6 1342.6 1411.8 1346.7 1413.0C1350.9 1414.2 1355.0 1415.2 1359.1 1416.1C1363.3 1416.9 1367.4 1417.6 1371.5 1418.1C1375.7 1418.7 1379.8 1419.2 1383.9 1419.2C1388.1 1419.2 1393.2 1418.2 1396.3 1418.1C1399.4 1418.1 1401.5 1418.7 1402.5 1418.8L4000.0 1418.8L4000.0 1332.8Z" fill="#ff4300"/>
<path d="M1339.5 1332.8C1338.4 1332.0 1335.5 1330.0 1333.3 1328.2C1331.0 1326.4 1328.6 1323.6 1326.0 1322.0C1323.5 1320.5 1320.5 1319.3 1317.8 1318.9C1315.0 1318.6 1312.6 1319.3 1309.5 1319.9C1306.4 1320.6 1302.3 1321.7 1299.2 1323.0C1296.1 1324.4 1294.0 1326.7 1290.9 1328.2C1287.8 1329.8 1284.4 1330.6 1280.6 1332.4C1276.8 1334.1 1271.6 1336.1 1268.2 1338.6C1264.7 1341.0 1262.7 1343.7 1259.9 1346.8C1257.1 1349.9 1254.7 1354.4 1251.6 1357.2C1248.5 1359.9 1242.0 1361.6 1241.3 1363.4C1240.6 1365.1 1244.4 1365.9 1247.5 1367.5C1250.6 1369.0 1255.8 1370.9 1259.9 1372.7C1264.0 1374.4 1268.2 1375.9 1272.3 1377.8C1276.4 1379.7 1280.6 1382.0 1284.7 1384.0C1288.8 1386.1 1293.0 1388.2 1297.1 1390.2C1301.2 1392.3 1305.4 1394.4 1309.5 1396.4C1313.6 1398.5 1317.8 1400.6 1321.9 1402.6C1326.0 1404.7 1330.2 1407.1 1334.3 1408.8C1338.4 1410.6 1342.6 1411.8 1346.7 1413.0C1350.9 1414.2 1355.0 1415.2 1359.1 1416.1C1363.3 1416.9 1367.4 1417.6 1371.5 1418.1C1375.7 1418.7 1379.8 1419.2 1383.9 1419.2C1388.1 1419.2 1393.2 1418.2 1396.3 1418.1C1399.4 1418.1 1401.5 1418.7 1402.5 1418.8" fill="none" stroke="#1c1c1c" stroke-width="0.9"/>
<path d="M1368.4 1362.5C1366.9 1362.0 1362.4 1359.9 1359.1 1359.2C1355.8 1358.5 1351.9 1358.7 1348.8 1358.2C1345.7 1357.7 1342.9 1357.3 1340.5 1356.1C1338.1 1354.9 1336.4 1352.5 1334.3 1351.0C1332.2 1349.4 1330.5 1347.9 1328.1 1346.8C1325.7 1345.8 1322.9 1344.9 1319.8 1344.8C1316.7 1344.6 1313.0 1345.3 1309.5 1345.8C1306.1 1346.3 1302.6 1347.2 1299.2 1347.9C1295.7 1348.5 1291.9 1349.2 1288.8 1349.9C1285.7 1350.6 1282.8 1350.8 1280.6 1352.0C1278.3 1353.2 1276.1 1355.3 1275.4 1357.2C1274.7 1359.1 1275.6 1361.3 1276.4 1363.4C1277.3 1365.4 1278.5 1367.7 1280.6 1369.6C1282.6 1371.5 1285.7 1373.2 1288.8 1374.7C1291.9 1376.3 1295.4 1377.7 1299.2 1378.9C1303.0 1380.1 1307.4 1380.8 1311.6 1382.0C1315.7 1383.2 1320.2 1384.4 1324.0 1386.1C1327.8 1387.8 1330.9 1389.9 1334.3 1392.3C1337.8 1394.7 1341.2 1398.2 1344.7 1400.6C1348.1 1403.0 1351.2 1404.9 1355.0 1406.8C1358.8 1408.7 1363.3 1410.7 1367.4 1411.9C1371.5 1413.1 1375.8 1413.8 1379.8 1414.0C1383.8 1414.2 1389.3 1413.1 1391.2 1413.0L4000.0 1413.0L4000.0 1362.5Z" fill="#ff7800"/>
<path d="M1368.4 1362.5C1366.9 1362.0 1362.4 1359.9 1359.1 1359.2C1355.8 1358.5 1351.9 1358.7 1348.8 1358.2C1345.7 1357.7 1342.9 1357.3 1340.5 1356.1C1338.1 1354.9 1336.4 1352.5 1334.3 1351.0C1332.2 1349.4 1330.5 1347.9 1328.1 1346.8C1325.7 1345.8 1322.9 1344.9 1319.8 1344.8C1316.7 1344.6 1313.0 1345.3 1309.5 1345.8C1306.1 1346.3 1302.6 1347.2 1299.2 1347.9C1295.7 1348.5 1291.9 1349.2 1288.8 1349.9C1285.7 1350.6 1282.8 1350.8 1280.6 1352.0C1278.3 1353.2 1276.1 1355.3 1275.4 1357.2C1274.7 1359.1 1275.6 1361.3 1276.4 1363.4C1277.3 1365.4 1278.5 1367.7 1280.6 1369.6C1282.6 1371.5 1285.7 1373.2 1288.8 1374.7C1291.9 1376.3 1295.4 1377.7 1299.2 1378.9C1303.0 1380.1 1307.4 1380.8 1311.6 1382.0C1315.7 1383.2 1320.2 1384.4 1324.0 1386.1C1327.8 1387.8 1330.9 1389.9 1334.3 1392.3C1337.8 1394.7 1341.2 1398.2 1344.7 1400.6C1348.1 1403.0 1351.2 1404.9 1355.0 1406.8C1358.8 1408.7 1363.3 1410.7 1367.4 1411.9C1371.5 1413.1 1375.8 1413.8 1379.8 1414.0C1383.8 1414.2 1389.3 1413.1 1391.2 1413.0" fill="none" stroke="#1c1c1c" stroke-width="0.9"/>
<path d="M1374.6 1373.7C1372.7 1373.9 1366.9 1374.4 1363.3 1374.7C1359.6 1375.1 1356.0 1375.2 1352.9 1375.8C1349.8 1376.3 1346.7 1377.1 1344.7 1377.8C1342.6 1378.5 1340.5 1378.5 1340.5 1379.9C1340.5 1381.3 1342.9 1384.0 1344.7 1386.1C1346.4 1388.2 1348.4 1390.4 1350.9 1392.3C1353.3 1394.2 1356.0 1396.1 1359.1 1397.5C1362.2 1398.8 1366.4 1399.9 1369.5 1400.6C1372.6 1401.3 1375.1 1401.6 1377.7 1401.6C1380.3 1401.6 1383.8 1400.7 1385.0 1400.6L4000.0 1400.6L4000.0 1373.7Z" fill="#ff9c00"/>
<path d="M1374.6 1373.7C1372.7 1373.9 1366.9 1374.4 1363.3 1374.7C1359.6 1375.1 1356.0 1375.2 1352.9 1375.8C1349.8 1376.3 1346.7 1377.1 1344.7 1377.8C1342.6 1378.5 1340.5 1378.5 1340.5 1379.9C1340.5 1381.3 1342.9 1384.0 1344.7 1386.1C1346.4 1388.2 1348.4 1390.4 1350.9 1392.3C1353.3 1394.2 1356.0 1396.1 1359.1 1397.5C1362.2 1398.8 1366.4 1399.9 1369.5 1400.6C1372.6 1401.3 1375.1 1401.6 1377.7 1401.6C1380.3 1401.6 1383.8 1400.7 1385.0 1400.6" fill="none" stroke="#1c1c1c" stroke-width="0.9"/>
<path d="M1173.1 1347.9C1174.5 1348.4 1178.8 1349.6 1181.3 1351.0C1183.9 1352.3 1186.4 1354.4 1188.6 1356.1C1190.7 1357.8 1193.6 1359.4 1194.2 1361.3C1194.7 1363.2 1193.1 1365.4 1191.7 1367.5C1190.2 1369.6 1187.5 1372.1 1185.5 1373.7C1183.4 1375.2 1181.3 1376.1 1179.3 1376.8C1177.2 1377.5 1174.1 1377.7 1173.1 1377.8L-4000.0 1377.8L-4000.0 1347.9Z" fill="#ff4300"/>
<path d="M1173.1 1347.9C1174.5 1348.4 1178.8 1349.6 1181.3 1351.0C1183.9 1352.3 1186.4 1354.4 1188.6 1356.1C1190.7 1357.8 1193.6 1359.4 1194.2 1361.3C1194.7 1363.2 1193.1 1365.4 1191.7 1367.5C1190.2 1369.6 1187.5 1372.1 1185.5 1373.7C1183.4 1375.2 1181.3 1376.1 1179.3 1376.8C1177.2 1377.5 1174.1 1377.7 1173.1 1377.8" fill="none" stroke="#1c1c1c" stroke-width="0.9"/>
<path d="M1168.9 1447.1C1169.8 1446.2 1172.4 1444.5 1174.1 1441.9C1175.8 1439.3 1177.7 1435.4 1179.3 1431.6C1180.8 1427.8 1182.2 1423.7 1183.4 1419.2C1184.6 1414.7 1185.7 1409.5 1186.5 1404.7C1187.4 1399.9 1188.1 1394.4 1188.6 1390.2C1189.1 1386.1 1188.4 1382.8 1189.6 1379.9C1190.8 1377.0 1193.4 1374.4 1195.8 1372.7C1198.2 1370.9 1201.3 1369.7 1204.1 1369.6C1206.8 1369.4 1209.3 1370.2 1212.4 1371.6C1215.5 1373.0 1219.6 1375.6 1222.7 1377.8C1225.8 1380.1 1227.5 1383.5 1231.0 1385.1C1234.4 1386.6 1239.2 1387.0 1243.4 1387.1C1247.5 1387.3 1251.6 1385.9 1255.8 1386.1C1259.9 1386.3 1264.0 1387.1 1268.2 1388.2C1272.3 1389.2 1276.4 1390.7 1280.6 1392.3C1284.7 1393.9 1288.8 1395.7 1293.0 1397.5C1297.1 1399.2 1301.2 1400.7 1305.4 1402.6C1309.5 1404.5 1313.6 1406.8 1317.8 1408.8C1321.9 1410.9 1326.0 1413.3 1330.2 1415.0C1334.3 1416.8 1338.4 1417.8 1342.6 1419.2C1346.7 1420.6 1350.9 1422.1 1355.0 1423.3C1359.1 1424.5 1363.3 1425.5 1367.4 1426.4C1371.5 1427.3 1375.7 1427.8 1379.8 1428.5C1383.9 1429.2 1387.7 1430.0 1392.2 1430.5C1396.7 1431.1 1404.3 1431.7 1406.7 1432.0L4000.0 1432.0L4000.0 4000.0L-4000.0 4000.0L-4000.0 1447.1Z" fill="#df0000"/>
<path d="M1168.9 1447.1C1169.8 1446.2 1172.4 1444.5 1174.1 1441.9C1175.8 1439.3 1177.7 1435.4 1179.3 1431.6C1180.8 1427.8 1182.2 1423.7 1183.4 1419.2C1184.6 1414.7 1185.7 1409.5 1186.5 1404.7C1187.4 1399.9 1188.1 1394.4 1188.6 1390.2C1189.1 1386.1 1188.4 1382.8 1189.6 1379.9C1190.8 1377.0 1193.4 1374.4 1195.8 1372.7C1198.2 1370.9 1201.3 1369.7 1204.1 1369.6C1206.8 1369.4 1209.3 1370.2 1212.4 1371.6C1215.5 1373.0 1219.6 1375.6 1222.7 1377.8C1225.8 1380.1 1227.5 1383.5 1231.0 1385.1C1234.4 1386.6 1239.2 1387.0 1243.4 1387.1C1247.5 1387.3 1251.6 1385.9 1255.8 1386.1C1259.9 1386.3 1264.0 1387.1 1268.2 1388.2C1272.3 1389.2 1276.4 1390.7 1280.6 1392.3C1284.7 1393.9 1288.8 1395.7 1293.0 1397.5C1297.1 1399.2 1301.2 1400.7 1305.4 1402.6C1309.5 1404.5 1313.6 1406.8 1317.8 1408.8C1321.9 1410.9 1326.0 1413.3 1330.2 1415.0C1334.3 1416.8 1338.4 1417.8 1342.6 1419.2C1346.7 1420.6 1350.9 1422.1 1355.0 1423.3C1359.1 1424.5 1363.3 1425.5 1367.4 1426.4C1371.5 1427.3 1375.7 1427.8 1379.8 1428.5C1383.9 1429.2 1387.7 1430.0 1392.2 1430.5C1396.7 1431.1 1404.3 1431.7 1406.7 1432.0" fill="none" stroke="#1c1c1c" stroke-width="0.9"/>
<path d="M1168.9 1454.3C1170.7 1453.6 1176.2 1452.2 1179.3 1450.2C1182.4 1448.1 1184.8 1445.0 1187.5 1441.9C1190.3 1438.8 1193.4 1435.0 1195.8 1431.6C1198.2 1428.1 1199.9 1424.7 1202.0 1421.2C1204.1 1417.8 1205.8 1413.7 1208.2 1410.9C1210.6 1408.1 1213.4 1406.3 1216.5 1404.7C1219.6 1403.2 1223.4 1402.3 1226.8 1401.6C1230.3 1400.9 1233.7 1401.1 1237.2 1400.6C1240.6 1400.1 1244.4 1399.0 1247.5 1398.5C1250.6 1398.0 1252.3 1397.1 1255.8 1397.5C1259.2 1397.8 1263.3 1399.0 1268.2 1400.6C1273.0 1402.1 1278.5 1404.5 1284.7 1406.8C1290.9 1409.0 1298.5 1411.9 1305.4 1414.0C1312.3 1416.1 1320.5 1418.0 1326.0 1419.6C1331.6 1421.1 1334.3 1422.0 1338.4 1423.3C1342.6 1424.6 1346.7 1426.1 1350.9 1427.4C1355.0 1428.8 1359.1 1430.4 1363.3 1431.6C1367.4 1432.8 1371.5 1433.8 1375.7 1434.7C1379.8 1435.5 1382.9 1436.2 1388.1 1436.7C1393.2 1437.3 1403.6 1438.0 1406.7 1438.2L4000.0 1438.2L4000.0 4000.0L-4000.0 4000.0L-4000.0 1454.3Z" fill="#c70000"/>
<path d="M1168.9 1454.3C1170.7 1453.6 1176.2 1452.2 1179.3 1450.2C1182.4 1448.1 1184.8 1445.0 1187.5 1441.9C1190.3 1438.8 1193.4 1435.0 1195.8 1431.6C1198.2 1428.1 1199.9 1424.7 1202.0 1421.2C1204.1 1417.8 1205.8 1413.7 1208.2 1410.9C1210.6 1408.1 1213.4 1406.3 1216.5 1404.7C1219.6 1403.2 1223.4 1402.3 1226.8 1401.6C1230.3 1400.9 1233.7 1401.1 1237.2 1400.6C1240.6 1400.1 1244.4 1399.0 1247.5 1398.5C1250.6 1398.0 1252.3 1397.1 1255.8 1397.5C1259.2 1397.8 1263.3 1399.0 1268.2 1400.6C1273.0 1402.1 1278.5 1404.5 1284.7 1406.8C1290.9 1409.0 1298.5 1411.9 1305.4 1414.0C1312.3 1416.1 1320.5 1418.0 1326.0 1419.6C1331.6 1421.1 1334.3 1422.0 1338.4 1423.3C1342.6 1424.6 1346.7 1426.1 1350.9 1427.4C1355.0 1428.8 1359.1 1430.4 1363.3 1431.6C1367.4 1432.8 1371.5 1433.8 1375.7 1434.7C1379.8 1435.5 1382.9 1436.2 1388.1 1436.7C1393.2 1437.3 1403.6 1438.0 1406.7 1438.2" fill="none" stroke="#1c1c1c" stroke-width="0.9"/>
<path d="M1170.0 1466.7C1171.9 1465.7 1177.7 1462.9 1181.3 1460.5C1185.0 1458.1 1188.2 1455.0 1191.7 1452.2C1195.1 1449.5 1198.9 1446.4 1202.0 1444.0C1205.1 1441.6 1207.5 1439.8 1210.3 1437.8C1213.0 1435.7 1215.8 1433.6 1218.6 1431.6C1221.3 1429.5 1223.7 1426.9 1226.8 1425.4C1229.9 1423.8 1233.4 1422.8 1237.2 1422.3C1240.9 1421.8 1245.1 1421.9 1249.6 1422.3C1254.0 1422.6 1259.2 1423.3 1264.0 1424.3C1268.9 1425.4 1273.7 1427.3 1278.5 1428.5C1283.3 1429.7 1288.5 1430.9 1293.0 1431.6C1297.5 1432.3 1300.9 1432.6 1305.4 1432.6C1309.9 1432.6 1315.0 1431.9 1319.8 1431.6C1324.7 1431.2 1329.8 1430.4 1334.3 1430.5C1338.8 1430.7 1342.6 1431.6 1346.7 1432.6C1350.9 1433.6 1355.0 1435.5 1359.1 1436.7C1363.3 1438.0 1367.0 1438.8 1371.5 1439.8C1376.0 1440.9 1380.1 1442.1 1386.0 1442.9C1391.9 1443.8 1403.2 1444.7 1406.7 1445.0L4000.0 1445.0L4000.0 4000.0L-4000.0 4000.0L-4000.0 1466.7Z" fill="#ad0000"/>
<path d="M1170.0 1466.7C1171.9 1465.7 1177.7 1462.9 1181.3 1460.5C1185.0 1458.1 1188.2 1455.0 1191.7 1452.2C1195.1 1449.5 1198.9 1446.4 1202.0 1444.0C1205.1 1441.6 1207.5 1439.8 1210.3 1437.8C1213.0 1435.7 1215.8 1433.6 1218.6 1431.6C1221.3 1429.5 1223.7 1426.9 1226.8 1425.4C1229.9 1423.8 1233.4 1422.8 1237.2 1422.3C1240.9 1421.8 1245.1 1421.9 1249.6 1422.3C1254.0 1422.6 1259.2 1423.3 1264.0 1424.3C1268.9 1425.4 1273.7 1427.3 1278.5 1428.5C1283.3 1429.7 1288.5 1430.9 1293.0 1431.6C1297.5 1432.3 1300.9 1432.6 1305.4 1432.6C1309.9 1432.6 1315.0 1431.9 1319.8 1431.6C1324.7 1431.2 1329.8 1430.4 1334.3 1430.5C1338.8 1430.7 1342.6 1431.6 1346.7 1432.6C1350.9 1433.6 1355.0 1435.5 1359.1 1436.7C1363.3 1438.0 1367.0 1438.8 1371.5 1439.8C1376.0 1440.9 1380.1 1442.1 1386.0 1442.9C1391.9 1443.8 1403.2 1444.7 1406.7 1445.0" fill="none" stroke="#1c1c1c" stroke-width="0.9"/>
<path d="M1406.7 1448.5C1404.9 1448.6 1400.1 1449.0 1396.3 1449.1C1392.5 1449.3 1388.1 1448.8 1383.9 1449.1C1379.8 1449.5 1375.7 1450.2 1371.5 1451.2C1367.4 1452.2 1363.3 1454.1 1359.1 1455.3C1355.0 1456.6 1350.9 1457.8 1346.7 1458.4C1342.6 1459.1 1338.4 1459.5 1334.3 1459.5C1330.2 1459.5 1326.0 1458.8 1321.9 1458.4C1317.8 1458.1 1313.6 1457.9 1309.5 1457.4C1305.4 1456.9 1301.2 1456.4 1297.1 1455.3C1293.0 1454.3 1288.5 1452.6 1284.7 1451.2C1280.9 1449.8 1277.8 1448.3 1274.4 1447.1C1270.9 1445.9 1267.3 1444.5 1264.0 1444.0C1260.8 1443.5 1256.1 1443.1 1254.7 1444.0C1253.4 1444.8 1254.6 1446.7 1255.8 1449.1C1257.0 1451.6 1259.2 1455.2 1262.0 1458.4C1264.7 1461.7 1268.5 1465.2 1272.3 1468.8C1276.1 1472.4 1280.6 1476.5 1284.7 1480.2C1288.8 1483.8 1293.0 1487.1 1297.1 1490.5C1301.2 1493.8 1305.4 1497.3 1309.5 1500.2C1313.6 1503.1 1317.8 1505.8 1321.9 1508.1C1326.0 1510.3 1330.2 1512.1 1334.3 1513.9C1338.4 1515.6 1342.6 1517.0 1346.7 1518.4C1350.9 1519.8 1355.0 1520.9 1359.1 1522.1C1363.3 1523.3 1369.5 1525.0 1371.5 1525.6L4000.0 1525.6L4000.0 1448.5Z" fill="#8d0000"/>
<path d="M1406.7 1448.5C1404.9 1448.6 1400.1 1449.0 1396.3 1449.1C1392.5 1449.3 1388.1 1448.8 1383.9 1449.1C1379.8 1449.5 1375.7 1450.2 1371.5 1451.2C1367.4 1452.2 1363.3 1454.1 1359.1 1455.3C1355.0 1456.6 1350.9 1457.8 1346.7 1458.4C1342.6 1459.1 1338.4 1459.5 1334.3 1459.5C1330.2 1459.5 1326.0 1458.8 1321.9 1458.4C1317.8 1458.1 1313.6 1457.9 1309.5 1457.4C1305.4 1456.9 1301.2 1456.4 1297.1 1455.3C1293.0 1454.3 1288.5 1452.6 1284.7 1451.2C1280.9 1449.8 1277.8 1448.3 1274.4 1447.1C1270.9 1445.9 1267.3 1444.5 1264.0 1444.0C1260.8 1443.5 1256.1 1443.1 1254.7 1444.0C1253.4 1444.8 1254.6 1446.7 1255.8 1449.1C1257.0 1451.6 1259.2 1455.2 1262.0 1458.4C1264.7 1461.7 1268.5 1465.2 1272.3 1468.8C1276.1 1472.4 1280.6 1476.5 1284.7 1480.2C1288.8 1483.8 1293.0 1487.1 1297.1 1490.5C1301.2 1493.8 1305.4 1497.3 1309.5 1500.2C1313.6 1503.1 1317.8 1505.8 1321.9 1508.1C1326.0 1510.3 1330.2 1512.1 1334.3 1513.9C1338.4 1515.6 1342.6 1517.0 1346.7 1518.4C1350.9 1519.8 1355.0 1520.9 1359.1 1522.1C1363.3 1523.3 1369.5 1525.0 1371.5 1525.6" fill="none" stroke="#1c1c1c" stroke-width="0.9"/>
<path d="M1402.5 1469.8C1400.8 1469.3 1395.0 1467.8 1392.2 1466.7C1389.4 1465.7 1388.1 1463.6 1386.0 1463.6C1383.9 1463.6 1381.9 1465.5 1379.8 1466.7C1377.7 1467.9 1375.7 1469.5 1373.6 1470.9C1371.5 1472.2 1368.9 1473.3 1367.4 1475.0C1365.8 1476.7 1365.0 1478.8 1364.3 1481.2C1363.6 1483.6 1364.1 1487.0 1363.3 1489.5C1362.4 1491.9 1361.2 1493.9 1359.1 1495.7C1357.1 1497.4 1353.6 1498.6 1350.9 1499.8C1348.1 1501.0 1345.0 1501.9 1342.6 1502.9C1340.2 1503.9 1337.1 1504.8 1336.4 1506.0C1335.7 1507.2 1336.7 1508.8 1338.4 1510.1C1340.2 1511.5 1344.0 1513.1 1346.7 1514.3C1349.5 1515.5 1352.2 1516.7 1355.0 1517.4C1357.7 1518.1 1360.5 1518.4 1363.3 1518.4C1366.0 1518.4 1370.1 1517.5 1371.5 1517.4L4000.0 1517.4L4000.0 1469.8Z" fill="#640000"/>
<path d="M1402.5 1469.8C1400.8 1469.3 1395.0 1467.8 1392.2 1466.7C1389.4 1465.7 1388.1 1463.6 1386.0 1463.6C1383.9 1463.6 1381.9 1465.5 1379.8 1466.7C1377.7 1467.9 1375.7 1469.5 1373.6 1470.9C1371.5 1472.2 1368.9 1473.3 1367.4 1475.0C1365.8 1476.7 1365.0 1478.8 1364.3 1481.2C1363.6 1483.6 1364.1 1487.0 1363.3 1489.5C1362.4 1491.9 1361.2 1493.9 1359.1 1495.7C1357.1 1497.4 1353.6 1498.6 1350.9 1499.8C1348.1 1501.0 1345.0 1501.9 1342.6 1502.9C1340.2 1503.9 1337.1 1504.8 1336.4 1506.0C1335.7 1507.2 1336.7 1508.8 1338.4 1510.1C1340.2 1511.5 1344.0 1513.1 1346.7 1514.3C1349.5 1515.5 1352.2 1516.7 1355.0 1517.4C1357.7 1518.1 1360.5 1518.4 1363.3 1518.4C1366.0 1518.4 1370.1 1517.5 1371.5 1517.4" fill="none" stroke="#1c1c1c" stroke-width="0.9"/>
<path d="M1297.1 1478.1C1297.8 1477.6 1303.0 1479.1 1305.4 1480.2C1307.8 1481.2 1309.7 1482.6 1311.6 1484.3C1313.5 1486.0 1315.5 1488.6 1316.7 1490.5C1318.0 1492.4 1319.3 1495.3 1318.8 1495.7C1318.3 1496.0 1315.5 1493.9 1313.6 1492.6C1311.7 1491.2 1309.5 1488.9 1307.4 1487.4C1305.4 1485.8 1303.0 1484.8 1301.2 1483.3C1299.5 1481.7 1296.4 1478.6 1297.1 1478.1Z" fill="#640000" stroke="#1c1c1c" stroke-width="0.9"/>
<path d="M1173.1 1470.9C1174.5 1471.2 1179.1 1471.5 1181.3 1472.9C1183.6 1474.3 1185.3 1476.7 1186.5 1479.1C1187.7 1481.5 1188.4 1484.6 1188.6 1487.4C1188.8 1490.1 1188.2 1493.4 1187.5 1495.7C1186.9 1497.9 1185.0 1500.0 1184.4 1500.8L-4000.0 1500.8L-4000.0 1470.9Z" fill="#8d0000"/>
<path d="M1173.1 1470.9C1174.5 1471.2 1179.1 1471.5 1181.3 1472.9C1183.6 1474.3 1185.3 1476.7 1186.5 1479.1C1187.7 1481.5 1188.4 1484.6 1188.6 1487.4C1188.8 1490.1 1188.2 1493.4 1187.5 1495.7C1186.9 1497.9 1185.0 1500.0 1184.4 1500.8" fill="none" stroke="#1c1c1c" stroke-width="0.9"/>
<path d="M1183.4 1498.8C1184.3 1496.5 1186.9 1489.6 1188.6 1485.3C1190.3 1481.0 1191.9 1476.7 1193.7 1472.9C1195.6 1469.1 1197.5 1465.7 1199.9 1462.6C1202.4 1459.5 1205.1 1456.6 1208.2 1454.3C1211.3 1452.1 1215.1 1450.2 1218.6 1449.1C1222.0 1448.1 1225.4 1447.9 1228.9 1448.1C1232.3 1448.3 1235.8 1448.8 1239.2 1450.2C1242.7 1451.6 1246.1 1454.0 1249.6 1456.4C1253.0 1458.8 1256.1 1461.6 1259.9 1464.7C1263.7 1467.8 1268.2 1471.5 1272.3 1475.0C1276.4 1478.4 1280.6 1482.0 1284.7 1485.3C1288.8 1488.6 1293.0 1491.5 1297.1 1494.6C1301.2 1497.7 1305.4 1501.2 1309.5 1503.9C1313.6 1506.7 1317.8 1509.1 1321.9 1511.2C1326.0 1513.2 1330.2 1515.0 1334.3 1516.3C1338.4 1517.7 1342.6 1518.5 1346.7 1519.4C1350.9 1520.4 1355.3 1521.4 1359.1 1522.1C1362.9 1522.8 1367.7 1523.5 1369.5 1523.8L4000.0 1523.8L4000.0 4000.0L-4000.0 4000.0L-4000.0 1498.8Z" fill="#ad0000"/>
<path d="M1183.4 1498.8C1184.3 1496.5 1186.9 1489.6 1188.6 1485.3C1190.3 1481.0 1191.9 1476.7 1193.7 1472.9C1195.6 1469.1 1197.5 1465.7 1199.9 1462.6C1202.4 1459.5 1205.1 1456.6 1208.2 1454.3C1211.3 1452.1 1215.1 1450.2 1218.6 1449.1C1222.0 1448.1 1225.4 1447.9 1228.9 1448.1C1232.3 1448.3 1235.8 1448.8 1239.2 1450.2C1242.7 1451.6 1246.1 1454.0 1249.6 1456.4C1253.0 1458.8 1256.1 1461.6 1259.9 1464.7C1263.7 1467.8 1268.2 1471.5 1272.3 1475.0C1276.4 1478.4 1280.6 1482.0 1284.7 1485.3C1288.8 1488.6 1293.0 1491.5 1297.1 1494.6C1301.2 1497.7 1305.4 1501.2 1309.5 1503.9C1313.6 1506.7 1317.8 1509.1 1321.9 1511.2C1326.0 1513.2 1330.2 1515.0 1334.3 1516.3C1338.4 1517.7 1342.6 1518.5 1346.7 1519.4C1350.9 1520.4 1355.3 1521.4 1359.1 1522.1C1362.9 1522.8 1367.7 1523.5 1369.5 1523.8" fill="none" stroke="#1c1c1c" stroke-width="0.9"/>
<path d="M1184.3 1501.3C1185.2 1499.1 1187.8 1492.3 1189.5 1487.9C1191.2 1483.6 1192.8 1479.1 1194.7 1475.2C1196.5 1471.4 1198.4 1468.0 1200.7 1464.9C1203.1 1461.9 1205.7 1459.1 1208.7 1456.9C1211.7 1454.7 1215.4 1452.9 1218.8 1451.9C1222.2 1450.8 1225.7 1450.5 1229.1 1450.7C1232.6 1450.8 1236.0 1451.4 1239.5 1452.8C1242.9 1454.1 1246.3 1456.6 1249.8 1459.0C1253.3 1461.4 1256.6 1464.2 1260.4 1467.2C1264.2 1470.3 1268.7 1474.0 1272.8 1477.4C1277.0 1480.8 1281.1 1484.4 1285.2 1487.6C1289.4 1490.9 1293.5 1493.8 1297.6 1496.8C1301.8 1499.9 1305.9 1503.2 1310.0 1505.9C1314.2 1508.5 1318.3 1510.8 1322.4 1512.8C1326.6 1514.8 1330.7 1516.5 1334.8 1517.9C1339.0 1519.2 1343.2 1520.0 1347.2 1520.9C1351.2 1521.8 1355.3 1522.6 1358.9 1523.3C1362.4 1523.9 1367.0 1524.6 1368.7 1524.8L4000.0 1524.8L4000.0 4000.0L-4000.0 4000.0L-4000.0 1501.3Z" fill="#c70000"/>
<path d="M1184.3 1501.3C1185.2 1499.1 1187.8 1492.3 1189.5 1487.9C1191.2 1483.6 1192.8 1479.1 1194.7 1475.2C1196.5 1471.4 1198.4 1468.0 1200.7 1464.9C1203.1 1461.9 1205.7 1459.1 1208.7 1456.9C1211.7 1454.7 1215.4 1452.9 1218.8 1451.9C1222.2 1450.8 1225.7 1450.5 1229.1 1450.7C1232.6 1450.8 1236.0 1451.4 1239.5 1452.8C1242.9 1454.1 1246.3 1456.6 1249.8 1459.0C1253.3 1461.4 1256.6 1464.2 1260.4 1467.2C1264.2 1470.3 1268.7 1474.0 1272.8 1477.4C1277.0 1480.8 1281.1 1484.4 1285.2 1487.6C1289.4 1490.9 1293.5 1493.8 1297.6 1496.8C1301.8 1499.9 1305.9 1503.2 1310.0 1505.9C1314.2 1508.5 1318.3 1510.8 1322.4 1512.8C1326.6 1514.8 1330.7 1516.5 1334.8 1517.9C1339.0 1519.2 1343.2 1520.0 1347.2 1520.9C1351.2 1521.8 1355.3 1522.6 1358.9 1523.3C1362.4 1523.9 1367.0 1524.6 1368.7 1524.8" fill="none" stroke="#1c1c1c" stroke-width="0.9"/>
<path d="M1185.2 1503.9C1186.1 1501.7 1188.7 1494.9 1190.4 1490.5C1192.1 1486.1 1193.7 1481.4 1195.6 1477.6C1197.4 1473.7 1199.2 1470.2 1201.5 1467.2C1203.8 1464.2 1206.3 1461.6 1209.3 1459.5C1212.2 1457.4 1215.7 1455.6 1219.1 1454.6C1222.4 1453.5 1226.0 1453.2 1229.4 1453.3C1232.9 1453.4 1236.3 1454.0 1239.7 1455.3C1243.2 1456.7 1246.5 1459.1 1250.1 1461.6C1253.6 1464.0 1257.1 1466.8 1260.9 1469.8C1264.8 1472.9 1269.2 1476.5 1273.3 1479.9C1277.5 1483.3 1281.6 1486.8 1285.7 1490.0C1289.9 1493.2 1294.0 1496.0 1298.1 1499.0C1302.3 1502.0 1306.4 1505.2 1310.5 1507.8C1314.7 1510.4 1318.8 1512.6 1322.9 1514.5C1327.1 1516.5 1331.2 1518.1 1335.3 1519.4C1339.5 1520.7 1343.9 1521.4 1347.8 1522.3C1351.6 1523.1 1355.2 1523.9 1358.6 1524.4C1362.0 1525.0 1366.4 1525.6 1367.9 1525.8L4000.0 1525.8L4000.0 4000.0L-4000.0 4000.0L-4000.0 1503.9Z" fill="#df0000"/>
<path d="M1185.2 1503.9C1186.1 1501.7 1188.7 1494.9 1190.4 1490.5C1192.1 1486.1 1193.7 1481.4 1195.6 1477.6C1197.4 1473.7 1199.2 1470.2 1201.5 1467.2C1203.8 1464.2 1206.3 1461.6 1209.3 1459.5C1212.2 1457.4 1215.7 1455.6 1219.1 1454.6C1222.4 1453.5 1226.0 1453.2 1229.4 1453.3C1232.9 1453.4 1236.3 1454.0 1239.7 1455.3C1243.2 1456.7 1246.5 1459.1 1250.1 1461.6C1253.6 1464.0 1257.1 1466.8 1260.9 1469.8C1264.8 1472.9 1269.2 1476.5 1273.3 1479.9C1277.5 1483.3 1281.6 1486.8 1285.7 1490.0C1289.9 1493.2 1294.0 1496.0 1298.1 1499.0C1302.3 1502.0 1306.4 1505.2 1310.5 1507.8C1314.7 1510.4 1318.8 1512.6 1322.9 1514.5C1327.1 1516.5 1331.2 1518.1 1335.3 1519.4C1339.5 1520.7 1343.9 1521.4 1347.8 1522.3C1351.6 1523.1 1355.2 1523.9 1358.6 1524.4C1362.0 1525.0 1366.4 1525.6 1367.9 1525.8" fill="none" stroke="#1c1c1c" stroke-width="0.9"/>
<path d="M1186.1 1506.5C1187.0 1504.3 1189.6 1497.5 1191.3 1493.1C1193.0 1488.6 1194.6 1483.8 1196.5 1479.9C1198.3 1476.0 1200.1 1472.5 1202.3 1469.6C1204.5 1466.6 1206.9 1464.1 1209.8 1462.1C1212.6 1460.0 1216.0 1458.3 1219.3 1457.3C1222.6 1456.3 1226.2 1455.8 1229.7 1455.9C1233.1 1456.0 1236.6 1456.6 1240.0 1457.9C1243.4 1459.3 1246.8 1461.7 1250.3 1464.1C1253.9 1466.5 1257.5 1469.4 1261.4 1472.4C1265.4 1475.4 1269.7 1479.0 1273.9 1482.4C1278.0 1485.7 1282.1 1489.2 1286.3 1492.3C1290.4 1495.4 1294.5 1498.3 1298.7 1501.2C1302.8 1504.1 1306.9 1507.2 1311.1 1509.7C1315.2 1512.2 1319.3 1514.3 1323.5 1516.2C1327.6 1518.1 1331.7 1519.7 1335.9 1521.0C1340.0 1522.2 1344.5 1522.9 1348.3 1523.7C1352.0 1524.5 1355.2 1525.1 1358.3 1525.6C1361.5 1526.1 1365.7 1526.7 1367.1 1526.9L4000.0 1526.9L4000.0 4000.0L-4000.0 4000.0L-4000.0 1506.5Z" fill="#f40000"/>
<path d="M1186.1 1506.5C1187.0 1504.3 1189.6 1497.5 1191.3 1493.1C1193.0 1488.6 1194.6 1483.8 1196.5 1479.9C1198.3 1476.0 1200.1 1472.5 1202.3 1469.6C1204.5 1466.6 1206.9 1464.1 1209.8 1462.1C1212.6 1460.0 1216.0 1458.3 1219.3 1457.3C1222.6 1456.3 1226.2 1455.8 1229.7 1455.9C1233.1 1456.0 1236.6 1456.6 1240.0 1457.9C1243.4 1459.3 1246.8 1461.7 1250.3 1464.1C1253.9 1466.5 1257.5 1469.4 1261.4 1472.4C1265.4 1475.4 1269.7 1479.0 1273.9 1482.4C1278.0 1485.7 1282.1 1489.2 1286.3 1492.3C1290.4 1495.4 1294.5 1498.3 1298.7 1501.2C1302.8 1504.1 1306.9 1507.2 1311.1 1509.7C1315.2 1512.2 1319.3 1514.3 1323.5 1516.2C1327.6 1518.1 1331.7 1519.7 1335.9 1521.0C1340.0 1522.2 1344.5 1522.9 1348.3 1523.7C1352.0 1524.5 1355.2 1525.1 1358.3 1525.6C1361.5 1526.1 1365.7 1526.7 1367.1 1526.9" fill="none" stroke="#1c1c1c" stroke-width="0.9"/>
<path d="M1187.0 1509.1C1187.9 1506.9 1190.5 1500.1 1192.2 1495.7C1193.9 1491.2 1195.6 1486.2 1197.4 1482.2C1199.2 1478.3 1200.9 1474.8 1203.0 1471.9C1205.2 1469.0 1207.5 1466.6 1210.3 1464.7C1213.0 1462.7 1216.3 1461.0 1219.6 1460.0C1222.9 1459.0 1226.5 1458.4 1229.9 1458.4C1233.4 1458.5 1236.8 1459.1 1240.3 1460.5C1243.7 1461.9 1247.0 1464.3 1250.6 1466.7C1254.2 1469.1 1258.0 1472.0 1262.0 1475.0C1265.9 1478.0 1270.2 1481.5 1274.4 1484.8C1278.5 1488.1 1282.6 1491.5 1286.8 1494.6C1290.9 1497.7 1295.0 1500.6 1299.2 1503.4C1303.3 1506.3 1307.4 1509.3 1311.6 1511.7C1315.7 1514.1 1319.8 1516.1 1324.0 1517.9C1328.1 1519.7 1332.2 1521.3 1336.4 1522.5C1340.5 1523.7 1345.2 1524.4 1348.8 1525.1C1352.4 1525.8 1355.2 1526.3 1358.1 1526.8C1361.0 1527.2 1365.0 1527.7 1366.4 1527.9L4000.0 1527.9L4000.0 4000.0L-4000.0 4000.0L-4000.0 1509.1Z" fill="#ff4300"/>
<path d="M1187.0 1509.1C1187.9 1506.9 1190.5 1500.1 1192.2 1495.7C1193.9 1491.2 1195.6 1486.2 1197.4 1482.2C1199.2 1478.3 1200.9 1474.8 1203.0 1471.9C1205.2 1469.0 1207.5 1466.6 1210.3 1464.7C1213.0 1462.7 1216.3 1461.0 1219.6 1460.0C1222.9 1459.0 1226.5 1458.4 1229.9 1458.4C1233.4 1458.5 1236.8 1459.1 1240.3 1460.5C1243.7 1461.9 1247.0 1464.3 1250.6 1466.7C1254.2 1469.1 1258.0 1472.0 1262.0 1475.0C1265.9 1478.0 1270.2 1481.5 1274.4 1484.8C1278.5 1488.1 1282.6 1491.5 1286.8 1494.6C1290.9 1497.7 1295.0 1500.6 1299.2 1503.4C1303.3 1506.3 1307.4 1509.3 1311.6 1511.7C1315.7 1514.1 1319.8 1516.1 1324.0 1517.9C1328.1 1519.7 1332.2 1521.3 1336.4 1522.5C1340.5 1523.7 1345.2 1524.4 1348.8 1525.1C1352.4 1525.8 1355.2 1526.3 1358.1 1526.8C1361.0 1527.2 1365.0 1527.7 1366.4 1527.9" fill="none" stroke="#1c1c1c" stroke-width="0.9"/>
<path d="M1187.9 1511.7C1188.8 1509.4 1191.4 1502.8 1193.1 1498.2C1194.8 1493.7 1196.5 1488.6 1198.3 1484.5C1200.1 1480.5 1201.7 1477.1 1203.8 1474.2C1205.9 1471.3 1208.1 1469.2 1210.8 1467.2C1213.5 1465.3 1216.6 1463.7 1219.8 1462.7C1223.1 1461.7 1226.7 1461.0 1230.2 1461.0C1233.6 1461.1 1237.1 1461.7 1240.5 1463.1C1244.0 1464.5 1247.2 1466.9 1250.9 1469.3C1254.5 1471.7 1258.5 1474.6 1262.5 1477.6C1266.5 1480.6 1270.7 1484.0 1274.9 1487.3C1279.0 1490.5 1283.2 1493.9 1287.3 1497.0C1291.4 1500.0 1295.6 1502.8 1299.7 1505.6C1303.8 1508.4 1308.0 1511.3 1312.1 1513.6C1316.2 1515.9 1320.4 1517.8 1324.5 1519.6C1328.6 1521.3 1332.8 1522.9 1336.9 1524.1C1341.0 1525.2 1345.8 1525.9 1349.3 1526.5C1352.8 1527.2 1355.1 1527.5 1357.8 1527.9C1360.5 1528.3 1364.3 1528.8 1365.6 1528.9L4000.0 1528.9L4000.0 4000.0L-4000.0 4000.0L-4000.0 1511.7Z" fill="#ff7800"/>
<path d="M1187.9 1511.7C1188.8 1509.4 1191.4 1502.8 1193.1 1498.2C1194.8 1493.7 1196.5 1488.6 1198.3 1484.5C1200.1 1480.5 1201.7 1477.1 1203.8 1474.2C1205.9 1471.3 1208.1 1469.2 1210.8 1467.2C1213.5 1465.3 1216.6 1463.7 1219.8 1462.7C1223.1 1461.7 1226.7 1461.0 1230.2 1461.0C1233.6 1461.1 1237.1 1461.7 1240.5 1463.1C1244.0 1464.5 1247.2 1466.9 1250.9 1469.3C1254.5 1471.7 1258.5 1474.6 1262.5 1477.6C1266.5 1480.6 1270.7 1484.0 1274.9 1487.3C1279.0 1490.5 1283.2 1493.9 1287.3 1497.0C1291.4 1500.0 1295.6 1502.8 1299.7 1505.6C1303.8 1508.4 1308.0 1511.3 1312.1 1513.6C1316.2 1515.9 1320.4 1517.8 1324.5 1519.6C1328.6 1521.3 1332.8 1522.9 1336.9 1524.1C1341.0 1525.2 1345.8 1525.9 1349.3 1526.5C1352.8 1527.2 1355.1 1527.5 1357.8 1527.9C1360.5 1528.3 1364.3 1528.8 1365.6 1528.9" fill="none" stroke="#1c1c1c" stroke-width="0.9"/>
<path d="M1188.8 1514.3C1189.7 1512.0 1192.3 1505.4 1194.0 1500.8C1195.7 1496.3 1197.4 1490.9 1199.2 1486.9C1200.9 1482.8 1202.6 1479.4 1204.6 1476.5C1206.6 1473.7 1208.7 1471.7 1211.3 1469.8C1213.9 1468.0 1216.9 1466.5 1220.1 1465.4C1223.3 1464.4 1227.0 1463.6 1230.4 1463.6C1233.9 1463.7 1237.3 1464.3 1240.8 1465.7C1244.2 1467.1 1247.4 1469.5 1251.1 1471.9C1254.8 1474.3 1258.9 1477.2 1263.0 1480.2C1267.0 1483.1 1271.3 1486.5 1275.4 1489.7C1279.5 1492.9 1283.7 1496.3 1287.8 1499.3C1291.9 1502.3 1296.1 1505.1 1300.2 1507.8C1304.3 1510.5 1308.5 1513.3 1312.6 1515.6C1316.7 1517.8 1320.9 1519.6 1325.0 1521.2C1329.1 1522.9 1333.3 1524.5 1337.4 1525.6C1341.6 1526.8 1346.5 1527.4 1349.8 1528.0C1353.2 1528.5 1355.1 1528.8 1357.6 1529.1C1360.1 1529.4 1363.6 1529.8 1364.8 1530.0L4000.0 1530.0L4000.0 4000.0L-4000.0 4000.0L-4000.0 1514.3Z" fill="#ff9c00"/>
<path d="M1188.8 1514.3C1189.7 1512.0 1192.3 1505.4 1194.0 1500.8C1195.7 1496.3 1197.4 1490.9 1199.2 1486.9C1200.9 1482.8 1202.6 1479.4 1204.6 1476.5C1206.6 1473.7 1208.7 1471.7 1211.3 1469.8C1213.9 1468.0 1216.9 1466.5 1220.1 1465.4C1223.3 1464.4 1227.0 1463.6 1230.4 1463.6C1233.9 1463.7 1237.3 1464.3 1240.8 1465.7C1244.2 1467.1 1247.4 1469.5 1251.1 1471.9C1254.8 1474.3 1258.9 1477.2 1263.0 1480.2C1267.0 1483.1 1271.3 1486.5 1275.4 1489.7C1279.5 1492.9 1283.7 1496.3 1287.8 1499.3C1291.9 1502.3 1296.1 1505.1 1300.2 1507.8C1304.3 1510.5 1308.5 1513.3 1312.6 1515.6C1316.7 1517.8 1320.9 1519.6 1325.0 1521.2C1329.1 1522.9 1333.3 1524.5 1337.4 1525.6C1341.6 1526.8 1346.5 1527.4 1349.8 1528.0C1353.2 1528.5 1355.1 1528.8 1357.6 1529.1C1360.1 1529.4 1363.6 1529.8 1364.8 1530.0" fill="none" stroke="#1c1c1c" stroke-width="0.9"/>
<path d="M1189.7 1516.8C1190.6 1514.6 1193.2 1508.0 1194.9 1503.4C1196.6 1498.8 1198.3 1493.3 1200.1 1489.2C1201.8 1485.1 1203.4 1481.7 1205.4 1478.9C1207.3 1476.1 1209.3 1474.2 1211.8 1472.4C1214.3 1470.6 1217.2 1469.2 1220.4 1468.1C1223.5 1467.1 1227.3 1466.2 1230.7 1466.2C1234.1 1466.2 1237.6 1466.9 1241.0 1468.3C1244.5 1469.6 1247.6 1472.1 1251.4 1474.5C1255.1 1476.9 1259.4 1479.8 1263.5 1482.7C1267.6 1485.7 1271.8 1489.0 1275.9 1492.2C1280.1 1495.3 1284.2 1498.6 1288.3 1501.6C1292.5 1504.6 1296.6 1507.4 1300.7 1510.0C1304.9 1512.6 1309.0 1515.3 1313.1 1517.5C1317.3 1519.6 1321.4 1521.3 1325.5 1522.9C1329.7 1524.5 1333.8 1526.1 1337.9 1527.2C1342.1 1528.3 1347.1 1528.9 1350.3 1529.4C1353.6 1529.9 1355.0 1530.0 1357.3 1530.3C1359.6 1530.5 1362.9 1530.9 1364.0 1531.0L4000.0 1531.0L4000.0 4000.0L-4000.0 4000.0L-4000.0 1516.8Z" fill="#ffb900"/>
<path d="M1189.7 1516.8C1190.6 1514.6 1193.2 1508.0 1194.9 1503.4C1196.6 1498.8 1198.3 1493.3 1200.1 1489.2C1201.8 1485.1 1203.4 1481.7 1205.4 1478.9C1207.3 1476.1 1209.3 1474.2 1211.8 1472.4C1214.3 1470.6 1217.2 1469.2 1220.4 1468.1C1223.5 1467.1 1227.3 1466.2 1230.7 1466.2C1234.1 1466.2 1237.6 1466.9 1241.0 1468.3C1244.5 1469.6 1247.6 1472.1 1251.4 1474.5C1255.1 1476.9 1259.4 1479.8 1263.5 1482.7C1267.6 1485.7 1271.8 1489.0 1275.9 1492.2C1280.1 1495.3 1284.2 1498.6 1288.3 1501.6C1292.5 1504.6 1296.6 1507.4 1300.7 1510.0C1304.9 1512.6 1309.0 1515.3 1313.1 1517.5C1317.3 1519.6 1321.4 1521.3 1325.5 1522.9C1329.7 1524.5 1333.8 1526.1 1337.9 1527.2C1342.1 1528.3 1347.1 1528.9 1350.3 1529.4C1353.6 1529.9 1355.0 1530.0 1357.3 1530.3C1359.6 1530.5 1362.9 1530.9 1364.0 1531.0" fill="none" stroke="#1c1c1c" stroke-width="0.9"/>
<path d="M1190.6 1519.4C1191.5 1517.2 1194.1 1510.6 1195.8 1506.0C1197.5 1501.3 1199.3 1495.7 1201.0 1491.5C1202.7 1487.4 1204.3 1483.9 1206.1 1481.2C1208.0 1478.4 1209.9 1476.7 1212.4 1475.0C1214.8 1473.3 1217.5 1471.9 1220.6 1470.9C1223.7 1469.8 1227.5 1468.8 1231.0 1468.8C1234.4 1468.8 1237.8 1469.5 1241.3 1470.9C1244.7 1472.2 1247.8 1474.6 1251.6 1477.1C1255.4 1479.5 1259.9 1482.4 1264.0 1485.3C1268.2 1488.3 1272.3 1491.5 1276.4 1494.6C1280.6 1497.7 1284.7 1501.0 1288.8 1503.9C1293.0 1506.9 1297.1 1509.6 1301.2 1512.2C1305.4 1514.8 1309.5 1517.4 1313.6 1519.4C1317.8 1521.5 1321.9 1523.0 1326.0 1524.6C1330.2 1526.1 1334.3 1527.7 1338.4 1528.7C1342.6 1529.8 1347.8 1530.4 1350.9 1530.8C1354.0 1531.2 1355.0 1531.2 1357.1 1531.4C1359.1 1531.6 1362.2 1531.9 1363.3 1532.0L4000.0 1532.0L4000.0 4000.0L-4000.0 4000.0L-4000.0 1519.4Z" fill="#ffd200"/>
<path d="M1190.6 1519.4C1191.5 1517.2 1194.1 1510.6 1195.8 1506.0C1197.5 1501.3 1199.3 1495.7 1201.0 1491.5C1202.7 1487.4 1204.3 1483.9 1206.1 1481.2C1208.0 1478.4 1209.9 1476.7 1212.4 1475.0C1214.8 1473.3 1217.5 1471.9 1220.6 1470.9C1223.7 1469.8 1227.5 1468.8 1231.0 1468.8C1234.4 1468.8 1237.8 1469.5 1241.3 1470.9C1244.7 1472.2 1247.8 1474.6 1251.6 1477.1C1255.4 1479.5 1259.9 1482.4 1264.0 1485.3C1268.2 1488.3 1272.3 1491.5 1276.4 1494.6C1280.6 1497.7 1284.7 1501.0 1288.8 1503.9C1293.0 1506.9 1297.1 1509.6 1301.2 1512.2C1305.4 1514.8 1309.5 1517.4 1313.6 1519.4C1317.8 1521.5 1321.9 1523.0 1326.0 1524.6C1330.2 1526.1 1334.3 1527.7 1338.4 1528.7C1342.6 1529.8 1347.8 1530.4 1350.9 1530.8C1354.0 1531.2 1355.0 1531.2 1357.1 1531.4C1359.1 1531.6 1362.2 1531.9 1363.3 1532.0" fill="none" stroke="#1c1c1c" stroke-width="0.9"/>
<path d="M1198.9 1533.9C1199.8 1532.7 1202.2 1529.3 1204.1 1526.7C1206.0 1524.1 1207.9 1520.8 1210.3 1518.4C1212.7 1516.0 1216.7 1514.6 1218.6 1512.2C1220.4 1509.8 1220.6 1506.7 1221.7 1503.9C1222.7 1501.2 1223.2 1497.7 1224.8 1495.7C1226.3 1493.6 1228.5 1492.9 1231.0 1491.5C1233.4 1490.1 1236.8 1488.6 1239.2 1487.4C1241.6 1486.2 1243.4 1484.6 1245.4 1484.3C1247.5 1483.9 1249.2 1484.5 1251.6 1485.3C1254.0 1486.2 1256.8 1487.7 1259.9 1489.5C1263.0 1491.2 1266.8 1493.4 1270.2 1495.7C1273.7 1497.9 1277.1 1500.5 1280.6 1502.9C1284.0 1505.3 1287.5 1507.9 1290.9 1510.1C1294.3 1512.4 1297.8 1514.3 1301.2 1516.3C1304.7 1518.4 1308.1 1520.6 1311.6 1522.5C1315.0 1524.4 1318.5 1526.1 1321.9 1527.7C1325.4 1529.3 1328.8 1530.6 1332.2 1531.8C1335.7 1533.0 1338.8 1534.0 1342.6 1534.9C1346.4 1535.9 1352.9 1537.0 1355.0 1537.4L4000.0 1537.4L4000.0 4000.0L-4000.0 4000.0L-4000.0 1533.9Z" fill="#ffe900"/>
<path d="M1198.9 1533.9C1199.8 1532.7 1202.2 1529.3 1204.1 1526.7C1206.0 1524.1 1207.9 1520.8 1210.3 1518.4C1212.7 1516.0 1216.7 1514.6 1218.6 1512.2C1220.4 1509.8 1220.6 1506.7 1221.7 1503.9C1222.7 1501.2 1223.2 1497.7 1224.8 1495.7C1226.3 1493.6 1228.5 1492.9 1231.0 1491.5C1233.4 1490.1 1236.8 1488.6 1239.2 1487.4C1241.6 1486.2 1243.4 1484.6 1245.4 1484.3C1247.5 1483.9 1249.2 1484.5 1251.6 1485.3C1254.0 1486.2 1256.8 1487.7 1259.9 1489.5C1263.0 1491.2 1266.8 1493.4 1270.2 1495.7C1273.7 1497.9 1277.1 1500.5 1280.6 1502.9C1284.0 1505.3 1287.5 1507.9 1290.9 1510.1C1294.3 1512.4 1297.8 1514.3 1301.2 1516.3C1304.7 1518.4 1308.1 1520.6 1311.6 1522.5C1315.0 1524.4 1318.5 1526.1 1321.9 1527.7C1325.4 1529.3 1328.8 1530.6 1332.2 1531.8C1335.7 1533.0 1338.8 1534.0 1342.6 1534.9C1346.4 1535.9 1352.9 1537.0 1355.0 1537.4" fill="none" stroke="#1c1c1c" stroke-width="0.9"/>
<path d="M1237.2 1562.4C1237.5 1560.9 1237.8 1556.4 1239.2 1553.5C1240.6 1550.7 1243.4 1548.0 1245.4 1545.3C1247.5 1542.5 1249.6 1539.8 1251.6 1537.0C1253.7 1534.2 1255.8 1531.5 1257.8 1528.7C1259.9 1526.0 1262.0 1522.7 1264.0 1520.5C1266.1 1518.2 1268.2 1516.5 1270.2 1515.3C1272.3 1514.1 1274.0 1513.1 1276.4 1513.2C1278.8 1513.4 1281.9 1515.1 1284.7 1516.3C1287.5 1517.5 1289.9 1518.7 1293.0 1520.5C1296.1 1522.2 1299.9 1524.6 1303.3 1526.7C1306.8 1528.7 1310.2 1531.0 1313.6 1532.9C1317.1 1534.8 1320.9 1536.3 1324.0 1538.0C1327.1 1539.8 1329.8 1541.7 1332.2 1543.2C1334.7 1544.8 1336.7 1546.2 1338.4 1547.3C1340.2 1548.5 1341.9 1549.6 1342.6 1550.0L4000.0 1550.0L4000.0 4000.0L-4000.0 4000.0L-4000.0 1562.4Z" fill="#fffd00"/>
<path d="M1237.2 1562.4C1237.5 1560.9 1237.8 1556.4 1239.2 1553.5C1240.6 1550.7 1243.4 1548.0 1245.4 1545.3C1247.5 1542.5 1249.6 1539.8 1251.6 1537.0C1253.7 1534.2 1255.8 1531.5 1257.8 1528.7C1259.9 1526.0 1262.0 1522.7 1264.0 1520.5C1266.1 1518.2 1268.2 1516.5 1270.2 1515.3C1272.3 1514.1 1274.0 1513.1 1276.4 1513.2C1278.8 1513.4 1281.9 1515.1 1284.7 1516.3C1287.5 1517.5 1289.9 1518.7 1293.0 1520.5C1296.1 1522.2 1299.9 1524.6 1303.3 1526.7C1306.8 1528.7 1310.2 1531.0 1313.6 1532.9C1317.1 1534.8 1320.9 1536.3 1324.0 1538.0C1327.1 1539.8 1329.8 1541.7 1332.2 1543.2C1334.7 1544.8 1336.7 1546.2 1338.4 1547.3C1340.2 1548.5 1341.9 1549.6 1342.6 1550.0" fill="none" stroke="#1c1c1c" stroke-width="0.9"/>
<path d="M1207.2 1556.6C1208.0 1555.8 1210.5 1552.3 1212.4 1551.5C1214.2 1550.6 1216.5 1550.8 1218.6 1551.5C1220.6 1552.2 1222.5 1553.8 1224.8 1555.6C1227.0 1557.4 1230.8 1561.1 1232.0 1562.2L1232.0 4000.0L1207.2 4000.0Z" fill="#fffd00"/>
<path d="M1207.2 1556.6C1208.0 1555.8 1210.5 1552.3 1212.4 1551.5C1214.2 1550.6 1216.5 1550.8 1218.6 1551.5C1220.6 1552.2 1222.5 1553.8 1224.8 1555.6C1227.0 1557.4 1230.8 1561.1 1232.0 1562.2" fill="none" stroke="#1c1c1c" stroke-width="0.9"/>
<path d="M1272.3 1562.4C1272.6 1561.3 1273.3 1557.1 1274.4 1555.6C1275.4 1554.1 1277.3 1553.2 1278.5 1553.5C1279.7 1553.9 1281.0 1556.2 1281.6 1557.7C1282.2 1559.2 1282.1 1561.6 1282.2 1562.4L1282.2 4000.0L1272.3 4000.0Z" fill="#ffff5e"/>
<path d="M1272.3 1562.4C1272.6 1561.3 1273.3 1557.1 1274.4 1555.6C1275.4 1554.1 1277.3 1553.2 1278.5 1553.5C1279.7 1553.9 1281.0 1556.2 1281.6 1557.7C1282.2 1559.2 1282.1 1561.6 1282.2 1562.4" fill="none" stroke="#1c1c1c" stroke-width="0.9"/>
</g>
<text x="1252" y="1417" font-size="31.5" style="fill:#fff">Short</text>
<text x="1227" y="1540" font-size="31.5">Long</text>
<clipPath id="clip10"><path d="M919.6 1754.1L978.6 1754.1L982.7 1757.2L991.0 1761.3L999.2 1768.5L1003.4 1776.8L1011.6 1789.2L1015.8 1801.6L1032.3 1819.2L1044.7 1828.5L1048.8 1836.8L1053.0 1851.2L1061.2 1865.7L1065.4 1876.0L1073.6 1885.3L1080.9 1886.4L1081.9 1894.6L1081.9 1915.3L1077.8 1923.6L1077.8 1936.0L1073.6 1942.2L1069.5 1954.6L1061.2 1962.9L1053.0 1975.3L1044.7 1991.8L1036.4 1998.0L1028.2 2006.3L1019.9 2015.6L1009.6 2020.7L1001.3 2028.0L888.0 2028.0L884.5 2024.9L880.4 2014.5L876.2 2004.2L872.1 1991.8L868.0 1979.4L863.8 1967.0L859.7 1960.8L855.6 1950.5L851.4 1938.1L847.3 1931.9L847.3 1880.2L851.4 1861.6L851.4 1807.8L855.6 1799.6L855.6 1787.1L859.7 1785.1L868.0 1775.8L878.3 1767.5L889.7 1762.3L900.0 1758.8L916.5 1757.2Z"/></clipPath>
<g clip-path="url(#clip10)">
<path d="M919.6 1754.1L978.6 1754.1L982.7 1757.2L991.0 1761.3L999.2 1768.5L1003.4 1776.8L1011.6 1789.2L1015.8 1801.6L1032.3 1819.2L1044.7 1828.5L1048.8 1836.8L1053.0 1851.2L1061.2 1865.7L1065.4 1876.0L1073.6 1885.3L1080.9 1886.4L1081.9 1894.6L1081.9 1915.3L1077.8 1923.6L1077.8 1936.0L1073.6 1942.2L1069.5 1954.6L1061.2 1962.9L1053.0 1975.3L1044.7 1991.8L1036.4 1998.0L1028.2 2006.3L1019.9 2015.6L1009.6 2020.7L1001.3 2028.0L888.0 2028.0L884.5 2024.9L880.4 2014.5L876.2 2004.2L872.1 1991.8L868.0 1979.4L863.8 1967.0L859.7 1960.8L855.6 1950.5L851.4 1938.1L847.3 1931.9L847.3 1880.2L851.4 1861.6L851.4 1807.8L855.6 1799.6L855.6 1787.1L859.7 1785.1L868.0 1775.8L878.3 1767.5L889.7 1762.3L900.0 1758.8L916.5 1757.2Z" fill="#ffffe4"/>
<path d="M885.1 1766.1C886.3 1766.8 890.5 1770.0 892.4 1770.6C894.2 1771.2 894.8 1769.6 896.5 1769.6C898.2 1769.6 899.9 1770.3 902.7 1770.6C905.4 1771.0 909.6 1770.8 913.0 1771.6C916.5 1772.5 920.3 1774.1 923.4 1775.8C926.5 1777.5 929.2 1779.7 931.6 1782.0C934.0 1784.2 936.1 1786.6 937.8 1789.2C939.6 1791.8 941.4 1794.4 942.0 1797.5C942.5 1800.6 941.3 1804.4 940.9 1807.8C940.6 1811.3 939.7 1814.7 939.9 1818.2C940.1 1821.6 940.9 1825.0 942.0 1828.5C943.0 1831.9 944.4 1835.4 946.1 1838.8C947.8 1842.3 950.2 1845.7 952.3 1849.2C954.4 1852.6 956.4 1856.4 958.5 1859.5C960.6 1862.6 962.3 1865.0 964.7 1867.8C967.1 1870.5 970.2 1873.3 973.0 1876.0C975.7 1878.8 978.1 1881.6 981.2 1884.3C984.3 1887.1 988.1 1890.2 991.6 1892.6C995.0 1895.0 998.1 1896.7 1001.9 1898.8C1005.7 1900.8 1010.2 1903.1 1014.3 1905.0C1018.4 1906.9 1022.6 1908.8 1026.7 1910.1C1030.9 1911.5 1035.0 1912.2 1039.1 1913.2C1043.3 1914.3 1047.4 1915.5 1051.5 1916.3C1055.7 1917.2 1059.3 1917.7 1063.9 1918.4C1068.6 1919.1 1076.8 1920.1 1079.4 1920.5L4000.0 1920.5L4000.0 -4000.0L885.1 -4000.0Z" fill="#ffffc6"/>
<path d="M885.1 1766.1C886.3 1766.8 890.5 1770.0 892.4 1770.6C894.2 1771.2 894.8 1769.6 896.5 1769.6C898.2 1769.6 899.9 1770.3 902.7 1770.6C905.4 1771.0 909.6 1770.8 913.0 1771.6C916.5 1772.5 920.3 1774.1 923.4 1775.8C926.5 1777.5 929.2 1779.7 931.6 1782.0C934.0 1784.2 936.1 1786.6 937.8 1789.2C939.6 1791.8 941.4 1794.4 942.0 1797.5C942.5 1800.6 941.3 1804.4 940.9 1807.8C940.6 1811.3 939.7 1814.7 939.9 1818.2C940.1 1821.6 940.9 1825.0 942.0 1828.5C943.0 1831.9 944.4 1835.4 946.1 1838.8C947.8 1842.3 950.2 1845.7 952.3 1849.2C954.4 1852.6 956.4 1856.4 958.5 1859.5C960.6 1862.6 962.3 1865.0 964.7 1867.8C967.1 1870.5 970.2 1873.3 973.0 1876.0C975.7 1878.8 978.1 1881.6 981.2 1884.3C984.3 1887.1 988.1 1890.2 991.6 1892.6C995.0 1895.0 998.1 1896.7 1001.9 1898.8C1005.7 1900.8 1010.2 1903.1 1014.3 1905.0C1018.4 1906.9 1022.6 1908.8 1026.7 1910.1C1030.9 1911.5 1035.0 1912.2 1039.1 1913.2C1043.3 1914.3 1047.4 1915.5 1051.5 1916.3C1055.7 1917.2 1059.3 1917.7 1063.9 1918.4C1068.6 1919.1 1076.8 1920.1 1079.4 1920.5" fill="none" stroke="#1c1c1c" stroke-width="0.9"/>
<path d="M960.6 1753.0C961.3 1753.9 963.0 1756.3 964.7 1758.2C966.4 1760.1 969.2 1762.0 970.9 1764.4C972.6 1766.8 974.7 1769.6 975.0 1772.7C975.4 1775.8 974.0 1779.9 973.0 1783.0C971.9 1786.1 970.2 1788.5 968.8 1791.3C967.5 1794.0 965.9 1796.8 964.7 1799.6C963.5 1802.3 962.3 1804.7 961.6 1807.8C960.9 1810.9 960.4 1814.7 960.6 1818.2C960.7 1821.6 961.6 1825.0 962.6 1828.5C963.7 1831.9 965.0 1835.4 966.8 1838.8C968.5 1842.3 970.9 1845.7 973.0 1849.2C975.0 1852.6 976.8 1856.1 979.2 1859.5C981.6 1862.9 984.7 1866.7 987.4 1869.8C990.2 1872.9 993.0 1875.3 995.7 1878.1C998.5 1880.9 1000.9 1884.0 1004.0 1886.4C1007.1 1888.8 1010.9 1890.5 1014.3 1892.6C1017.8 1894.6 1021.2 1897.1 1024.7 1898.8C1028.1 1900.5 1031.2 1901.7 1035.0 1902.9C1038.8 1904.1 1043.3 1905.2 1047.4 1906.0C1051.5 1906.9 1055.7 1907.4 1059.8 1908.1C1063.9 1908.8 1068.5 1909.6 1072.2 1910.1C1075.9 1910.7 1080.5 1911.0 1082.1 1911.2L4000.0 1911.2L4000.0 -4000.0L960.6 -4000.0Z" fill="#ffffa1"/>
<path d="M960.6 1753.0C961.3 1753.9 963.0 1756.3 964.7 1758.2C966.4 1760.1 969.2 1762.0 970.9 1764.4C972.6 1766.8 974.7 1769.6 975.0 1772.7C975.4 1775.8 974.0 1779.9 973.0 1783.0C971.9 1786.1 970.2 1788.5 968.8 1791.3C967.5 1794.0 965.9 1796.8 964.7 1799.6C963.5 1802.3 962.3 1804.7 961.6 1807.8C960.9 1810.9 960.4 1814.7 960.6 1818.2C960.7 1821.6 961.6 1825.0 962.6 1828.5C963.7 1831.9 965.0 1835.4 966.8 1838.8C968.5 1842.3 970.9 1845.7 973.0 1849.2C975.0 1852.6 976.8 1856.1 979.2 1859.5C981.6 1862.9 984.7 1866.7 987.4 1869.8C990.2 1872.9 993.0 1875.3 995.7 1878.1C998.5 1880.9 1000.9 1884.0 1004.0 1886.4C1007.1 1888.8 1010.9 1890.5 1014.3 1892.6C1017.8 1894.6 1021.2 1897.1 1024.7 1898.8C1028.1 1900.5 1031.2 1901.7 1035.0 1902.9C1038.8 1904.1 1043.3 1905.2 1047.4 1906.0C1051.5 1906.9 1055.7 1907.4 1059.8 1908.1C1063.9 1908.8 1068.5 1909.6 1072.2 1910.1C1075.9 1910.7 1080.5 1911.0 1082.1 1911.2" fill="none" stroke="#1c1c1c" stroke-width="0.9"/>
<path d="M1016.4 1800.6C1014.7 1800.4 1009.5 1800.1 1006.0 1799.6C1002.6 1799.0 999.2 1798.2 995.7 1797.5C992.3 1796.8 988.1 1795.2 985.4 1795.4C982.6 1795.6 980.7 1796.8 979.2 1798.5C977.6 1800.2 976.4 1803.2 976.1 1805.8C975.7 1808.3 976.4 1810.9 977.1 1814.0C977.8 1817.1 979.2 1820.9 980.2 1824.4C981.2 1827.8 982.1 1831.2 983.3 1834.7C984.5 1838.1 985.7 1841.6 987.4 1845.0C989.2 1848.5 991.6 1852.3 993.6 1855.4C995.7 1858.5 997.8 1860.9 999.8 1863.6C1001.9 1866.4 1004.0 1869.5 1006.0 1871.9C1008.1 1874.3 1009.8 1876.0 1012.2 1878.1C1014.7 1880.2 1017.8 1882.2 1020.5 1884.3C1023.3 1886.4 1025.7 1888.8 1028.8 1890.5C1031.9 1892.2 1035.7 1893.4 1039.1 1894.6C1042.6 1895.8 1046.0 1896.9 1049.5 1897.7C1052.9 1898.6 1056.3 1899.2 1059.8 1899.8C1063.2 1900.4 1066.3 1900.7 1070.1 1901.3C1073.9 1901.8 1080.5 1902.6 1082.5 1902.9L4000.0 1902.9L4000.0 1800.6Z" fill="#ffff72"/>
<path d="M1016.4 1800.6C1014.7 1800.4 1009.5 1800.1 1006.0 1799.6C1002.6 1799.0 999.2 1798.2 995.7 1797.5C992.3 1796.8 988.1 1795.2 985.4 1795.4C982.6 1795.6 980.7 1796.8 979.2 1798.5C977.6 1800.2 976.4 1803.2 976.1 1805.8C975.7 1808.3 976.4 1810.9 977.1 1814.0C977.8 1817.1 979.2 1820.9 980.2 1824.4C981.2 1827.8 982.1 1831.2 983.3 1834.7C984.5 1838.1 985.7 1841.6 987.4 1845.0C989.2 1848.5 991.6 1852.3 993.6 1855.4C995.7 1858.5 997.8 1860.9 999.8 1863.6C1001.9 1866.4 1004.0 1869.5 1006.0 1871.9C1008.1 1874.3 1009.8 1876.0 1012.2 1878.1C1014.7 1880.2 1017.8 1882.2 1020.5 1884.3C1023.3 1886.4 1025.7 1888.8 1028.8 1890.5C1031.9 1892.2 1035.7 1893.4 1039.1 1894.6C1042.6 1895.8 1046.0 1896.9 1049.5 1897.7C1052.9 1898.6 1056.3 1899.2 1059.8 1899.8C1063.2 1900.4 1066.3 1900.7 1070.1 1901.3C1073.9 1901.8 1080.5 1902.6 1082.5 1902.9" fill="none" stroke="#1c1c1c" stroke-width="0.9"/>
<path d="M1030.9 1816.7C1029.5 1818.0 1025.0 1821.7 1022.6 1824.4C1020.2 1827.0 1018.1 1829.9 1016.4 1832.6C1014.7 1835.4 1012.8 1838.1 1012.2 1840.9C1011.7 1843.7 1012.6 1846.4 1013.3 1849.2C1014.0 1851.9 1015.0 1854.7 1016.4 1857.4C1017.8 1860.2 1020.2 1862.9 1021.6 1865.7C1022.9 1868.5 1023.1 1871.6 1024.7 1874.0C1026.2 1876.4 1028.8 1878.3 1030.9 1880.2C1032.9 1882.1 1034.6 1884.7 1037.1 1885.3C1039.5 1886.0 1042.6 1884.1 1045.3 1884.3C1048.1 1884.5 1050.8 1885.5 1053.6 1886.4C1056.3 1887.2 1059.1 1889.3 1061.9 1889.5C1064.6 1889.6 1067.2 1888.1 1070.1 1887.4C1073.1 1886.7 1077.9 1885.7 1079.4 1885.3L4000.0 1885.3L4000.0 1816.7Z" fill="#ffff00"/>
<path d="M1030.9 1816.7C1029.5 1818.0 1025.0 1821.7 1022.6 1824.4C1020.2 1827.0 1018.1 1829.9 1016.4 1832.6C1014.7 1835.4 1012.8 1838.1 1012.2 1840.9C1011.7 1843.7 1012.6 1846.4 1013.3 1849.2C1014.0 1851.9 1015.0 1854.7 1016.4 1857.4C1017.8 1860.2 1020.2 1862.9 1021.6 1865.7C1022.9 1868.5 1023.1 1871.6 1024.7 1874.0C1026.2 1876.4 1028.8 1878.3 1030.9 1880.2C1032.9 1882.1 1034.6 1884.7 1037.1 1885.3C1039.5 1886.0 1042.6 1884.1 1045.3 1884.3C1048.1 1884.5 1050.8 1885.5 1053.6 1886.4C1056.3 1887.2 1059.1 1889.3 1061.9 1889.5C1064.6 1889.6 1067.2 1888.1 1070.1 1887.4C1073.1 1886.7 1077.9 1885.7 1079.4 1885.3" fill="none" stroke="#1c1c1c" stroke-width="0.9"/>
<path d="M1043.3 1826.0C1041.9 1827.3 1037.2 1831.2 1035.0 1833.7C1032.7 1836.1 1030.2 1838.3 1029.8 1840.9C1029.5 1843.5 1031.4 1846.4 1032.9 1849.2C1034.5 1851.9 1037.1 1854.7 1039.1 1857.4C1041.2 1860.2 1043.8 1863.3 1045.3 1865.7C1046.9 1868.1 1047.0 1871.2 1048.4 1871.9C1049.8 1872.6 1051.7 1870.9 1053.6 1869.8C1055.5 1868.8 1057.7 1866.7 1059.8 1865.7C1061.9 1864.7 1065.0 1864.0 1066.0 1863.6L4000.0 1863.6L4000.0 1826.0Z" fill="#ffe400"/>
<path d="M1043.3 1826.0C1041.9 1827.3 1037.2 1831.2 1035.0 1833.7C1032.7 1836.1 1030.2 1838.3 1029.8 1840.9C1029.5 1843.5 1031.4 1846.4 1032.9 1849.2C1034.5 1851.9 1037.1 1854.7 1039.1 1857.4C1041.2 1860.2 1043.8 1863.3 1045.3 1865.7C1046.9 1868.1 1047.0 1871.2 1048.4 1871.9C1049.8 1872.6 1051.7 1870.9 1053.6 1869.8C1055.5 1868.8 1057.7 1866.7 1059.8 1865.7C1061.9 1864.7 1065.0 1864.0 1066.0 1863.6" fill="none" stroke="#1c1c1c" stroke-width="0.9"/>
<path d="M874.8 1772.3C875.6 1773.0 878.1 1775.7 879.9 1776.8C881.8 1777.9 884.3 1777.8 886.1 1778.9C888.0 1779.9 890.3 1780.6 891.3 1783.0C892.4 1785.4 892.5 1789.9 892.4 1793.4C892.2 1796.8 891.3 1800.2 890.3 1803.7C889.3 1807.1 887.9 1810.9 886.1 1814.0C884.4 1817.1 882.4 1819.9 879.9 1822.3C877.5 1824.7 874.4 1826.8 871.7 1828.5C868.9 1830.2 866.2 1831.4 863.4 1832.6C860.7 1833.8 857.4 1835.0 855.1 1835.7C852.9 1836.4 850.8 1836.6 850.0 1836.8L-4000.0 1836.8L-4000.0 -4000.0L874.8 -4000.0Z" fill="#ffffc6"/>
<path d="M874.8 1772.3C875.6 1773.0 878.1 1775.7 879.9 1776.8C881.8 1777.9 884.3 1777.8 886.1 1778.9C888.0 1779.9 890.3 1780.6 891.3 1783.0C892.4 1785.4 892.5 1789.9 892.4 1793.4C892.2 1796.8 891.3 1800.2 890.3 1803.7C889.3 1807.1 887.9 1810.9 886.1 1814.0C884.4 1817.1 882.4 1819.9 879.9 1822.3C877.5 1824.7 874.4 1826.8 871.7 1828.5C868.9 1830.2 866.2 1831.4 863.4 1832.6C860.7 1833.8 857.4 1835.0 855.1 1835.7C852.9 1836.4 850.8 1836.6 850.0 1836.8" fill="none" stroke="#1c1c1c" stroke-width="0.9"/>
<path d="M855.1 1794.4C856.2 1795.1 859.8 1797.3 861.3 1798.5C862.9 1799.7 864.6 1800.8 864.4 1801.6C864.3 1802.5 862.0 1803.3 860.3 1803.7C858.6 1804.1 855.1 1804.0 854.1 1804.1L-4000.0 1804.1L-4000.0 1794.4Z" fill="#ffffa1"/>
<path d="M855.1 1794.4C856.2 1795.1 859.8 1797.3 861.3 1798.5C862.9 1799.7 864.6 1800.8 864.4 1801.6C864.3 1802.5 862.0 1803.3 860.3 1803.7C858.6 1804.1 855.1 1804.0 854.1 1804.1" fill="none" stroke="#1c1c1c" stroke-width="0.9"/>
<path d="M919.2 1753.0C920.3 1754.4 923.4 1759.2 925.4 1761.3C927.5 1763.4 929.6 1764.5 931.6 1765.4C933.7 1766.4 935.9 1767.4 937.8 1766.9C939.7 1766.4 941.6 1764.7 943.0 1762.3C944.4 1760.0 945.6 1754.6 946.1 1753.0L946.1 -4000.0L919.2 -4000.0Z" fill="#ffffa1"/>
<path d="M919.2 1753.0C920.3 1754.4 923.4 1759.2 925.4 1761.3C927.5 1763.4 929.6 1764.5 931.6 1765.4C933.7 1766.4 935.9 1767.4 937.8 1766.9C939.7 1766.4 941.6 1764.7 943.0 1762.3C944.4 1760.0 945.6 1754.6 946.1 1753.0" fill="none" stroke="#1c1c1c" stroke-width="0.9"/>
<path d="M850.0 1840.9C851.0 1841.9 854.3 1844.7 856.2 1847.1C858.1 1849.5 859.6 1852.3 861.3 1855.4C863.1 1858.5 865.4 1862.3 866.5 1865.7C867.6 1869.1 868.1 1872.9 868.0 1876.0C867.8 1879.1 866.9 1881.9 865.5 1884.3C864.0 1886.7 861.7 1889.0 859.3 1890.5C856.9 1892.1 853.1 1892.9 851.0 1893.6C848.9 1894.3 847.6 1894.5 846.9 1894.6L-4000.0 1894.6L-4000.0 1840.9Z" fill="#ffffc6"/>
<path d="M850.0 1840.9C851.0 1841.9 854.3 1844.7 856.2 1847.1C858.1 1849.5 859.6 1852.3 861.3 1855.4C863.1 1858.5 865.4 1862.3 866.5 1865.7C867.6 1869.1 868.1 1872.9 868.0 1876.0C867.8 1879.1 866.9 1881.9 865.5 1884.3C864.0 1886.7 861.7 1889.0 859.3 1890.5C856.9 1892.1 853.1 1892.9 851.0 1893.6C848.9 1894.3 847.6 1894.5 846.9 1894.6" fill="none" stroke="#1c1c1c" stroke-width="0.9"/>
<path d="M850.0 1855.4C851.2 1856.1 855.1 1857.4 857.2 1859.5C859.3 1861.6 861.2 1865.0 862.4 1867.8C863.6 1870.5 864.4 1873.3 864.4 1876.0C864.4 1878.8 863.6 1882.2 862.4 1884.3C861.2 1886.4 859.4 1887.5 857.2 1888.4C855.0 1889.4 850.3 1889.6 848.9 1889.9L-4000.0 1889.9L-4000.0 1855.4Z" fill="#ffffa1"/>
<path d="M850.0 1855.4C851.2 1856.1 855.1 1857.4 857.2 1859.5C859.3 1861.6 861.2 1865.0 862.4 1867.8C863.6 1870.5 864.4 1873.3 864.4 1876.0C864.4 1878.8 863.6 1882.2 862.4 1884.3C861.2 1886.4 859.4 1887.5 857.2 1888.4C855.0 1889.4 850.3 1889.6 848.9 1889.9" fill="none" stroke="#1c1c1c" stroke-width="0.9"/>
<path d="M881.0 1849.2C881.2 1847.8 880.8 1844.0 882.0 1840.9C883.2 1837.8 885.8 1834.0 888.2 1830.6C890.6 1827.1 893.7 1823.2 896.5 1820.2C899.2 1817.3 902.3 1814.5 904.8 1813.0C907.2 1811.4 909.2 1810.4 911.0 1810.9C912.7 1811.4 913.7 1813.9 915.1 1816.1C916.5 1818.3 917.5 1821.6 919.2 1824.4C920.9 1827.1 923.0 1829.5 925.4 1832.6C927.8 1835.7 930.9 1839.5 933.7 1843.0C936.5 1846.4 939.6 1849.9 942.0 1853.3C944.4 1856.7 946.1 1860.5 948.2 1863.6C950.2 1866.7 951.6 1869.1 954.4 1871.9C957.1 1874.7 961.6 1877.4 964.7 1880.2C967.8 1882.9 970.9 1886.4 973.0 1888.4C975.0 1890.5 974.3 1891.2 977.1 1892.6C979.9 1894.0 984.7 1895.3 989.5 1896.7C994.3 1898.1 1000.5 1899.1 1006.0 1900.8C1011.6 1902.6 1017.4 1905.0 1022.6 1907.0C1027.8 1909.1 1032.2 1911.2 1037.1 1913.2C1041.9 1915.3 1047.0 1917.6 1051.5 1919.4C1056.0 1921.3 1059.4 1922.9 1063.9 1924.6C1068.4 1926.3 1076.0 1928.9 1078.4 1929.8L4000.0 1929.8L4000.0 1966.0L1061.9 1966.0C1060.5 1966.1 1056.7 1966.7 1053.6 1967.0C1050.5 1967.3 1047.4 1967.7 1043.3 1968.0C1039.1 1968.4 1032.9 1969.6 1028.8 1969.1C1024.7 1968.5 1021.9 1967.0 1018.4 1964.9C1015.0 1962.9 1011.2 1959.4 1008.1 1956.7C1005.0 1953.9 1002.6 1951.5 999.8 1948.4C997.1 1945.3 994.0 1941.5 991.6 1938.1C989.2 1934.6 986.8 1930.3 985.4 1927.7C984.0 1925.1 984.2 1924.6 983.3 1922.6C982.4 1920.5 981.6 1917.4 980.2 1915.3C978.8 1913.2 977.6 1911.2 975.0 1910.1C972.5 1909.1 968.1 1909.6 964.7 1909.1C961.3 1908.6 957.5 1908.1 954.4 1907.0C951.3 1906.0 948.9 1904.6 946.1 1902.9C943.3 1901.2 940.2 1898.4 937.8 1896.7C935.4 1895.0 934.7 1893.4 931.6 1892.6C928.5 1891.7 923.4 1892.2 919.2 1891.5C915.1 1890.9 910.6 1889.6 906.8 1888.4C903.0 1887.2 899.2 1886.4 896.5 1884.3C893.7 1882.2 892.0 1879.1 890.3 1876.0C888.6 1872.9 887.5 1868.8 886.1 1865.7C884.8 1862.6 882.9 1860.2 882.0 1857.4C881.2 1854.7 881.2 1850.5 881.0 1849.2Z" fill="#ffffff"/>
<path d="M881.0 1849.2C881.2 1847.8 880.8 1844.0 882.0 1840.9C883.2 1837.8 885.8 1834.0 888.2 1830.6C890.6 1827.1 893.7 1823.2 896.5 1820.2C899.2 1817.3 902.3 1814.5 904.8 1813.0C907.2 1811.4 909.2 1810.4 911.0 1810.9C912.7 1811.4 913.7 1813.9 915.1 1816.1C916.5 1818.3 917.5 1821.6 919.2 1824.4C920.9 1827.1 923.0 1829.5 925.4 1832.6C927.8 1835.7 930.9 1839.5 933.7 1843.0C936.5 1846.4 939.6 1849.9 942.0 1853.3C944.4 1856.7 946.1 1860.5 948.2 1863.6C950.2 1866.7 951.6 1869.1 954.4 1871.9C957.1 1874.7 961.6 1877.4 964.7 1880.2C967.8 1882.9 970.9 1886.4 973.0 1888.4C975.0 1890.5 974.3 1891.2 977.1 1892.6C979.9 1894.0 984.7 1895.3 989.5 1896.7C994.3 1898.1 1000.5 1899.1 1006.0 1900.8C1011.6 1902.6 1017.4 1905.0 1022.6 1907.0C1027.8 1909.1 1032.2 1911.2 1037.1 1913.2C1041.9 1915.3 1047.0 1917.6 1051.5 1919.4C1056.0 1921.3 1059.4 1922.9 1063.9 1924.6C1068.4 1926.3 1076.0 1928.9 1078.4 1929.8M1061.9 1966.0C1060.5 1966.1 1056.7 1966.7 1053.6 1967.0C1050.5 1967.3 1047.4 1967.7 1043.3 1968.0C1039.1 1968.4 1032.9 1969.6 1028.8 1969.1C1024.7 1968.5 1021.9 1967.0 1018.4 1964.9C1015.0 1962.9 1011.2 1959.4 1008.1 1956.7C1005.0 1953.9 1002.6 1951.5 999.8 1948.4C997.1 1945.3 994.0 1941.5 991.6 1938.1C989.2 1934.6 986.8 1930.3 985.4 1927.7C984.0 1925.1 984.2 1924.6 983.3 1922.6C982.4 1920.5 981.6 1917.4 980.2 1915.3C978.8 1913.2 977.6 1911.2 975.0 1910.1C972.5 1909.1 968.1 1909.6 964.7 1909.1C961.3 1908.6 957.5 1908.1 954.4 1907.0C951.3 1906.0 948.9 1904.6 946.1 1902.9C943.3 1901.2 940.2 1898.4 937.8 1896.7C935.4 1895.0 934.7 1893.4 931.6 1892.6C928.5 1891.7 923.4 1892.2 919.2 1891.5C915.1 1890.9 910.6 1889.6 906.8 1888.4C903.0 1887.2 899.2 1886.4 896.5 1884.3C893.7 1882.2 892.0 1879.1 890.3 1876.0C888.6 1872.9 887.5 1868.8 886.1 1865.7C884.8 1862.6 882.9 1860.2 882.0 1857.4C881.2 1854.7 881.2 1850.5 881.0 1849.2" fill="none" stroke="#1c1c1c" stroke-width="0.9"/>
<path d="M900.6 1850.2C901.3 1848.8 903.4 1848.6 904.8 1849.2C906.1 1849.7 907.2 1852.1 908.9 1853.3C910.6 1854.5 913.0 1855.4 915.1 1856.4C917.2 1857.4 919.9 1858.1 921.3 1859.5C922.7 1860.9 923.5 1862.9 923.4 1864.7C923.2 1866.4 921.8 1868.6 920.3 1869.8C918.7 1871.0 916.1 1872.1 914.1 1871.9C912.0 1871.7 909.6 1870.2 907.9 1868.8C906.1 1867.4 904.9 1865.5 903.7 1863.6C902.5 1861.7 901.1 1859.7 900.6 1857.4C900.1 1855.2 899.9 1851.6 900.6 1850.2Z" fill="#ffffff" stroke="#1c1c1c" stroke-width="0.9"/>
<path d="M1017.4 1927.7C1018.4 1924.6 1021.7 1919.4 1024.7 1917.4C1027.6 1915.3 1031.2 1915.3 1035.0 1915.3C1038.8 1915.3 1043.3 1916.3 1047.4 1917.4C1051.5 1918.4 1055.3 1919.8 1059.8 1921.5C1064.3 1923.2 1071.2 1924.6 1074.3 1927.7C1077.4 1930.8 1079.4 1935.3 1078.4 1940.1C1077.4 1944.9 1071.2 1954.1 1068.1 1956.7C1065.0 1959.2 1062.9 1955.5 1059.8 1955.6C1056.7 1955.8 1052.9 1957.5 1049.5 1957.7C1046.0 1957.9 1042.2 1957.9 1039.1 1956.7C1036.0 1955.5 1033.3 1952.5 1030.9 1950.5C1028.4 1948.4 1026.7 1946.7 1024.7 1944.3C1022.6 1941.8 1019.7 1938.7 1018.4 1936.0C1017.2 1933.2 1016.4 1930.8 1017.4 1927.7Z" fill="#ffffff" stroke="#1c1c1c" stroke-width="0.9"/>
<path d="M1005.4 1936.4C1005.5 1935.9 1006.6 1935.4 1007.1 1935.6C1007.6 1935.7 1008.6 1936.7 1008.5 1937.2C1008.5 1937.7 1007.4 1938.6 1006.9 1938.5C1006.4 1938.3 1005.4 1936.9 1005.4 1936.4Z" fill="#ffffff" stroke="#1c1c1c" stroke-width="0.9"/>
<path d="M850.0 1936.0C851.2 1933.9 854.6 1927.4 857.2 1923.6C859.8 1919.8 862.4 1916.3 865.5 1913.2C868.6 1910.1 872.0 1907.2 875.8 1905.0C879.6 1902.7 883.7 1901.0 888.2 1899.8C892.7 1898.6 897.9 1897.9 902.7 1897.7C907.5 1897.6 912.7 1897.9 917.2 1898.8C921.6 1899.6 925.4 1901.2 929.6 1902.9C933.7 1904.6 937.8 1906.7 942.0 1909.1C946.1 1911.5 950.2 1914.6 954.4 1917.4C958.5 1920.1 963.0 1922.9 966.8 1925.7C970.6 1928.4 973.7 1930.8 977.1 1933.9C980.6 1937.0 984.0 1941.2 987.4 1944.3C990.9 1947.4 994.3 1949.9 997.8 1952.5C1001.2 1955.1 1004.7 1957.5 1008.1 1959.8C1011.6 1962.0 1015.0 1964.2 1018.4 1966.0C1021.9 1967.7 1025.0 1969.4 1028.8 1970.1C1032.6 1970.8 1035.7 1970.6 1041.2 1970.1C1046.7 1969.6 1058.4 1967.5 1061.9 1967.0L4000.0 1967.0L4000.0 4000.0L-4000.0 4000.0L-4000.0 1936.0Z" fill="#ffffe4"/>
<path d="M850.0 1936.0C851.2 1933.9 854.6 1927.4 857.2 1923.6C859.8 1919.8 862.4 1916.3 865.5 1913.2C868.6 1910.1 872.0 1907.2 875.8 1905.0C879.6 1902.7 883.7 1901.0 888.2 1899.8C892.7 1898.6 897.9 1897.9 902.7 1897.7C907.5 1897.6 912.7 1897.9 917.2 1898.8C921.6 1899.6 925.4 1901.2 929.6 1902.9C933.7 1904.6 937.8 1906.7 942.0 1909.1C946.1 1911.5 950.2 1914.6 954.4 1917.4C958.5 1920.1 963.0 1922.9 966.8 1925.7C970.6 1928.4 973.7 1930.8 977.1 1933.9C980.6 1937.0 984.0 1941.2 987.4 1944.3C990.9 1947.4 994.3 1949.9 997.8 1952.5C1001.2 1955.1 1004.7 1957.5 1008.1 1959.8C1011.6 1962.0 1015.0 1964.2 1018.4 1966.0C1021.9 1967.7 1025.0 1969.4 1028.8 1970.1C1032.6 1970.8 1035.7 1970.6 1041.2 1970.1C1046.7 1969.6 1058.4 1967.5 1061.9 1967.0" fill="none" stroke="#3a3a10" stroke-width="0.6"/>
<path d="M850.4 1937.3C851.6 1935.2 855.1 1928.8 857.6 1925.0C860.2 1921.3 862.8 1917.8 865.9 1914.7C869.0 1911.6 872.5 1908.7 876.2 1906.4C880.0 1904.2 884.1 1902.5 888.5 1901.3C892.9 1900.1 898.0 1899.4 902.7 1899.2C907.4 1899.0 912.4 1899.2 916.9 1900.1C921.3 1900.9 925.1 1902.5 929.3 1904.2C933.4 1905.9 937.5 1908.0 941.7 1910.4C945.8 1912.8 949.9 1915.8 954.1 1918.5C958.2 1921.3 962.7 1924.1 966.5 1926.8C970.3 1929.6 973.4 1932.0 976.8 1935.1C980.3 1938.2 983.7 1942.2 987.2 1945.3C990.6 1948.3 994.0 1951.0 997.5 1953.5C1000.9 1956.1 1004.4 1958.5 1007.8 1960.8C1011.3 1963.0 1014.7 1965.3 1018.2 1967.0C1021.6 1968.7 1024.7 1970.4 1028.5 1971.1C1032.3 1971.8 1035.5 1971.7 1040.9 1971.3C1046.3 1970.8 1057.5 1968.8 1060.8 1968.3L4000.0 1968.3L4000.0 4000.0L-4000.0 4000.0L-4000.0 1937.3Z" fill="#ffffc6"/>
<path d="M850.4 1937.3C851.6 1935.2 855.1 1928.8 857.6 1925.0C860.2 1921.3 862.8 1917.8 865.9 1914.7C869.0 1911.6 872.5 1908.7 876.2 1906.4C880.0 1904.2 884.1 1902.5 888.5 1901.3C892.9 1900.1 898.0 1899.4 902.7 1899.2C907.4 1899.0 912.4 1899.2 916.9 1900.1C921.3 1900.9 925.1 1902.5 929.3 1904.2C933.4 1905.9 937.5 1908.0 941.7 1910.4C945.8 1912.8 949.9 1915.8 954.1 1918.5C958.2 1921.3 962.7 1924.1 966.5 1926.8C970.3 1929.6 973.4 1932.0 976.8 1935.1C980.3 1938.2 983.7 1942.2 987.2 1945.3C990.6 1948.3 994.0 1951.0 997.5 1953.5C1000.9 1956.1 1004.4 1958.5 1007.8 1960.8C1011.3 1963.0 1014.7 1965.3 1018.2 1967.0C1021.6 1968.7 1024.7 1970.4 1028.5 1971.1C1032.3 1971.8 1035.5 1971.7 1040.9 1971.3C1046.3 1970.8 1057.5 1968.8 1060.8 1968.3" fill="none" stroke="#3a3a10" stroke-width="0.6"/>
<path d="M850.8 1938.6C852.0 1936.6 855.5 1930.2 858.1 1926.5C860.7 1922.7 863.2 1919.2 866.3 1916.1C869.4 1913.0 872.9 1910.1 876.7 1907.9C880.4 1905.6 884.5 1903.9 888.8 1902.7C893.1 1901.5 898.1 1900.9 902.7 1900.6C907.3 1900.4 912.2 1900.6 916.6 1901.4C921.0 1902.2 924.8 1903.8 929.0 1905.5C933.1 1907.2 937.3 1909.4 941.4 1911.7C945.5 1914.1 949.7 1917.0 953.8 1919.7C957.9 1922.4 962.4 1925.2 966.2 1928.0C970.0 1930.7 973.1 1933.2 976.5 1936.2C980.0 1939.3 983.4 1943.2 986.9 1946.3C990.3 1949.3 993.8 1952.0 997.2 1954.6C1000.6 1957.1 1004.1 1959.5 1007.5 1961.8C1011.0 1964.0 1014.4 1966.3 1017.9 1968.0C1021.3 1969.7 1024.4 1971.4 1028.2 1972.1C1032.0 1972.9 1035.3 1972.8 1040.6 1972.4C1045.9 1972.0 1056.6 1970.1 1059.8 1969.6L4000.0 1969.6L4000.0 4000.0L-4000.0 4000.0L-4000.0 1938.6Z" fill="#ffffa1"/>
<path d="M850.8 1938.6C852.0 1936.6 855.5 1930.2 858.1 1926.5C860.7 1922.7 863.2 1919.2 866.3 1916.1C869.4 1913.0 872.9 1910.1 876.7 1907.9C880.4 1905.6 884.5 1903.9 888.8 1902.7C893.1 1901.5 898.1 1900.9 902.7 1900.6C907.3 1900.4 912.2 1900.6 916.6 1901.4C921.0 1902.2 924.8 1903.8 929.0 1905.5C933.1 1907.2 937.3 1909.4 941.4 1911.7C945.5 1914.1 949.7 1917.0 953.8 1919.7C957.9 1922.4 962.4 1925.2 966.2 1928.0C970.0 1930.7 973.1 1933.2 976.5 1936.2C980.0 1939.3 983.4 1943.2 986.9 1946.3C990.3 1949.3 993.8 1952.0 997.2 1954.6C1000.6 1957.1 1004.1 1959.5 1007.5 1961.8C1011.0 1964.0 1014.4 1966.3 1017.9 1968.0C1021.3 1969.7 1024.4 1971.4 1028.2 1972.1C1032.0 1972.9 1035.3 1972.8 1040.6 1972.4C1045.9 1972.0 1056.6 1970.1 1059.8 1969.6" fill="none" stroke="#3a3a10" stroke-width="0.6"/>
<path d="M851.3 1939.9C852.5 1937.9 855.9 1931.6 858.5 1927.9C861.1 1924.2 863.7 1920.7 866.8 1917.6C869.9 1914.5 873.4 1911.6 877.1 1909.3C880.8 1907.1 884.8 1905.4 889.1 1904.2C893.3 1902.9 898.2 1902.3 902.7 1902.1C907.2 1901.8 912.0 1901.9 916.3 1902.7C920.6 1903.5 924.6 1905.1 928.7 1906.8C932.8 1908.5 937.0 1910.7 941.1 1913.0C945.2 1915.4 949.4 1918.2 953.5 1920.9C957.6 1923.5 962.1 1926.4 965.9 1929.1C969.7 1931.9 972.8 1934.4 976.2 1937.4C979.7 1940.4 983.1 1944.3 986.6 1947.3C990.0 1950.3 993.5 1953.0 996.9 1955.6C1000.4 1958.1 1003.8 1960.6 1007.2 1962.8C1010.7 1965.0 1014.1 1967.3 1017.6 1969.0C1021.0 1970.7 1024.1 1972.4 1027.9 1973.1C1031.7 1973.9 1035.2 1973.9 1040.3 1973.6C1045.5 1973.2 1055.7 1971.3 1058.8 1970.9L4000.0 1970.9L4000.0 4000.0L-4000.0 4000.0L-4000.0 1939.9Z" fill="#ffff72"/>
<path d="M851.3 1939.9C852.5 1937.9 855.9 1931.6 858.5 1927.9C861.1 1924.2 863.7 1920.7 866.8 1917.6C869.9 1914.5 873.4 1911.6 877.1 1909.3C880.8 1907.1 884.8 1905.4 889.1 1904.2C893.3 1902.9 898.2 1902.3 902.7 1902.1C907.2 1901.8 912.0 1901.9 916.3 1902.7C920.6 1903.5 924.6 1905.1 928.7 1906.8C932.8 1908.5 937.0 1910.7 941.1 1913.0C945.2 1915.4 949.4 1918.2 953.5 1920.9C957.6 1923.5 962.1 1926.4 965.9 1929.1C969.7 1931.9 972.8 1934.4 976.2 1937.4C979.7 1940.4 983.1 1944.3 986.6 1947.3C990.0 1950.3 993.5 1953.0 996.9 1955.6C1000.4 1958.1 1003.8 1960.6 1007.2 1962.8C1010.7 1965.0 1014.1 1967.3 1017.6 1969.0C1021.0 1970.7 1024.1 1972.4 1027.9 1973.1C1031.7 1973.9 1035.2 1973.9 1040.3 1973.6C1045.5 1973.2 1055.7 1971.3 1058.8 1970.9" fill="none" stroke="#3a3a10" stroke-width="0.6"/>
<path d="M851.7 1941.2C852.9 1939.2 856.4 1933.1 858.9 1929.4C861.5 1925.7 864.1 1922.1 867.2 1919.0C870.3 1915.9 873.9 1913.0 877.6 1910.8C881.2 1908.5 885.2 1906.8 889.4 1905.6C893.6 1904.4 898.2 1903.8 902.7 1903.5C907.1 1903.3 911.7 1903.2 916.0 1904.0C920.3 1904.8 924.3 1906.4 928.4 1908.1C932.5 1909.8 936.7 1912.0 940.8 1914.3C944.9 1916.6 949.1 1919.4 953.2 1922.0C957.3 1924.7 961.8 1927.5 965.6 1930.3C969.4 1933.0 972.5 1935.5 975.9 1938.6C979.4 1941.6 982.8 1945.3 986.3 1948.3C989.7 1951.3 993.2 1954.0 996.6 1956.6C1000.1 1959.2 1003.5 1961.6 1007.0 1963.8C1010.4 1966.1 1013.8 1968.3 1017.3 1970.0C1020.7 1971.7 1023.8 1973.4 1027.6 1974.1C1031.4 1974.9 1035.0 1975.0 1040.0 1974.7C1045.1 1974.4 1054.8 1972.6 1057.8 1972.2L4000.0 1972.2L4000.0 4000.0L-4000.0 4000.0L-4000.0 1941.2Z" fill="#ffff00"/>
<path d="M851.7 1941.2C852.9 1939.2 856.4 1933.1 858.9 1929.4C861.5 1925.7 864.1 1922.1 867.2 1919.0C870.3 1915.9 873.9 1913.0 877.6 1910.8C881.2 1908.5 885.2 1906.8 889.4 1905.6C893.6 1904.4 898.2 1903.8 902.7 1903.5C907.1 1903.3 911.7 1903.2 916.0 1904.0C920.3 1904.8 924.3 1906.4 928.4 1908.1C932.5 1909.8 936.7 1912.0 940.8 1914.3C944.9 1916.6 949.1 1919.4 953.2 1922.0C957.3 1924.7 961.8 1927.5 965.6 1930.3C969.4 1933.0 972.5 1935.5 975.9 1938.6C979.4 1941.6 982.8 1945.3 986.3 1948.3C989.7 1951.3 993.2 1954.0 996.6 1956.6C1000.1 1959.2 1003.5 1961.6 1007.0 1963.8C1010.4 1966.1 1013.8 1968.3 1017.3 1970.0C1020.7 1971.7 1023.8 1973.4 1027.6 1974.1C1031.4 1974.9 1035.0 1975.0 1040.0 1974.7C1045.1 1974.4 1054.8 1972.6 1057.8 1972.2" fill="none" stroke="#3a3a10" stroke-width="0.6"/>
<path d="M852.3 1943.0C853.5 1941.0 857.0 1935.0 859.5 1931.3C862.1 1927.7 864.7 1924.1 867.8 1921.0C870.9 1917.9 874.5 1915.0 878.1 1912.7C881.8 1910.5 885.7 1908.8 889.8 1907.6C893.9 1906.4 898.4 1905.8 902.7 1905.5C907.0 1905.2 911.4 1905.0 915.6 1905.8C919.8 1906.5 923.9 1908.2 928.0 1909.9C932.1 1911.6 936.3 1913.8 940.4 1916.1C944.5 1918.4 948.7 1921.0 952.8 1923.6C957.0 1926.2 961.4 1929.1 965.2 1931.9C969.0 1934.6 972.1 1937.1 975.6 1940.1C979.0 1943.1 982.4 1946.7 985.9 1949.7C989.3 1952.7 992.8 1955.4 996.2 1958.0C999.7 1960.5 1003.1 1962.9 1006.6 1965.2C1010.0 1967.4 1013.5 1969.7 1016.9 1971.4C1020.3 1973.1 1023.4 1974.7 1027.2 1975.5C1031.0 1976.3 1034.8 1976.6 1039.6 1976.3C1044.5 1976.0 1053.6 1974.4 1056.4 1974.0L4000.0 1974.0L4000.0 4000.0L-4000.0 4000.0L-4000.0 1943.0Z" fill="#ffe400"/>
<path d="M852.3 1943.0C853.5 1941.0 857.0 1935.0 859.5 1931.3C862.1 1927.7 864.7 1924.1 867.8 1921.0C870.9 1917.9 874.5 1915.0 878.1 1912.7C881.8 1910.5 885.7 1908.8 889.8 1907.6C893.9 1906.4 898.4 1905.8 902.7 1905.5C907.0 1905.2 911.4 1905.0 915.6 1905.8C919.8 1906.5 923.9 1908.2 928.0 1909.9C932.1 1911.6 936.3 1913.8 940.4 1916.1C944.5 1918.4 948.7 1921.0 952.8 1923.6C957.0 1926.2 961.4 1929.1 965.2 1931.9C969.0 1934.6 972.1 1937.1 975.6 1940.1C979.0 1943.1 982.4 1946.7 985.9 1949.7C989.3 1952.7 992.8 1955.4 996.2 1958.0C999.7 1960.5 1003.1 1962.9 1006.6 1965.2C1010.0 1967.4 1013.5 1969.7 1016.9 1971.4C1020.3 1973.1 1023.4 1974.7 1027.2 1975.5C1031.0 1976.3 1034.8 1976.6 1039.6 1976.3C1044.5 1976.0 1053.6 1974.4 1056.4 1974.0" fill="none" stroke="#3a3a10" stroke-width="0.6"/>
<path d="M853.1 1945.3C854.3 1943.4 857.7 1937.5 860.3 1933.9C862.9 1930.3 865.5 1926.7 868.6 1923.6C871.7 1920.5 875.3 1917.6 878.9 1915.3C882.5 1913.1 886.3 1911.4 890.3 1910.1C894.2 1908.9 898.6 1908.4 902.7 1908.1C906.8 1907.7 911.0 1907.4 915.1 1908.1C919.2 1908.8 923.4 1910.5 927.5 1912.2C931.6 1913.9 935.8 1916.2 939.9 1918.4C944.0 1920.7 948.2 1923.1 952.3 1925.7C956.4 1928.2 960.9 1931.2 964.7 1933.9C968.5 1936.7 971.6 1939.3 975.0 1942.2C978.5 1945.1 981.9 1948.6 985.4 1951.5C988.8 1954.4 992.3 1957.2 995.7 1959.8C999.2 1962.3 1002.6 1964.8 1006.0 1967.0C1009.5 1969.2 1012.9 1971.5 1016.4 1973.2C1019.8 1974.9 1022.9 1976.5 1026.7 1977.3C1030.5 1978.2 1034.5 1978.5 1039.1 1978.4C1043.8 1978.2 1052.0 1976.6 1054.6 1976.3L4000.0 1976.3L4000.0 4000.0L-4000.0 4000.0L-4000.0 1945.3Z" fill="#ffc600"/>
<path d="M853.1 1945.3C854.3 1943.4 857.7 1937.5 860.3 1933.9C862.9 1930.3 865.5 1926.7 868.6 1923.6C871.7 1920.5 875.3 1917.6 878.9 1915.3C882.5 1913.1 886.3 1911.4 890.3 1910.1C894.2 1908.9 898.6 1908.4 902.7 1908.1C906.8 1907.7 911.0 1907.4 915.1 1908.1C919.2 1908.8 923.4 1910.5 927.5 1912.2C931.6 1913.9 935.8 1916.2 939.9 1918.4C944.0 1920.7 948.2 1923.1 952.3 1925.7C956.4 1928.2 960.9 1931.2 964.7 1933.9C968.5 1936.7 971.6 1939.3 975.0 1942.2C978.5 1945.1 981.9 1948.6 985.4 1951.5C988.8 1954.4 992.3 1957.2 995.7 1959.8C999.2 1962.3 1002.6 1964.8 1006.0 1967.0C1009.5 1969.2 1012.9 1971.5 1016.4 1973.2C1019.8 1974.9 1022.9 1976.5 1026.7 1977.3C1030.5 1978.2 1034.5 1978.5 1039.1 1978.4C1043.8 1978.2 1052.0 1976.6 1054.6 1976.3" fill="none" stroke="#3a3a10" stroke-width="0.6"/>
<path d="M854.1 1952.5C855.3 1950.8 858.8 1945.6 861.3 1942.2C863.9 1938.7 866.5 1935.1 869.6 1931.9C872.7 1928.6 876.2 1925.1 879.9 1922.6C883.7 1920.0 888.2 1917.9 892.4 1916.3C896.5 1914.8 900.6 1913.8 904.8 1913.2C908.9 1912.7 913.4 1912.3 917.2 1912.8C920.9 1913.4 923.7 1914.7 927.5 1916.3C931.3 1918.0 935.8 1920.3 939.9 1922.6C944.0 1924.8 948.2 1927.2 952.3 1929.8C956.4 1932.4 960.9 1935.3 964.7 1938.1C968.5 1940.8 971.6 1943.4 975.0 1946.3C978.5 1949.3 981.9 1952.7 985.4 1955.6C988.8 1958.6 992.3 1961.3 995.7 1963.9C999.2 1966.5 1002.6 1968.9 1006.0 1971.1C1009.5 1973.4 1012.9 1975.7 1016.4 1977.3C1019.8 1979.0 1022.9 1980.2 1026.7 1981.1C1030.5 1981.9 1035.0 1982.4 1039.1 1982.5C1043.3 1982.6 1049.5 1982.0 1051.5 1981.9L4000.0 1981.9L4000.0 4000.0L-4000.0 4000.0L-4000.0 1952.5Z" fill="#ffa100"/>
<path d="M854.1 1952.5C855.3 1950.8 858.8 1945.6 861.3 1942.2C863.9 1938.7 866.5 1935.1 869.6 1931.9C872.7 1928.6 876.2 1925.1 879.9 1922.6C883.7 1920.0 888.2 1917.9 892.4 1916.3C896.5 1914.8 900.6 1913.8 904.8 1913.2C908.9 1912.7 913.4 1912.3 917.2 1912.8C920.9 1913.4 923.7 1914.7 927.5 1916.3C931.3 1918.0 935.8 1920.3 939.9 1922.6C944.0 1924.8 948.2 1927.2 952.3 1929.8C956.4 1932.4 960.9 1935.3 964.7 1938.1C968.5 1940.8 971.6 1943.4 975.0 1946.3C978.5 1949.3 981.9 1952.7 985.4 1955.6C988.8 1958.6 992.3 1961.3 995.7 1963.9C999.2 1966.5 1002.6 1968.9 1006.0 1971.1C1009.5 1973.4 1012.9 1975.7 1016.4 1977.3C1019.8 1979.0 1022.9 1980.2 1026.7 1981.1C1030.5 1981.9 1035.0 1982.4 1039.1 1982.5C1043.3 1982.6 1049.5 1982.0 1051.5 1981.9" fill="none" stroke="#1c1c1c" stroke-width="0.9"/>
<path d="M858.2 1967.0C859.4 1965.3 862.9 1960.1 865.5 1956.7C868.1 1953.2 871.0 1949.4 873.7 1946.3C876.5 1943.2 878.9 1940.8 882.0 1938.1C885.1 1935.3 888.9 1932.4 892.4 1929.8C895.8 1927.2 899.2 1924.6 902.7 1922.6C906.1 1920.5 909.2 1918.6 913.0 1917.4C916.8 1916.2 921.6 1915.1 925.4 1915.3C929.2 1915.5 932.3 1916.9 935.8 1918.4C939.2 1920.0 942.3 1922.4 946.1 1924.6C949.9 1926.9 954.7 1929.3 958.5 1931.9C962.3 1934.4 965.4 1937.4 968.8 1940.1C972.3 1942.9 975.7 1945.5 979.2 1948.4C982.6 1951.3 986.1 1954.8 989.5 1957.7C993.0 1960.6 996.4 1963.4 999.8 1966.0C1003.3 1968.5 1006.7 1971.0 1010.2 1973.2C1013.6 1975.4 1017.1 1977.5 1020.5 1979.4C1024.0 1981.3 1027.4 1983.4 1030.9 1984.6C1034.3 1985.8 1038.1 1986.3 1041.2 1986.6C1044.3 1987.0 1048.1 1986.6 1049.5 1986.6L4000.0 1986.6L4000.0 4000.0L-4000.0 4000.0L-4000.0 1967.0Z" fill="#ff7200"/>
<path d="M858.2 1967.0C859.4 1965.3 862.9 1960.1 865.5 1956.7C868.1 1953.2 871.0 1949.4 873.7 1946.3C876.5 1943.2 878.9 1940.8 882.0 1938.1C885.1 1935.3 888.9 1932.4 892.4 1929.8C895.8 1927.2 899.2 1924.6 902.7 1922.6C906.1 1920.5 909.2 1918.6 913.0 1917.4C916.8 1916.2 921.6 1915.1 925.4 1915.3C929.2 1915.5 932.3 1916.9 935.8 1918.4C939.2 1920.0 942.3 1922.4 946.1 1924.6C949.9 1926.9 954.7 1929.3 958.5 1931.9C962.3 1934.4 965.4 1937.4 968.8 1940.1C972.3 1942.9 975.7 1945.5 979.2 1948.4C982.6 1951.3 986.1 1954.8 989.5 1957.7C993.0 1960.6 996.4 1963.4 999.8 1966.0C1003.3 1968.5 1006.7 1971.0 1010.2 1973.2C1013.6 1975.4 1017.1 1977.5 1020.5 1979.4C1024.0 1981.3 1027.4 1983.4 1030.9 1984.6C1034.3 1985.8 1038.1 1986.3 1041.2 1986.6C1044.3 1987.0 1048.1 1986.6 1049.5 1986.6" fill="none" stroke="#1c1c1c" stroke-width="0.9"/>
<path d="M867.5 1985.6C868.9 1983.2 873.1 1975.6 875.8 1971.1C878.6 1966.7 881.5 1962.5 884.1 1958.7C886.7 1954.9 889.9 1951.5 891.3 1948.4C892.7 1945.3 890.8 1942.2 892.4 1940.1C893.9 1938.1 897.5 1937.0 900.6 1936.0C903.7 1935.0 907.2 1934.4 911.0 1933.9C914.7 1933.4 919.6 1933.4 923.4 1932.9C927.1 1932.4 930.2 1930.6 933.7 1930.8C937.1 1931.0 940.6 1932.5 944.0 1933.9C947.5 1935.3 950.9 1937.2 954.4 1939.1C957.8 1941.0 961.3 1943.0 964.7 1945.3C968.1 1947.5 971.6 1949.9 975.0 1952.5C978.5 1955.1 981.9 1958.0 985.4 1960.8C988.8 1963.5 992.3 1966.3 995.7 1969.1C999.2 1971.8 1002.6 1974.7 1006.0 1977.3C1009.5 1979.9 1012.9 1982.3 1016.4 1984.6C1019.8 1986.8 1023.3 1989.0 1026.7 1990.8C1030.2 1992.5 1034.0 1993.8 1037.1 1994.9C1040.2 1996.0 1043.9 1997.0 1045.3 1997.4L4000.0 1997.4L4000.0 4000.0L-4000.0 4000.0L-4000.0 1985.6Z" fill="#ff0000"/>
<path d="M867.5 1985.6C868.9 1983.2 873.1 1975.6 875.8 1971.1C878.6 1966.7 881.5 1962.5 884.1 1958.7C886.7 1954.9 889.9 1951.5 891.3 1948.4C892.7 1945.3 890.8 1942.2 892.4 1940.1C893.9 1938.1 897.5 1937.0 900.6 1936.0C903.7 1935.0 907.2 1934.4 911.0 1933.9C914.7 1933.4 919.6 1933.4 923.4 1932.9C927.1 1932.4 930.2 1930.6 933.7 1930.8C937.1 1931.0 940.6 1932.5 944.0 1933.9C947.5 1935.3 950.9 1937.2 954.4 1939.1C957.8 1941.0 961.3 1943.0 964.7 1945.3C968.1 1947.5 971.6 1949.9 975.0 1952.5C978.5 1955.1 981.9 1958.0 985.4 1960.8C988.8 1963.5 992.3 1966.3 995.7 1969.1C999.2 1971.8 1002.6 1974.7 1006.0 1977.3C1009.5 1979.9 1012.9 1982.3 1016.4 1984.6C1019.8 1986.8 1023.3 1989.0 1026.7 1990.8C1030.2 1992.5 1034.0 1993.8 1037.1 1994.9C1040.2 1996.0 1043.9 1997.0 1045.3 1997.4" fill="none" stroke="#1c1c1c" stroke-width="0.9"/>
<path d="M873.7 2004.2C874.8 2002.1 877.5 1995.9 879.9 1991.8C882.4 1987.7 885.1 1983.5 888.2 1979.4C891.3 1975.3 895.1 1970.8 898.6 1967.0C902.0 1963.2 905.4 1959.4 908.9 1956.7C912.3 1953.9 915.4 1951.7 919.2 1950.5C923.0 1949.3 927.5 1949.1 931.6 1949.4C935.8 1949.8 939.9 1951.3 944.0 1952.5C948.2 1953.7 952.3 1955.3 956.4 1956.7C960.6 1958.0 964.7 1959.1 968.8 1960.8C973.0 1962.5 978.5 1965.3 981.2 1967.0C984.0 1968.7 983.3 1969.4 985.4 1971.1C987.4 1972.9 990.9 1974.9 993.6 1977.3C996.4 1979.7 999.2 1982.8 1001.9 1985.6C1004.7 1988.4 1007.4 1991.5 1010.2 1993.9C1012.9 1996.3 1015.7 1998.2 1018.4 2000.1C1021.2 2002.0 1024.5 2003.9 1026.7 2005.2C1029.0 2006.5 1031.0 2007.5 1031.9 2007.9L4000.0 2007.9L4000.0 4000.0L-4000.0 4000.0L-4000.0 2004.2Z" fill="#e40000"/>
<path d="M873.7 2004.2C874.8 2002.1 877.5 1995.9 879.9 1991.8C882.4 1987.7 885.1 1983.5 888.2 1979.4C891.3 1975.3 895.1 1970.8 898.6 1967.0C902.0 1963.2 905.4 1959.4 908.9 1956.7C912.3 1953.9 915.4 1951.7 919.2 1950.5C923.0 1949.3 927.5 1949.1 931.6 1949.4C935.8 1949.8 939.9 1951.3 944.0 1952.5C948.2 1953.7 952.3 1955.3 956.4 1956.7C960.6 1958.0 964.7 1959.1 968.8 1960.8C973.0 1962.5 978.5 1965.3 981.2 1967.0C984.0 1968.7 983.3 1969.4 985.4 1971.1C987.4 1972.9 990.9 1974.9 993.6 1977.3C996.4 1979.7 999.2 1982.8 1001.9 1985.6C1004.7 1988.4 1007.4 1991.5 1010.2 1993.9C1012.9 1996.3 1015.7 1998.2 1018.4 2000.1C1021.2 2002.0 1024.5 2003.9 1026.7 2005.2C1029.0 2006.5 1031.0 2007.5 1031.9 2007.9" fill="none" stroke="#1c1c1c" stroke-width="0.9"/>
<path d="M881.0 2018.7C882.2 2016.6 885.6 2010.4 888.2 2006.3C890.8 2002.1 893.4 1998.0 896.5 1993.9C899.6 1989.7 903.4 1984.9 906.8 1981.5C910.3 1978.0 913.4 1975.1 917.2 1973.2C920.9 1971.3 925.4 1970.4 929.6 1970.1C933.7 1969.8 937.8 1970.4 942.0 1971.1C946.1 1971.8 950.2 1972.9 954.4 1974.2C958.5 1975.6 962.6 1977.5 966.8 1979.4C970.9 1981.3 975.4 1983.5 979.2 1985.6C983.0 1987.7 986.1 1989.4 989.5 1991.8C993.0 1994.2 996.4 1997.3 999.8 2000.1C1003.3 2002.8 1007.1 2005.9 1010.2 2008.3C1013.3 2010.8 1016.4 2013.1 1018.4 2014.5C1020.5 2016.0 1021.9 2016.8 1022.6 2017.2L4000.0 2017.2L4000.0 4000.0L-4000.0 4000.0L-4000.0 2018.7Z" fill="#c60000"/>
<path d="M881.0 2018.7C882.2 2016.6 885.6 2010.4 888.2 2006.3C890.8 2002.1 893.4 1998.0 896.5 1993.9C899.6 1989.7 903.4 1984.9 906.8 1981.5C910.3 1978.0 913.4 1975.1 917.2 1973.2C920.9 1971.3 925.4 1970.4 929.6 1970.1C933.7 1969.8 937.8 1970.4 942.0 1971.1C946.1 1971.8 950.2 1972.9 954.4 1974.2C958.5 1975.6 962.6 1977.5 966.8 1979.4C970.9 1981.3 975.4 1983.5 979.2 1985.6C983.0 1987.7 986.1 1989.4 989.5 1991.8C993.0 1994.2 996.4 1997.3 999.8 2000.1C1003.3 2002.8 1007.1 2005.9 1010.2 2008.3C1013.3 2010.8 1016.4 2013.1 1018.4 2014.5C1020.5 2016.0 1021.9 2016.8 1022.6 2017.2" fill="none" stroke="#1c1c1c" stroke-width="0.9"/>
<path d="M891.3 2029.4C892.2 2026.9 894.2 2019.1 896.5 2014.5C898.7 2010.0 901.7 2005.9 904.8 2002.1C907.9 1998.3 911.3 1994.4 915.1 1991.8C918.9 1989.2 923.4 1987.7 927.5 1986.6C931.6 1985.6 935.8 1985.4 939.9 1985.6C944.0 1985.8 948.2 1986.6 952.3 1987.7C956.4 1988.7 960.6 1990.1 964.7 1991.8C968.8 1993.5 973.3 1995.9 977.1 1998.0C980.9 2000.1 984.0 2001.8 987.4 2004.2C990.9 2006.6 994.7 2010.1 997.8 2012.5C1000.9 2014.9 1003.6 2016.7 1006.0 2018.7C1008.5 2020.7 1011.2 2023.5 1012.2 2024.5L4000.0 2024.5L4000.0 4000.0L-4000.0 4000.0L-4000.0 2029.4Z" fill="#aa0000"/>
<path d="M891.3 2029.4C892.2 2026.9 894.2 2019.1 896.5 2014.5C898.7 2010.0 901.7 2005.9 904.8 2002.1C907.9 1998.3 911.3 1994.4 915.1 1991.8C918.9 1989.2 923.4 1987.7 927.5 1986.6C931.6 1985.6 935.8 1985.4 939.9 1985.6C944.0 1985.8 948.2 1986.6 952.3 1987.7C956.4 1988.7 960.6 1990.1 964.7 1991.8C968.8 1993.5 973.3 1995.9 977.1 1998.0C980.9 2000.1 984.0 2001.8 987.4 2004.2C990.9 2006.6 994.7 2010.1 997.8 2012.5C1000.9 2014.9 1003.6 2016.7 1006.0 2018.7C1008.5 2020.7 1011.2 2023.5 1012.2 2024.5" fill="none" stroke="#1c1c1c" stroke-width="0.9"/>
<path d="M908.9 2029.4C909.4 2027.3 910.3 2020.5 912.0 2016.6C913.7 2012.7 916.3 2009.2 919.2 2006.3C922.2 2003.3 925.8 2000.6 929.6 1999.0C933.4 1997.5 937.8 1997.1 942.0 1997.0C946.1 1996.8 950.2 1997.1 954.4 1998.0C958.5 1998.9 962.6 2000.4 966.8 2002.1C970.9 2003.9 975.4 2006.3 979.2 2008.3C983.0 2010.4 986.4 2012.5 989.5 2014.5C992.6 2016.6 995.5 2018.7 997.8 2020.7C1000.0 2022.7 1002.1 2025.6 1002.9 2026.5L4000.0 2026.5L4000.0 4000.0L-4000.0 4000.0L-4000.0 2029.4Z" fill="#8c0000"/>
<path d="M908.9 2029.4C909.4 2027.3 910.3 2020.5 912.0 2016.6C913.7 2012.7 916.3 2009.2 919.2 2006.3C922.2 2003.3 925.8 2000.6 929.6 1999.0C933.4 1997.5 937.8 1997.1 942.0 1997.0C946.1 1996.8 950.2 1997.1 954.4 1998.0C958.5 1998.9 962.6 2000.4 966.8 2002.1C970.9 2003.9 975.4 2006.3 979.2 2008.3C983.0 2010.4 986.4 2012.5 989.5 2014.5C992.6 2016.6 995.5 2018.7 997.8 2020.7C1000.0 2022.7 1002.1 2025.6 1002.9 2026.5" fill="none" stroke="#1c1c1c" stroke-width="0.9"/>
<path d="M922.3 2029.4C923.2 2027.6 925.3 2021.8 927.5 2018.7C929.7 2015.5 932.7 2012.6 935.8 2010.4C938.9 2008.2 942.3 2006.1 946.1 2005.2C949.9 2004.4 954.4 2004.5 958.5 2005.2C962.6 2005.9 967.1 2007.8 970.9 2009.4C974.7 2010.9 978.1 2012.6 981.2 2014.5C984.3 2016.4 987.1 2018.6 989.5 2020.7C991.9 2022.9 994.7 2026.4 995.7 2027.6L4000.0 2027.6L4000.0 4000.0L-4000.0 4000.0L-4000.0 2029.4Z" fill="#680000"/>
<path d="M922.3 2029.4C923.2 2027.6 925.3 2021.8 927.5 2018.7C929.7 2015.5 932.7 2012.6 935.8 2010.4C938.9 2008.2 942.3 2006.1 946.1 2005.2C949.9 2004.4 954.4 2004.5 958.5 2005.2C962.6 2005.9 967.1 2007.8 970.9 2009.4C974.7 2010.9 978.1 2012.6 981.2 2014.5C984.3 2016.4 987.1 2018.6 989.5 2020.7C991.9 2022.9 994.7 2026.4 995.7 2027.6" fill="none" stroke="#1c1c1c" stroke-width="0.9"/>
<path d="M936.8 2029.4C937.7 2028.1 939.7 2023.9 942.0 2021.8C944.2 2019.6 947.1 2017.8 950.2 2016.6C953.3 2015.4 957.1 2014.5 960.6 2014.5C964.0 2014.5 967.5 2015.4 970.9 2016.6C974.3 2017.8 978.3 2019.9 981.2 2021.8C984.2 2023.7 987.3 2026.9 988.5 2028.0L4000.0 2028.0L4000.0 4000.0L-4000.0 4000.0L-4000.0 2029.4Z" fill="#000000"/>
<path d="M936.8 2029.4C937.7 2028.1 939.7 2023.9 942.0 2021.8C944.2 2019.6 947.1 2017.8 950.2 2016.6C953.3 2015.4 957.1 2014.5 960.6 2014.5C964.0 2014.5 967.5 2015.4 970.9 2016.6C974.3 2017.8 978.3 2019.9 981.2 2021.8C984.2 2023.7 987.3 2026.9 988.5 2028.0" fill="none" stroke="#1c1c1c" stroke-width="0.9"/>
</g>
<text x="982" y="1955" font-size="52" font-weight="bold">*</text>
<clipPath id="clip11"><path d="M1245.4 1748.9L1304.3 1748.9L1308.5 1752.0L1316.7 1756.1L1325.0 1763.4L1329.1 1771.6L1337.4 1784.0L1341.6 1796.5L1358.1 1814.0L1370.5 1823.3L1374.6 1831.6L1378.8 1846.1L1387.0 1860.5L1391.2 1870.9L1399.4 1880.2L1406.7 1881.2L1407.7 1889.5L1407.7 1910.1L1403.6 1918.4L1403.6 1930.8L1399.4 1937.0L1395.3 1949.4L1387.0 1957.7L1378.8 1970.1L1370.5 1986.6L1362.2 1992.8L1354.0 2001.1L1345.7 2010.4L1335.3 2015.6L1327.1 2022.8L1213.8 2022.8L1210.3 2019.7L1206.1 2009.4L1202.0 1999.0L1197.9 1986.6L1193.7 1974.2L1189.6 1961.8L1185.5 1955.6L1181.3 1945.3L1177.2 1932.9L1173.1 1926.7L1173.1 1875.0L1177.2 1856.4L1177.2 1802.7L1181.3 1794.4L1181.3 1782.0L1185.5 1779.9L1193.7 1770.6L1204.1 1762.3L1215.5 1757.2L1225.8 1753.7L1242.3 1752.0Z"/></clipPath>
<g clip-path="url(#clip11)">
<path d="M1245.4 1748.9L1304.3 1748.9L1308.5 1752.0L1316.7 1756.1L1325.0 1763.4L1329.1 1771.6L1337.4 1784.0L1341.6 1796.5L1358.1 1814.0L1370.5 1823.3L1374.6 1831.6L1378.8 1846.1L1387.0 1860.5L1391.2 1870.9L1399.4 1880.2L1406.7 1881.2L1407.7 1889.5L1407.7 1910.1L1403.6 1918.4L1403.6 1930.8L1399.4 1937.0L1395.3 1949.4L1387.0 1957.7L1378.8 1970.1L1370.5 1986.6L1362.2 1992.8L1354.0 2001.1L1345.7 2010.4L1335.3 2015.6L1327.1 2022.8L1213.8 2022.8L1210.3 2019.7L1206.1 2009.4L1202.0 1999.0L1197.9 1986.6L1193.7 1974.2L1189.6 1961.8L1185.5 1955.6L1181.3 1945.3L1177.2 1932.9L1173.1 1926.7L1173.1 1875.0L1177.2 1856.4L1177.2 1802.7L1181.3 1794.4L1181.3 1782.0L1185.5 1779.9L1193.7 1770.6L1204.1 1762.3L1215.5 1757.2L1225.8 1753.7L1242.3 1752.0Z" fill="#ff0000"/>
<path d="M1185.5 1779.5C1186.9 1780.8 1191.3 1784.8 1193.7 1787.1C1196.2 1789.5 1197.2 1792.5 1199.9 1793.4C1202.7 1794.2 1207.2 1792.8 1210.3 1792.3C1213.4 1791.8 1215.8 1790.3 1218.6 1790.3C1221.3 1790.3 1224.1 1791.6 1226.8 1792.3C1229.6 1793.0 1232.3 1794.7 1235.1 1794.4C1237.8 1794.0 1241.3 1791.5 1243.4 1790.3C1245.4 1789.0 1247.5 1789.0 1247.5 1787.1C1247.5 1785.3 1244.4 1781.6 1243.4 1778.9C1242.3 1776.1 1242.0 1773.4 1241.3 1770.6C1240.6 1767.9 1239.7 1765.4 1239.2 1762.3C1238.7 1759.2 1238.4 1753.7 1238.2 1752.0L-4000.0 1752.0L-4000.0 -4000.0L1185.5 -4000.0Z" fill="#e40000"/>
<path d="M1185.5 1779.5C1186.9 1780.8 1191.3 1784.8 1193.7 1787.1C1196.2 1789.5 1197.2 1792.5 1199.9 1793.4C1202.7 1794.2 1207.2 1792.8 1210.3 1792.3C1213.4 1791.8 1215.8 1790.3 1218.6 1790.3C1221.3 1790.3 1224.1 1791.6 1226.8 1792.3C1229.6 1793.0 1232.3 1794.7 1235.1 1794.4C1237.8 1794.0 1241.3 1791.5 1243.4 1790.3C1245.4 1789.0 1247.5 1789.0 1247.5 1787.1C1247.5 1785.3 1244.4 1781.6 1243.4 1778.9C1242.3 1776.1 1242.0 1773.4 1241.3 1770.6C1240.6 1767.9 1239.7 1765.4 1239.2 1762.3C1238.7 1759.2 1238.4 1753.7 1238.2 1752.0" fill="none" stroke="#1c1c1c" stroke-width="0.9"/>
<path d="M1266.5 1747.9C1267.5 1749.4 1270.0 1755.3 1272.3 1757.2C1274.6 1759.1 1277.5 1759.6 1280.6 1759.2C1283.7 1758.9 1287.5 1756.3 1290.9 1755.1C1294.3 1753.9 1298.3 1752.7 1301.2 1752.0C1304.2 1751.4 1307.3 1751.3 1308.5 1751.2L1308.5 -4000.0L1266.5 -4000.0Z" fill="#e40000"/>
<path d="M1266.5 1747.9C1267.5 1749.4 1270.0 1755.3 1272.3 1757.2C1274.6 1759.1 1277.5 1759.6 1280.6 1759.2C1283.7 1758.9 1287.5 1756.3 1290.9 1755.1C1294.3 1753.9 1298.3 1752.7 1301.2 1752.0C1304.2 1751.4 1307.3 1751.3 1308.5 1751.2" fill="none" stroke="#1c1c1c" stroke-width="0.9"/>
<path d="M1181.3 1798.5C1182.7 1799.0 1186.9 1800.1 1189.6 1801.6C1192.4 1803.2 1195.1 1806.1 1197.9 1807.8C1200.6 1809.5 1204.1 1810.6 1206.1 1812.0C1208.2 1813.3 1209.1 1814.9 1210.3 1816.1C1211.5 1817.3 1212.4 1819.0 1213.4 1819.2C1214.4 1819.4 1215.8 1816.8 1216.5 1817.1C1217.2 1817.5 1218.2 1820.1 1217.5 1821.3C1216.8 1822.5 1214.2 1823.8 1212.4 1824.4C1210.5 1824.9 1208.2 1823.7 1206.1 1824.4C1204.1 1825.0 1201.7 1826.4 1199.9 1828.5C1198.2 1830.6 1197.5 1834.4 1195.8 1836.8C1194.1 1839.2 1191.5 1840.9 1189.6 1843.0C1187.7 1845.0 1185.7 1846.8 1184.4 1849.2C1183.2 1851.6 1182.4 1854.0 1182.4 1857.4C1182.4 1860.9 1183.9 1865.7 1184.4 1869.8C1185.0 1874.0 1185.7 1878.5 1185.5 1882.2C1185.3 1886.0 1184.4 1889.5 1183.4 1892.6C1182.4 1895.7 1181.2 1898.9 1179.3 1900.8C1177.4 1902.8 1173.2 1903.8 1172.0 1904.4L-4000.0 1904.4L-4000.0 1798.5Z" fill="#ff7200"/>
<path d="M1181.3 1798.5C1182.7 1799.0 1186.9 1800.1 1189.6 1801.6C1192.4 1803.2 1195.1 1806.1 1197.9 1807.8C1200.6 1809.5 1204.1 1810.6 1206.1 1812.0C1208.2 1813.3 1209.1 1814.9 1210.3 1816.1C1211.5 1817.3 1212.4 1819.0 1213.4 1819.2C1214.4 1819.4 1215.8 1816.8 1216.5 1817.1C1217.2 1817.5 1218.2 1820.1 1217.5 1821.3C1216.8 1822.5 1214.2 1823.8 1212.4 1824.4C1210.5 1824.9 1208.2 1823.7 1206.1 1824.4C1204.1 1825.0 1201.7 1826.4 1199.9 1828.5C1198.2 1830.6 1197.5 1834.4 1195.8 1836.8C1194.1 1839.2 1191.5 1840.9 1189.6 1843.0C1187.7 1845.0 1185.7 1846.8 1184.4 1849.2C1183.2 1851.6 1182.4 1854.0 1182.4 1857.4C1182.4 1860.9 1183.9 1865.7 1184.4 1869.8C1185.0 1874.0 1185.7 1878.5 1185.5 1882.2C1185.3 1886.0 1184.4 1889.5 1183.4 1892.6C1182.4 1895.7 1181.2 1898.9 1179.3 1900.8C1177.4 1902.8 1173.2 1903.8 1172.0 1904.4" fill="none" stroke="#1c1c1c" stroke-width="0.9"/>
<path d="M1219.6 1816.1C1220.3 1814.5 1223.5 1814.0 1224.8 1813.0C1226.0 1812.0 1226.1 1809.7 1226.8 1809.9C1227.5 1810.1 1227.7 1812.8 1228.9 1814.0C1230.1 1815.2 1232.5 1817.5 1234.1 1817.1C1235.6 1816.8 1236.6 1812.3 1238.2 1812.0C1239.7 1811.6 1241.1 1814.0 1243.4 1815.1C1245.6 1816.1 1248.9 1818.0 1251.6 1818.2C1254.4 1818.3 1257.5 1817.5 1259.9 1816.1C1262.3 1814.7 1264.0 1812.0 1266.1 1809.9C1268.2 1807.8 1270.2 1804.4 1272.3 1803.7C1274.4 1803.0 1276.1 1804.9 1278.5 1805.8C1280.9 1806.6 1284.4 1807.8 1286.8 1808.9C1289.2 1809.9 1290.6 1811.3 1293.0 1812.0C1295.4 1812.6 1298.5 1812.5 1301.2 1813.0C1304.0 1813.5 1307.1 1813.7 1309.5 1815.1C1311.9 1816.4 1315.0 1819.4 1315.7 1821.3C1316.4 1823.2 1315.4 1824.9 1313.6 1826.4C1311.9 1828.0 1308.5 1829.5 1305.4 1830.6C1302.3 1831.6 1298.5 1832.5 1295.0 1832.6C1291.6 1832.8 1288.1 1831.8 1284.7 1831.6C1281.3 1831.4 1277.8 1831.2 1274.4 1831.6C1270.9 1831.9 1267.5 1832.6 1264.0 1833.7C1260.6 1834.7 1256.8 1836.4 1253.7 1837.8C1250.6 1839.2 1248.2 1841.2 1245.4 1841.9C1242.7 1842.6 1239.4 1842.6 1237.2 1841.9C1234.9 1841.2 1233.7 1839.3 1232.0 1837.8C1230.3 1836.2 1228.0 1834.5 1226.8 1832.6C1225.6 1830.7 1225.8 1828.1 1224.8 1826.4C1223.7 1824.7 1221.5 1824.0 1220.6 1822.3C1219.8 1820.6 1218.9 1817.6 1219.6 1816.1Z" fill="#ff7200" stroke="#1c1c1c" stroke-width="0.9"/>
<path d="M1176.2 1813.0C1177.0 1813.5 1179.3 1814.9 1181.3 1816.1C1183.4 1817.3 1186.8 1818.8 1188.6 1820.2C1190.4 1821.6 1191.7 1822.8 1192.1 1824.4C1192.4 1825.9 1191.9 1828.0 1190.6 1829.5C1189.4 1831.1 1186.3 1832.8 1184.4 1833.7C1182.5 1834.5 1180.7 1834.5 1179.3 1834.7C1177.9 1834.9 1176.7 1835.0 1176.2 1835.1L-4000.0 1835.1L-4000.0 1813.0Z" fill="#ffa100"/>
<path d="M1176.2 1813.0C1177.0 1813.5 1179.3 1814.9 1181.3 1816.1C1183.4 1817.3 1186.8 1818.8 1188.6 1820.2C1190.4 1821.6 1191.7 1822.8 1192.1 1824.4C1192.4 1825.9 1191.9 1828.0 1190.6 1829.5C1189.4 1831.1 1186.3 1832.8 1184.4 1833.7C1182.5 1834.5 1180.7 1834.5 1179.3 1834.7C1177.9 1834.9 1176.7 1835.0 1176.2 1835.1" fill="none" stroke="#1c1c1c" stroke-width="0.9"/>
<path d="M1361.2 1815.1C1361.9 1814.7 1363.9 1816.1 1365.3 1817.1C1366.7 1818.2 1368.6 1820.1 1369.5 1821.3C1370.3 1822.5 1371.0 1823.9 1370.5 1824.4C1370.0 1824.8 1367.9 1824.6 1366.4 1823.7C1364.8 1822.9 1362.0 1820.6 1361.2 1819.2C1360.3 1817.7 1360.5 1815.4 1361.2 1815.1Z" fill="#e40000" stroke="#1c1c1c" stroke-width="0.9"/>
<path d="M1172.0 1919.0C1173.6 1918.2 1178.4 1916.3 1181.3 1914.3C1184.3 1912.3 1187.2 1909.6 1189.6 1907.0C1192.0 1904.5 1194.1 1901.5 1195.8 1898.8C1197.5 1896.0 1198.2 1893.3 1199.9 1890.5C1201.7 1887.8 1203.7 1885.0 1206.1 1882.2C1208.6 1879.5 1211.7 1876.6 1214.4 1874.0C1217.2 1871.4 1219.6 1868.5 1222.7 1866.7C1225.8 1865.0 1229.6 1864.7 1233.0 1863.6C1236.5 1862.6 1239.9 1861.9 1243.4 1860.5C1246.8 1859.2 1250.2 1857.3 1253.7 1855.4C1257.1 1853.5 1260.6 1850.7 1264.0 1849.2C1267.5 1847.6 1270.2 1846.7 1274.4 1846.1C1278.5 1845.5 1283.7 1845.8 1288.8 1845.7C1294.0 1845.5 1300.2 1845.1 1305.4 1845.0C1310.5 1844.9 1315.0 1844.7 1319.8 1845.0C1324.7 1845.4 1329.8 1846.1 1334.3 1847.1C1338.8 1848.1 1342.6 1849.9 1346.7 1851.2C1350.9 1852.6 1355.0 1854.3 1359.1 1855.4C1363.3 1856.4 1367.2 1856.9 1371.5 1857.4C1375.8 1858.0 1382.7 1858.3 1385.0 1858.5L4000.0 1858.5L4000.0 4000.0L-4000.0 4000.0L-4000.0 1919.0Z" fill="#e40000"/>
<path d="M1172.0 1919.0C1173.6 1918.2 1178.4 1916.3 1181.3 1914.3C1184.3 1912.3 1187.2 1909.6 1189.6 1907.0C1192.0 1904.5 1194.1 1901.5 1195.8 1898.8C1197.5 1896.0 1198.2 1893.3 1199.9 1890.5C1201.7 1887.8 1203.7 1885.0 1206.1 1882.2C1208.6 1879.5 1211.7 1876.6 1214.4 1874.0C1217.2 1871.4 1219.6 1868.5 1222.7 1866.7C1225.8 1865.0 1229.6 1864.7 1233.0 1863.6C1236.5 1862.6 1239.9 1861.9 1243.4 1860.5C1246.8 1859.2 1250.2 1857.3 1253.7 1855.4C1257.1 1853.5 1260.6 1850.7 1264.0 1849.2C1267.5 1847.6 1270.2 1846.7 1274.4 1846.1C1278.5 1845.5 1283.7 1845.8 1288.8 1845.7C1294.0 1845.5 1300.2 1845.1 1305.4 1845.0C1310.5 1844.9 1315.0 1844.7 1319.8 1845.0C1324.7 1845.4 1329.8 1846.1 1334.3 1847.1C1338.8 1848.1 1342.6 1849.9 1346.7 1851.2C1350.9 1852.6 1355.0 1854.3 1359.1 1855.4C1363.3 1856.4 1367.2 1856.9 1371.5 1857.4C1375.8 1858.0 1382.7 1858.3 1385.0 1858.5" fill="none" stroke="#1c1c1c" stroke-width="0.9"/>
<path d="M1177.2 1936.0C1178.9 1934.6 1184.1 1930.8 1187.5 1927.7C1191.0 1924.6 1194.8 1920.8 1197.9 1917.4C1201.0 1913.9 1203.4 1910.5 1206.1 1907.0C1208.9 1903.6 1211.7 1900.2 1214.4 1896.7C1217.2 1893.3 1219.6 1889.3 1222.7 1886.4C1225.8 1883.4 1229.6 1880.9 1233.0 1879.1C1236.5 1877.4 1239.6 1876.9 1243.4 1876.0C1247.1 1875.2 1251.6 1874.5 1255.8 1874.0C1259.9 1873.5 1264.0 1873.6 1268.2 1872.9C1272.3 1872.2 1276.4 1871.0 1280.6 1869.8C1284.7 1868.6 1288.8 1867.3 1293.0 1865.7C1297.1 1864.2 1301.6 1861.7 1305.4 1860.5C1309.2 1859.3 1312.3 1858.6 1315.7 1858.5C1319.2 1858.3 1322.6 1858.8 1326.0 1859.5C1329.5 1860.2 1332.9 1861.2 1336.4 1862.6C1339.8 1864.0 1343.6 1865.9 1346.7 1867.8C1349.8 1869.7 1352.6 1871.6 1355.0 1874.0C1357.4 1876.4 1359.1 1880.0 1361.2 1882.2C1363.3 1884.5 1364.6 1886.0 1367.4 1887.4C1370.1 1888.8 1374.3 1889.3 1377.7 1890.5C1381.2 1891.7 1384.6 1893.6 1388.1 1894.6C1391.5 1895.7 1394.9 1896.5 1398.4 1896.7C1401.9 1896.9 1407.4 1895.8 1409.1 1895.7L4000.0 1895.7L4000.0 4000.0L-4000.0 4000.0L-4000.0 1936.0Z" fill="#c60000"/>
<path d="M1177.2 1936.0C1178.9 1934.6 1184.1 1930.8 1187.5 1927.7C1191.0 1924.6 1194.8 1920.8 1197.9 1917.4C1201.0 1913.9 1203.4 1910.5 1206.1 1907.0C1208.9 1903.6 1211.7 1900.2 1214.4 1896.7C1217.2 1893.3 1219.6 1889.3 1222.7 1886.4C1225.8 1883.4 1229.6 1880.9 1233.0 1879.1C1236.5 1877.4 1239.6 1876.9 1243.4 1876.0C1247.1 1875.2 1251.6 1874.5 1255.8 1874.0C1259.9 1873.5 1264.0 1873.6 1268.2 1872.9C1272.3 1872.2 1276.4 1871.0 1280.6 1869.8C1284.7 1868.6 1288.8 1867.3 1293.0 1865.7C1297.1 1864.2 1301.6 1861.7 1305.4 1860.5C1309.2 1859.3 1312.3 1858.6 1315.7 1858.5C1319.2 1858.3 1322.6 1858.8 1326.0 1859.5C1329.5 1860.2 1332.9 1861.2 1336.4 1862.6C1339.8 1864.0 1343.6 1865.9 1346.7 1867.8C1349.8 1869.7 1352.6 1871.6 1355.0 1874.0C1357.4 1876.4 1359.1 1880.0 1361.2 1882.2C1363.3 1884.5 1364.6 1886.0 1367.4 1887.4C1370.1 1888.8 1374.3 1889.3 1377.7 1890.5C1381.2 1891.7 1384.6 1893.6 1388.1 1894.6C1391.5 1895.7 1394.9 1896.5 1398.4 1896.7C1401.9 1896.9 1407.4 1895.8 1409.1 1895.7" fill="none" stroke="#1c1c1c" stroke-width="0.9"/>
<path d="M1183.4 1952.5C1185.1 1951.0 1190.3 1946.3 1193.7 1943.2C1197.2 1940.1 1200.6 1937.5 1204.1 1933.9C1207.5 1930.3 1211.3 1925.3 1214.4 1921.5C1217.5 1917.7 1219.9 1914.6 1222.7 1911.2C1225.4 1907.7 1228.2 1903.6 1231.0 1900.8C1233.7 1898.1 1236.1 1896.2 1239.2 1894.6C1242.3 1893.1 1245.8 1892.0 1249.6 1891.5C1253.4 1891.1 1257.8 1891.3 1262.0 1892.2C1266.1 1893.0 1270.2 1894.9 1274.4 1896.7C1278.5 1898.5 1282.6 1900.5 1286.8 1902.9C1290.9 1905.3 1295.4 1908.8 1299.2 1911.2C1303.0 1913.6 1306.4 1915.0 1309.5 1917.4C1312.6 1919.8 1315.0 1922.6 1317.8 1925.7C1320.5 1928.8 1323.3 1932.9 1326.0 1936.0C1328.8 1939.1 1331.9 1942.4 1334.3 1944.3C1336.7 1946.2 1338.1 1947.7 1340.5 1947.4C1342.9 1947.0 1345.7 1943.7 1348.8 1942.2C1351.9 1940.6 1355.7 1939.3 1359.1 1938.1C1362.6 1936.8 1366.4 1936.3 1369.5 1935.0C1372.6 1933.6 1375.3 1931.3 1377.7 1929.8C1380.1 1928.2 1381.9 1926.5 1383.9 1925.7C1386.0 1924.8 1387.7 1924.3 1390.1 1924.6C1392.5 1925.0 1395.8 1927.0 1398.4 1927.7C1401.0 1928.4 1404.4 1928.6 1405.6 1928.8L4000.0 1928.8L4000.0 4000.0L-4000.0 4000.0L-4000.0 1952.5Z" fill="#a10000"/>
<path d="M1183.4 1952.5C1185.1 1951.0 1190.3 1946.3 1193.7 1943.2C1197.2 1940.1 1200.6 1937.5 1204.1 1933.9C1207.5 1930.3 1211.3 1925.3 1214.4 1921.5C1217.5 1917.7 1219.9 1914.6 1222.7 1911.2C1225.4 1907.7 1228.2 1903.6 1231.0 1900.8C1233.7 1898.1 1236.1 1896.2 1239.2 1894.6C1242.3 1893.1 1245.8 1892.0 1249.6 1891.5C1253.4 1891.1 1257.8 1891.3 1262.0 1892.2C1266.1 1893.0 1270.2 1894.9 1274.4 1896.7C1278.5 1898.5 1282.6 1900.5 1286.8 1902.9C1290.9 1905.3 1295.4 1908.8 1299.2 1911.2C1303.0 1913.6 1306.4 1915.0 1309.5 1917.4C1312.6 1919.8 1315.0 1922.6 1317.8 1925.7C1320.5 1928.8 1323.3 1932.9 1326.0 1936.0C1328.8 1939.1 1331.9 1942.4 1334.3 1944.3C1336.7 1946.2 1338.1 1947.7 1340.5 1947.4C1342.9 1947.0 1345.7 1943.7 1348.8 1942.2C1351.9 1940.6 1355.7 1939.3 1359.1 1938.1C1362.6 1936.8 1366.4 1936.3 1369.5 1935.0C1372.6 1933.6 1375.3 1931.3 1377.7 1929.8C1380.1 1928.2 1381.9 1926.5 1383.9 1925.7C1386.0 1924.8 1387.7 1924.3 1390.1 1924.6C1392.5 1925.0 1395.8 1927.0 1398.4 1927.7C1401.0 1928.4 1404.4 1928.6 1405.6 1928.8" fill="none" stroke="#1c1c1c" stroke-width="0.9"/>
<path d="M1191.7 1973.2C1193.1 1971.5 1197.2 1966.0 1199.9 1962.9C1202.7 1959.8 1205.1 1957.0 1208.2 1954.6C1211.3 1952.2 1215.1 1950.8 1218.6 1948.4C1222.0 1946.0 1225.8 1942.9 1228.9 1940.1C1232.0 1937.4 1234.7 1934.6 1237.2 1931.9C1239.6 1929.1 1241.3 1926.0 1243.4 1923.6C1245.4 1921.2 1247.1 1918.6 1249.6 1917.4C1252.0 1916.2 1254.7 1915.8 1257.8 1916.3C1260.9 1916.9 1264.7 1918.6 1268.2 1920.5C1271.6 1922.4 1275.1 1925.1 1278.5 1927.7C1281.9 1930.3 1285.4 1933.2 1288.8 1936.0C1292.3 1938.7 1295.7 1941.5 1299.2 1944.3C1302.6 1947.0 1306.4 1949.8 1309.5 1952.5C1312.6 1955.3 1315.4 1958.0 1317.8 1960.8C1320.2 1963.5 1321.9 1966.8 1324.0 1969.1C1326.0 1971.3 1327.8 1973.2 1330.2 1974.2C1332.6 1975.3 1335.3 1975.6 1338.4 1975.3C1341.6 1974.9 1345.3 1973.2 1348.8 1972.2C1352.2 1971.1 1355.7 1970.1 1359.1 1969.1C1362.6 1968.0 1366.0 1966.8 1369.5 1966.0C1372.9 1965.1 1376.9 1964.7 1379.8 1963.9C1382.7 1963.1 1385.8 1961.8 1387.0 1961.4L4000.0 1961.4L4000.0 4000.0L-4000.0 4000.0L-4000.0 1973.2Z" fill="#720000"/>
<path d="M1191.7 1973.2C1193.1 1971.5 1197.2 1966.0 1199.9 1962.9C1202.7 1959.8 1205.1 1957.0 1208.2 1954.6C1211.3 1952.2 1215.1 1950.8 1218.6 1948.4C1222.0 1946.0 1225.8 1942.9 1228.9 1940.1C1232.0 1937.4 1234.7 1934.6 1237.2 1931.9C1239.6 1929.1 1241.3 1926.0 1243.4 1923.6C1245.4 1921.2 1247.1 1918.6 1249.6 1917.4C1252.0 1916.2 1254.7 1915.8 1257.8 1916.3C1260.9 1916.9 1264.7 1918.6 1268.2 1920.5C1271.6 1922.4 1275.1 1925.1 1278.5 1927.7C1281.9 1930.3 1285.4 1933.2 1288.8 1936.0C1292.3 1938.7 1295.7 1941.5 1299.2 1944.3C1302.6 1947.0 1306.4 1949.8 1309.5 1952.5C1312.6 1955.3 1315.4 1958.0 1317.8 1960.8C1320.2 1963.5 1321.9 1966.8 1324.0 1969.1C1326.0 1971.3 1327.8 1973.2 1330.2 1974.2C1332.6 1975.3 1335.3 1975.6 1338.4 1975.3C1341.6 1974.9 1345.3 1973.2 1348.8 1972.2C1352.2 1971.1 1355.7 1970.1 1359.1 1969.1C1362.6 1968.0 1366.0 1966.8 1369.5 1966.0C1372.9 1965.1 1376.9 1964.7 1379.8 1963.9C1382.7 1963.1 1385.8 1961.8 1387.0 1961.4" fill="none" stroke="#1c1c1c" stroke-width="0.9"/>
<path d="M1221.7 2024.3C1221.3 2021.9 1220.1 2015.1 1219.6 2010.4C1219.1 2005.7 1218.6 2000.4 1218.6 1995.9C1218.6 1991.5 1218.6 1987.3 1219.6 1983.5C1220.6 1979.7 1222.5 1976.0 1224.8 1973.2C1227.0 1970.4 1229.9 1968.7 1233.0 1967.0C1236.1 1965.3 1239.9 1963.8 1243.4 1962.9C1246.8 1961.9 1250.2 1961.2 1253.7 1961.2C1257.1 1961.2 1260.6 1961.6 1264.0 1962.9C1267.5 1964.2 1271.4 1966.7 1274.4 1969.1C1277.3 1971.5 1279.9 1974.2 1281.6 1977.3C1283.3 1980.4 1283.5 1984.6 1284.7 1987.7C1285.9 1990.8 1286.8 1993.5 1288.8 1995.9C1290.9 1998.3 1294.0 2000.6 1297.1 2002.1C1300.2 2003.7 1304.0 2004.4 1307.4 2005.2C1310.9 2006.1 1314.3 2006.4 1317.8 2007.3C1321.2 2008.2 1324.8 2009.2 1328.1 2010.4C1331.4 2011.6 1335.9 2013.9 1337.4 2014.5L4000.0 2014.5L4000.0 4000.0L-4000.0 4000.0L-4000.0 2024.3Z" fill="#000000"/>
<path d="M1221.7 2024.3C1221.3 2021.9 1220.1 2015.1 1219.6 2010.4C1219.1 2005.7 1218.6 2000.4 1218.6 1995.9C1218.6 1991.5 1218.6 1987.3 1219.6 1983.5C1220.6 1979.7 1222.5 1976.0 1224.8 1973.2C1227.0 1970.4 1229.9 1968.7 1233.0 1967.0C1236.1 1965.3 1239.9 1963.8 1243.4 1962.9C1246.8 1961.9 1250.2 1961.2 1253.7 1961.2C1257.1 1961.2 1260.6 1961.6 1264.0 1962.9C1267.5 1964.2 1271.4 1966.7 1274.4 1969.1C1277.3 1971.5 1279.9 1974.2 1281.6 1977.3C1283.3 1980.4 1283.5 1984.6 1284.7 1987.7C1285.9 1990.8 1286.8 1993.5 1288.8 1995.9C1290.9 1998.3 1294.0 2000.6 1297.1 2002.1C1300.2 2003.7 1304.0 2004.4 1307.4 2005.2C1310.9 2006.1 1314.3 2006.4 1317.8 2007.3C1321.2 2008.2 1324.8 2009.2 1328.1 2010.4C1331.4 2011.6 1335.9 2013.9 1337.4 2014.5" fill="none" stroke="#1c1c1c" stroke-width="0.9"/>
</g>
<rect x="627.1" y="1113.52" width="53.5" height="21.08" fill="#000000"/>
<rect x="627.1" y="1092.74" width="53.5" height="21.08" fill="#720000"/>
<rect x="627.1" y="1071.96" width="53.5" height="21.08" fill="#a10000"/>
<rect x="627.1" y="1051.18" width="53.5" height="21.08" fill="#c60000"/>
<rect x="627.1" y="1030.40" width="53.5" height="21.08" fill="#e40000"/>
<rect x="627.1" y="1009.62" width="53.5" height="21.08" fill="#ff0000"/>
<rect x="627.1" y="988.84" width="53.5" height="21.08" fill="#ff7200"/>
<rect x="627.1" y="968.06" width="53.5" height="21.08" fill="#ffa100"/>
<rect x="627.1" y="947.28" width="53.5" height="21.08" fill="#ffc600"/>
<rect x="627.1" y="926.50" width="53.5" height="21.08" fill="#ffe400"/>
<rect x="627.1" y="905.72" width="53.5" height="21.08" fill="#ffff00"/>
<rect x="627.1" y="884.94" width="53.5" height="21.08" fill="#ffff72"/>
<rect x="627.1" y="864.16" width="53.5" height="21.08" fill="#ffffa1"/>
<rect x="627.1" y="843.38" width="53.5" height="21.08" fill="#ffffc6"/>
<rect x="627.1" y="822.60" width="53.5" height="21.08" fill="#ffffe4"/>
<line x1="627.1" y1="1113.52" x2="680.6" y2="1113.52" stroke="#111" stroke-width="1.1"/>
<line x1="627.1" y1="1092.74" x2="680.6" y2="1092.74" stroke="#111" stroke-width="1.1"/>
<line x1="627.1" y1="1071.96" x2="680.6" y2="1071.96" stroke="#111" stroke-width="1.1"/>
<line x1="627.1" y1="1051.18" x2="680.6" y2="1051.18" stroke="#111" stroke-width="1.1"/>
<line x1="627.1" y1="1030.40" x2="680.6" y2="1030.40" stroke="#111" stroke-width="1.1"/>
<line x1="627.1" y1="1009.62" x2="680.6" y2="1009.62" stroke="#111" stroke-width="1.1"/>
<line x1="627.1" y1="988.84" x2="680.6" y2="988.84" stroke="#111" stroke-width="1.1"/>
<line x1="627.1" y1="968.06" x2="680.6" y2="968.06" stroke="#111" stroke-width="1.1"/>
<line x1="627.1" y1="947.28" x2="680.6" y2="947.28" stroke="#111" stroke-width="1.1"/>
<line x1="627.1" y1="926.50" x2="680.6" y2="926.50" stroke="#111" stroke-width="1.1"/>
<line x1="627.1" y1="905.72" x2="680.6" y2="905.72" stroke="#111" stroke-width="1.1"/>
<line x1="627.1" y1="884.94" x2="680.6" y2="884.94" stroke="#111" stroke-width="1.1"/>
<line x1="627.1" y1="864.16" x2="680.6" y2="864.16" stroke="#111" stroke-width="1.1"/>
<line x1="627.1" y1="843.38" x2="680.6" y2="843.38" stroke="#111" stroke-width="1.1"/>
<text x="0" y="0" transform="translate(682.7 1139.8) scale(1.250 1)" font-size="16.3">0</text>
<text x="0" y="0" transform="translate(682.7 1119.0) scale(1.250 1)" font-size="16.3">2</text>
<text x="0" y="0" transform="translate(682.7 1098.2) scale(1.250 1)" font-size="16.3">4</text>
<text x="0" y="0" transform="translate(682.7 1077.5) scale(1.250 1)" font-size="16.3">6</text>
<text x="0" y="0" transform="translate(682.7 1056.7) scale(1.250 1)" font-size="16.3">8</text>
<text x="0" y="0" transform="translate(682.7 1035.9) scale(1.250 1)" font-size="16.3">10</text>
<text x="0" y="0" transform="translate(682.7 1015.1) scale(1.250 1)" font-size="16.3">12</text>
<text x="0" y="0" transform="translate(682.7 994.3) scale(1.250 1)" font-size="16.3">14</text>
<text x="0" y="0" transform="translate(682.7 973.6) scale(1.250 1)" font-size="16.3">16</text>
<text x="0" y="0" transform="translate(682.7 952.8) scale(1.250 1)" font-size="16.3">18</text>
<text x="0" y="0" transform="translate(682.7 932.0) scale(1.250 1)" font-size="16.3">20</text>
<text x="0" y="0" transform="translate(682.7 911.2) scale(1.250 1)" font-size="16.3">22</text>
<text x="0" y="0" transform="translate(682.7 890.4) scale(1.250 1)" font-size="16.3">24</text>
<text x="0" y="0" transform="translate(682.7 869.7) scale(1.250 1)" font-size="16.3">26</text>
<text x="0" y="0" transform="translate(682.7 848.9) scale(1.250 1)" font-size="16.3">28</text>
<text x="0" y="0" transform="translate(682.7 828.1) scale(1.250 1)" font-size="16.3">30</text>
<rect x="625.2" y="1549.12" width="55.4" height="15.78" fill="#000000"/>
<rect x="625.2" y="1533.63" width="55.4" height="15.78" fill="#640000"/>
<rect x="625.2" y="1518.14" width="55.4" height="15.78" fill="#8d0000"/>
<rect x="625.2" y="1502.66" width="55.4" height="15.78" fill="#ad0000"/>
<rect x="625.2" y="1487.17" width="55.4" height="15.78" fill="#c70000"/>
<rect x="625.2" y="1471.69" width="55.4" height="15.78" fill="#df0000"/>
<rect x="625.2" y="1456.21" width="55.4" height="15.78" fill="#f40000"/>
<rect x="625.2" y="1440.72" width="55.4" height="15.78" fill="#ff4300"/>
<rect x="625.2" y="1425.24" width="55.4" height="15.78" fill="#ff7800"/>
<rect x="625.2" y="1409.75" width="55.4" height="15.78" fill="#ff9c00"/>
<rect x="625.2" y="1394.27" width="55.4" height="15.78" fill="#ffb900"/>
<rect x="625.2" y="1378.78" width="55.4" height="15.78" fill="#ffd200"/>
<rect x="625.2" y="1363.30" width="55.4" height="15.78" fill="#ffe900"/>
<rect x="625.2" y="1347.81" width="55.4" height="15.78" fill="#fffd00"/>
<rect x="625.2" y="1332.33" width="55.4" height="15.78" fill="#ffff5e"/>
<rect x="625.2" y="1316.84" width="55.4" height="15.78" fill="#ffff89"/>
<rect x="625.2" y="1301.36" width="55.4" height="15.78" fill="#ffffaa"/>
<rect x="625.2" y="1285.87" width="55.4" height="15.78" fill="#ffffc5"/>
<rect x="625.2" y="1270.39" width="55.4" height="15.78" fill="#ffffdc"/>
<rect x="625.2" y="1254.90" width="55.4" height="15.78" fill="#fffff2"/>
<line x1="625.2" y1="1549.12" x2="680.6" y2="1549.12" stroke="#111" stroke-width="1.1"/>
<line x1="625.2" y1="1533.63" x2="680.6" y2="1533.63" stroke="#111" stroke-width="1.1"/>
<line x1="625.2" y1="1518.14" x2="680.6" y2="1518.14" stroke="#111" stroke-width="1.1"/>
<line x1="625.2" y1="1502.66" x2="680.6" y2="1502.66" stroke="#111" stroke-width="1.1"/>
<line x1="625.2" y1="1487.17" x2="680.6" y2="1487.17" stroke="#111" stroke-width="1.1"/>
<line x1="625.2" y1="1471.69" x2="680.6" y2="1471.69" stroke="#111" stroke-width="1.1"/>
<line x1="625.2" y1="1456.20" x2="680.6" y2="1456.20" stroke="#111" stroke-width="1.1"/>
<line x1="625.2" y1="1440.72" x2="680.6" y2="1440.72" stroke="#111" stroke-width="1.1"/>
<line x1="625.2" y1="1425.23" x2="680.6" y2="1425.23" stroke="#111" stroke-width="1.1"/>
<line x1="625.2" y1="1409.75" x2="680.6" y2="1409.75" stroke="#111" stroke-width="1.1"/>
<line x1="625.2" y1="1394.27" x2="680.6" y2="1394.27" stroke="#111" stroke-width="1.1"/>
<line x1="625.2" y1="1378.78" x2="680.6" y2="1378.78" stroke="#111" stroke-width="1.1"/>
<line x1="625.2" y1="1363.30" x2="680.6" y2="1363.30" stroke="#111" stroke-width="1.1"/>
<line x1="625.2" y1="1347.81" x2="680.6" y2="1347.81" stroke="#111" stroke-width="1.1"/>
<line x1="625.2" y1="1332.33" x2="680.6" y2="1332.33" stroke="#111" stroke-width="1.1"/>
<line x1="625.2" y1="1316.84" x2="680.6" y2="1316.84" stroke="#111" stroke-width="1.1"/>
<line x1="625.2" y1="1301.36" x2="680.6" y2="1301.36" stroke="#111" stroke-width="1.1"/>
<line x1="625.2" y1="1285.87" x2="680.6" y2="1285.87" stroke="#111" stroke-width="1.1"/>
<line x1="625.2" y1="1270.39" x2="680.6" y2="1270.39" stroke="#111" stroke-width="1.1"/>
<text x="0" y="0" transform="translate(682.7 1570.1) scale(1.250 1)" font-size="16.3">50</text>
<text x="0" y="0" transform="translate(682.7 1554.6) scale(1.250 1)" font-size="16.3">52</text>
<text x="0" y="0" transform="translate(682.7 1539.1) scale(1.250 1)" font-size="16.3">54</text>
<text x="0" y="0" transform="translate(682.7 1523.6) scale(1.250 1)" font-size="16.3">56</text>
<text x="0" y="0" transform="translate(682.7 1508.2) scale(1.250 1)" font-size="16.3">58</text>
<text x="0" y="0" transform="translate(682.7 1492.7) scale(1.250 1)" font-size="16.3">60</text>
<text x="0" y="0" transform="translate(682.7 1477.2) scale(1.250 1)" font-size="16.3">62</text>
<text x="0" y="0" transform="translate(682.7 1461.7) scale(1.250 1)" font-size="16.3">64</text>
<text x="0" y="0" transform="translate(682.7 1446.2) scale(1.250 1)" font-size="16.3">66</text>
<text x="0" y="0" transform="translate(682.7 1430.7) scale(1.250 1)" font-size="16.3">68</text>
<text x="0" y="0" transform="translate(682.7 1415.2) scale(1.250 1)" font-size="16.3">70</text>
<text x="0" y="0" transform="translate(682.7 1399.8) scale(1.250 1)" font-size="16.3">72</text>
<text x="0" y="0" transform="translate(682.7 1384.3) scale(1.250 1)" font-size="16.3">74</text>
<text x="0" y="0" transform="translate(682.7 1368.8) scale(1.250 1)" font-size="16.3">76</text>
<text x="0" y="0" transform="translate(682.7 1353.3) scale(1.250 1)" font-size="16.3">78</text>
<text x="0" y="0" transform="translate(682.7 1337.8) scale(1.250 1)" font-size="16.3">80</text>
<text x="0" y="0" transform="translate(682.7 1322.3) scale(1.250 1)" font-size="16.3">82</text>
<text x="0" y="0" transform="translate(682.7 1306.9) scale(1.250 1)" font-size="16.3">84</text>
<text x="0" y="0" transform="translate(682.7 1291.4) scale(1.250 1)" font-size="16.3">86</text>
<text x="0" y="0" transform="translate(682.7 1275.9) scale(1.250 1)" font-size="16.3">88</text>
<text x="0" y="0" transform="translate(682.7 1260.4) scale(1.250 1)" font-size="16.3">90</text>
<rect x="620.0" y="1986.38" width="53.6" height="21.02" fill="#000000"/>
<rect x="620.0" y="1965.66" width="53.6" height="21.02" fill="#720000"/>
<rect x="620.0" y="1944.94" width="53.6" height="21.02" fill="#a10000"/>
<rect x="620.0" y="1924.22" width="53.6" height="21.02" fill="#c60000"/>
<rect x="620.0" y="1903.50" width="53.6" height="21.02" fill="#e40000"/>
<rect x="620.0" y="1882.78" width="53.6" height="21.02" fill="#ff0000"/>
<rect x="620.0" y="1862.06" width="53.6" height="21.02" fill="#ff7200"/>
<rect x="620.0" y="1841.34" width="53.6" height="21.02" fill="#ffa100"/>
<rect x="620.0" y="1820.62" width="53.6" height="21.02" fill="#ffc600"/>
<rect x="620.0" y="1799.90" width="53.6" height="21.02" fill="#ffe400"/>
<rect x="620.0" y="1779.18" width="53.6" height="21.02" fill="#ffff00"/>
<rect x="620.0" y="1758.46" width="53.6" height="21.02" fill="#ffff72"/>
<rect x="620.0" y="1737.74" width="53.6" height="21.02" fill="#ffffa1"/>
<rect x="620.0" y="1717.02" width="53.6" height="21.02" fill="#ffffc6"/>
<rect x="620.0" y="1696.30" width="53.6" height="21.02" fill="#ffffe4"/>
<line x1="620.0" y1="1986.38" x2="673.6" y2="1986.38" stroke="#111" stroke-width="1.1"/>
<line x1="620.0" y1="1965.66" x2="673.6" y2="1965.66" stroke="#111" stroke-width="1.1"/>
<line x1="620.0" y1="1944.94" x2="673.6" y2="1944.94" stroke="#111" stroke-width="1.1"/>
<line x1="620.0" y1="1924.22" x2="673.6" y2="1924.22" stroke="#111" stroke-width="1.1"/>
<line x1="620.0" y1="1903.50" x2="673.6" y2="1903.50" stroke="#111" stroke-width="1.1"/>
<line x1="620.0" y1="1882.78" x2="673.6" y2="1882.78" stroke="#111" stroke-width="1.1"/>
<line x1="620.0" y1="1862.06" x2="673.6" y2="1862.06" stroke="#111" stroke-width="1.1"/>
<line x1="620.0" y1="1841.34" x2="673.6" y2="1841.34" stroke="#111" stroke-width="1.1"/>
<line x1="620.0" y1="1820.62" x2="673.6" y2="1820.62" stroke="#111" stroke-width="1.1"/>
<line x1="620.0" y1="1799.90" x2="673.6" y2="1799.90" stroke="#111" stroke-width="1.1"/>
<line x1="620.0" y1="1779.18" x2="673.6" y2="1779.18" stroke="#111" stroke-width="1.1"/>
<line x1="620.0" y1="1758.46" x2="673.6" y2="1758.46" stroke="#111" stroke-width="1.1"/>
<line x1="620.0" y1="1737.74" x2="673.6" y2="1737.74" stroke="#111" stroke-width="1.1"/>
<line x1="620.0" y1="1717.02" x2="673.6" y2="1717.02" stroke="#111" stroke-width="1.1"/>
<text x="0" y="0" transform="translate(675.5 2012.6) scale(1.250 1)" font-size="16.3">0</text>
<text x="0" y="0" transform="translate(675.5 1991.9) scale(1.250 1)" font-size="16.3">2</text>
<text x="0" y="0" transform="translate(675.5 1971.2) scale(1.250 1)" font-size="16.3">4</text>
<text x="0" y="0" transform="translate(675.5 1950.4) scale(1.250 1)" font-size="16.3">6</text>
<text x="0" y="0" transform="translate(675.5 1929.7) scale(1.250 1)" font-size="16.3">8</text>
<text x="0" y="0" transform="translate(675.5 1909.0) scale(1.250 1)" font-size="16.3">10</text>
<text x="0" y="0" transform="translate(675.5 1888.3) scale(1.250 1)" font-size="16.3">12</text>
<text x="0" y="0" transform="translate(675.5 1867.6) scale(1.250 1)" font-size="16.3">14</text>
<text x="0" y="0" transform="translate(675.5 1846.8) scale(1.250 1)" font-size="16.3">16</text>
<text x="0" y="0" transform="translate(675.5 1826.1) scale(1.250 1)" font-size="16.3">18</text>
<text x="0" y="0" transform="translate(675.5 1805.4) scale(1.250 1)" font-size="16.3">20</text>
<text x="0" y="0" transform="translate(675.5 1784.7) scale(1.250 1)" font-size="16.3">22</text>
<text x="0" y="0" transform="translate(675.5 1764.0) scale(1.250 1)" font-size="16.3">24</text>
<text x="0" y="0" transform="translate(675.5 1743.2) scale(1.250 1)" font-size="16.3">26</text>
<text x="0" y="0" transform="translate(675.5 1722.5) scale(1.250 1)" font-size="16.3">28</text>
<text x="0" y="0" transform="translate(675.5 1701.8) scale(1.250 1)" font-size="16.3">30</text>
<rect x="1464.3" y="1113.55" width="53.7" height="21.05" fill="#000000"/>
<rect x="1464.3" y="1092.81" width="53.7" height="21.05" fill="#720000"/>
<rect x="1464.3" y="1072.06" width="53.7" height="21.05" fill="#a10000"/>
<rect x="1464.3" y="1051.31" width="53.7" height="21.05" fill="#c60000"/>
<rect x="1464.3" y="1030.57" width="53.7" height="21.05" fill="#e40000"/>
<rect x="1464.3" y="1009.82" width="53.7" height="21.05" fill="#ff0000"/>
<rect x="1464.3" y="989.07" width="53.7" height="21.05" fill="#ff7200"/>
<rect x="1464.3" y="968.33" width="53.7" height="21.05" fill="#ffa100"/>
<rect x="1464.3" y="947.58" width="53.7" height="21.05" fill="#ffc600"/>
<rect x="1464.3" y="926.83" width="53.7" height="21.05" fill="#ffe400"/>
<rect x="1464.3" y="906.09" width="53.7" height="21.05" fill="#ffff00"/>
<rect x="1464.3" y="885.34" width="53.7" height="21.05" fill="#ffff72"/>
<rect x="1464.3" y="864.59" width="53.7" height="21.05" fill="#ffffa1"/>
<rect x="1464.3" y="843.85" width="53.7" height="21.05" fill="#ffffc6"/>
<rect x="1464.3" y="823.10" width="53.7" height="21.05" fill="#ffffe4"/>
<line x1="1464.3" y1="1113.55" x2="1518.0" y2="1113.55" stroke="#111" stroke-width="1.1"/>
<line x1="1464.3" y1="1092.81" x2="1518.0" y2="1092.81" stroke="#111" stroke-width="1.1"/>
<line x1="1464.3" y1="1072.06" x2="1518.0" y2="1072.06" stroke="#111" stroke-width="1.1"/>
<line x1="1464.3" y1="1051.31" x2="1518.0" y2="1051.31" stroke="#111" stroke-width="1.1"/>
<line x1="1464.3" y1="1030.57" x2="1518.0" y2="1030.57" stroke="#111" stroke-width="1.1"/>
<line x1="1464.3" y1="1009.82" x2="1518.0" y2="1009.82" stroke="#111" stroke-width="1.1"/>
<line x1="1464.3" y1="989.07" x2="1518.0" y2="989.07" stroke="#111" stroke-width="1.1"/>
<line x1="1464.3" y1="968.33" x2="1518.0" y2="968.33" stroke="#111" stroke-width="1.1"/>
<line x1="1464.3" y1="947.58" x2="1518.0" y2="947.58" stroke="#111" stroke-width="1.1"/>
<line x1="1464.3" y1="926.83" x2="1518.0" y2="926.83" stroke="#111" stroke-width="1.1"/>
<line x1="1464.3" y1="906.09" x2="1518.0" y2="906.09" stroke="#111" stroke-width="1.1"/>
<line x1="1464.3" y1="885.34" x2="1518.0" y2="885.34" stroke="#111" stroke-width="1.1"/>
<line x1="1464.3" y1="864.59" x2="1518.0" y2="864.59" stroke="#111" stroke-width="1.1"/>
<line x1="1464.3" y1="843.85" x2="1518.0" y2="843.85" stroke="#111" stroke-width="1.1"/>
<text x="0" y="0" transform="translate(1520.0 1139.8) scale(1.250 1)" font-size="16.3">0</text>
<text x="0" y="0" transform="translate(1520.0 1119.1) scale(1.250 1)" font-size="16.3">2</text>
<text x="0" y="0" transform="translate(1520.0 1098.3) scale(1.250 1)" font-size="16.3">4</text>
<text x="0" y="0" transform="translate(1520.0 1077.6) scale(1.250 1)" font-size="16.3">6</text>
<text x="0" y="0" transform="translate(1520.0 1056.8) scale(1.250 1)" font-size="16.3">8</text>
<text x="0" y="0" transform="translate(1520.0 1036.1) scale(1.250 1)" font-size="16.3">10</text>
<text x="0" y="0" transform="translate(1520.0 1015.3) scale(1.250 1)" font-size="16.3">12</text>
<text x="0" y="0" transform="translate(1520.0 994.6) scale(1.250 1)" font-size="16.3">14</text>
<text x="0" y="0" transform="translate(1520.0 973.8) scale(1.250 1)" font-size="16.3">16</text>
<text x="0" y="0" transform="translate(1520.0 953.1) scale(1.250 1)" font-size="16.3">18</text>
<text x="0" y="0" transform="translate(1520.0 932.3) scale(1.250 1)" font-size="16.3">20</text>
<text x="0" y="0" transform="translate(1520.0 911.6) scale(1.250 1)" font-size="16.3">22</text>
<text x="0" y="0" transform="translate(1520.0 890.8) scale(1.250 1)" font-size="16.3">24</text>
<text x="0" y="0" transform="translate(1520.0 870.1) scale(1.250 1)" font-size="16.3">26</text>
<text x="0" y="0" transform="translate(1520.0 849.3) scale(1.250 1)" font-size="16.3">28</text>
<text x="0" y="0" transform="translate(1520.0 828.6) scale(1.250 1)" font-size="16.3">30</text>
<rect x="1456.6" y="1549.71" width="55.4" height="15.79" fill="#000000"/>
<rect x="1456.6" y="1534.22" width="55.4" height="15.79" fill="#640000"/>
<rect x="1456.6" y="1518.73" width="55.4" height="15.79" fill="#8d0000"/>
<rect x="1456.6" y="1503.24" width="55.4" height="15.79" fill="#ad0000"/>
<rect x="1456.6" y="1487.75" width="55.4" height="15.79" fill="#c70000"/>
<rect x="1456.6" y="1472.26" width="55.4" height="15.79" fill="#df0000"/>
<rect x="1456.6" y="1456.77" width="55.4" height="15.79" fill="#f40000"/>
<rect x="1456.6" y="1441.28" width="55.4" height="15.79" fill="#ff4300"/>
<rect x="1456.6" y="1425.79" width="55.4" height="15.79" fill="#ff7800"/>
<rect x="1456.6" y="1410.30" width="55.4" height="15.79" fill="#ff9c00"/>
<rect x="1456.6" y="1394.81" width="55.4" height="15.79" fill="#ffb900"/>
<rect x="1456.6" y="1379.32" width="55.4" height="15.79" fill="#ffd200"/>
<rect x="1456.6" y="1363.83" width="55.4" height="15.79" fill="#ffe900"/>
<rect x="1456.6" y="1348.34" width="55.4" height="15.79" fill="#fffd00"/>
<rect x="1456.6" y="1332.85" width="55.4" height="15.79" fill="#ffff5e"/>
<rect x="1456.6" y="1317.36" width="55.4" height="15.79" fill="#ffff89"/>
<rect x="1456.6" y="1301.87" width="55.4" height="15.79" fill="#ffffaa"/>
<rect x="1456.6" y="1286.38" width="55.4" height="15.79" fill="#ffffc5"/>
<rect x="1456.6" y="1270.89" width="55.4" height="15.79" fill="#ffffdc"/>
<rect x="1456.6" y="1255.40" width="55.4" height="15.79" fill="#fffff2"/>
<line x1="1456.6" y1="1549.71" x2="1512.0" y2="1549.71" stroke="#111" stroke-width="1.1"/>
<line x1="1456.6" y1="1534.22" x2="1512.0" y2="1534.22" stroke="#111" stroke-width="1.1"/>
<line x1="1456.6" y1="1518.73" x2="1512.0" y2="1518.73" stroke="#111" stroke-width="1.1"/>
<line x1="1456.6" y1="1503.24" x2="1512.0" y2="1503.24" stroke="#111" stroke-width="1.1"/>
<line x1="1456.6" y1="1487.75" x2="1512.0" y2="1487.75" stroke="#111" stroke-width="1.1"/>
<line x1="1456.6" y1="1472.26" x2="1512.0" y2="1472.26" stroke="#111" stroke-width="1.1"/>
<line x1="1456.6" y1="1456.77" x2="1512.0" y2="1456.77" stroke="#111" stroke-width="1.1"/>
<line x1="1456.6" y1="1441.28" x2="1512.0" y2="1441.28" stroke="#111" stroke-width="1.1"/>
<line x1="1456.6" y1="1425.79" x2="1512.0" y2="1425.79" stroke="#111" stroke-width="1.1"/>
<line x1="1456.6" y1="1410.30" x2="1512.0" y2="1410.30" stroke="#111" stroke-width="1.1"/>
<line x1="1456.6" y1="1394.81" x2="1512.0" y2="1394.81" stroke="#111" stroke-width="1.1"/>
<line x1="1456.6" y1="1379.32" x2="1512.0" y2="1379.32" stroke="#111" stroke-width="1.1"/>
<line x1="1456.6" y1="1363.83" x2="1512.0" y2="1363.83" stroke="#111" stroke-width="1.1"/>
<line x1="1456.6" y1="1348.34" x2="1512.0" y2="1348.34" stroke="#111" stroke-width="1.1"/>
<line x1="1456.6" y1="1332.85" x2="1512.0" y2="1332.85" stroke="#111" stroke-width="1.1"/>
<line x1="1456.6" y1="1317.36" x2="1512.0" y2="1317.36" stroke="#111" stroke-width="1.1"/>
<line x1="1456.6" y1="1301.87" x2="1512.0" y2="1301.87" stroke="#111" stroke-width="1.1"/>
<line x1="1456.6" y1="1286.38" x2="1512.0" y2="1286.38" stroke="#111" stroke-width="1.1"/>
<line x1="1456.6" y1="1270.89" x2="1512.0" y2="1270.89" stroke="#111" stroke-width="1.1"/>
<text x="0" y="0" transform="translate(1514.4 1570.7) scale(1.250 1)" font-size="16.3">50</text>
<text x="0" y="0" transform="translate(1514.4 1555.2) scale(1.250 1)" font-size="16.3">52</text>
<text x="0" y="0" transform="translate(1514.4 1539.7) scale(1.250 1)" font-size="16.3">54</text>
<text x="0" y="0" transform="translate(1514.4 1524.2) scale(1.250 1)" font-size="16.3">56</text>
<text x="0" y="0" transform="translate(1514.4 1508.7) scale(1.250 1)" font-size="16.3">58</text>
<text x="0" y="0" transform="translate(1514.4 1493.2) scale(1.250 1)" font-size="16.3">60</text>
<text x="0" y="0" transform="translate(1514.4 1477.8) scale(1.250 1)" font-size="16.3">62</text>
<text x="0" y="0" transform="translate(1514.4 1462.3) scale(1.250 1)" font-size="16.3">64</text>
<text x="0" y="0" transform="translate(1514.4 1446.8) scale(1.250 1)" font-size="16.3">66</text>
<text x="0" y="0" transform="translate(1514.4 1431.3) scale(1.250 1)" font-size="16.3">68</text>
<text x="0" y="0" transform="translate(1514.4 1415.8) scale(1.250 1)" font-size="16.3">70</text>
<text x="0" y="0" transform="translate(1514.4 1400.3) scale(1.250 1)" font-size="16.3">72</text>
<text x="0" y="0" transform="translate(1514.4 1384.8) scale(1.250 1)" font-size="16.3">74</text>
<text x="0" y="0" transform="translate(1514.4 1369.3) scale(1.250 1)" font-size="16.3">76</text>
<text x="0" y="0" transform="translate(1514.4 1353.8) scale(1.250 1)" font-size="16.3">78</text>
<text x="0" y="0" transform="translate(1514.4 1338.4) scale(1.250 1)" font-size="16.3">80</text>
<text x="0" y="0" transform="translate(1514.4 1322.9) scale(1.250 1)" font-size="16.3">82</text>
<text x="0" y="0" transform="translate(1514.4 1307.4) scale(1.250 1)" font-size="16.3">84</text>
<text x="0" y="0" transform="translate(1514.4 1291.9) scale(1.250 1)" font-size="16.3">86</text>
<text x="0" y="0" transform="translate(1514.4 1276.4) scale(1.250 1)" font-size="16.3">88</text>
<text x="0" y="0" transform="translate(1514.4 1260.9) scale(1.250 1)" font-size="16.3">90</text>
<rect x="1457.2" y="1987.56" width="53.6" height="21.04" fill="#000000"/>
<rect x="1457.2" y="1966.82" width="53.6" height="21.04" fill="#720000"/>
<rect x="1457.2" y="1946.08" width="53.6" height="21.04" fill="#a10000"/>
<rect x="1457.2" y="1925.34" width="53.6" height="21.04" fill="#c60000"/>
<rect x="1457.2" y="1904.60" width="53.6" height="21.04" fill="#e40000"/>
<rect x="1457.2" y="1883.86" width="53.6" height="21.04" fill="#ff0000"/>
<rect x="1457.2" y="1863.12" width="53.6" height="21.04" fill="#ff7200"/>
<rect x="1457.2" y="1842.38" width="53.6" height="21.04" fill="#ffa100"/>
<rect x="1457.2" y="1821.64" width="53.6" height="21.04" fill="#ffc600"/>
<rect x="1457.2" y="1800.90" width="53.6" height="21.04" fill="#ffe400"/>
<rect x="1457.2" y="1780.16" width="53.6" height="21.04" fill="#ffff00"/>
<rect x="1457.2" y="1759.42" width="53.6" height="21.04" fill="#ffff72"/>
<rect x="1457.2" y="1738.68" width="53.6" height="21.04" fill="#ffffa1"/>
<rect x="1457.2" y="1717.94" width="53.6" height="21.04" fill="#ffffc6"/>
<rect x="1457.2" y="1697.20" width="53.6" height="21.04" fill="#ffffe4"/>
<line x1="1457.2" y1="1987.56" x2="1510.8" y2="1987.56" stroke="#111" stroke-width="1.1"/>
<line x1="1457.2" y1="1966.82" x2="1510.8" y2="1966.82" stroke="#111" stroke-width="1.1"/>
<line x1="1457.2" y1="1946.08" x2="1510.8" y2="1946.08" stroke="#111" stroke-width="1.1"/>
<line x1="1457.2" y1="1925.34" x2="1510.8" y2="1925.34" stroke="#111" stroke-width="1.1"/>
<line x1="1457.2" y1="1904.60" x2="1510.8" y2="1904.60" stroke="#111" stroke-width="1.1"/>
<line x1="1457.2" y1="1883.86" x2="1510.8" y2="1883.86" stroke="#111" stroke-width="1.1"/>
<line x1="1457.2" y1="1863.12" x2="1510.8" y2="1863.12" stroke="#111" stroke-width="1.1"/>
<line x1="1457.2" y1="1842.38" x2="1510.8" y2="1842.38" stroke="#111" stroke-width="1.1"/>
<line x1="1457.2" y1="1821.64" x2="1510.8" y2="1821.64" stroke="#111" stroke-width="1.1"/>
<line x1="1457.2" y1="1800.90" x2="1510.8" y2="1800.90" stroke="#111" stroke-width="1.1"/>
<line x1="1457.2" y1="1780.16" x2="1510.8" y2="1780.16" stroke="#111" stroke-width="1.1"/>
<line x1="1457.2" y1="1759.42" x2="1510.8" y2="1759.42" stroke="#111" stroke-width="1.1"/>
<line x1="1457.2" y1="1738.68" x2="1510.8" y2="1738.68" stroke="#111" stroke-width="1.1"/>
<line x1="1457.2" y1="1717.94" x2="1510.8" y2="1717.94" stroke="#111" stroke-width="1.1"/>
<text x="0" y="0" transform="translate(1512.7 2013.8) scale(1.250 1)" font-size="16.3">0</text>
<text x="0" y="0" transform="translate(1512.7 1993.1) scale(1.250 1)" font-size="16.3">2</text>
<text x="0" y="0" transform="translate(1512.7 1972.3) scale(1.250 1)" font-size="16.3">4</text>
<text x="0" y="0" transform="translate(1512.7 1951.6) scale(1.250 1)" font-size="16.3">6</text>
<text x="0" y="0" transform="translate(1512.7 1930.8) scale(1.250 1)" font-size="16.3">8</text>
<text x="0" y="0" transform="translate(1512.7 1910.1) scale(1.250 1)" font-size="16.3">10</text>
<text x="0" y="0" transform="translate(1512.7 1889.4) scale(1.250 1)" font-size="16.3">12</text>
<text x="0" y="0" transform="translate(1512.7 1868.6) scale(1.250 1)" font-size="16.3">14</text>
<text x="0" y="0" transform="translate(1512.7 1847.9) scale(1.250 1)" font-size="16.3">16</text>
<text x="0" y="0" transform="translate(1512.7 1827.1) scale(1.250 1)" font-size="16.3">18</text>
<text x="0" y="0" transform="translate(1512.7 1806.4) scale(1.250 1)" font-size="16.3">20</text>
<text x="0" y="0" transform="translate(1512.7 1785.7) scale(1.250 1)" font-size="16.3">22</text>
<text x="0" y="0" transform="translate(1512.7 1764.9) scale(1.250 1)" font-size="16.3">24</text>
<text x="0" y="0" transform="translate(1512.7 1744.2) scale(1.250 1)" font-size="16.3">26</text>
<text x="0" y="0" transform="translate(1512.7 1723.4) scale(1.250 1)" font-size="16.3">28</text>
<text x="0" y="0" transform="translate(1512.7 1702.7) scale(1.250 1)" font-size="16.3">30</text>
<path d="M185.5 169.5L189.4 183.0L192.3 200.5L196.2 216.0L199.1 237.3L202.9 258.6L205.9 279.9L207.8 291.6L212.6 297.8L215.5 291.6L217.5 274.1L219.4 250.9L220.8 216.0L221.9 186.9L222.7 157.8L223.9 128.8L225.2 111.3L228.1 116.2L232.0 120.0L234.0 127.8L236.9 124.9L239.8 127.8L242.7 136.5L246.6 144.3L250.4 155.9L255.3 167.5L258.2 181.1L261.1 192.7L265.0 210.2L267.9 223.7L270.8 240.2L273.7 237.3L276.2 225.7L278.1 206.3L279.5 186.9L280.5 163.6L282.0 139.4L284.3 136.5L286.3 145.2L289.2 150.1L292.1 157.8L295.0 169.5L297.9 181.1L300.8 194.7L303.7 210.2L306.6 225.7L309.5 245.0L312.4 262.5L315.3 278.0L318.3 289.6L322.1 299.3L325.0 295.4L327.9 279.9L329.9 260.5L331.8 233.4L333.2 202.4L334.3 167.5L335.3 134.6L336.7 115.2L338.6 112.3L341.5 115.2L344.4 121.0L348.3 127.8L352.2 134.6L356.0 141.4L359.9 148.1L363.8 157.8L367.7 171.4L371.6 186.9L374.5 202.4L377.4 219.8L380.3 237.3L382.2 247.0L384.5 250.9L387.1 245.0L389.4 229.5L391.3 206.3L392.9 181.1L393.8 155.9L394.8 140.4L395.8 137.5L398.7 146.2L401.6 154.0L404.5 161.7L407.4 171.4L411.3 179.1L414.2 192.7L417.1 208.2L420.0 225.7L422.9 243.1L425.8 258.6L428.7 274.1L431.6 289.6L434.5 291.6L437.4 287.7L439.8 274.1L441.9 250.9L443.6 221.8L445.2 186.9L446.6 152.0L447.7 124.9L449.1 113.3L452.0 116.2L454.9 123.9L459.7 126.8L464.5 138.4L469.4 148.1L474.2 155.9L478.1 169.5L482.0 183.0L484.9 198.5L487.8 214.0L490.7 229.5L493.6 247.0L496.5 255.7L499.4 248.9L501.4 231.5L502.7 206.3L504.3 175.3L505.2 148.1L506.6 133.6L509.1 136.5L512.0 144.3L514.9 150.1L517.8 161.7L520.7 171.4L523.3 188.8L526.0 196.6L528.5 206.3L531.0 219.8L533.3 233.4L535.7 248.9L538.2 262.5L541.1 276.0L544.0 284.8L546.9 288.6L549.8 285.7L551.7 274.1L553.7 254.7L555.2 225.7L556.6 190.8L557.8 154.0L558.9 124.9L560.1 114.2L562.4 113.3L566.3 117.1L570.2 123.9L574.0 131.7L576.9 138.4L579.5 146.2L582.8 150.1L585.7 155.9L588.0 165.6L591.5 177.2L594.4 192.7L597.3 208.2L600.2 225.7L603.1 243.1L605.6 258.6L607.9 265.4L610.5 260.5L612.4 245.0L613.8 221.8L614.7 194.7L615.7 163.6L617.1 138.4L619.0 134.6L622.1 140.4L624.4 148.1L627.9 154.0L630.2 163.6L633.1 173.3L636.4 183.0L639.0 196.6L641.9 210.2L644.8 225.7L647.7 241.2L650.6 256.7L653.5 270.2L656.4 283.8L658.9 292.5L661.2 287.7L663.6 274.1L665.5 254.7L667.1 225.7L668.0 194.7L669.0 163.6L670.0 138.4L671.5 119.1L673.8 118.1L676.7 122.9L680.6 129.7L684.5 134.6L687.4 140.4L690.3 145.2L693.2 152.0L696.5 156.9L699.0 167.5L701.9 177.2L704.8 188.8L707.4 204.3L709.7 217.9L712.6 233.4L715.1 248.9L717.4 260.5L719.8 266.4L722.3 262.5L724.2 245.0L725.6 221.8L727.1 190.8L728.1 163.6L729.1 142.3L730.4 131.7L733.9 134.6L736.8 143.3L740.7 150.1L743.6 159.8L747.1 173.3L750.3 183.0L753.3 196.6L756.2 208.2L759.1 217.9L762.0 225.7L764.9 219.8L766.8 208.2L768.8 194.7L770.7 185.0L774.2 180.7L777.5 185.9L780.8 186.9L784.3 187.9L786.6 182.1L789.1 183.0L791.6 190.8L794.0 200.5L796.9 212.1L799.8 225.7L802.7 243.1L805.2 260.5L807.5 276.0L810.4 287.7L812.4 291.6L814.9 289.6L816.8 278.0L818.8 256.7L820.1 225.7L821.5 190.8L822.6 155.9L824.0 126.8L825.3 121.0L827.9 125.9L830.8 127.8L833.7 131.7L836.6 139.4L840.1 147.2L843.4 152.0L845.9 157.8L848.2 165.6L851.1 175.3L854.0 183.0L856.9 190.8L858.9 200.5L861.8 210.2L864.7 215.0L867.2 219.8L869.5 231.5L872.4 239.2L875.3 237.3L877.3 223.7L878.8 204.3L880.2 179.1L882.1 157.8L884.1 146.2L887.4 148.1L889.9 155.9L892.8 163.6L895.7 175.3L898.6 186.9L900.9 196.6L903.4 208.2L906.0 221.8L908.7 231.5L911.2 243.1L913.7 247.0L916.4 241.2L918.4 225.7L919.9 206.3L921.5 186.9L922.8 171.4L924.8 160.7L927.7 160.7L930.6 161.7L933.5 159.4L936.4 162.7L939.3 169.5L942.2 175.3L945.1 185.0L948.0 196.6L950.5 210.2L952.9 223.7L955.2 241.2L957.7 254.7L960.2 268.3L962.6 277.0L964.5 279.9L967.4 274.1L969.9 264.4L971.3 245.0L972.2 214.0L973.2 183.0L974.2 154.0L975.2 131.7L977.1 129.7L980.0 133.6L982.9 140.4L986.2 145.2L988.7 152.0L991.6 159.8L994.5 169.5L997.4 179.1L1000.3 188.8L1002.9 200.5L1005.2 210.2L1008.1 219.8L1010.6 233.4L1013.9 239.2L1016.8 233.4L1018.8 217.9L1020.1 206.3L1021.6 188.8L1023.2 175.3L1025.1 172.4L1027.4 175.3L1029.4 165.6L1030.9 152.0L1032.3 144.3L1034.8 142.3L1037.1 150.1L1040.0 161.7L1042.9 171.4L1045.9 183.0L1048.4 194.7L1051.1 206.3L1053.6 219.8L1056.1 233.4L1058.4 247.0L1060.8 258.6L1063.3 270.2L1066.2 279.0L1069.1 283.8L1071.0 282.8L1072.4 272.2L1073.6 248.9L1074.5 221.8L1075.5 186.9L1076.3 154.0L1077.2 128.8L1078.2 123.9L1080.7 128.8L1083.3 132.6L1085.6 135.5L1087.5 142.3L1090.4 150.1L1092.9 157.8L1096.2 165.6L1099.1 175.3L1102.1 185.0L1105.0 196.6L1107.9 208.2L1110.4 219.8L1112.7 229.5L1116.2 233.4L1118.5 227.6L1120.1 216.0L1121.4 202.4L1122.8 192.7L1124.3 190.8L1126.3 198.5L1128.6 202.4L1130.2 194.7L1131.7 173.3L1133.1 154.0L1134.4 149.1L1136.9 153.0L1139.8 159.8L1142.8 167.5L1145.7 175.3L1148.6 185.0L1150.5 194.7L1153.0 206.3L1155.3 217.9L1157.7 229.5L1160.2 243.1L1162.7 258.6L1165.0 274.1L1167.4 284.8L1169.9 281.9L1171.8 268.3L1173.2 250.9L1174.3 221.8L1175.1 190.8L1175.9 159.8L1176.7 132.6L1177.6 119.1L1179.2 118.1L1180.5 124.9L1183.4 134.6L1186.4 140.4L1189.3 146.2L1192.2 154.0L1195.1 163.6L1197.6 173.3L1199.9 185.0L1202.8 194.7L1205.3 204.3L1207.7 214.0L1210.6 223.7L1213.5 235.3L1216.4 243.1L1217.8 245.0L1220.3 239.2L1222.2 229.5L1224.1 212.1L1225.5 192.7L1227.1 169.5L1228.0 154.0L1229.4 140.4L1231.9 137.5L1234.4 141.4L1236.7 147.2L1239.7 154.0L1242.6 163.6L1245.5 169.5L1248.4 177.2L1250.7 188.8L1253.2 202.4L1255.7 214.0L1258.1 227.6L1260.4 243.1L1262.9 260.5L1265.4 274.1L1267.8 287.7L1270.1 295.4L1272.6 295.4L1275.1 283.8L1277.1 260.5L1278.4 229.5L1279.8 198.5L1280.9 167.5L1281.9 140.4L1283.3 125.9L1285.2 123.9L1288.1 131.7L1291.0 136.5L1293.9 142.3L1296.8 148.1L1299.7 154.0L1302.6 159.8L1304.2 160.7" fill="none" stroke="#000" stroke-width="3.3" stroke-linejoin="round" stroke-linecap="butt"/>
<path d="M185.1 405.0L188.4 424.3L191.3 445.7L194.2 468.9L197.1 490.2L200.0 509.6L202.9 516.4L206.4 519.7L209.7 515.4L211.7 505.7L213.0 484.4L214.2 457.3L215.2 426.3L215.9 393.3L216.9 358.4L218.1 333.3L219.4 326.5L222.3 330.3L226.2 333.3L230.1 340.0L233.6 342.0L236.9 346.8L239.8 351.7L242.7 360.4L246.6 369.1L249.5 377.8L252.4 387.5L255.3 401.1L257.6 414.7L260.1 428.2L262.6 441.8L265.0 455.3L266.9 467.0L269.2 468.9L270.8 457.3L271.7 436.0L272.7 410.8L273.7 383.6L274.7 358.4L276.2 348.8L279.5 351.7L282.4 358.4L285.3 368.1L288.6 374.0L291.1 385.6L293.6 399.1L296.0 412.7L298.3 426.3L300.8 443.7L303.3 463.1L305.7 482.5L308.6 499.9L311.5 513.5L314.4 518.3L318.3 519.9L321.2 517.4L323.5 503.8L325.0 480.5L326.2 449.5L327.2 414.7L328.1 379.8L329.3 344.9L330.5 327.4L331.8 323.6L334.7 328.4L338.6 332.3L341.5 336.2L344.4 338.1L347.3 344.9L350.2 351.7L353.1 356.5L356.0 362.3L359.5 366.2L361.9 374.0L364.8 386.6L367.3 397.2L369.6 408.8L371.9 420.5L374.5 436.0L377.0 449.5L379.3 463.1L381.2 467.9L383.2 461.2L384.7 434.0L385.7 406.9L386.7 381.7L387.6 358.4L389.0 349.7L391.9 354.6L394.8 361.4L397.1 366.2L399.7 374.9L402.6 385.6L405.5 395.3L408.0 408.8L410.3 424.3L412.8 437.9L415.2 455.3L417.7 472.8L420.0 488.3L422.9 505.7L425.8 517.4L428.1 521.2L431.2 518.3L434.0 511.6L435.9 496.0L437.4 468.9L438.6 437.9L439.6 403.0L440.7 368.1L441.9 339.1L443.3 325.5L446.2 329.4L449.1 334.2L452.0 337.1L454.9 341.0L457.8 342.0L461.6 348.8L465.1 353.6L468.4 364.3L471.7 372.0L474.8 381.7L477.5 393.3L480.6 406.9L482.9 422.4L485.3 437.9L487.8 451.5L490.7 465.0L493.0 472.8L495.0 468.9L496.5 445.7L497.5 418.5L498.4 387.5L499.4 362.3L500.8 351.7L503.9 353.6L506.6 358.4L509.1 368.1L512.0 377.8L514.9 389.5L517.8 403.0L520.2 416.6L522.7 432.1L525.2 447.6L527.5 465.0L529.8 480.5L532.4 494.1L534.9 505.7L537.2 513.5L539.5 518.9L542.6 520.3L545.0 517.4L546.9 505.7L548.3 484.4L549.2 457.3L550.2 422.4L551.2 387.5L552.1 352.6L553.3 329.4L554.7 326.5L557.6 330.3L560.5 335.2L564.0 340.0L567.2 342.9L570.5 347.8L574.0 352.6L576.9 358.4L579.5 366.2L582.2 374.0L584.7 381.7L587.6 389.5L589.9 401.1L592.4 414.7L595.0 428.2L597.3 441.8L599.6 455.3L602.1 468.9L604.1 477.6L605.6 478.6L607.0 465.0L607.9 441.8L608.9 414.7L609.9 387.5L610.9 362.3L612.2 349.7L614.7 353.6L617.6 360.4L620.5 368.1L623.4 375.9L626.4 385.6L629.3 397.2L631.8 412.7L634.1 426.3L636.4 439.8L639.0 457.3L641.5 472.8L643.8 488.3L646.1 501.9L648.6 511.6L651.6 518.3L653.5 522.8L655.8 522.2L658.3 511.6L659.9 492.2L661.2 465.0L662.2 434.0L663.2 399.1L664.1 366.2L665.1 339.1L666.7 329.4L670.0 333.3L672.9 339.1L675.8 343.9L678.7 345.9L681.6 350.7L684.5 353.6L687.4 360.4L690.7 366.2L693.8 374.0L697.1 383.6L700.0 391.4L702.3 403.0L704.8 416.6L707.4 430.2L709.7 443.7L712.0 459.2L714.0 474.7L715.9 487.3L717.4 488.3L719.0 476.7L720.3 453.4L721.3 426.3L722.3 397.2L723.3 368.1L724.4 352.6L727.1 355.5L730.0 359.4L732.6 368.1L734.9 375.9L737.8 381.7L742.6 406.9L745.5 422.4L748.4 437.9L750.9 453.4L753.3 467.0L755.6 480.5L758.1 484.4L760.6 480.5L762.0 465.0L762.9 445.7L763.9 422.4L764.9 395.3L765.9 368.1L766.8 351.7L769.7 353.6L772.6 359.4L776.1 363.3L779.4 369.1L781.9 377.8L785.2 387.5L788.1 401.1L791.0 414.7L793.6 428.2L795.9 441.8L798.8 455.3L800.7 467.0L802.7 478.6L805.2 492.2L807.5 503.8L809.8 513.5L812.4 511.6L813.7 492.2L814.7 465.0L815.7 430.2L816.6 391.4L817.6 356.5L818.4 339.1L820.1 340.0L823.0 345.9L825.9 350.7L828.4 356.5L830.8 362.3L833.7 366.2L836.2 374.0L838.9 381.7L841.4 393.3L844.0 403.0L846.3 414.7L848.6 426.3L851.1 437.9L853.6 453.4L856.0 463.1L858.3 467.4L860.8 465.0L862.4 451.5L863.7 430.2L865.1 406.9L866.2 387.5L867.6 380.7L870.5 378.8L873.4 374.9L876.9 376.9L879.2 381.7L882.1 387.5L884.7 395.3L887.4 405.0L889.9 416.6L892.4 432.1L894.7 445.7L897.1 463.1L899.6 476.7L902.1 484.4L904.4 496.0L906.7 505.7L909.3 514.5L910.2 517.4L912.6 515.4L914.1 499.9L915.3 476.7L916.4 445.7L917.4 410.8L918.4 375.9L919.5 348.8L920.5 339.1L922.8 341.0L924.8 344.9L926.7 351.7L929.6 355.5L932.5 362.3L935.4 368.1L937.8 377.8L940.3 383.6L943.2 391.4L945.5 401.1L948.0 410.8L950.5 420.5L952.9 432.1L954.8 439.8L957.1 447.6L959.1 452.4L961.0 454.4L962.6 449.5L964.1 437.9L965.5 424.3L967.4 412.7L969.3 410.8L971.3 408.8L973.2 397.2L974.6 387.5L976.1 386.6L978.4 391.4L981.0 399.1L983.5 406.9L985.8 418.5L988.7 432.1L991.2 447.6L993.6 461.2L995.9 474.7L998.4 488.3L1000.9 499.9L1003.3 507.7L1005.2 512.5L1008.1 516.4L1010.6 520.3L1012.6 519.3L1014.3 503.8L1015.5 476.7L1016.6 441.8L1017.6 406.9L1018.6 372.0L1019.5 344.9L1021.1 336.6L1023.9 339.8L1027.1 344.1L1030.3 349.4L1033.4 355.8L1036.6 361.2L1039.8 369.7L1043.0 380.3L1046.2 388.9L1049.4 399.5L1052.2 410.2L1054.8 420.9L1057.3 430.4L1060.1 435.8L1062.9 432.6L1065.0 431.5L1067.1 436.8L1069.3 444.3L1071.8 450.7L1073.5 442.2L1074.8 423.0L1076.1 401.7L1077.4 382.5L1078.6 378.2L1081.4 382.5L1084.6 391.0L1087.2 401.7L1089.9 412.3L1092.7 425.1L1095.3 440.0L1097.8 455.0L1100.0 469.9L1102.1 484.8L1104.2 499.7L1107.0 512.5L1110.2 521.0L1113.4 516.8L1114.9 501.9L1116.2 476.3L1117.2 444.3L1118.1 410.2L1118.9 378.2L1120.0 348.4L1121.3 337.7L1124.1 340.9L1127.2 346.2L1130.4 352.6L1133.6 358.0L1136.8 363.3L1140.0 371.8L1143.2 380.3L1146.4 386.7L1149.0 397.4L1151.8 410.2L1154.5 420.9L1157.1 431.5L1159.9 439.0L1162.4 443.2L1165.6 450.7L1168.2 461.4L1170.9 468.8L1172.4 455.0L1173.7 429.4L1174.8 401.7L1175.9 376.1L1176.9 364.4L1179.5 366.5L1182.2 371.8L1184.8 384.6L1187.4 393.1L1190.1 403.8L1192.9 416.6L1195.5 431.5L1198.0 448.6L1200.8 465.6L1203.6 482.7L1206.1 497.6L1208.7 508.3L1211.5 517.8L1214.2 514.7L1215.7 497.6L1216.8 472.0L1217.8 437.9L1218.9 403.8L1220.0 369.7L1221.0 348.4L1222.5 342.0L1225.3 348.4L1228.5 350.5L1231.7 356.9L1234.9 363.3L1238.1 371.8L1241.3 380.3L1244.5 389.9L1247.7 395.3L1250.5 405.9L1253.0 414.5L1255.6 425.1L1258.4 437.9L1261.1 452.8L1263.7 465.6L1265.8 478.4L1267.9 486.5L1270.1 482.7L1271.8 465.6L1273.1 437.9L1274.3 405.9L1275.6 378.2L1276.9 365.4L1278.6 362.2L1282.4 364.4L1285.0 371.8L1288.2 382.5L1291.4 393.1L1294.0 401.7L1296.1 412.3L1298.9 418.7L1302.1 417.7L1303.8 416.6L1304.2 429.4L1304.6 450.7L1307.4 455.0L1310.6 461.4L1314.8 469.9L1319.1 480.5L1323.4 491.2L1327.2 501.9" fill="none" stroke="#000" stroke-width="3.3" stroke-linejoin="round" stroke-linecap="butt"/>
<rect x="859" y="60.5" width="412" height="11" fill="#000"/>
<path d="M1268.5 55 L1297.5 66 L1268.5 77 Z" fill="#000"/>
<rect x="205" y="539.2" width="71.5" height="6" fill="#000"/>
<rect x="754.8" y="518" width="5.4" height="29.5" fill="#000"/>
<path d="M757.5 493 L769 521 L746 521 Z" fill="#000"/>
<text transform="translate(144.8 277.8) rotate(-90)" font-size="53.7" font-weight="bold">Base</text>
<text transform="translate(144.3 490.3) rotate(-90)" font-size="54" font-weight="bold">Apex</text>
<text x="909.5" y="44.0" font-size="54.2" font-weight="bold" >Discordance</text>
<text x="81.0" y="677.0" font-size="54.2" font-weight="bold" >Concordant alternans</text>
<text x="823.0" y="678.0" font-size="54.2" font-weight="bold" >Discordant alternans</text>
<text x="9.5" y="1192.5" font-size="40.5" >Action potential duration (ms)</text>
<text x="833.5" y="1194.0" font-size="40.5" >Action potential duration (ms)</text>
<text x="19.0" y="1644.0" font-size="40.9" >Time of repolarisation (ms)</text>
<text x="853.3" y="1643.5" font-size="40.8" >Time of repolarisation (ms)</text>
<text x="63.3" y="1255.0" font-size="36.2" >Beat 1</text>
<text x="378.3" y="1262.5" font-size="36.2" >Beat 2</text>
<text x="887.3" y="1256.0" font-size="36.2" >Beat 1</text>
<text x="1202.3" y="1263.5" font-size="36.2" >Beat 2</text>
<text x="63.3" y="1712.5" font-size="36.2" >Beat 1</text>
<text x="380.3" y="1721.0" font-size="36.2" >Beat 2</text>
<text x="898.3" y="1711.5" font-size="36.2" >Beat 1</text>
<text x="1214.8" y="1720.0" font-size="36.2" >Beat 2</text>
<text x="28.0" y="748.5" font-size="40.9" >Time of activation (ms)</text>
<text x="785.7" y="750.5" font-size="40.9" >Time of activation (ms)</text>
<text x="69.3" y="811.0" font-size="36.2" >Beat 1</text>
<text x="374.3" y="819.0" font-size="36.2" >Beat 2</text>
<text x="875.3" y="827.0" font-size="36.2" >Beat 1</text>
<text x="1213.3" y="827.0" font-size="36.2" >Beat 2</text>
<text x="190.3" y="587.0" font-size="30.8" >100 ms</text>
<text x="661.5" y="587.0" font-size="32.0" >Change in CL</text>
</svg></body></html>
